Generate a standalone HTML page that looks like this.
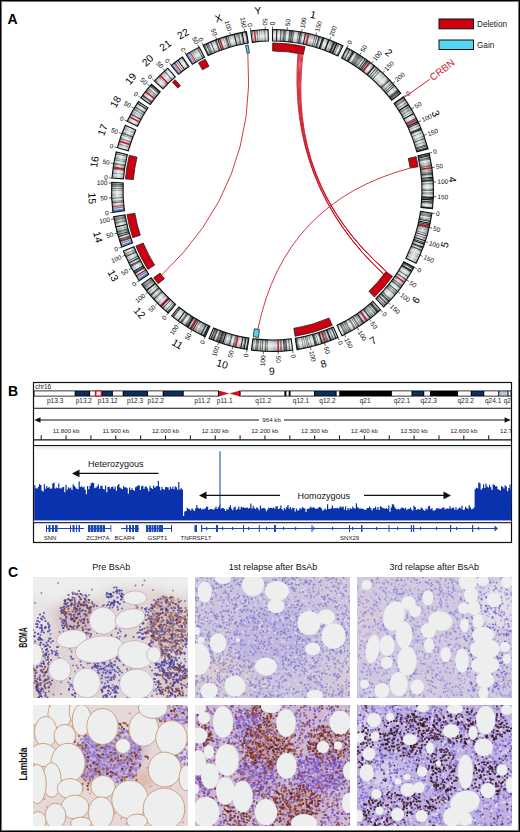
<!DOCTYPE html>
<html><head><meta charset="utf-8">
<style>
*{margin:0;padding:0;box-sizing:border-box}
html,body{width:520px;height:832px;overflow:hidden;background:#fff}
body{position:relative;font-family:"Liberation Sans",sans-serif;color:#111}
.frame{position:absolute;left:0;top:0;width:520px;height:832px;border:1px solid #000;box-shadow:inset 0 0 0 1px #777;z-index:10;pointer-events:none}
.lbl{position:absolute;font-weight:bold;font-size:14px;line-height:1;color:#000}
svg{position:absolute;left:0;top:0}
.ihc{position:absolute;width:155px;height:121px;overflow:hidden}
.hdr{position:absolute;font-size:8px;line-height:1;color:#111;white-space:nowrap}
</style></head><body>
<div class="frame"></div>
<div class="lbl" style="left:7.6px;top:11.5px">A</div>
<div class="lbl" style="left:8px;top:383.8px">B</div>
<div class="lbl" style="left:8px;top:565.3px">C</div>

<svg width="520" height="380" viewBox="0 0 520 380" font-family="Liberation Sans, sans-serif">
<defs><radialGradient id="ig" gradientUnits="userSpaceOnUse" cx="272.5" cy="190.5" r="161"><stop offset="0.928" stop-color="#7d8686"/><stop offset="0.945" stop-color="#b9c2c2"/><stop offset="0.962" stop-color="#e2e8e8"/><stop offset="0.985" stop-color="#aeb6b6"/><stop offset="1" stop-color="#7a8282"/></radialGradient></defs>
<path d="M272.50,29.50A161.0,161.0 0 0 1 342.95,45.73L337.91,56.07A149.5,149.5 0 0 0 272.50,41.00Z" fill="url(#ig)"/>
<g fill="#0a0c0c"><path d="M276.24,29.54A161.0,161.0 0 0 1 277.27,29.57L276.93,41.07A149.5,149.5 0 0 0 275.97,41.04Z" fill-opacity="0.97"/><path d="M280.30,29.69A161.0,161.0 0 0 1 280.95,29.72L280.35,41.21A149.5,149.5 0 0 0 279.74,41.18Z" fill-opacity="0.64"/><path d="M280.95,29.72A161.0,161.0 0 0 1 281.92,29.78L281.25,41.26A149.5,149.5 0 0 0 280.35,41.21Z" fill-opacity="0.37"/><path d="M282.85,29.83A161.0,161.0 0 0 1 283.39,29.87L282.61,41.34A149.5,149.5 0 0 0 282.11,41.31Z" fill-opacity="0.39"/><path d="M283.39,29.87A161.0,161.0 0 0 1 284.04,29.91L283.22,41.38A149.5,149.5 0 0 0 282.61,41.34Z" fill-opacity="0.39"/><path d="M284.04,29.91A161.0,161.0 0 0 1 284.69,29.96L283.82,41.43A149.5,149.5 0 0 0 283.22,41.38Z" fill-opacity="0.74"/><path d="M284.69,29.96A161.0,161.0 0 0 1 285.26,30.01L284.35,41.47A149.5,149.5 0 0 0 283.82,41.43Z" fill-opacity="0.41"/><path d="M285.26,30.01A161.0,161.0 0 0 1 286.57,30.12L285.57,41.57A149.5,149.5 0 0 0 284.35,41.47Z" fill-opacity="0.36"/><path d="M289.18,30.37A161.0,161.0 0 0 1 289.52,30.40L288.30,41.84A149.5,149.5 0 0 0 287.99,41.80Z" fill-opacity="0.45"/><path d="M289.52,30.40A161.0,161.0 0 0 1 290.47,30.51L289.19,41.93A149.5,149.5 0 0 0 288.30,41.84Z" fill-opacity="0.66"/><path d="M290.47,30.51A161.0,161.0 0 0 1 291.57,30.63L290.21,42.05A149.5,149.5 0 0 0 289.19,41.93Z" fill-opacity="0.42"/><path d="M291.57,30.63A161.0,161.0 0 0 1 292.39,30.73L290.97,42.15A149.5,149.5 0 0 0 290.21,42.05Z" fill-opacity="0.79"/><path d="M292.39,30.73A161.0,161.0 0 0 1 293.23,30.84L291.75,42.24A149.5,149.5 0 0 0 290.97,42.15Z" fill-opacity="0.31"/><path d="M293.23,30.84A161.0,161.0 0 0 1 294.34,30.99L292.78,42.38A149.5,149.5 0 0 0 291.75,42.24Z" fill-opacity="0.50"/><path d="M298.30,31.58A161.0,161.0 0 0 1 299.04,31.70L297.15,43.05A149.5,149.5 0 0 0 296.46,42.93Z" fill-opacity="0.62"/><path d="M299.85,31.84A161.0,161.0 0 0 1 301.16,32.07L299.11,43.39A149.5,149.5 0 0 0 297.90,43.17Z" fill-opacity="0.77"/><path d="M301.76,32.18A161.0,161.0 0 0 1 302.46,32.31L300.32,43.61A149.5,149.5 0 0 0 299.67,43.49Z" fill-opacity="0.79"/><path d="M305.21,32.86A161.0,161.0 0 0 1 306.14,33.05L303.74,44.30A149.5,149.5 0 0 0 302.87,44.12Z" fill-opacity="0.97"/><path d="M307.22,33.29A161.0,161.0 0 0 1 308.21,33.51L305.66,44.72A149.5,149.5 0 0 0 304.74,44.52Z" fill-opacity="0.31"/><path d="M308.21,33.51A161.0,161.0 0 0 1 309.52,33.81L306.88,45.01A149.5,149.5 0 0 0 305.66,44.72Z" fill-opacity="0.47"/><path d="M314.90,35.18A161.0,161.0 0 0 1 315.32,35.30L312.26,46.39A149.5,149.5 0 0 0 311.87,46.28Z" fill-opacity="0.80"/><path d="M316.51,35.63A161.0,161.0 0 0 1 317.09,35.80L313.90,46.85A149.5,149.5 0 0 0 313.37,46.69Z" fill-opacity="0.63"/><path d="M317.09,35.80A161.0,161.0 0 0 1 317.39,35.89L314.19,46.93A149.5,149.5 0 0 0 313.90,46.85Z" fill-opacity="0.97"/><path d="M318.58,36.24A161.0,161.0 0 0 1 319.96,36.65L316.57,47.64A149.5,149.5 0 0 0 315.29,47.25Z" fill-opacity="0.74"/><path d="M320.53,36.83A161.0,161.0 0 0 1 320.99,36.98L317.53,47.94A149.5,149.5 0 0 0 317.10,47.81Z" fill-opacity="0.41"/><path d="M322.14,37.34A161.0,161.0 0 0 1 323.32,37.73L319.69,48.64A149.5,149.5 0 0 0 318.59,48.28Z" fill-opacity="0.97"/><path d="M323.32,37.73A161.0,161.0 0 0 1 324.54,38.14L320.82,49.03A149.5,149.5 0 0 0 319.69,48.64Z" fill-opacity="0.76"/><path d="M328.21,39.45A161.0,161.0 0 0 1 329.52,39.93L325.44,50.69A149.5,149.5 0 0 0 324.23,50.24Z" fill-opacity="0.97"/><path d="M331.34,40.64A161.0,161.0 0 0 1 331.84,40.83L327.60,51.52A149.5,149.5 0 0 0 327.14,51.34Z" fill-opacity="0.48"/><path d="M333.02,41.31A161.0,161.0 0 0 1 334.00,41.71L329.61,52.34A149.5,149.5 0 0 0 328.70,51.97Z" fill-opacity="0.62"/><path d="M334.00,41.71A161.0,161.0 0 0 1 334.98,42.12L330.52,52.72A149.5,149.5 0 0 0 329.61,52.34Z" fill-opacity="0.97"/><path d="M334.98,42.12A161.0,161.0 0 0 1 336.10,42.59L331.55,53.16A149.5,149.5 0 0 0 330.52,52.72Z" fill-opacity="0.40"/><path d="M336.10,42.59A161.0,161.0 0 0 1 336.56,42.79L331.98,53.34A149.5,149.5 0 0 0 331.55,53.16Z" fill-opacity="0.67"/><path d="M336.56,42.79A161.0,161.0 0 0 1 337.68,43.29L333.03,53.80A149.5,149.5 0 0 0 331.98,53.34Z" fill-opacity="0.97"/><path d="M338.37,43.59A161.0,161.0 0 0 1 339.65,44.17L334.85,54.62A149.5,149.5 0 0 0 333.67,54.09Z" fill-opacity="0.33"/><path d="M341.17,44.88A161.0,161.0 0 0 1 342.47,45.50L337.47,55.86A149.5,149.5 0 0 0 336.26,55.28Z" fill-opacity="0.37"/></g>
<g fill="#f8fafa"><path d="M272.50,29.50A161.0,161.0 0 0 1 273.17,29.50L273.12,41.00A149.5,149.5 0 0 0 272.50,41.00Z" fill-opacity="0.51"/><path d="M273.55,29.50A161.0,161.0 0 0 1 274.27,29.51L274.14,41.01A149.5,149.5 0 0 0 273.47,41.00Z" fill-opacity="0.48"/><path d="M274.61,29.51A161.0,161.0 0 0 1 274.98,29.52L274.80,41.02A149.5,149.5 0 0 0 274.46,41.01Z" fill-opacity="0.46"/><path d="M274.98,29.52A161.0,161.0 0 0 1 276.24,29.54L275.97,41.04A149.5,149.5 0 0 0 274.80,41.02Z" fill-opacity="0.41"/><path d="M278.23,29.60A161.0,161.0 0 0 1 279.67,29.66L279.15,41.15A149.5,149.5 0 0 0 277.82,41.09Z" fill-opacity="0.56"/><path d="M279.67,29.66A161.0,161.0 0 0 1 280.30,29.69L279.74,41.18A149.5,149.5 0 0 0 279.15,41.15Z" fill-opacity="0.38"/><path d="M281.92,29.78A161.0,161.0 0 0 1 282.85,29.83L282.11,41.31A149.5,149.5 0 0 0 281.25,41.26Z" fill-opacity="0.36"/><path d="M286.57,30.12A161.0,161.0 0 0 1 288.01,30.25L286.90,41.70A149.5,149.5 0 0 0 285.57,41.57Z" fill-opacity="0.45"/><path d="M288.01,30.25A161.0,161.0 0 0 1 289.18,30.37L287.99,41.80A149.5,149.5 0 0 0 286.90,41.70Z" fill-opacity="0.47"/><path d="M294.34,30.99A161.0,161.0 0 0 1 295.58,31.16L293.93,42.54A149.5,149.5 0 0 0 292.78,42.38Z" fill-opacity="0.45"/><path d="M295.58,31.16A161.0,161.0 0 0 1 296.64,31.32L294.92,42.69A149.5,149.5 0 0 0 293.93,42.54Z" fill-opacity="0.47"/><path d="M296.64,31.32A161.0,161.0 0 0 1 297.13,31.39L295.37,42.76A149.5,149.5 0 0 0 294.92,42.69Z" fill-opacity="0.36"/><path d="M297.13,31.39A161.0,161.0 0 0 1 298.30,31.58L296.46,42.93A149.5,149.5 0 0 0 295.37,42.76Z" fill-opacity="0.41"/><path d="M302.46,32.31A161.0,161.0 0 0 1 302.92,32.40L300.75,43.69A149.5,149.5 0 0 0 300.32,43.61Z" fill-opacity="0.41"/><path d="M303.48,32.51A161.0,161.0 0 0 1 304.44,32.70L302.16,43.97A149.5,149.5 0 0 0 301.27,43.79Z" fill-opacity="0.35"/><path d="M310.71,34.10A161.0,161.0 0 0 1 311.45,34.28L308.67,45.44A149.5,149.5 0 0 0 307.98,45.27Z" fill-opacity="0.51"/><path d="M311.45,34.28A161.0,161.0 0 0 1 311.80,34.37L309.00,45.52A149.5,149.5 0 0 0 308.67,45.44Z" fill-opacity="0.40"/><path d="M311.80,34.37A161.0,161.0 0 0 1 312.27,34.49L309.43,45.63A149.5,149.5 0 0 0 309.00,45.52Z" fill-opacity="0.36"/><path d="M312.27,34.49A161.0,161.0 0 0 1 312.56,34.56L309.69,45.70A149.5,149.5 0 0 0 309.43,45.63Z" fill-opacity="0.38"/><path d="M312.56,34.56A161.0,161.0 0 0 1 313.25,34.74L310.34,45.87A149.5,149.5 0 0 0 309.69,45.70Z" fill-opacity="0.57"/><path d="M313.25,34.74A161.0,161.0 0 0 1 314.23,35.00L311.25,46.11A149.5,149.5 0 0 0 310.34,45.87Z" fill-opacity="0.41"/><path d="M316.13,35.52A161.0,161.0 0 0 1 316.51,35.63L313.37,46.69A149.5,149.5 0 0 0 313.01,46.59Z" fill-opacity="0.44"/><path d="M317.39,35.89A161.0,161.0 0 0 1 318.27,36.14L315.00,47.17A149.5,149.5 0 0 0 314.19,46.93Z" fill-opacity="0.49"/><path d="M320.99,36.98A161.0,161.0 0 0 1 322.14,37.34L318.59,48.28A149.5,149.5 0 0 0 317.53,47.94Z" fill-opacity="0.41"/><path d="M324.54,38.14A161.0,161.0 0 0 1 325.64,38.52L321.84,49.38A149.5,149.5 0 0 0 320.82,49.03Z" fill-opacity="0.48"/><path d="M325.64,38.52A161.0,161.0 0 0 1 326.30,38.76L322.46,49.60A149.5,149.5 0 0 0 321.84,49.38Z" fill-opacity="0.36"/><path d="M326.30,38.76A161.0,161.0 0 0 1 326.89,38.96L323.00,49.79A149.5,149.5 0 0 0 322.46,49.60Z" fill-opacity="0.52"/><path d="M330.83,40.44A161.0,161.0 0 0 1 331.34,40.64L327.14,51.34A149.5,149.5 0 0 0 326.67,51.16Z" fill-opacity="0.40"/><path d="M339.65,44.17A161.0,161.0 0 0 1 340.05,44.36L335.22,54.79A149.5,149.5 0 0 0 334.85,54.62Z" fill-opacity="0.58"/><path d="M340.05,44.36A161.0,161.0 0 0 1 341.17,44.88L336.26,55.28A149.5,149.5 0 0 0 335.22,54.79Z" fill-opacity="0.56"/><path d="M342.47,45.50A161.0,161.0 0 0 1 342.95,45.73L337.91,56.07A149.5,149.5 0 0 0 337.47,55.86Z" fill-opacity="0.35"/></g>
<path d="M308.98,33.69A161.0,161.0 0 0 1 313.86,34.90L310.91,46.02A149.5,149.5 0 0 0 306.37,44.89Z" fill="url(#ig)"/>
<path d="M308.01,33.47A161.0,161.0 0 0 1 309.49,33.81L306.85,45.00A149.5,149.5 0 0 0 305.47,44.68Z" fill="#d01424"/>
<path d="M272.50,29.50A161.0,161.0 0 0 1 342.95,45.73L337.91,56.07A149.5,149.5 0 0 0 272.50,41.00Z" fill="none" stroke="#111" stroke-width="1.1"/>
<path d="M346.89,47.72A161.0,161.0 0 0 1 400.81,93.24L391.64,100.19A149.5,149.5 0 0 0 341.58,57.92Z" fill="url(#ig)"/>
<g fill="#0a0c0c"><path d="M346.89,47.72A161.0,161.0 0 0 1 348.16,48.38L342.75,58.53A149.5,149.5 0 0 0 341.58,57.92Z" fill-opacity="0.41"/><path d="M349.38,49.04A161.0,161.0 0 0 1 350.53,49.67L344.95,59.73A149.5,149.5 0 0 0 343.88,59.14Z" fill-opacity="0.64"/><path d="M351.89,50.44A161.0,161.0 0 0 1 352.28,50.66L346.58,60.65A149.5,149.5 0 0 0 346.22,60.44Z" fill-opacity="0.97"/><path d="M352.89,51.01A161.0,161.0 0 0 1 353.74,51.50L347.93,61.43A149.5,149.5 0 0 0 347.15,60.97Z" fill-opacity="0.97"/><path d="M353.74,51.50A161.0,161.0 0 0 1 354.41,51.89L348.56,61.80A149.5,149.5 0 0 0 347.93,61.43Z" fill-opacity="0.97"/><path d="M356.80,53.33A161.0,161.0 0 0 1 357.77,53.93L351.68,63.69A149.5,149.5 0 0 0 350.78,63.13Z" fill-opacity="0.37"/><path d="M357.77,53.93A161.0,161.0 0 0 1 358.53,54.41L352.38,64.13A149.5,149.5 0 0 0 351.68,63.69Z" fill-opacity="0.46"/><path d="M358.53,54.41A161.0,161.0 0 0 1 358.88,54.64L352.71,64.34A149.5,149.5 0 0 0 352.38,64.13Z" fill-opacity="0.35"/><path d="M358.88,54.64A161.0,161.0 0 0 1 359.40,54.97L353.19,64.65A149.5,149.5 0 0 0 352.71,64.34Z" fill-opacity="0.40"/><path d="M359.40,54.97A161.0,161.0 0 0 1 360.20,55.48L353.93,65.13A149.5,149.5 0 0 0 353.19,64.65Z" fill-opacity="0.48"/><path d="M360.20,55.48A161.0,161.0 0 0 1 360.88,55.93L354.57,65.54A149.5,149.5 0 0 0 353.93,65.13Z" fill-opacity="0.40"/><path d="M360.88,55.93A161.0,161.0 0 0 1 361.62,56.42L355.26,65.99A149.5,149.5 0 0 0 354.57,65.54Z" fill-opacity="0.39"/><path d="M362.38,56.93A161.0,161.0 0 0 1 363.54,57.71L357.03,67.19A149.5,149.5 0 0 0 355.96,66.47Z" fill-opacity="0.48"/><path d="M364.68,58.50A161.0,161.0 0 0 1 365.83,59.31L359.16,68.68A149.5,149.5 0 0 0 358.10,67.93Z" fill-opacity="0.63"/><path d="M366.49,59.78A161.0,161.0 0 0 1 367.36,60.41L360.58,69.70A149.5,149.5 0 0 0 359.77,69.12Z" fill-opacity="0.78"/><path d="M367.36,60.41A161.0,161.0 0 0 1 367.74,60.69L360.94,69.96A149.5,149.5 0 0 0 360.58,69.70Z" fill-opacity="0.43"/><path d="M367.74,60.69A161.0,161.0 0 0 1 368.11,60.96L361.28,70.22A149.5,149.5 0 0 0 360.94,69.96Z" fill-opacity="0.79"/><path d="M368.11,60.96A161.0,161.0 0 0 1 368.55,61.29L361.69,70.52A149.5,149.5 0 0 0 361.28,70.22Z" fill-opacity="0.97"/><path d="M369.16,61.74A161.0,161.0 0 0 1 370.32,62.62L363.33,71.76A149.5,149.5 0 0 0 362.26,70.94Z" fill-opacity="0.63"/><path d="M373.82,65.38A161.0,161.0 0 0 1 374.10,65.61L366.84,74.53A149.5,149.5 0 0 0 366.58,74.31Z" fill-opacity="0.97"/><path d="M374.10,65.61A161.0,161.0 0 0 1 375.04,66.38L367.72,75.24A149.5,149.5 0 0 0 366.84,74.53Z" fill-opacity="0.97"/><path d="M376.28,67.42A161.0,161.0 0 0 1 376.88,67.92L369.43,76.68A149.5,149.5 0 0 0 368.87,76.21Z" fill-opacity="0.97"/><path d="M377.83,68.74A161.0,161.0 0 0 1 378.86,69.64L371.27,78.27A149.5,149.5 0 0 0 370.31,77.44Z" fill-opacity="0.44"/><path d="M379.75,70.43A161.0,161.0 0 0 1 380.52,71.12L372.81,79.65A149.5,149.5 0 0 0 372.09,79.00Z" fill-opacity="0.62"/><path d="M388.87,79.24A161.0,161.0 0 0 1 389.48,79.88L381.13,87.78A149.5,149.5 0 0 0 380.56,87.19Z" fill-opacity="0.50"/><path d="M389.48,79.88A161.0,161.0 0 0 1 389.96,80.39L381.57,88.25A149.5,149.5 0 0 0 381.13,87.78Z" fill-opacity="0.74"/><path d="M391.14,81.66A161.0,161.0 0 0 1 391.39,81.94L382.90,89.69A149.5,149.5 0 0 0 382.66,89.44Z" fill-opacity="0.35"/><path d="M391.72,82.30A161.0,161.0 0 0 1 392.59,83.27L384.02,90.93A149.5,149.5 0 0 0 383.20,90.02Z" fill-opacity="0.36"/><path d="M393.29,84.06A161.0,161.0 0 0 1 393.69,84.51L385.03,92.08A149.5,149.5 0 0 0 384.66,91.66Z" fill-opacity="0.97"/><path d="M394.63,85.59A161.0,161.0 0 0 1 395.00,86.03L386.25,93.49A149.5,149.5 0 0 0 385.90,93.08Z" fill-opacity="0.97"/><path d="M397.55,89.09A161.0,161.0 0 0 1 398.12,89.80L389.15,96.99A149.5,149.5 0 0 0 388.62,96.33Z" fill-opacity="0.43"/><path d="M398.12,89.80A161.0,161.0 0 0 1 398.82,90.68L389.80,97.81A149.5,149.5 0 0 0 389.15,96.99Z" fill-opacity="0.68"/><path d="M398.82,90.68A161.0,161.0 0 0 1 399.24,91.21L390.19,98.31A149.5,149.5 0 0 0 389.80,97.81Z" fill-opacity="0.97"/><path d="M399.24,91.21A161.0,161.0 0 0 1 399.53,91.58L390.46,98.65A149.5,149.5 0 0 0 390.19,98.31Z" fill-opacity="0.43"/><path d="M399.53,91.58A161.0,161.0 0 0 1 399.74,91.85L390.65,98.90A149.5,149.5 0 0 0 390.46,98.65Z" fill-opacity="0.78"/><path d="M399.74,91.85A161.0,161.0 0 0 1 400.37,92.67L391.23,99.66A149.5,149.5 0 0 0 390.65,98.90Z" fill-opacity="0.46"/><path d="M400.64,93.03A161.0,161.0 0 0 1 400.81,93.24L391.64,100.19A149.5,149.5 0 0 0 391.49,99.99Z" fill-opacity="0.76"/></g>
<g fill="#f8fafa"><path d="M350.53,49.67A161.0,161.0 0 0 1 351.04,49.96L345.43,59.99A149.5,149.5 0 0 0 344.95,59.73Z" fill-opacity="0.41"/><path d="M351.04,49.96A161.0,161.0 0 0 1 351.89,50.44L346.22,60.44A149.5,149.5 0 0 0 345.43,59.99Z" fill-opacity="0.45"/><path d="M355.17,52.34A161.0,161.0 0 0 1 355.94,52.81L349.98,62.65A149.5,149.5 0 0 0 349.26,62.21Z" fill-opacity="0.46"/><path d="M355.94,52.81A161.0,161.0 0 0 1 356.38,53.07L350.39,62.89A149.5,149.5 0 0 0 349.98,62.65Z" fill-opacity="0.55"/><path d="M363.54,57.71A161.0,161.0 0 0 1 364.68,58.50L358.10,67.93A149.5,149.5 0 0 0 357.03,67.19Z" fill-opacity="0.49"/><path d="M366.18,59.56A161.0,161.0 0 0 1 366.49,59.78L359.77,69.12A149.5,149.5 0 0 0 359.49,68.91Z" fill-opacity="0.37"/><path d="M370.95,63.11A161.0,161.0 0 0 1 371.49,63.53L364.42,72.60A149.5,149.5 0 0 0 363.92,72.21Z" fill-opacity="0.43"/><path d="M371.49,63.53A161.0,161.0 0 0 1 372.39,64.23L365.25,73.25A149.5,149.5 0 0 0 364.42,72.60Z" fill-opacity="0.49"/><path d="M372.39,64.23A161.0,161.0 0 0 1 373.02,64.74L365.84,73.72A149.5,149.5 0 0 0 365.25,73.25Z" fill-opacity="0.43"/><path d="M375.04,66.38A161.0,161.0 0 0 1 375.36,66.64L368.01,75.49A149.5,149.5 0 0 0 367.72,75.24Z" fill-opacity="0.36"/><path d="M375.36,66.64A161.0,161.0 0 0 1 376.28,67.42L368.87,76.21A149.5,149.5 0 0 0 368.01,75.49Z" fill-opacity="0.38"/><path d="M376.88,67.92A161.0,161.0 0 0 1 377.83,68.74L370.31,77.44A149.5,149.5 0 0 0 369.43,76.68Z" fill-opacity="0.39"/><path d="M378.86,69.64A161.0,161.0 0 0 1 379.16,69.90L371.54,78.52A149.5,149.5 0 0 0 371.27,78.27Z" fill-opacity="0.52"/><path d="M379.16,69.90A161.0,161.0 0 0 1 379.75,70.43L372.09,79.00A149.5,149.5 0 0 0 371.54,78.52Z" fill-opacity="0.58"/><path d="M380.52,71.12A161.0,161.0 0 0 1 381.48,71.99L373.69,80.46A149.5,149.5 0 0 0 372.81,79.65Z" fill-opacity="0.57"/><path d="M381.48,71.99A161.0,161.0 0 0 1 382.08,72.55L374.26,80.97A149.5,149.5 0 0 0 373.69,80.46Z" fill-opacity="0.49"/><path d="M382.08,72.55A161.0,161.0 0 0 1 383.09,73.49L375.19,81.85A149.5,149.5 0 0 0 374.26,80.97Z" fill-opacity="0.38"/><path d="M383.09,73.49A161.0,161.0 0 0 1 383.75,74.12L375.80,82.43A149.5,149.5 0 0 0 375.19,81.85Z" fill-opacity="0.38"/><path d="M383.75,74.12A161.0,161.0 0 0 1 384.09,74.45L376.12,82.74A149.5,149.5 0 0 0 375.80,82.43Z" fill-opacity="0.40"/><path d="M384.09,74.45A161.0,161.0 0 0 1 384.57,74.91L376.56,83.16A149.5,149.5 0 0 0 376.12,82.74Z" fill-opacity="0.54"/><path d="M385.02,75.35A161.0,161.0 0 0 1 385.38,75.70L377.32,83.90A149.5,149.5 0 0 0 376.98,83.57Z" fill-opacity="0.35"/><path d="M385.38,75.70A161.0,161.0 0 0 1 385.80,76.11L377.70,84.28A149.5,149.5 0 0 0 377.32,83.90Z" fill-opacity="0.53"/><path d="M385.80,76.11A161.0,161.0 0 0 1 386.46,76.77L378.32,84.89A149.5,149.5 0 0 0 377.70,84.28Z" fill-opacity="0.47"/><path d="M386.46,76.77A161.0,161.0 0 0 1 387.43,77.76L379.22,85.81A149.5,149.5 0 0 0 378.32,84.89Z" fill-opacity="0.55"/><path d="M390.66,81.15A161.0,161.0 0 0 1 391.14,81.66L382.66,89.44A149.5,149.5 0 0 0 382.22,88.96Z" fill-opacity="0.38"/><path d="M391.39,81.94A161.0,161.0 0 0 1 391.72,82.30L383.20,90.02A149.5,149.5 0 0 0 382.90,89.69Z" fill-opacity="0.56"/><path d="M392.59,83.27A161.0,161.0 0 0 1 392.98,83.70L384.37,91.33A149.5,149.5 0 0 0 384.02,90.93Z" fill-opacity="0.46"/><path d="M395.00,86.03A161.0,161.0 0 0 1 395.43,86.53L386.65,93.95A149.5,149.5 0 0 0 386.25,93.49Z" fill-opacity="0.35"/><path d="M395.90,87.09A161.0,161.0 0 0 1 396.47,87.77L387.61,95.11A149.5,149.5 0 0 0 387.09,94.48Z" fill-opacity="0.48"/><path d="M396.47,87.77A161.0,161.0 0 0 1 396.66,88.00L387.79,95.32A149.5,149.5 0 0 0 387.61,95.11Z" fill-opacity="0.37"/><path d="M396.66,88.00A161.0,161.0 0 0 1 397.14,88.59L388.24,95.87A149.5,149.5 0 0 0 387.79,95.32Z" fill-opacity="0.36"/><path d="M397.14,88.59A161.0,161.0 0 0 1 397.55,89.09L388.62,96.33A149.5,149.5 0 0 0 388.24,95.87Z" fill-opacity="0.50"/></g>
<path d="M369.31,61.86A161.0,161.0 0 0 1 370.52,62.78L363.52,71.90A149.5,149.5 0 0 0 362.39,71.04Z" fill="#d01424"/>
<path d="M346.89,47.72A161.0,161.0 0 0 1 400.81,93.24L391.64,100.19A149.5,149.5 0 0 0 341.58,57.92Z" fill="none" stroke="#111" stroke-width="1.1"/>
<path d="M403.43,96.80A161.0,161.0 0 0 1 428.03,148.90L416.92,151.87A149.5,149.5 0 0 0 394.07,103.49Z" fill="url(#ig)"/>
<g fill="#0a0c0c"><path d="M403.43,96.80A161.0,161.0 0 0 1 404.15,97.83L394.75,104.45A149.5,149.5 0 0 0 394.07,103.49Z" fill-opacity="0.48"/><path d="M404.15,97.83A161.0,161.0 0 0 1 404.78,98.72L395.33,105.28A149.5,149.5 0 0 0 394.75,104.45Z" fill-opacity="0.35"/><path d="M404.97,98.99A161.0,161.0 0 0 1 405.20,99.34L395.72,105.85A149.5,149.5 0 0 0 395.51,105.53Z" fill-opacity="0.71"/><path d="M405.20,99.34A161.0,161.0 0 0 1 405.78,100.18L396.26,106.63A149.5,149.5 0 0 0 395.72,105.85Z" fill-opacity="0.44"/><path d="M406.91,101.87A161.0,161.0 0 0 1 407.42,102.64L397.78,108.92A149.5,149.5 0 0 0 397.31,108.20Z" fill-opacity="0.31"/><path d="M408.04,103.61A161.0,161.0 0 0 1 408.37,104.12L398.66,110.29A149.5,149.5 0 0 0 398.36,109.82Z" fill-opacity="0.34"/><path d="M408.37,104.12A161.0,161.0 0 0 1 408.98,105.10L399.24,111.20A149.5,149.5 0 0 0 398.66,110.29Z" fill-opacity="0.97"/><path d="M409.44,105.84A161.0,161.0 0 0 1 409.89,106.57L400.08,112.56A149.5,149.5 0 0 0 399.66,111.89Z" fill-opacity="0.45"/><path d="M409.89,106.57A161.0,161.0 0 0 1 410.42,107.43L400.57,113.37A149.5,149.5 0 0 0 400.08,112.56Z" fill-opacity="0.32"/><path d="M410.66,107.83A161.0,161.0 0 0 1 410.99,108.39L401.10,114.25A149.5,149.5 0 0 0 400.79,113.74Z" fill-opacity="0.30"/><path d="M411.17,108.70A161.0,161.0 0 0 1 411.73,109.65L401.78,115.43A149.5,149.5 0 0 0 401.27,114.55Z" fill-opacity="0.36"/><path d="M412.59,111.16A161.0,161.0 0 0 1 412.85,111.62L402.83,117.25A149.5,149.5 0 0 0 402.59,116.83Z" fill-opacity="0.97"/><path d="M413.53,112.83A161.0,161.0 0 0 1 414.13,113.93L404.01,119.40A149.5,149.5 0 0 0 403.45,118.38Z" fill-opacity="0.97"/><path d="M416.02,117.55A161.0,161.0 0 0 1 416.42,118.34L406.14,123.49A149.5,149.5 0 0 0 405.77,122.76Z" fill-opacity="0.74"/><path d="M416.42,118.34A161.0,161.0 0 0 1 416.67,118.84L406.38,123.96A149.5,149.5 0 0 0 406.14,123.49Z" fill-opacity="0.70"/><path d="M417.48,120.49A161.0,161.0 0 0 1 417.61,120.76L407.24,125.74A149.5,149.5 0 0 0 407.13,125.49Z" fill-opacity="0.47"/><path d="M417.61,120.76A161.0,161.0 0 0 1 417.80,121.15L407.42,126.10A149.5,149.5 0 0 0 407.24,125.74Z" fill-opacity="0.97"/><path d="M417.80,121.15A161.0,161.0 0 0 1 418.28,122.17L407.87,127.05A149.5,149.5 0 0 0 407.42,126.10Z" fill-opacity="0.97"/><path d="M418.55,122.74A161.0,161.0 0 0 1 418.86,123.42L408.41,128.21A149.5,149.5 0 0 0 408.11,127.58Z" fill-opacity="0.97"/><path d="M419.59,125.04A161.0,161.0 0 0 1 419.76,125.42L409.24,130.06A149.5,149.5 0 0 0 409.08,129.71Z" fill-opacity="0.66"/><path d="M420.66,127.51A161.0,161.0 0 0 1 421.21,128.81L410.59,133.21A149.5,149.5 0 0 0 410.08,132.00Z" fill-opacity="0.76"/><path d="M421.21,128.81A161.0,161.0 0 0 1 421.60,129.76L410.95,134.10A149.5,149.5 0 0 0 410.59,133.21Z" fill-opacity="0.97"/><path d="M422.54,132.11A161.0,161.0 0 0 1 422.83,132.87L412.10,136.99A149.5,149.5 0 0 0 411.82,136.28Z" fill-opacity="0.43"/><path d="M423.95,135.87A161.0,161.0 0 0 1 424.17,136.48L413.33,140.34A149.5,149.5 0 0 0 413.13,139.77Z" fill-opacity="0.38"/><path d="M424.77,138.22A161.0,161.0 0 0 1 424.95,138.74L414.06,142.43A149.5,149.5 0 0 0 413.90,141.95Z" fill-opacity="0.97"/><path d="M425.77,141.21A161.0,161.0 0 0 1 425.95,141.78L414.99,145.26A149.5,149.5 0 0 0 414.82,144.73Z" fill-opacity="0.48"/><path d="M426.74,144.34A161.0,161.0 0 0 1 426.92,144.93L415.89,148.19A149.5,149.5 0 0 0 415.72,147.64Z" fill-opacity="0.97"/><path d="M427.04,145.35A161.0,161.0 0 0 1 427.33,146.34L416.27,149.50A149.5,149.5 0 0 0 416.00,148.58Z" fill-opacity="0.64"/><path d="M427.49,146.93A161.0,161.0 0 0 1 427.71,147.71L416.62,150.77A149.5,149.5 0 0 0 416.42,150.04Z" fill-opacity="0.97"/><path d="M427.71,147.71A161.0,161.0 0 0 1 428.03,148.90L416.92,151.87A149.5,149.5 0 0 0 416.62,150.77Z" fill-opacity="0.60"/></g>
<g fill="#f8fafa"><path d="M404.78,98.72A161.0,161.0 0 0 1 404.97,98.99L395.51,105.53A149.5,149.5 0 0 0 395.33,105.28Z" fill-opacity="0.44"/><path d="M405.78,100.18A161.0,161.0 0 0 1 406.26,100.90L396.71,107.30A149.5,149.5 0 0 0 396.26,106.63Z" fill-opacity="0.55"/><path d="M407.42,102.64A161.0,161.0 0 0 1 408.04,103.61L398.36,109.82A149.5,149.5 0 0 0 397.78,108.92Z" fill-opacity="0.37"/><path d="M410.42,107.43A161.0,161.0 0 0 1 410.66,107.83L400.79,113.74A149.5,149.5 0 0 0 400.57,113.37Z" fill-opacity="0.54"/><path d="M410.99,108.39A161.0,161.0 0 0 1 411.17,108.70L401.27,114.55A149.5,149.5 0 0 0 401.10,114.25Z" fill-opacity="0.52"/><path d="M412.18,110.43A161.0,161.0 0 0 1 412.59,111.16L402.59,116.83A149.5,149.5 0 0 0 402.20,116.15Z" fill-opacity="0.57"/><path d="M412.85,111.62A161.0,161.0 0 0 1 413.53,112.83L403.45,118.38A149.5,149.5 0 0 0 402.83,117.25Z" fill-opacity="0.46"/><path d="M414.13,113.93A161.0,161.0 0 0 1 414.51,114.65L404.37,120.07A149.5,149.5 0 0 0 404.01,119.40Z" fill-opacity="0.40"/><path d="M414.51,114.65A161.0,161.0 0 0 1 415.17,115.89L404.98,121.22A149.5,149.5 0 0 0 404.37,120.07Z" fill-opacity="0.50"/><path d="M415.38,116.29A161.0,161.0 0 0 1 416.02,117.55L405.77,122.76A149.5,149.5 0 0 0 405.17,121.59Z" fill-opacity="0.56"/><path d="M416.67,118.84A161.0,161.0 0 0 1 416.82,119.13L406.51,124.23A149.5,149.5 0 0 0 406.38,123.96Z" fill-opacity="0.47"/><path d="M416.82,119.13A161.0,161.0 0 0 1 417.18,119.87L406.84,124.91A149.5,149.5 0 0 0 406.51,124.23Z" fill-opacity="0.39"/><path d="M417.18,119.87A161.0,161.0 0 0 1 417.48,120.49L407.13,125.49A149.5,149.5 0 0 0 406.84,124.91Z" fill-opacity="0.56"/><path d="M419.27,124.32A161.0,161.0 0 0 1 419.59,125.04L409.08,129.71A149.5,149.5 0 0 0 408.78,129.04Z" fill-opacity="0.36"/><path d="M419.76,125.42A161.0,161.0 0 0 1 420.31,126.69L409.76,131.24A149.5,149.5 0 0 0 409.24,130.06Z" fill-opacity="0.42"/><path d="M420.31,126.69A161.0,161.0 0 0 1 420.66,127.51L410.08,132.00A149.5,149.5 0 0 0 409.76,131.24Z" fill-opacity="0.44"/><path d="M422.12,131.05A161.0,161.0 0 0 1 422.54,132.11L411.82,136.28A149.5,149.5 0 0 0 411.44,135.30Z" fill-opacity="0.53"/><path d="M422.83,132.87A161.0,161.0 0 0 1 423.06,133.46L412.30,137.53A149.5,149.5 0 0 0 412.10,136.99Z" fill-opacity="0.58"/><path d="M423.21,133.87A161.0,161.0 0 0 1 423.46,134.52L412.67,138.52A149.5,149.5 0 0 0 412.45,137.92Z" fill-opacity="0.53"/><path d="M423.46,134.52A161.0,161.0 0 0 1 423.95,135.87L413.13,139.77A149.5,149.5 0 0 0 412.67,138.52Z" fill-opacity="0.51"/><path d="M424.17,136.48A161.0,161.0 0 0 1 424.33,136.94L413.48,140.76A149.5,149.5 0 0 0 413.33,140.34Z" fill-opacity="0.40"/><path d="M425.41,140.12A161.0,161.0 0 0 1 425.56,140.55L414.62,144.12A149.5,149.5 0 0 0 414.49,143.72Z" fill-opacity="0.37"/><path d="M425.56,140.55A161.0,161.0 0 0 1 425.77,141.21L414.82,144.73A149.5,149.5 0 0 0 414.62,144.12Z" fill-opacity="0.41"/><path d="M426.53,143.64A161.0,161.0 0 0 1 426.74,144.34L415.72,147.64A149.5,149.5 0 0 0 415.53,146.98Z" fill-opacity="0.37"/><path d="M427.33,146.34A161.0,161.0 0 0 1 427.49,146.93L416.42,150.04A149.5,149.5 0 0 0 416.27,149.50Z" fill-opacity="0.45"/></g>
<path d="M416.73,118.95A161.0,161.0 0 0 1 417.40,120.31L407.05,125.33A149.5,149.5 0 0 0 406.42,124.06Z" fill="#d01424"/>
<path d="M403.43,96.80A161.0,161.0 0 0 1 428.03,148.90L416.92,151.87A149.5,149.5 0 0 0 394.07,103.49Z" fill="none" stroke="#111" stroke-width="1.1"/>
<path d="M429.11,153.18A161.0,161.0 0 0 1 432.47,208.72L421.04,207.42A149.5,149.5 0 0 0 417.93,155.85Z" fill="url(#ig)"/>
<g fill="#0a0c0c"><path d="M429.11,153.18A161.0,161.0 0 0 1 429.19,153.50L418.00,156.14A149.5,149.5 0 0 0 417.93,155.85Z" fill-opacity="0.48"/><path d="M429.19,153.50A161.0,161.0 0 0 1 429.38,154.33L418.18,156.91A149.5,149.5 0 0 0 418.00,156.14Z" fill-opacity="0.30"/><path d="M429.38,154.33A161.0,161.0 0 0 1 429.55,155.06L418.33,157.59A149.5,149.5 0 0 0 418.18,156.91Z" fill-opacity="0.97"/><path d="M429.55,155.06A161.0,161.0 0 0 1 429.82,156.29L418.59,158.73A149.5,149.5 0 0 0 418.33,157.59Z" fill-opacity="0.79"/><path d="M429.95,156.86A161.0,161.0 0 0 1 430.13,157.74L418.87,160.08A149.5,149.5 0 0 0 418.70,159.26Z" fill-opacity="0.49"/><path d="M430.13,157.74A161.0,161.0 0 0 1 430.36,158.85L419.08,161.12A149.5,149.5 0 0 0 418.87,160.08Z" fill-opacity="0.45"/><path d="M430.36,158.85A161.0,161.0 0 0 1 430.52,159.67L419.23,161.87A149.5,149.5 0 0 0 419.08,161.12Z" fill-opacity="0.31"/><path d="M430.94,161.88A161.0,161.0 0 0 1 431.04,162.46L419.72,164.46A149.5,149.5 0 0 0 419.62,163.93Z" fill-opacity="0.44"/><path d="M431.28,163.84A161.0,161.0 0 0 1 431.37,164.39L420.02,166.25A149.5,149.5 0 0 0 419.94,165.74Z" fill-opacity="0.30"/><path d="M431.47,165.02A161.0,161.0 0 0 1 431.69,166.42L420.32,168.14A149.5,149.5 0 0 0 420.12,166.84Z" fill-opacity="0.48"/><path d="M431.81,167.26A161.0,161.0 0 0 1 432.01,168.66L420.62,170.22A149.5,149.5 0 0 0 420.43,168.92Z" fill-opacity="0.36"/><path d="M432.20,170.05A161.0,161.0 0 0 1 432.27,170.64L420.86,172.06A149.5,149.5 0 0 0 420.79,171.51Z" fill-opacity="0.49"/><path d="M432.34,171.19A161.0,161.0 0 0 1 432.43,171.97L421.01,173.30A149.5,149.5 0 0 0 420.92,172.57Z" fill-opacity="0.34"/><path d="M432.43,171.97A161.0,161.0 0 0 1 432.57,173.19L421.13,174.43A149.5,149.5 0 0 0 421.01,173.30Z" fill-opacity="0.40"/><path d="M432.57,173.19A161.0,161.0 0 0 1 432.62,173.72L421.19,174.92A149.5,149.5 0 0 0 421.13,174.43Z" fill-opacity="0.97"/><path d="M432.62,173.72A161.0,161.0 0 0 1 432.69,174.37L421.25,175.53A149.5,149.5 0 0 0 421.19,174.92Z" fill-opacity="0.65"/><path d="M432.69,174.37A161.0,161.0 0 0 1 432.74,174.92L421.30,176.04A149.5,149.5 0 0 0 421.25,175.53Z" fill-opacity="0.36"/><path d="M432.92,176.83A161.0,161.0 0 0 1 433.01,177.90L421.54,178.80A149.5,149.5 0 0 0 421.46,177.81Z" fill-opacity="0.97"/><path d="M433.04,178.36A161.0,161.0 0 0 1 433.08,178.90L421.61,179.73A149.5,149.5 0 0 0 421.57,179.23Z" fill-opacity="0.97"/><path d="M433.11,179.36A161.0,161.0 0 0 1 433.16,180.11L421.69,180.85A149.5,149.5 0 0 0 421.64,180.16Z" fill-opacity="0.78"/><path d="M433.16,180.11A161.0,161.0 0 0 1 433.23,181.26L421.75,181.92A149.5,149.5 0 0 0 421.69,180.85Z" fill-opacity="0.97"/><path d="M433.31,182.64A161.0,161.0 0 0 1 433.37,184.03L421.88,184.49A149.5,149.5 0 0 0 421.82,183.20Z" fill-opacity="0.31"/><path d="M433.50,189.67A161.0,161.0 0 0 1 433.50,190.40L422.00,190.41A149.5,149.5 0 0 0 422.00,189.73Z" fill-opacity="0.97"/><path d="M433.49,192.26A161.0,161.0 0 0 1 433.47,193.50L421.97,193.29A149.5,149.5 0 0 0 421.99,192.13Z" fill-opacity="0.31"/><path d="M433.47,193.84A161.0,161.0 0 0 1 433.45,194.43L421.96,194.15A149.5,149.5 0 0 0 421.97,193.60Z" fill-opacity="0.48"/><path d="M433.38,196.79A161.0,161.0 0 0 1 433.33,197.97L421.84,197.44A149.5,149.5 0 0 0 421.89,196.34Z" fill-opacity="0.97"/><path d="M433.33,197.97A161.0,161.0 0 0 1 433.28,199.00L421.79,198.40A149.5,149.5 0 0 0 421.84,197.44Z" fill-opacity="0.97"/><path d="M433.26,199.32A161.0,161.0 0 0 1 433.17,200.73L421.70,200.00A149.5,149.5 0 0 0 421.78,198.69Z" fill-opacity="0.97"/><path d="M433.13,201.48A161.0,161.0 0 0 1 433.06,202.34L421.59,201.50A149.5,149.5 0 0 0 421.65,200.69Z" fill-opacity="0.97"/><path d="M433.06,202.34A161.0,161.0 0 0 1 433.03,202.85L421.56,201.97A149.5,149.5 0 0 0 421.59,201.50Z" fill-opacity="0.75"/><path d="M433.03,202.85A161.0,161.0 0 0 1 432.92,204.10L421.47,203.13A149.5,149.5 0 0 0 421.56,201.97Z" fill-opacity="0.42"/><path d="M432.64,207.14A161.0,161.0 0 0 1 432.60,207.47L421.17,206.26A149.5,149.5 0 0 0 421.20,205.96Z" fill-opacity="0.37"/><path d="M432.60,207.47A161.0,161.0 0 0 1 432.47,208.72L421.04,207.42A149.5,149.5 0 0 0 421.17,206.26Z" fill-opacity="0.80"/></g>
<g fill="#f8fafa"><path d="M429.82,156.29A161.0,161.0 0 0 1 429.95,156.86L418.70,159.26A149.5,149.5 0 0 0 418.59,158.73Z" fill-opacity="0.39"/><path d="M430.52,159.67A161.0,161.0 0 0 1 430.75,160.85L419.44,162.97A149.5,149.5 0 0 0 419.23,161.87Z" fill-opacity="0.58"/><path d="M430.75,160.85A161.0,161.0 0 0 1 430.94,161.88L419.62,163.93A149.5,149.5 0 0 0 419.44,162.97Z" fill-opacity="0.38"/><path d="M431.04,162.46A161.0,161.0 0 0 1 431.11,162.88L419.78,164.85A149.5,149.5 0 0 0 419.72,164.46Z" fill-opacity="0.48"/><path d="M431.69,166.42A161.0,161.0 0 0 1 431.81,167.26L420.43,168.92A149.5,149.5 0 0 0 420.32,168.14Z" fill-opacity="0.41"/><path d="M432.27,170.64A161.0,161.0 0 0 1 432.34,171.19L420.92,172.57A149.5,149.5 0 0 0 420.86,172.06Z" fill-opacity="0.43"/><path d="M432.87,176.32A161.0,161.0 0 0 1 432.92,176.83L421.46,177.81A149.5,149.5 0 0 0 421.42,177.34Z" fill-opacity="0.45"/><path d="M433.08,178.90A161.0,161.0 0 0 1 433.11,179.36L421.64,180.16A149.5,149.5 0 0 0 421.61,179.73Z" fill-opacity="0.37"/><path d="M433.23,181.26A161.0,161.0 0 0 1 433.31,182.64L421.82,183.20A149.5,149.5 0 0 0 421.75,181.92Z" fill-opacity="0.40"/><path d="M433.41,185.10A161.0,161.0 0 0 1 433.43,185.83L421.94,186.16A149.5,149.5 0 0 0 421.92,185.48Z" fill-opacity="0.39"/><path d="M433.43,185.83A161.0,161.0 0 0 1 433.44,186.12L421.94,186.43A149.5,149.5 0 0 0 421.94,186.16Z" fill-opacity="0.44"/><path d="M433.44,186.12A161.0,161.0 0 0 1 433.47,187.53L421.97,187.74A149.5,149.5 0 0 0 421.94,186.43Z" fill-opacity="0.59"/><path d="M433.47,187.53A161.0,161.0 0 0 1 433.48,188.07L421.98,188.24A149.5,149.5 0 0 0 421.97,187.74Z" fill-opacity="0.56"/><path d="M433.50,190.92A161.0,161.0 0 0 1 433.49,192.26L421.99,192.13A149.5,149.5 0 0 0 422.00,190.89Z" fill-opacity="0.45"/><path d="M433.47,193.50A161.0,161.0 0 0 1 433.47,193.84L421.97,193.60A149.5,149.5 0 0 0 421.97,193.29Z" fill-opacity="0.58"/><path d="M433.45,194.43A161.0,161.0 0 0 1 433.43,195.12L421.94,194.79A149.5,149.5 0 0 0 421.96,194.15Z" fill-opacity="0.59"/><path d="M433.43,195.12A161.0,161.0 0 0 1 433.40,196.13L421.91,195.73A149.5,149.5 0 0 0 421.94,194.79Z" fill-opacity="0.53"/><path d="M433.40,196.13A161.0,161.0 0 0 1 433.38,196.79L421.89,196.34A149.5,149.5 0 0 0 421.91,195.73Z" fill-opacity="0.35"/><path d="M433.28,199.00A161.0,161.0 0 0 1 433.26,199.32L421.78,198.69A149.5,149.5 0 0 0 421.79,198.40Z" fill-opacity="0.47"/><path d="M433.17,200.73A161.0,161.0 0 0 1 433.13,201.48L421.65,200.69A149.5,149.5 0 0 0 421.70,200.00Z" fill-opacity="0.46"/><path d="M432.92,204.10A161.0,161.0 0 0 1 432.87,204.77L421.41,203.75A149.5,149.5 0 0 0 421.47,203.13Z" fill-opacity="0.44"/><path d="M432.87,204.77A161.0,161.0 0 0 1 432.75,205.98L421.31,204.87A149.5,149.5 0 0 0 421.41,203.75Z" fill-opacity="0.40"/><path d="M432.75,205.98A161.0,161.0 0 0 1 432.64,207.14L421.20,205.96A149.5,149.5 0 0 0 421.31,204.87Z" fill-opacity="0.37"/></g>
<path d="M431.76,166.91A161.0,161.0 0 0 1 431.98,168.41L420.59,169.99A149.5,149.5 0 0 0 420.39,168.59Z" fill="#d01424"/>
<path d="M429.11,153.18A161.0,161.0 0 0 1 432.47,208.72L421.04,207.42A149.5,149.5 0 0 0 417.93,155.85Z" fill="none" stroke="#111" stroke-width="1.1"/>
<path d="M431.91,213.10A161.0,161.0 0 0 1 416.08,263.35L405.82,258.15A149.5,149.5 0 0 0 420.52,211.48Z" fill="url(#ig)"/>
<g fill="#0a0c0c"><path d="M431.82,213.69A161.0,161.0 0 0 1 431.69,214.56L420.32,212.84A149.5,149.5 0 0 0 420.44,212.04Z" fill-opacity="0.39"/><path d="M431.61,215.12A161.0,161.0 0 0 1 431.45,216.13L420.09,214.30A149.5,149.5 0 0 0 420.24,213.36Z" fill-opacity="0.45"/><path d="M431.45,216.13A161.0,161.0 0 0 1 431.24,217.39L419.90,215.47A149.5,149.5 0 0 0 420.09,214.30Z" fill-opacity="0.32"/><path d="M431.02,218.65A161.0,161.0 0 0 1 430.89,219.37L419.58,217.31A149.5,149.5 0 0 0 419.70,216.64Z" fill-opacity="0.34"/><path d="M430.79,219.94A161.0,161.0 0 0 1 430.54,221.24L419.25,219.05A149.5,149.5 0 0 0 419.48,217.84Z" fill-opacity="0.37"/><path d="M430.54,221.24A161.0,161.0 0 0 1 430.39,221.99L419.11,219.74A149.5,149.5 0 0 0 419.25,219.05Z" fill-opacity="0.97"/><path d="M430.22,222.85A161.0,161.0 0 0 1 430.00,223.89L418.75,221.50A149.5,149.5 0 0 0 418.95,220.54Z" fill-opacity="0.97"/><path d="M429.91,224.29A161.0,161.0 0 0 1 429.65,225.51L418.42,223.01A149.5,149.5 0 0 0 418.67,221.88Z" fill-opacity="0.78"/><path d="M429.57,225.85A161.0,161.0 0 0 1 429.46,226.35L418.25,223.79A149.5,149.5 0 0 0 418.35,223.32Z" fill-opacity="0.97"/><path d="M429.46,226.35A161.0,161.0 0 0 1 429.24,227.30L418.04,224.67A149.5,149.5 0 0 0 418.25,223.79Z" fill-opacity="0.97"/><path d="M429.24,227.30A161.0,161.0 0 0 1 429.07,228.01L417.89,225.33A149.5,149.5 0 0 0 418.04,224.67Z" fill-opacity="0.69"/><path d="M429.07,228.01A161.0,161.0 0 0 1 428.93,228.59L417.76,225.87A149.5,149.5 0 0 0 417.89,225.33Z" fill-opacity="0.49"/><path d="M428.93,228.59A161.0,161.0 0 0 1 428.83,228.99L417.66,226.24A149.5,149.5 0 0 0 417.76,225.87Z" fill-opacity="0.42"/><path d="M428.59,229.97A161.0,161.0 0 0 1 428.34,230.93L417.21,228.04A149.5,149.5 0 0 0 417.44,227.15Z" fill-opacity="0.34"/><path d="M427.72,233.25A161.0,161.0 0 0 1 427.47,234.15L416.40,231.04A149.5,149.5 0 0 0 416.63,230.20Z" fill-opacity="0.32"/><path d="M427.47,234.15A161.0,161.0 0 0 1 427.34,234.62L416.28,231.47A149.5,149.5 0 0 0 416.40,231.04Z" fill-opacity="0.38"/><path d="M427.16,235.22A161.0,161.0 0 0 1 426.98,235.85L415.95,232.61A149.5,149.5 0 0 0 416.12,232.03Z" fill-opacity="0.37"/><path d="M426.98,235.85A161.0,161.0 0 0 1 426.76,236.60L415.74,233.31A149.5,149.5 0 0 0 415.95,232.61Z" fill-opacity="0.80"/><path d="M426.40,237.79A161.0,161.0 0 0 1 426.16,238.55L415.19,235.12A149.5,149.5 0 0 0 415.40,234.42Z" fill-opacity="0.68"/><path d="M425.61,240.27A161.0,161.0 0 0 1 425.29,241.26L414.38,237.63A149.5,149.5 0 0 0 414.68,236.72Z" fill-opacity="0.97"/><path d="M425.29,241.26A161.0,161.0 0 0 1 425.16,241.64L414.26,237.98A149.5,149.5 0 0 0 414.38,237.63Z" fill-opacity="0.37"/><path d="M424.88,242.47A161.0,161.0 0 0 1 424.59,243.33L413.72,239.55A149.5,149.5 0 0 0 414.00,238.76Z" fill-opacity="0.97"/><path d="M424.45,243.72A161.0,161.0 0 0 1 424.04,244.89L413.21,241.00A149.5,149.5 0 0 0 413.60,239.92Z" fill-opacity="0.97"/><path d="M423.36,246.72A161.0,161.0 0 0 1 423.24,247.06L412.47,243.02A149.5,149.5 0 0 0 412.59,242.71Z" fill-opacity="0.97"/><path d="M423.24,247.06A161.0,161.0 0 0 1 422.98,247.75L412.23,243.67A149.5,149.5 0 0 0 412.47,243.02Z" fill-opacity="0.97"/><path d="M422.98,247.75A161.0,161.0 0 0 1 422.61,248.71L411.89,244.55A149.5,149.5 0 0 0 412.23,243.67Z" fill-opacity="0.63"/><path d="M422.17,249.83A161.0,161.0 0 0 1 421.69,251.02L411.03,246.70A149.5,149.5 0 0 0 411.48,245.60Z" fill-opacity="0.64"/><path d="M419.98,255.08A161.0,161.0 0 0 1 419.81,255.48L409.28,250.84A149.5,149.5 0 0 0 409.44,250.47Z" fill-opacity="0.41"/><path d="M416.33,262.85A161.0,161.0 0 0 1 416.15,263.19L405.89,258.00A149.5,149.5 0 0 0 406.06,257.68Z" fill-opacity="0.46"/></g>
<g fill="#f8fafa"><path d="M431.91,213.10A161.0,161.0 0 0 1 431.82,213.69L420.44,212.04A149.5,149.5 0 0 0 420.52,211.48Z" fill-opacity="0.37"/><path d="M431.24,217.39A161.0,161.0 0 0 1 431.02,218.65L419.70,216.64A149.5,149.5 0 0 0 419.90,215.47Z" fill-opacity="0.49"/><path d="M430.89,219.37A161.0,161.0 0 0 1 430.79,219.94L419.48,217.84A149.5,149.5 0 0 0 419.58,217.31Z" fill-opacity="0.39"/><path d="M430.39,221.99A161.0,161.0 0 0 1 430.22,222.85L418.95,220.54A149.5,149.5 0 0 0 419.11,219.74Z" fill-opacity="0.55"/><path d="M429.65,225.51A161.0,161.0 0 0 1 429.57,225.85L418.35,223.32A149.5,149.5 0 0 0 418.42,223.01Z" fill-opacity="0.38"/><path d="M428.70,229.52A161.0,161.0 0 0 1 428.59,229.97L417.44,227.15A149.5,149.5 0 0 0 417.54,226.73Z" fill-opacity="0.41"/><path d="M428.34,230.93A161.0,161.0 0 0 1 428.26,231.22L417.14,228.32A149.5,149.5 0 0 0 417.21,228.04Z" fill-opacity="0.52"/><path d="M428.26,231.22A161.0,161.0 0 0 1 428.13,231.72L417.02,228.77A149.5,149.5 0 0 0 417.14,228.32Z" fill-opacity="0.40"/><path d="M427.82,232.90A161.0,161.0 0 0 1 427.72,233.25L416.63,230.20A149.5,149.5 0 0 0 416.72,229.87Z" fill-opacity="0.45"/><path d="M427.34,234.62A161.0,161.0 0 0 1 427.16,235.22L416.12,232.03A149.5,149.5 0 0 0 416.28,231.47Z" fill-opacity="0.59"/><path d="M426.76,236.60A161.0,161.0 0 0 1 426.55,237.29L415.55,233.94A149.5,149.5 0 0 0 415.74,233.31Z" fill-opacity="0.53"/><path d="M426.55,237.29A161.0,161.0 0 0 1 426.40,237.79L415.40,234.42A149.5,149.5 0 0 0 415.55,233.94Z" fill-opacity="0.58"/><path d="M425.76,239.81A161.0,161.0 0 0 1 425.61,240.27L414.68,236.72A149.5,149.5 0 0 0 414.82,236.29Z" fill-opacity="0.49"/><path d="M425.16,241.64A161.0,161.0 0 0 1 424.88,242.47L414.00,238.76A149.5,149.5 0 0 0 414.26,237.98Z" fill-opacity="0.42"/><path d="M424.04,244.89A161.0,161.0 0 0 1 423.86,245.38L413.05,241.46A149.5,149.5 0 0 0 413.21,241.00Z" fill-opacity="0.59"/><path d="M422.61,248.71A161.0,161.0 0 0 1 422.17,249.83L411.48,245.60A149.5,149.5 0 0 0 411.89,244.55Z" fill-opacity="0.45"/><path d="M421.14,252.36A161.0,161.0 0 0 1 420.97,252.77L410.37,248.32A149.5,149.5 0 0 0 410.52,247.94Z" fill-opacity="0.53"/><path d="M420.97,252.77A161.0,161.0 0 0 1 420.45,254.00L409.88,249.47A149.5,149.5 0 0 0 410.37,248.32Z" fill-opacity="0.49"/><path d="M420.45,254.00A161.0,161.0 0 0 1 419.98,255.08L409.44,250.47A149.5,149.5 0 0 0 409.88,249.47Z" fill-opacity="0.56"/><path d="M419.81,255.48A161.0,161.0 0 0 1 419.39,256.41L408.90,251.71A149.5,149.5 0 0 0 409.28,250.84Z" fill-opacity="0.46"/><path d="M418.54,258.27A161.0,161.0 0 0 1 418.20,259.00L407.79,254.10A149.5,149.5 0 0 0 408.11,253.43Z" fill-opacity="0.50"/><path d="M418.20,259.00A161.0,161.0 0 0 1 417.83,259.78L407.45,254.83A149.5,149.5 0 0 0 407.79,254.10Z" fill-opacity="0.54"/><path d="M417.09,261.32A161.0,161.0 0 0 1 416.90,261.69L406.59,256.61A149.5,149.5 0 0 0 406.76,256.26Z" fill-opacity="0.46"/><path d="M416.73,262.05A161.0,161.0 0 0 1 416.33,262.85L406.06,257.68A149.5,149.5 0 0 0 406.43,256.94Z" fill-opacity="0.51"/><path d="M416.15,263.19A161.0,161.0 0 0 1 416.08,263.35L405.82,258.15A149.5,149.5 0 0 0 405.89,258.00Z" fill-opacity="0.48"/></g>
<path d="M429.48,226.27A161.0,161.0 0 0 1 429.13,227.75L417.94,225.09A149.5,149.5 0 0 0 418.26,223.72Z" fill="#d01424"/>
<path d="M431.91,213.10A161.0,161.0 0 0 1 416.08,263.35L405.82,258.15A149.5,149.5 0 0 0 420.52,211.48Z" fill="none" stroke="#111" stroke-width="1.1"/>
<path d="M414.02,267.26A161.0,161.0 0 0 1 383.76,306.88L375.81,298.56A149.5,149.5 0 0 0 403.91,261.78Z" fill="url(#ig)"/>
<g fill="#0a0c0c"><path d="M414.02,267.26A161.0,161.0 0 0 1 413.67,267.91L403.59,262.38A149.5,149.5 0 0 0 403.91,261.78Z" fill-opacity="0.97"/><path d="M413.67,267.91A161.0,161.0 0 0 1 413.45,268.30L403.39,262.74A149.5,149.5 0 0 0 403.59,262.38Z" fill-opacity="0.80"/><path d="M413.45,268.30A161.0,161.0 0 0 1 412.89,269.31L402.87,263.68A149.5,149.5 0 0 0 403.39,262.74Z" fill-opacity="0.64"/><path d="M412.18,270.56A161.0,161.0 0 0 1 411.48,271.78L401.55,265.98A149.5,149.5 0 0 0 402.21,264.84Z" fill-opacity="0.97"/><path d="M411.48,271.78A161.0,161.0 0 0 1 411.23,272.20L401.32,266.36A149.5,149.5 0 0 0 401.55,265.98Z" fill-opacity="0.79"/><path d="M411.04,272.52A161.0,161.0 0 0 1 410.80,272.93L400.92,267.04A149.5,149.5 0 0 0 401.15,266.66Z" fill-opacity="0.65"/><path d="M408.70,276.34A161.0,161.0 0 0 1 408.12,277.26L398.43,271.07A149.5,149.5 0 0 0 398.98,270.21Z" fill-opacity="0.63"/><path d="M406.90,279.15A161.0,161.0 0 0 1 406.38,279.93L396.81,273.54A149.5,149.5 0 0 0 397.30,272.82Z" fill-opacity="0.48"/><path d="M406.38,279.93A161.0,161.0 0 0 1 406.15,280.28L396.60,273.86A149.5,149.5 0 0 0 396.81,273.54Z" fill-opacity="0.97"/><path d="M403.64,283.90A161.0,161.0 0 0 1 403.35,284.31L394.00,277.61A149.5,149.5 0 0 0 394.27,277.23Z" fill-opacity="0.31"/><path d="M402.61,285.33A161.0,161.0 0 0 1 401.76,286.49L392.52,279.63A149.5,149.5 0 0 0 393.32,278.55Z" fill-opacity="0.43"/><path d="M401.36,287.02A161.0,161.0 0 0 1 401.08,287.39L391.90,280.47A149.5,149.5 0 0 0 392.16,280.12Z" fill-opacity="0.39"/><path d="M401.08,287.39A161.0,161.0 0 0 1 400.54,288.10L391.40,281.13A149.5,149.5 0 0 0 391.90,280.47Z" fill-opacity="0.63"/><path d="M400.54,288.10A161.0,161.0 0 0 1 400.20,288.54L391.08,281.54A149.5,149.5 0 0 0 391.40,281.13Z" fill-opacity="0.30"/><path d="M398.10,291.23A161.0,161.0 0 0 1 397.44,292.04L388.52,284.79A149.5,149.5 0 0 0 389.13,284.04Z" fill-opacity="0.76"/><path d="M396.96,292.63A161.0,161.0 0 0 1 396.29,293.44L387.45,286.08A149.5,149.5 0 0 0 388.07,285.33Z" fill-opacity="0.37"/><path d="M395.62,294.24A161.0,161.0 0 0 1 394.72,295.30L385.99,287.81A149.5,149.5 0 0 0 386.83,286.83Z" fill-opacity="0.35"/><path d="M390.92,299.57A161.0,161.0 0 0 1 390.21,300.34L381.81,292.49A149.5,149.5 0 0 0 382.46,291.78Z" fill-opacity="0.63"/><path d="M389.77,300.82A161.0,161.0 0 0 1 388.85,301.78L380.54,293.83A149.5,149.5 0 0 0 381.39,292.94Z" fill-opacity="0.74"/><path d="M388.85,301.78A161.0,161.0 0 0 1 388.64,302.00L380.35,294.04A149.5,149.5 0 0 0 380.54,293.83Z" fill-opacity="0.75"/><path d="M388.64,302.00A161.0,161.0 0 0 1 388.06,302.60L379.81,294.59A149.5,149.5 0 0 0 380.35,294.04Z" fill-opacity="0.39"/><path d="M387.44,303.24A161.0,161.0 0 0 1 386.66,304.03L378.50,295.92A149.5,149.5 0 0 0 379.23,295.19Z" fill-opacity="0.74"/><path d="M386.66,304.03A161.0,161.0 0 0 1 386.23,304.46L378.11,296.32A149.5,149.5 0 0 0 378.50,295.92Z" fill-opacity="0.39"/><path d="M385.37,305.31A161.0,161.0 0 0 1 384.94,305.73L376.91,297.50A149.5,149.5 0 0 0 377.31,297.11Z" fill-opacity="0.49"/><path d="M384.94,305.73A161.0,161.0 0 0 1 384.55,306.11L376.54,297.86A149.5,149.5 0 0 0 376.91,297.50Z" fill-opacity="0.60"/><path d="M384.12,306.53A161.0,161.0 0 0 1 383.76,306.88L375.81,298.56A149.5,149.5 0 0 0 376.14,298.24Z" fill-opacity="0.37"/></g>
<g fill="#f8fafa"><path d="M411.23,272.20A161.0,161.0 0 0 1 411.04,272.52L401.15,266.66A149.5,149.5 0 0 0 401.32,266.36Z" fill-opacity="0.54"/><path d="M410.80,272.93A161.0,161.0 0 0 1 410.16,274.00L400.32,268.03A149.5,149.5 0 0 0 400.92,267.04Z" fill-opacity="0.48"/><path d="M410.16,274.00A161.0,161.0 0 0 1 409.44,275.16L399.66,269.12A149.5,149.5 0 0 0 400.32,268.03Z" fill-opacity="0.42"/><path d="M409.44,275.16A161.0,161.0 0 0 1 408.97,275.92L399.23,269.81A149.5,149.5 0 0 0 399.66,269.12Z" fill-opacity="0.36"/><path d="M408.97,275.92A161.0,161.0 0 0 1 408.70,276.34L398.98,270.21A149.5,149.5 0 0 0 399.23,269.81Z" fill-opacity="0.58"/><path d="M408.12,277.26A161.0,161.0 0 0 1 407.47,278.28L397.82,272.01A149.5,149.5 0 0 0 398.43,271.07Z" fill-opacity="0.48"/><path d="M407.47,278.28A161.0,161.0 0 0 1 406.90,279.15L397.30,272.82A149.5,149.5 0 0 0 397.82,272.01Z" fill-opacity="0.57"/><path d="M405.57,281.13A161.0,161.0 0 0 1 404.87,282.14L395.42,275.59A149.5,149.5 0 0 0 396.06,274.66Z" fill-opacity="0.60"/><path d="M403.35,284.31A161.0,161.0 0 0 1 402.61,285.33L393.32,278.55A149.5,149.5 0 0 0 394.00,277.61Z" fill-opacity="0.51"/><path d="M401.76,286.49A161.0,161.0 0 0 1 401.36,287.02L392.16,280.12A149.5,149.5 0 0 0 392.52,279.63Z" fill-opacity="0.36"/><path d="M400.20,288.54A161.0,161.0 0 0 1 400.02,288.78L390.91,281.76A149.5,149.5 0 0 0 391.08,281.54Z" fill-opacity="0.38"/><path d="M400.02,288.78A161.0,161.0 0 0 1 399.59,289.34L390.51,282.28A149.5,149.5 0 0 0 390.91,281.76Z" fill-opacity="0.50"/><path d="M399.59,289.34A161.0,161.0 0 0 1 398.98,290.11L389.95,283.00A149.5,149.5 0 0 0 390.51,282.28Z" fill-opacity="0.51"/><path d="M398.98,290.11A161.0,161.0 0 0 1 398.46,290.78L389.46,283.62A149.5,149.5 0 0 0 389.95,283.00Z" fill-opacity="0.58"/><path d="M398.46,290.78A161.0,161.0 0 0 1 398.10,291.23L389.13,284.04A149.5,149.5 0 0 0 389.46,283.62Z" fill-opacity="0.37"/><path d="M397.44,292.04A161.0,161.0 0 0 1 396.96,292.63L388.07,285.33A149.5,149.5 0 0 0 388.52,284.79Z" fill-opacity="0.35"/><path d="M394.72,295.30A161.0,161.0 0 0 1 393.84,296.32L385.17,288.76A149.5,149.5 0 0 0 385.99,287.81Z" fill-opacity="0.48"/><path d="M393.84,296.32A161.0,161.0 0 0 1 393.33,296.90L384.70,289.30A149.5,149.5 0 0 0 385.17,288.76Z" fill-opacity="0.36"/><path d="M393.33,296.90A161.0,161.0 0 0 1 392.53,297.80L383.96,290.13A149.5,149.5 0 0 0 384.70,289.30Z" fill-opacity="0.49"/><path d="M392.53,297.80A161.0,161.0 0 0 1 391.60,298.83L383.09,291.09A149.5,149.5 0 0 0 383.96,290.13Z" fill-opacity="0.40"/><path d="M390.21,300.34A161.0,161.0 0 0 1 389.77,300.82L381.39,292.94A149.5,149.5 0 0 0 381.81,292.49Z" fill-opacity="0.36"/><path d="M388.06,302.60A161.0,161.0 0 0 1 387.67,303.00L379.44,294.97A149.5,149.5 0 0 0 379.81,294.59Z" fill-opacity="0.41"/><path d="M387.67,303.00A161.0,161.0 0 0 1 387.44,303.24L379.23,295.19A149.5,149.5 0 0 0 379.44,294.97Z" fill-opacity="0.54"/><path d="M384.55,306.11A161.0,161.0 0 0 1 384.12,306.53L376.14,298.24A149.5,149.5 0 0 0 376.54,297.86Z" fill-opacity="0.54"/></g>
<path d="M405.10,281.82A161.0,161.0 0 0 1 404.23,283.07L394.82,276.45A149.5,149.5 0 0 0 395.63,275.29Z" fill="#d01424"/>
<path d="M414.02,267.26A161.0,161.0 0 0 1 383.76,306.88L375.81,298.56A149.5,149.5 0 0 0 403.91,261.78Z" fill="none" stroke="#111" stroke-width="1.1"/>
<path d="M380.52,309.88A161.0,161.0 0 0 1 342.00,335.73L337.03,325.36A149.5,149.5 0 0 0 372.81,301.36Z" fill="url(#ig)"/>
<g fill="#0a0c0c"><path d="M379.54,310.77A161.0,161.0 0 0 1 378.52,311.66L370.95,303.01A149.5,149.5 0 0 0 371.89,302.18Z" fill-opacity="0.44"/><path d="M378.52,311.66A161.0,161.0 0 0 1 377.71,312.37L370.20,303.66A149.5,149.5 0 0 0 370.95,303.01Z" fill-opacity="0.97"/><path d="M377.71,312.37A161.0,161.0 0 0 1 377.07,312.91L369.60,304.17A149.5,149.5 0 0 0 370.20,303.66Z" fill-opacity="0.74"/><path d="M376.09,313.75A161.0,161.0 0 0 1 375.21,314.48L367.87,305.63A149.5,149.5 0 0 0 368.69,304.95Z" fill-opacity="0.36"/><path d="M375.21,314.48A161.0,161.0 0 0 1 374.79,314.83L367.49,305.95A149.5,149.5 0 0 0 367.87,305.63Z" fill-opacity="0.32"/><path d="M373.74,315.69A161.0,161.0 0 0 1 373.42,315.95L366.21,306.99A149.5,149.5 0 0 0 366.51,306.74Z" fill-opacity="0.97"/><path d="M372.87,316.38A161.0,161.0 0 0 1 372.61,316.60L365.45,307.59A149.5,149.5 0 0 0 365.70,307.39Z" fill-opacity="0.43"/><path d="M372.61,316.60A161.0,161.0 0 0 1 371.73,317.28L364.65,308.23A149.5,149.5 0 0 0 365.45,307.59Z" fill-opacity="0.31"/><path d="M370.96,317.88A161.0,161.0 0 0 1 369.97,318.64L363.01,309.49A149.5,149.5 0 0 0 363.93,308.79Z" fill-opacity="0.78"/><path d="M369.97,318.64A161.0,161.0 0 0 1 369.67,318.87L362.73,309.70A149.5,149.5 0 0 0 363.01,309.49Z" fill-opacity="0.78"/><path d="M368.21,319.96A161.0,161.0 0 0 1 367.21,320.69L360.45,311.39A149.5,149.5 0 0 0 361.38,310.71Z" fill-opacity="0.47"/><path d="M366.38,321.30A161.0,161.0 0 0 1 366.05,321.54L359.36,312.18A149.5,149.5 0 0 0 359.67,311.96Z" fill-opacity="0.34"/><path d="M364.32,322.75A161.0,161.0 0 0 1 363.77,323.13L357.25,313.66A149.5,149.5 0 0 0 357.76,313.31Z" fill-opacity="0.97"/><path d="M363.77,323.13A161.0,161.0 0 0 1 363.04,323.63L356.57,314.12A149.5,149.5 0 0 0 357.25,313.66Z" fill-opacity="0.72"/><path d="M362.77,323.81A161.0,161.0 0 0 1 362.10,324.26L355.70,314.71A149.5,149.5 0 0 0 356.32,314.29Z" fill-opacity="0.37"/><path d="M361.17,324.88A161.0,161.0 0 0 1 360.72,325.18L354.41,315.56A149.5,149.5 0 0 0 354.84,315.28Z" fill-opacity="0.62"/><path d="M359.67,325.86A161.0,161.0 0 0 1 359.22,326.15L353.03,316.46A149.5,149.5 0 0 0 353.44,316.19Z" fill-opacity="0.50"/><path d="M358.97,326.31A161.0,161.0 0 0 1 358.24,326.77L352.11,317.04A149.5,149.5 0 0 0 352.79,316.61Z" fill-opacity="0.64"/><path d="M357.50,327.23A161.0,161.0 0 0 1 356.99,327.55L350.95,317.76A149.5,149.5 0 0 0 351.43,317.47Z" fill-opacity="0.97"/><path d="M355.71,328.33A161.0,161.0 0 0 1 355.38,328.53L349.46,318.67A149.5,149.5 0 0 0 349.77,318.49Z" fill-opacity="0.74"/><path d="M355.38,328.53A161.0,161.0 0 0 1 354.34,329.15L348.49,319.25A149.5,149.5 0 0 0 349.46,318.67Z" fill-opacity="0.37"/><path d="M351.07,331.03A161.0,161.0 0 0 1 350.43,331.38L344.86,321.32A149.5,149.5 0 0 0 345.46,320.99Z" fill-opacity="0.65"/><path d="M349.70,331.79A161.0,161.0 0 0 1 348.66,332.35L343.22,322.21A149.5,149.5 0 0 0 344.18,321.69Z" fill-opacity="0.43"/><path d="M348.05,332.68A161.0,161.0 0 0 1 346.91,333.27L341.60,323.07A149.5,149.5 0 0 0 342.65,322.52Z" fill-opacity="0.45"/><path d="M346.48,333.50A161.0,161.0 0 0 1 345.41,334.04L340.21,323.79A149.5,149.5 0 0 0 341.19,323.28Z" fill-opacity="0.33"/><path d="M345.41,334.04A161.0,161.0 0 0 1 344.67,334.42L339.51,324.14A149.5,149.5 0 0 0 340.21,323.79Z" fill-opacity="0.65"/><path d="M342.10,335.68A161.0,161.0 0 0 1 342.00,335.73L337.03,325.36A149.5,149.5 0 0 0 337.13,325.31Z" fill-opacity="0.32"/></g>
<g fill="#f8fafa"><path d="M380.52,309.88A161.0,161.0 0 0 1 379.54,310.77L371.89,302.18A149.5,149.5 0 0 0 372.81,301.36Z" fill-opacity="0.41"/><path d="M374.79,314.83A161.0,161.0 0 0 1 373.74,315.69L366.51,306.74A149.5,149.5 0 0 0 367.49,305.95Z" fill-opacity="0.36"/><path d="M373.42,315.95A161.0,161.0 0 0 1 372.87,316.38L365.70,307.39A149.5,149.5 0 0 0 366.21,306.99Z" fill-opacity="0.36"/><path d="M369.67,318.87A161.0,161.0 0 0 1 368.55,319.71L361.69,310.48A149.5,149.5 0 0 0 362.73,309.70Z" fill-opacity="0.40"/><path d="M368.55,319.71A161.0,161.0 0 0 1 368.21,319.96L361.38,310.71A149.5,149.5 0 0 0 361.69,310.48Z" fill-opacity="0.56"/><path d="M367.21,320.69A161.0,161.0 0 0 1 366.38,321.30L359.67,311.96A149.5,149.5 0 0 0 360.45,311.39Z" fill-opacity="0.37"/><path d="M365.50,321.92A161.0,161.0 0 0 1 365.24,322.10L358.62,312.70A149.5,149.5 0 0 0 358.86,312.53Z" fill-opacity="0.42"/><path d="M360.72,325.18A161.0,161.0 0 0 1 359.67,325.86L353.44,316.19A149.5,149.5 0 0 0 354.41,315.56Z" fill-opacity="0.35"/><path d="M358.24,326.77A161.0,161.0 0 0 1 357.50,327.23L351.43,317.47A149.5,149.5 0 0 0 352.11,317.04Z" fill-opacity="0.56"/><path d="M356.99,327.55A161.0,161.0 0 0 1 356.46,327.88L350.46,318.06A149.5,149.5 0 0 0 350.95,317.76Z" fill-opacity="0.52"/><path d="M356.46,327.88A161.0,161.0 0 0 1 355.71,328.33L349.77,318.49A149.5,149.5 0 0 0 350.46,318.06Z" fill-opacity="0.51"/><path d="M353.68,329.54A161.0,161.0 0 0 1 352.52,330.20L346.81,320.23A149.5,149.5 0 0 0 347.88,319.61Z" fill-opacity="0.57"/><path d="M352.52,330.20A161.0,161.0 0 0 1 352.24,330.36L346.55,320.37A149.5,149.5 0 0 0 346.81,320.23Z" fill-opacity="0.42"/><path d="M348.66,332.35A161.0,161.0 0 0 1 348.05,332.68L342.65,322.52A149.5,149.5 0 0 0 343.22,322.21Z" fill-opacity="0.39"/><path d="M344.67,334.42A161.0,161.0 0 0 1 344.21,334.65L339.09,324.35A149.5,149.5 0 0 0 339.51,324.14Z" fill-opacity="0.53"/><path d="M344.21,334.65A161.0,161.0 0 0 1 343.06,335.21L338.02,324.88A149.5,149.5 0 0 0 339.09,324.35Z" fill-opacity="0.39"/><path d="M343.06,335.21A161.0,161.0 0 0 1 342.54,335.47L337.53,325.11A149.5,149.5 0 0 0 338.02,324.88Z" fill-opacity="0.48"/><path d="M342.54,335.47A161.0,161.0 0 0 1 342.10,335.68L337.13,325.31A149.5,149.5 0 0 0 337.53,325.11Z" fill-opacity="0.40"/></g>
<path d="M367.53,320.46A161.0,161.0 0 0 1 366.30,321.36L359.60,312.01A149.5,149.5 0 0 0 360.74,311.18Z" fill="#d01424"/>
<path d="M380.52,309.88A161.0,161.0 0 0 1 342.00,335.73L337.03,325.36A149.5,149.5 0 0 0 372.81,301.36Z" fill="none" stroke="#111" stroke-width="1.1"/>
<path d="M337.99,337.58A161.0,161.0 0 0 1 297.03,349.62L295.28,338.25A149.5,149.5 0 0 0 333.31,327.07Z" fill="url(#ig)"/>
<g fill="#0a0c0c"><path d="M336.69,338.15A161.0,161.0 0 0 1 335.36,338.72L330.87,328.13A149.5,149.5 0 0 0 332.10,327.61Z" fill-opacity="0.75"/><path d="M333.93,339.32A161.0,161.0 0 0 1 332.80,339.78L328.49,329.12A149.5,149.5 0 0 0 329.54,328.69Z" fill-opacity="0.40"/><path d="M331.84,340.16A161.0,161.0 0 0 1 331.42,340.33L327.21,329.63A149.5,149.5 0 0 0 327.60,329.47Z" fill-opacity="0.38"/><path d="M331.42,340.33A161.0,161.0 0 0 1 330.34,340.75L326.21,330.02A149.5,149.5 0 0 0 327.21,329.63Z" fill-opacity="0.97"/><path d="M330.34,340.75A161.0,161.0 0 0 1 329.59,341.04L325.51,330.28A149.5,149.5 0 0 0 326.21,330.02Z" fill-opacity="0.45"/><path d="M328.86,341.31A161.0,161.0 0 0 1 327.62,341.77L323.68,330.97A149.5,149.5 0 0 0 324.83,330.54Z" fill-opacity="0.44"/><path d="M327.62,341.77A161.0,161.0 0 0 1 326.40,342.21L322.55,331.37A149.5,149.5 0 0 0 323.68,330.97Z" fill-opacity="0.43"/><path d="M325.24,342.62A161.0,161.0 0 0 1 324.10,343.01L320.41,332.11A149.5,149.5 0 0 0 321.48,331.75Z" fill-opacity="0.43"/><path d="M323.55,343.19A161.0,161.0 0 0 1 322.76,343.45L319.17,332.53A149.5,149.5 0 0 0 319.90,332.29Z" fill-opacity="0.38"/><path d="M322.76,343.45A161.0,161.0 0 0 1 321.73,343.79L318.22,332.84A149.5,149.5 0 0 0 319.17,332.53Z" fill-opacity="0.97"/><path d="M321.73,343.79A161.0,161.0 0 0 1 321.25,343.94L317.77,332.98A149.5,149.5 0 0 0 318.22,332.84Z" fill-opacity="0.46"/><path d="M319.17,344.59A161.0,161.0 0 0 1 318.71,344.73L315.41,333.71A149.5,149.5 0 0 0 315.83,333.58Z" fill-opacity="0.79"/><path d="M317.84,344.98A161.0,161.0 0 0 1 316.95,345.24L313.78,334.19A149.5,149.5 0 0 0 314.60,333.95Z" fill-opacity="0.40"/><path d="M316.95,345.24A161.0,161.0 0 0 1 315.95,345.53L312.85,334.45A149.5,149.5 0 0 0 313.78,334.19Z" fill-opacity="0.70"/><path d="M315.95,345.53A161.0,161.0 0 0 1 315.21,345.73L312.16,334.64A149.5,149.5 0 0 0 312.85,334.45Z" fill-opacity="0.97"/><path d="M315.21,345.73A161.0,161.0 0 0 1 314.69,345.87L311.68,334.78A149.5,149.5 0 0 0 312.16,334.64Z" fill-opacity="0.38"/><path d="M312.12,346.55A161.0,161.0 0 0 1 311.36,346.74L308.59,335.58A149.5,149.5 0 0 0 309.29,335.40Z" fill-opacity="0.37"/><path d="M309.42,347.21A161.0,161.0 0 0 1 308.89,347.33L306.29,336.13A149.5,149.5 0 0 0 306.79,336.02Z" fill-opacity="0.68"/><path d="M308.36,347.46A161.0,161.0 0 0 1 307.15,347.73L304.68,336.50A149.5,149.5 0 0 0 305.80,336.24Z" fill-opacity="0.39"/><path d="M306.22,347.93A161.0,161.0 0 0 1 305.53,348.07L303.17,336.82A149.5,149.5 0 0 0 303.82,336.68Z" fill-opacity="0.46"/><path d="M303.69,348.45A161.0,161.0 0 0 1 303.26,348.53L301.06,337.25A149.5,149.5 0 0 0 301.46,337.17Z" fill-opacity="0.67"/><path d="M299.46,349.23A161.0,161.0 0 0 1 298.43,349.40L296.58,338.05A149.5,149.5 0 0 0 297.53,337.89Z" fill-opacity="0.37"/><path d="M298.43,349.40A161.0,161.0 0 0 1 297.07,349.61L295.32,338.25A149.5,149.5 0 0 0 296.58,338.05Z" fill-opacity="0.61"/><path d="M297.07,349.61A161.0,161.0 0 0 1 297.03,349.62L295.28,338.25A149.5,149.5 0 0 0 295.32,338.25Z" fill-opacity="0.97"/></g>
<g fill="#f8fafa"><path d="M337.99,337.58A161.0,161.0 0 0 1 336.69,338.15L332.10,327.61A149.5,149.5 0 0 0 333.31,327.07Z" fill-opacity="0.45"/><path d="M335.36,338.72A161.0,161.0 0 0 1 334.62,339.03L330.18,328.42A149.5,149.5 0 0 0 330.87,328.13Z" fill-opacity="0.51"/><path d="M334.62,339.03A161.0,161.0 0 0 1 334.24,339.19L329.83,328.57A149.5,149.5 0 0 0 330.18,328.42Z" fill-opacity="0.45"/><path d="M329.59,341.04A161.0,161.0 0 0 1 328.86,341.31L324.83,330.54A149.5,149.5 0 0 0 325.51,330.28Z" fill-opacity="0.53"/><path d="M326.40,342.21A161.0,161.0 0 0 1 325.63,342.48L321.83,331.63A149.5,149.5 0 0 0 322.55,331.37Z" fill-opacity="0.51"/><path d="M320.54,344.17A161.0,161.0 0 0 1 319.17,344.59L315.83,333.58A149.5,149.5 0 0 0 317.11,333.19Z" fill-opacity="0.49"/><path d="M318.71,344.73A161.0,161.0 0 0 1 317.84,344.98L314.60,333.95A149.5,149.5 0 0 0 315.41,333.71Z" fill-opacity="0.49"/><path d="M314.69,345.87A161.0,161.0 0 0 1 313.55,346.18L310.61,335.06A149.5,149.5 0 0 0 311.68,334.78Z" fill-opacity="0.60"/><path d="M313.55,346.18A161.0,161.0 0 0 1 312.86,346.36L309.98,335.23A149.5,149.5 0 0 0 310.61,335.06Z" fill-opacity="0.42"/><path d="M312.86,346.36A161.0,161.0 0 0 1 312.12,346.55L309.29,335.40A149.5,149.5 0 0 0 309.98,335.23Z" fill-opacity="0.45"/><path d="M311.36,346.74A161.0,161.0 0 0 1 310.78,346.88L308.04,335.71A149.5,149.5 0 0 0 308.59,335.58Z" fill-opacity="0.54"/><path d="M308.89,347.33A161.0,161.0 0 0 1 308.36,347.46L305.80,336.24A149.5,149.5 0 0 0 306.29,336.13Z" fill-opacity="0.54"/><path d="M307.15,347.73A161.0,161.0 0 0 1 306.22,347.93L303.82,336.68A149.5,149.5 0 0 0 304.68,336.50Z" fill-opacity="0.59"/><path d="M303.26,348.53A161.0,161.0 0 0 1 301.99,348.78L299.88,337.47A149.5,149.5 0 0 0 301.06,337.25Z" fill-opacity="0.44"/><path d="M301.41,348.88A161.0,161.0 0 0 1 300.91,348.97L298.88,337.65A149.5,149.5 0 0 0 299.35,337.57Z" fill-opacity="0.53"/><path d="M300.91,348.97A161.0,161.0 0 0 1 300.30,349.08L298.31,337.75A149.5,149.5 0 0 0 298.88,337.65Z" fill-opacity="0.43"/></g>
<path d="M326.31,342.24A161.0,161.0 0 0 1 324.87,342.74L321.13,331.87A149.5,149.5 0 0 0 322.46,331.40Z" fill="#d01424"/>
<path d="M337.99,337.58A161.0,161.0 0 0 1 297.03,349.62L295.28,338.25A149.5,149.5 0 0 0 333.31,327.07Z" fill="none" stroke="#111" stroke-width="1.1"/>
<path d="M292.65,350.23A161.0,161.0 0 0 1 251.46,350.12L252.96,338.72A149.5,149.5 0 0 0 291.22,338.82Z" fill="url(#ig)"/>
<g fill="#0a0c0c"><path d="M290.43,350.50A161.0,161.0 0 0 1 289.03,350.65L287.85,339.21A149.5,149.5 0 0 0 289.15,339.07Z" fill-opacity="0.35"/><path d="M287.42,350.81A161.0,161.0 0 0 1 286.08,350.93L285.11,339.47A149.5,149.5 0 0 0 286.36,339.36Z" fill-opacity="0.63"/><path d="M286.08,350.93A161.0,161.0 0 0 1 284.75,351.03L283.87,339.57A149.5,149.5 0 0 0 285.11,339.47Z" fill-opacity="0.46"/><path d="M284.75,351.03A161.0,161.0 0 0 1 283.68,351.11L282.88,339.64A149.5,149.5 0 0 0 283.87,339.57Z" fill-opacity="0.76"/><path d="M282.41,351.20A161.0,161.0 0 0 1 281.49,351.25L280.85,339.77A149.5,149.5 0 0 0 281.70,339.72Z" fill-opacity="0.39"/><path d="M281.49,351.25A161.0,161.0 0 0 1 280.17,351.32L279.62,339.83A149.5,149.5 0 0 0 280.85,339.77Z" fill-opacity="0.35"/><path d="M276.61,351.45A161.0,161.0 0 0 1 275.77,351.47L275.53,339.97A149.5,149.5 0 0 0 276.31,339.95Z" fill-opacity="0.43"/><path d="M274.49,351.49A161.0,161.0 0 0 1 273.71,351.50L273.62,340.00A149.5,149.5 0 0 0 274.35,339.99Z" fill-opacity="0.97"/><path d="M273.71,351.50A161.0,161.0 0 0 1 273.33,351.50L273.27,340.00A149.5,149.5 0 0 0 273.62,340.00Z" fill-opacity="0.43"/><path d="M273.33,351.50A161.0,161.0 0 0 1 273.00,351.50L272.96,340.00A149.5,149.5 0 0 0 273.27,340.00Z" fill-opacity="0.44"/><path d="M267.64,351.43A161.0,161.0 0 0 1 266.73,351.40L267.15,339.90A149.5,149.5 0 0 0 267.99,339.93Z" fill-opacity="0.34"/><path d="M265.93,351.37A161.0,161.0 0 0 1 264.99,351.32L265.53,339.84A149.5,149.5 0 0 0 266.40,339.88Z" fill-opacity="0.66"/><path d="M262.85,351.21A161.0,161.0 0 0 1 261.42,351.12L262.21,339.65A149.5,149.5 0 0 0 263.54,339.73Z" fill-opacity="0.46"/><path d="M260.74,351.07A161.0,161.0 0 0 1 259.77,351.00L260.68,339.53A149.5,149.5 0 0 0 261.58,339.60Z" fill-opacity="0.46"/><path d="M259.77,351.00A161.0,161.0 0 0 1 259.43,350.97L260.36,339.51A149.5,149.5 0 0 0 260.68,339.53Z" fill-opacity="0.48"/><path d="M258.20,350.86A161.0,161.0 0 0 1 257.20,350.77L258.30,339.32A149.5,149.5 0 0 0 259.23,339.41Z" fill-opacity="0.46"/><path d="M257.20,350.77A161.0,161.0 0 0 1 255.85,350.64L257.04,339.20A149.5,149.5 0 0 0 258.30,339.32Z" fill-opacity="0.42"/><path d="M255.85,350.64A161.0,161.0 0 0 1 254.83,350.53L256.09,339.10A149.5,149.5 0 0 0 257.04,339.20Z" fill-opacity="0.42"/><path d="M253.75,350.40A161.0,161.0 0 0 1 252.93,350.31L254.33,338.89A149.5,149.5 0 0 0 255.09,338.98Z" fill-opacity="0.32"/><path d="M252.43,350.24A161.0,161.0 0 0 1 251.46,350.12L252.96,338.72A149.5,149.5 0 0 0 253.86,338.83Z" fill-opacity="0.37"/></g>
<g fill="#f8fafa"><path d="M292.65,350.23A161.0,161.0 0 0 1 291.45,350.38L290.10,338.96A149.5,149.5 0 0 0 291.22,338.82Z" fill-opacity="0.56"/><path d="M291.45,350.38A161.0,161.0 0 0 1 290.43,350.50L289.15,339.07A149.5,149.5 0 0 0 290.10,338.96Z" fill-opacity="0.35"/><path d="M289.03,350.65A161.0,161.0 0 0 1 288.62,350.69L287.47,339.25A149.5,149.5 0 0 0 287.85,339.21Z" fill-opacity="0.41"/><path d="M288.62,350.69A161.0,161.0 0 0 1 287.42,350.81L286.36,339.36A149.5,149.5 0 0 0 287.47,339.25Z" fill-opacity="0.39"/><path d="M283.68,351.11A161.0,161.0 0 0 1 282.41,351.20L281.70,339.72A149.5,149.5 0 0 0 282.88,339.64Z" fill-opacity="0.52"/><path d="M280.17,351.32A161.0,161.0 0 0 1 279.60,351.34L279.10,339.85A149.5,149.5 0 0 0 279.62,339.83Z" fill-opacity="0.47"/><path d="M277.91,351.41A161.0,161.0 0 0 1 276.61,351.45L276.31,339.95A149.5,149.5 0 0 0 277.52,339.92Z" fill-opacity="0.56"/><path d="M273.00,351.50A161.0,161.0 0 0 1 271.62,351.50L271.68,340.00A149.5,149.5 0 0 0 272.96,340.00Z" fill-opacity="0.60"/><path d="M270.73,351.49A161.0,161.0 0 0 1 269.39,351.47L269.61,339.97A149.5,149.5 0 0 0 270.85,339.99Z" fill-opacity="0.53"/><path d="M269.39,351.47A161.0,161.0 0 0 1 268.36,351.45L268.66,339.95A149.5,149.5 0 0 0 269.61,339.97Z" fill-opacity="0.57"/><path d="M263.73,351.26A161.0,161.0 0 0 1 262.85,351.21L263.54,339.73A149.5,149.5 0 0 0 264.36,339.78Z" fill-opacity="0.48"/><path d="M261.42,351.12A161.0,161.0 0 0 1 260.74,351.07L261.58,339.60A149.5,149.5 0 0 0 262.21,339.65Z" fill-opacity="0.42"/><path d="M259.43,350.97A161.0,161.0 0 0 1 258.50,350.89L259.50,339.43A149.5,149.5 0 0 0 260.36,339.51Z" fill-opacity="0.43"/><path d="M258.50,350.89A161.0,161.0 0 0 1 258.20,350.86L259.23,339.41A149.5,149.5 0 0 0 259.50,339.43Z" fill-opacity="0.58"/><path d="M254.83,350.53A161.0,161.0 0 0 1 253.75,350.40L255.09,338.98A149.5,149.5 0 0 0 256.09,339.10Z" fill-opacity="0.52"/><path d="M252.93,350.31A161.0,161.0 0 0 1 252.43,350.24L253.86,338.83A149.5,149.5 0 0 0 254.33,338.89Z" fill-opacity="0.54"/></g>
<path d="M278.14,351.40A161.0,161.0 0 0 1 272.52,351.50L272.52,340.00A149.5,149.5 0 0 0 277.74,339.91Z" fill="url(#ig)"/>
<path d="M279.13,351.36A161.0,161.0 0 0 1 277.61,351.42L277.25,339.92A149.5,149.5 0 0 0 278.66,339.87Z" fill="#d01424"/>
<path d="M292.65,350.23A161.0,161.0 0 0 1 251.46,350.12L252.96,338.72A149.5,149.5 0 0 0 291.22,338.82Z" fill="none" stroke="#111" stroke-width="1.1"/>
<path d="M247.09,349.48A161.0,161.0 0 0 1 209.10,338.49L213.63,327.92A149.5,149.5 0 0 0 248.90,338.13Z" fill="url(#ig)"/>
<g fill="#0a0c0c"><path d="M247.09,349.48A161.0,161.0 0 0 1 245.85,349.28L247.75,337.94A149.5,149.5 0 0 0 248.90,338.13Z" fill-opacity="0.71"/><path d="M244.61,349.07A161.0,161.0 0 0 1 243.58,348.88L245.65,337.57A149.5,149.5 0 0 0 246.60,337.74Z" fill-opacity="0.97"/><path d="M243.58,348.88A161.0,161.0 0 0 1 243.23,348.82L245.32,337.51A149.5,149.5 0 0 0 245.65,337.57Z" fill-opacity="0.31"/><path d="M243.23,348.82A161.0,161.0 0 0 1 242.81,348.74L244.93,337.44A149.5,149.5 0 0 0 245.32,337.51Z" fill-opacity="0.72"/><path d="M241.16,348.42A161.0,161.0 0 0 1 240.19,348.23L242.50,336.96A149.5,149.5 0 0 0 243.40,337.14Z" fill-opacity="0.97"/><path d="M237.50,347.65A161.0,161.0 0 0 1 237.21,347.58L239.73,336.36A149.5,149.5 0 0 0 240.00,336.42Z" fill-opacity="0.32"/><path d="M235.39,347.16A161.0,161.0 0 0 1 234.83,347.03L237.52,335.85A149.5,149.5 0 0 0 238.04,335.97Z" fill-opacity="0.34"/><path d="M234.83,347.03A161.0,161.0 0 0 1 234.49,346.95L237.20,335.77A149.5,149.5 0 0 0 237.52,335.85Z" fill-opacity="0.44"/><path d="M234.49,346.95A161.0,161.0 0 0 1 233.23,346.64L236.04,335.49A149.5,149.5 0 0 0 237.20,335.77Z" fill-opacity="0.32"/><path d="M233.23,346.64A161.0,161.0 0 0 1 232.24,346.38L235.11,335.25A149.5,149.5 0 0 0 236.04,335.49Z" fill-opacity="0.39"/><path d="M229.81,345.74A161.0,161.0 0 0 1 228.79,345.45L231.91,334.38A149.5,149.5 0 0 0 232.85,334.65Z" fill-opacity="0.62"/><path d="M228.79,345.45A161.0,161.0 0 0 1 228.16,345.27L231.33,334.22A149.5,149.5 0 0 0 231.91,334.38Z" fill-opacity="0.33"/><path d="M224.60,344.21A161.0,161.0 0 0 1 223.92,343.99L227.39,333.03A149.5,149.5 0 0 0 228.02,333.23Z" fill-opacity="0.43"/><path d="M223.17,343.76A161.0,161.0 0 0 1 222.02,343.38L225.63,332.46A149.5,149.5 0 0 0 226.70,332.81Z" fill-opacity="0.97"/><path d="M222.02,343.38A161.0,161.0 0 0 1 220.87,343.00L224.56,332.10A149.5,149.5 0 0 0 225.63,332.46Z" fill-opacity="0.36"/><path d="M220.87,343.00A161.0,161.0 0 0 1 220.53,342.88L224.24,332.00A149.5,149.5 0 0 0 224.56,332.10Z" fill-opacity="0.97"/><path d="M220.53,342.88A161.0,161.0 0 0 1 219.47,342.52L223.26,331.66A149.5,149.5 0 0 0 224.24,332.00Z" fill-opacity="0.67"/><path d="M219.47,342.52A161.0,161.0 0 0 1 218.53,342.18L222.38,331.35A149.5,149.5 0 0 0 223.26,331.66Z" fill-opacity="0.97"/><path d="M218.53,342.18A161.0,161.0 0 0 1 217.34,341.76L221.28,330.95A149.5,149.5 0 0 0 222.38,331.35Z" fill-opacity="0.36"/><path d="M217.34,341.76A161.0,161.0 0 0 1 216.59,341.48L220.59,330.70A149.5,149.5 0 0 0 221.28,330.95Z" fill-opacity="0.68"/><path d="M216.59,341.48A161.0,161.0 0 0 1 215.57,341.10L219.63,330.34A149.5,149.5 0 0 0 220.59,330.70Z" fill-opacity="0.48"/><path d="M213.85,340.44A161.0,161.0 0 0 1 212.94,340.08L217.20,329.39A149.5,149.5 0 0 0 218.04,329.73Z" fill-opacity="0.78"/><path d="M212.94,340.08A161.0,161.0 0 0 1 212.62,339.95L216.90,329.28A149.5,149.5 0 0 0 217.20,329.39Z" fill-opacity="0.76"/><path d="M212.62,339.95A161.0,161.0 0 0 1 211.41,339.46L215.78,328.82A149.5,149.5 0 0 0 216.90,329.28Z" fill-opacity="0.35"/><path d="M211.41,339.46A161.0,161.0 0 0 1 210.22,338.97L214.67,328.36A149.5,149.5 0 0 0 215.78,328.82Z" fill-opacity="0.74"/></g>
<g fill="#f8fafa"><path d="M245.85,349.28A161.0,161.0 0 0 1 245.26,349.18L247.21,337.85A149.5,149.5 0 0 0 247.75,337.94Z" fill-opacity="0.46"/><path d="M238.78,347.93A161.0,161.0 0 0 1 238.03,347.77L240.49,336.53A149.5,149.5 0 0 0 241.19,336.69Z" fill-opacity="0.51"/><path d="M238.03,347.77A161.0,161.0 0 0 1 237.50,347.65L240.00,336.42A149.5,149.5 0 0 0 240.49,336.53Z" fill-opacity="0.35"/><path d="M237.21,347.58A161.0,161.0 0 0 1 235.82,347.27L238.44,336.07A149.5,149.5 0 0 0 239.73,336.36Z" fill-opacity="0.57"/><path d="M235.82,347.27A161.0,161.0 0 0 1 235.39,347.16L238.04,335.97A149.5,149.5 0 0 0 238.44,336.07Z" fill-opacity="0.53"/><path d="M232.24,346.38A161.0,161.0 0 0 1 230.90,346.03L233.87,334.92A149.5,149.5 0 0 0 235.11,335.25Z" fill-opacity="0.59"/><path d="M230.90,346.03A161.0,161.0 0 0 1 229.81,345.74L232.85,334.65A149.5,149.5 0 0 0 233.87,334.92Z" fill-opacity="0.35"/><path d="M225.64,344.53A161.0,161.0 0 0 1 224.60,344.21L228.02,333.23A149.5,149.5 0 0 0 228.99,333.53Z" fill-opacity="0.55"/><path d="M215.57,341.10A161.0,161.0 0 0 1 214.41,340.66L218.56,329.93A149.5,149.5 0 0 0 219.63,330.34Z" fill-opacity="0.35"/><path d="M210.22,338.97A161.0,161.0 0 0 1 209.10,338.49L213.63,327.92A149.5,149.5 0 0 0 214.67,328.36Z" fill-opacity="0.37"/></g>
<path d="M236.29,347.38A161.0,161.0 0 0 1 234.81,347.03L237.51,335.85A149.5,149.5 0 0 0 238.88,336.17Z" fill="#d01424"/>
<path d="M247.09,349.48A161.0,161.0 0 0 1 209.10,338.49L213.63,327.92A149.5,149.5 0 0 0 248.90,338.13Z" fill="none" stroke="#111" stroke-width="1.1"/>
<path d="M205.06,336.70A161.0,161.0 0 0 1 171.58,315.94L178.79,306.98A149.5,149.5 0 0 0 209.88,326.25Z" fill="url(#ig)"/>
<g fill="#0a0c0c"><path d="M205.06,336.70A161.0,161.0 0 0 1 204.21,336.30L209.09,325.88A149.5,149.5 0 0 0 209.88,326.25Z" fill-opacity="0.64"/><path d="M204.21,336.30A161.0,161.0 0 0 1 203.15,335.80L208.10,325.42A149.5,149.5 0 0 0 209.09,325.88Z" fill-opacity="0.97"/><path d="M203.15,335.80A161.0,161.0 0 0 1 202.64,335.55L207.63,325.19A149.5,149.5 0 0 0 208.10,325.42Z" fill-opacity="0.44"/><path d="M201.89,335.19A161.0,161.0 0 0 1 200.84,334.67L205.96,324.37A149.5,149.5 0 0 0 206.93,324.85Z" fill-opacity="0.69"/><path d="M200.84,334.67A161.0,161.0 0 0 1 200.48,334.49L205.63,324.21A149.5,149.5 0 0 0 205.96,324.37Z" fill-opacity="0.75"/><path d="M200.48,334.49A161.0,161.0 0 0 1 199.98,334.24L205.16,323.97A149.5,149.5 0 0 0 205.63,324.21Z" fill-opacity="0.48"/><path d="M198.79,333.64A161.0,161.0 0 0 1 198.04,333.25L203.36,323.05A149.5,149.5 0 0 0 204.06,323.41Z" fill-opacity="0.34"/><path d="M197.58,333.01A161.0,161.0 0 0 1 196.95,332.67L202.34,322.52A149.5,149.5 0 0 0 202.93,322.83Z" fill-opacity="0.38"/><path d="M194.87,331.55A161.0,161.0 0 0 1 194.51,331.35L200.08,321.29A149.5,149.5 0 0 0 200.42,321.48Z" fill-opacity="0.46"/><path d="M194.51,331.35A161.0,161.0 0 0 1 194.09,331.12L199.69,321.07A149.5,149.5 0 0 0 200.08,321.29Z" fill-opacity="0.37"/><path d="M193.31,330.68A161.0,161.0 0 0 1 192.05,329.96L197.79,320.00A149.5,149.5 0 0 0 198.97,320.66Z" fill-opacity="0.70"/><path d="M191.22,329.48A161.0,161.0 0 0 1 190.54,329.08L196.39,319.18A149.5,149.5 0 0 0 197.03,319.55Z" fill-opacity="0.97"/><path d="M190.54,329.08A161.0,161.0 0 0 1 189.52,328.47L195.44,318.61A149.5,149.5 0 0 0 196.39,319.18Z" fill-opacity="0.79"/><path d="M188.58,327.90A161.0,161.0 0 0 1 187.78,327.41L193.83,317.63A149.5,149.5 0 0 0 194.58,318.09Z" fill-opacity="0.69"/><path d="M187.78,327.41A161.0,161.0 0 0 1 186.59,326.66L192.73,316.94A149.5,149.5 0 0 0 193.83,317.63Z" fill-opacity="0.97"/><path d="M186.59,326.66A161.0,161.0 0 0 1 186.28,326.47L192.44,316.75A149.5,149.5 0 0 0 192.73,316.94Z" fill-opacity="0.38"/><path d="M186.28,326.47A161.0,161.0 0 0 1 185.91,326.23L192.10,316.54A149.5,149.5 0 0 0 192.44,316.75Z" fill-opacity="0.97"/><path d="M185.91,326.23A161.0,161.0 0 0 1 185.41,325.91L191.63,316.24A149.5,149.5 0 0 0 192.10,316.54Z" fill-opacity="0.43"/><path d="M185.41,325.91A161.0,161.0 0 0 1 184.23,325.15L190.53,315.53A149.5,149.5 0 0 0 191.63,316.24Z" fill-opacity="0.38"/><path d="M181.85,323.55A161.0,161.0 0 0 1 180.74,322.79L187.29,313.34A149.5,149.5 0 0 0 188.33,314.05Z" fill-opacity="0.61"/><path d="M180.74,322.79A161.0,161.0 0 0 1 179.74,322.09L186.37,312.70A149.5,149.5 0 0 0 187.29,313.34Z" fill-opacity="0.43"/><path d="M178.57,321.26A161.0,161.0 0 0 1 177.61,320.57L184.39,311.28A149.5,149.5 0 0 0 185.27,311.92Z" fill-opacity="0.97"/><path d="M173.66,317.59A161.0,161.0 0 0 1 173.22,317.25L180.31,308.19A149.5,149.5 0 0 0 180.72,308.51Z" fill-opacity="0.97"/><path d="M173.22,317.25A161.0,161.0 0 0 1 172.20,316.44L179.36,307.44A149.5,149.5 0 0 0 180.31,308.19Z" fill-opacity="0.63"/></g>
<g fill="#f8fafa"><path d="M202.64,335.55A161.0,161.0 0 0 1 201.89,335.19L206.93,324.85A149.5,149.5 0 0 0 207.63,325.19Z" fill-opacity="0.41"/><path d="M198.04,333.25A161.0,161.0 0 0 1 197.58,333.01L202.93,322.83A149.5,149.5 0 0 0 203.36,323.05Z" fill-opacity="0.53"/><path d="M196.95,332.67A161.0,161.0 0 0 1 196.16,332.25L201.61,322.12A149.5,149.5 0 0 0 202.34,322.52Z" fill-opacity="0.36"/><path d="M194.09,331.12A161.0,161.0 0 0 1 193.31,330.68L198.97,320.66A149.5,149.5 0 0 0 199.69,321.07Z" fill-opacity="0.36"/><path d="M192.05,329.96A161.0,161.0 0 0 1 191.22,329.48L197.03,319.55A149.5,149.5 0 0 0 197.79,320.00Z" fill-opacity="0.54"/><path d="M189.52,328.47A161.0,161.0 0 0 1 189.01,328.16L194.98,318.33A149.5,149.5 0 0 0 195.44,318.61Z" fill-opacity="0.40"/><path d="M189.01,328.16A161.0,161.0 0 0 1 188.58,327.90L194.58,318.09A149.5,149.5 0 0 0 194.98,318.33Z" fill-opacity="0.36"/><path d="M184.23,325.15A161.0,161.0 0 0 1 183.55,324.70L189.90,315.11A149.5,149.5 0 0 0 190.53,315.53Z" fill-opacity="0.59"/><path d="M183.55,324.70A161.0,161.0 0 0 1 182.34,323.89L188.78,314.36A149.5,149.5 0 0 0 189.90,315.11Z" fill-opacity="0.36"/><path d="M182.34,323.89A161.0,161.0 0 0 1 181.85,323.55L188.33,314.05A149.5,149.5 0 0 0 188.78,314.36Z" fill-opacity="0.58"/><path d="M179.74,322.09A161.0,161.0 0 0 1 178.57,321.26L185.27,311.92A149.5,149.5 0 0 0 186.37,312.70Z" fill-opacity="0.39"/><path d="M177.61,320.57A161.0,161.0 0 0 1 176.74,319.92L183.58,310.68A149.5,149.5 0 0 0 184.39,311.28Z" fill-opacity="0.50"/><path d="M176.74,319.92A161.0,161.0 0 0 1 175.79,319.22L182.70,310.03A149.5,149.5 0 0 0 183.58,310.68Z" fill-opacity="0.43"/><path d="M175.79,319.22A161.0,161.0 0 0 1 175.32,318.86L182.26,309.69A149.5,149.5 0 0 0 182.70,310.03Z" fill-opacity="0.47"/><path d="M175.32,318.86A161.0,161.0 0 0 1 174.93,318.57L181.90,309.42A149.5,149.5 0 0 0 182.26,309.69Z" fill-opacity="0.39"/><path d="M174.93,318.57A161.0,161.0 0 0 1 174.07,317.91L181.10,308.81A149.5,149.5 0 0 0 181.90,309.42Z" fill-opacity="0.53"/><path d="M174.07,317.91A161.0,161.0 0 0 1 173.66,317.59L180.72,308.51A149.5,149.5 0 0 0 181.10,308.81Z" fill-opacity="0.58"/><path d="M172.20,316.44A161.0,161.0 0 0 1 171.58,315.94L178.79,306.98A149.5,149.5 0 0 0 179.36,307.44Z" fill-opacity="0.58"/></g>
<path d="M191.80,329.81A161.0,161.0 0 0 1 190.49,329.04L196.34,319.15A149.5,149.5 0 0 0 197.56,319.86Z" fill="#d01424"/>
<path d="M205.06,336.70A161.0,161.0 0 0 1 171.58,315.94L178.79,306.98A149.5,149.5 0 0 0 209.88,326.25Z" fill="none" stroke="#111" stroke-width="1.1"/>
<path d="M168.17,313.13A161.0,161.0 0 0 1 141.71,284.39L151.06,277.69A149.5,149.5 0 0 0 175.63,304.37Z" fill="url(#ig)"/>
<g fill="#0a0c0c"><path d="M168.17,313.13A161.0,161.0 0 0 1 167.20,312.29L174.73,303.59A149.5,149.5 0 0 0 175.63,304.37Z" fill-opacity="0.39"/><path d="M167.20,312.29A161.0,161.0 0 0 1 166.68,311.84L174.24,303.17A149.5,149.5 0 0 0 174.73,303.59Z" fill-opacity="0.70"/><path d="M165.91,311.16A161.0,161.0 0 0 1 165.64,310.93L173.27,302.32A149.5,149.5 0 0 0 173.52,302.54Z" fill-opacity="0.41"/><path d="M165.64,310.93A161.0,161.0 0 0 1 165.30,310.62L172.95,302.04A149.5,149.5 0 0 0 173.27,302.32Z" fill-opacity="0.65"/><path d="M163.14,308.66A161.0,161.0 0 0 1 162.83,308.37L170.66,299.95A149.5,149.5 0 0 0 170.95,300.22Z" fill-opacity="0.97"/><path d="M162.83,308.37A161.0,161.0 0 0 1 162.56,308.12L170.42,299.72A149.5,149.5 0 0 0 170.66,299.95Z" fill-opacity="0.73"/><path d="M161.71,307.32A161.0,161.0 0 0 1 161.19,306.83L169.14,298.52A149.5,149.5 0 0 0 169.63,298.98Z" fill-opacity="0.97"/><path d="M161.19,306.83A161.0,161.0 0 0 1 160.14,305.81L168.17,297.58A149.5,149.5 0 0 0 169.14,298.52Z" fill-opacity="0.97"/><path d="M159.85,305.53A161.0,161.0 0 0 1 159.60,305.28L167.66,297.08A149.5,149.5 0 0 0 167.90,297.31Z" fill-opacity="0.36"/><path d="M154.82,300.37A161.0,161.0 0 0 1 154.55,300.09L162.98,292.26A149.5,149.5 0 0 0 163.23,292.53Z" fill-opacity="0.40"/><path d="M154.13,299.64A161.0,161.0 0 0 1 153.38,298.81L161.89,291.07A149.5,149.5 0 0 0 162.59,291.84Z" fill-opacity="0.72"/><path d="M153.02,298.42A161.0,161.0 0 0 1 152.51,297.84L161.08,290.18A149.5,149.5 0 0 0 161.56,290.71Z" fill-opacity="0.31"/><path d="M150.83,295.93A161.0,161.0 0 0 1 150.62,295.70L159.33,288.18A149.5,149.5 0 0 0 159.52,288.40Z" fill-opacity="0.97"/><path d="M150.62,295.70A161.0,161.0 0 0 1 150.07,295.05L158.81,287.59A149.5,149.5 0 0 0 159.33,288.18Z" fill-opacity="0.65"/><path d="M150.07,295.05A161.0,161.0 0 0 1 149.74,294.67L158.51,287.22A149.5,149.5 0 0 0 158.81,287.59Z" fill-opacity="0.67"/><path d="M148.27,292.91A161.0,161.0 0 0 1 148.00,292.58L156.89,285.28A149.5,149.5 0 0 0 157.14,285.60Z" fill-opacity="0.46"/><path d="M147.17,291.56A161.0,161.0 0 0 1 146.71,290.99L155.69,283.81A149.5,149.5 0 0 0 156.12,284.34Z" fill-opacity="0.31"/><path d="M146.71,290.99A161.0,161.0 0 0 1 145.89,289.96L154.94,282.85A149.5,149.5 0 0 0 155.69,283.81Z" fill-opacity="0.97"/><path d="M144.80,288.55A161.0,161.0 0 0 1 144.61,288.30L153.74,281.31A149.5,149.5 0 0 0 153.92,281.54Z" fill-opacity="0.97"/><path d="M144.27,287.86A161.0,161.0 0 0 1 143.92,287.39L153.10,280.47A149.5,149.5 0 0 0 153.43,280.90Z" fill-opacity="0.61"/><path d="M143.92,287.39A161.0,161.0 0 0 1 143.67,287.06L152.88,280.17A149.5,149.5 0 0 0 153.10,280.47Z" fill-opacity="0.34"/><path d="M143.67,287.06A161.0,161.0 0 0 1 143.49,286.81L152.70,279.93A149.5,149.5 0 0 0 152.88,280.17Z" fill-opacity="0.42"/><path d="M143.49,286.81A161.0,161.0 0 0 1 142.95,286.09L152.20,279.26A149.5,149.5 0 0 0 152.70,279.93Z" fill-opacity="0.32"/><path d="M142.95,286.09A161.0,161.0 0 0 1 142.17,285.03L151.48,278.28A149.5,149.5 0 0 0 152.20,279.26Z" fill-opacity="0.31"/></g>
<g fill="#f8fafa"><path d="M166.68,311.84A161.0,161.0 0 0 1 165.91,311.16L173.52,302.54A149.5,149.5 0 0 0 174.24,303.17Z" fill-opacity="0.41"/><path d="M165.30,310.62A161.0,161.0 0 0 1 164.72,310.10L172.42,301.56A149.5,149.5 0 0 0 172.95,302.04Z" fill-opacity="0.42"/><path d="M164.72,310.10A161.0,161.0 0 0 1 163.78,309.24L171.54,300.76A149.5,149.5 0 0 0 172.42,301.56Z" fill-opacity="0.39"/><path d="M163.78,309.24A161.0,161.0 0 0 1 163.14,308.66L170.95,300.22A149.5,149.5 0 0 0 171.54,300.76Z" fill-opacity="0.58"/><path d="M162.17,307.75A161.0,161.0 0 0 1 161.71,307.32L169.63,298.98A149.5,149.5 0 0 0 170.05,299.38Z" fill-opacity="0.40"/><path d="M160.14,305.81A161.0,161.0 0 0 1 159.85,305.53L167.90,297.31A149.5,149.5 0 0 0 168.17,297.58Z" fill-opacity="0.57"/><path d="M159.60,305.28A161.0,161.0 0 0 1 158.58,304.26L166.71,296.14A149.5,149.5 0 0 0 167.66,297.08Z" fill-opacity="0.55"/><path d="M158.58,304.26A161.0,161.0 0 0 1 158.09,303.77L166.26,295.68A149.5,149.5 0 0 0 166.71,296.14Z" fill-opacity="0.35"/><path d="M156.84,302.50A161.0,161.0 0 0 1 155.90,301.52L164.23,293.59A149.5,149.5 0 0 0 165.11,294.50Z" fill-opacity="0.49"/><path d="M155.90,301.52A161.0,161.0 0 0 1 155.59,301.19L163.94,293.29A149.5,149.5 0 0 0 164.23,293.59Z" fill-opacity="0.54"/><path d="M155.59,301.19A161.0,161.0 0 0 1 154.82,300.37L163.23,292.53A149.5,149.5 0 0 0 163.94,293.29Z" fill-opacity="0.37"/><path d="M154.55,300.09A161.0,161.0 0 0 1 154.13,299.64L162.59,291.84A149.5,149.5 0 0 0 162.98,292.26Z" fill-opacity="0.50"/><path d="M153.38,298.81A161.0,161.0 0 0 1 153.02,298.42L161.56,290.71A149.5,149.5 0 0 0 161.89,291.07Z" fill-opacity="0.53"/><path d="M152.51,297.84A161.0,161.0 0 0 1 151.68,296.92L160.31,289.31A149.5,149.5 0 0 0 161.08,290.18Z" fill-opacity="0.56"/><path d="M149.43,294.30A161.0,161.0 0 0 1 148.79,293.54L157.63,286.18A149.5,149.5 0 0 0 158.22,286.88Z" fill-opacity="0.48"/><path d="M148.00,292.58A161.0,161.0 0 0 1 147.17,291.56L156.12,284.34A149.5,149.5 0 0 0 156.89,285.28Z" fill-opacity="0.53"/><path d="M144.61,288.30A161.0,161.0 0 0 1 144.27,287.86L153.43,280.90A149.5,149.5 0 0 0 153.74,281.31Z" fill-opacity="0.38"/><path d="M141.92,284.68A161.0,161.0 0 0 1 141.71,284.39L151.06,277.69A149.5,149.5 0 0 0 151.24,277.95Z" fill-opacity="0.38"/></g>
<path d="M160.97,306.61A161.0,161.0 0 0 1 159.88,305.55L167.92,297.34A149.5,149.5 0 0 0 168.94,298.32Z" fill="#d01424"/>
<path d="M168.17,313.13A161.0,161.0 0 0 1 141.71,284.39L151.06,277.69A149.5,149.5 0 0 0 175.63,304.37Z" fill="none" stroke="#111" stroke-width="1.1"/>
<path d="M139.19,280.77A161.0,161.0 0 0 1 123.34,251.11L134.00,246.78A149.5,149.5 0 0 0 148.71,274.32Z" fill="url(#ig)"/>
<g fill="#0a0c0c"><path d="M136.65,276.91A161.0,161.0 0 0 1 136.23,276.24L145.97,270.12A149.5,149.5 0 0 0 146.35,270.73Z" fill-opacity="0.71"/><path d="M136.23,276.24A161.0,161.0 0 0 1 135.83,275.60L145.59,269.52A149.5,149.5 0 0 0 145.97,270.12Z" fill-opacity="0.97"/><path d="M134.84,274.00A161.0,161.0 0 0 1 134.10,272.76L143.99,266.89A149.5,149.5 0 0 0 144.68,268.03Z" fill-opacity="0.78"/><path d="M134.10,272.76A161.0,161.0 0 0 1 133.47,271.69L143.40,265.89A149.5,149.5 0 0 0 143.99,266.89Z" fill-opacity="0.61"/><path d="M133.47,271.69A161.0,161.0 0 0 1 133.02,270.91L142.98,265.17A149.5,149.5 0 0 0 143.40,265.89Z" fill-opacity="0.97"/><path d="M130.96,267.23A161.0,161.0 0 0 1 130.29,265.97L140.44,260.58A149.5,149.5 0 0 0 141.07,261.75Z" fill-opacity="0.49"/><path d="M130.29,265.97A161.0,161.0 0 0 1 129.80,265.06L140.00,259.73A149.5,149.5 0 0 0 140.44,260.58Z" fill-opacity="0.78"/><path d="M129.19,263.88A161.0,161.0 0 0 1 128.92,263.34L139.18,258.14A149.5,149.5 0 0 0 139.43,258.64Z" fill-opacity="0.35"/><path d="M128.92,263.34A161.0,161.0 0 0 1 128.50,262.51L138.79,257.37A149.5,149.5 0 0 0 139.18,258.14Z" fill-opacity="0.97"/><path d="M128.05,261.60A161.0,161.0 0 0 1 127.70,260.88L138.04,255.86A149.5,149.5 0 0 0 138.37,256.52Z" fill-opacity="0.97"/><path d="M127.43,260.32A161.0,161.0 0 0 1 127.24,259.93L137.61,254.97A149.5,149.5 0 0 0 137.79,255.33Z" fill-opacity="0.49"/><path d="M126.02,257.31A161.0,161.0 0 0 1 125.63,256.46L136.12,251.75A149.5,149.5 0 0 0 136.48,252.54Z" fill-opacity="0.72"/><path d="M125.63,256.46A161.0,161.0 0 0 1 125.24,255.58L135.76,250.94A149.5,149.5 0 0 0 136.12,251.75Z" fill-opacity="0.34"/><path d="M124.79,254.56A161.0,161.0 0 0 1 124.42,253.70L135.00,249.18A149.5,149.5 0 0 0 135.34,249.98Z" fill-opacity="0.39"/></g>
<g fill="#f8fafa"><path d="M139.19,280.77A161.0,161.0 0 0 1 138.76,280.14L148.31,273.73A149.5,149.5 0 0 0 148.71,274.32Z" fill-opacity="0.50"/><path d="M138.76,280.14A161.0,161.0 0 0 1 138.04,279.05L147.64,272.73A149.5,149.5 0 0 0 148.31,273.73Z" fill-opacity="0.49"/><path d="M138.04,279.05A161.0,161.0 0 0 1 137.40,278.08L147.05,271.82A149.5,149.5 0 0 0 147.64,272.73Z" fill-opacity="0.56"/><path d="M135.83,275.60A161.0,161.0 0 0 1 135.20,274.58L145.01,268.58A149.5,149.5 0 0 0 145.59,269.52Z" fill-opacity="0.41"/><path d="M133.02,270.91A161.0,161.0 0 0 1 132.33,269.71L142.34,264.05A149.5,149.5 0 0 0 142.98,265.17Z" fill-opacity="0.46"/><path d="M131.83,268.81A161.0,161.0 0 0 1 131.38,268.01L141.46,262.47A149.5,149.5 0 0 0 141.87,263.21Z" fill-opacity="0.46"/><path d="M131.38,268.01A161.0,161.0 0 0 1 130.96,267.23L141.07,261.75A149.5,149.5 0 0 0 141.46,262.47Z" fill-opacity="0.38"/><path d="M129.80,265.06A161.0,161.0 0 0 1 129.19,263.88L139.43,258.64A149.5,149.5 0 0 0 140.00,259.73Z" fill-opacity="0.51"/><path d="M128.50,262.51A161.0,161.0 0 0 1 128.05,261.60L138.37,256.52A149.5,149.5 0 0 0 138.79,257.37Z" fill-opacity="0.48"/><path d="M127.70,260.88A161.0,161.0 0 0 1 127.43,260.32L137.79,255.33A149.5,149.5 0 0 0 138.04,255.86Z" fill-opacity="0.51"/><path d="M127.24,259.93A161.0,161.0 0 0 1 126.85,259.12L137.26,254.22A149.5,149.5 0 0 0 137.61,254.97Z" fill-opacity="0.47"/><path d="M126.85,259.12A161.0,161.0 0 0 1 126.47,258.29L136.90,253.45A149.5,149.5 0 0 0 137.26,254.22Z" fill-opacity="0.38"/><path d="M126.47,258.29A161.0,161.0 0 0 1 126.28,257.88L136.72,253.07A149.5,149.5 0 0 0 136.90,253.45Z" fill-opacity="0.45"/><path d="M126.28,257.88A161.0,161.0 0 0 1 126.02,257.31L136.48,252.54A149.5,149.5 0 0 0 136.72,253.07Z" fill-opacity="0.37"/><path d="M124.42,253.70A161.0,161.0 0 0 1 124.17,253.09L134.76,248.62A149.5,149.5 0 0 0 135.00,249.18Z" fill-opacity="0.41"/><path d="M123.82,252.27A161.0,161.0 0 0 1 123.45,251.37L134.10,247.02A149.5,149.5 0 0 0 134.44,247.86Z" fill-opacity="0.44"/><path d="M123.45,251.37A161.0,161.0 0 0 1 123.34,251.11L134.00,246.78A149.5,149.5 0 0 0 134.10,247.02Z" fill-opacity="0.49"/></g>
<path d="M136.73,277.03A161.0,161.0 0 0 1 135.92,275.74L145.67,269.66A149.5,149.5 0 0 0 146.43,270.85Z" fill="#d01424"/>
<path d="M139.77,279.85A160.0,160.0 0 0 1 137.56,276.47L145.57,271.36A150.5,150.5 0 0 0 147.65,274.54Z" fill="#5a86cc"/>
<path d="M138.72,278.26A160.0,160.0 0 0 1 138.29,277.61L146.26,272.44A150.5,150.5 0 0 0 146.66,273.05Z" fill="#e8eef4"/>
<path d="M137.56,276.47A160.0,160.0 0 0 1 137.29,276.05L145.32,270.97A150.5,150.5 0 0 0 145.57,271.36Z" fill="#f0f0f0"/>
<path d="M139.19,280.77A161.0,161.0 0 0 1 123.34,251.11L134.00,246.78A149.5,149.5 0 0 0 148.71,274.32Z" fill="none" stroke="#111" stroke-width="1.1"/>
<path d="M121.74,246.99A161.0,161.0 0 0 1 113.65,216.70L124.99,214.83A149.5,149.5 0 0 0 132.51,242.96Z" fill="url(#ig)"/>
<g fill="#0a0c0c"><path d="M121.43,246.18A161.0,161.0 0 0 1 121.22,245.58L132.02,241.65A149.5,149.5 0 0 0 132.23,242.20Z" fill-opacity="0.33"/><path d="M121.22,245.58A161.0,161.0 0 0 1 121.09,245.23L131.90,241.32A149.5,149.5 0 0 0 132.02,241.65Z" fill-opacity="0.69"/><path d="M120.97,244.89A161.0,161.0 0 0 1 120.69,244.13L131.54,240.30A149.5,149.5 0 0 0 131.79,241.00Z" fill-opacity="0.32"/><path d="M120.69,244.13A161.0,161.0 0 0 1 120.51,243.60L131.37,239.81A149.5,149.5 0 0 0 131.54,240.30Z" fill-opacity="0.97"/><path d="M120.13,242.51A161.0,161.0 0 0 1 119.91,241.84L130.81,238.18A149.5,149.5 0 0 0 131.02,238.80Z" fill-opacity="0.42"/><path d="M119.91,241.84A161.0,161.0 0 0 1 119.50,240.62L130.43,237.04A149.5,149.5 0 0 0 130.81,238.18Z" fill-opacity="0.70"/><path d="M119.50,240.62A161.0,161.0 0 0 1 119.14,239.52L130.10,236.02A149.5,149.5 0 0 0 130.43,237.04Z" fill-opacity="0.45"/><path d="M119.14,239.52A161.0,161.0 0 0 1 118.89,238.71L129.86,235.27A149.5,149.5 0 0 0 130.10,236.02Z" fill-opacity="0.74"/><path d="M118.49,237.41A161.0,161.0 0 0 1 118.40,237.13L129.41,233.79A149.5,149.5 0 0 0 129.49,234.06Z" fill-opacity="0.42"/><path d="M118.40,237.13A161.0,161.0 0 0 1 118.15,236.29L129.17,233.02A149.5,149.5 0 0 0 129.41,233.79Z" fill-opacity="0.97"/><path d="M117.88,235.36A161.0,161.0 0 0 1 117.54,234.20L128.61,231.08A149.5,149.5 0 0 0 128.92,232.16Z" fill-opacity="0.72"/><path d="M117.35,233.49A161.0,161.0 0 0 1 117.13,232.69L128.23,229.68A149.5,149.5 0 0 0 128.43,230.42Z" fill-opacity="0.36"/><path d="M117.13,232.69A161.0,161.0 0 0 1 116.93,231.97L128.04,229.01A149.5,149.5 0 0 0 128.23,229.68Z" fill-opacity="0.38"/><path d="M116.93,231.97A161.0,161.0 0 0 1 116.76,231.32L127.89,228.41A149.5,149.5 0 0 0 128.04,229.01Z" fill-opacity="0.77"/><path d="M116.42,229.98A161.0,161.0 0 0 1 116.18,229.04L127.35,226.29A149.5,149.5 0 0 0 127.56,227.16Z" fill-opacity="0.32"/><path d="M115.86,227.71A161.0,161.0 0 0 1 115.57,226.47L126.78,223.90A149.5,149.5 0 0 0 127.05,225.05Z" fill-opacity="0.97"/><path d="M114.96,223.70A161.0,161.0 0 0 1 114.68,222.35L125.96,220.08A149.5,149.5 0 0 0 126.21,221.32Z" fill-opacity="0.41"/><path d="M114.40,220.92A161.0,161.0 0 0 1 114.23,220.04L125.54,217.93A149.5,149.5 0 0 0 125.69,218.75Z" fill-opacity="0.38"/><path d="M114.23,220.04A161.0,161.0 0 0 1 114.10,219.34L125.42,217.28A149.5,149.5 0 0 0 125.54,217.93Z" fill-opacity="0.37"/><path d="M114.10,219.34A161.0,161.0 0 0 1 113.86,217.96L125.19,216.00A149.5,149.5 0 0 0 125.42,217.28Z" fill-opacity="0.41"/><path d="M113.79,217.56A161.0,161.0 0 0 1 113.66,216.81L125.01,214.93A149.5,149.5 0 0 0 125.13,215.62Z" fill-opacity="0.41"/><path d="M113.66,216.81A161.0,161.0 0 0 1 113.65,216.70L124.99,214.83A149.5,149.5 0 0 0 125.01,214.93Z" fill-opacity="0.97"/></g>
<g fill="#f8fafa"><path d="M121.74,246.99A161.0,161.0 0 0 1 121.43,246.18L132.23,242.20A149.5,149.5 0 0 0 132.51,242.96Z" fill-opacity="0.60"/><path d="M120.51,243.60A161.0,161.0 0 0 1 120.13,242.51L131.02,238.80A149.5,149.5 0 0 0 131.37,239.81Z" fill-opacity="0.43"/><path d="M118.89,238.71A161.0,161.0 0 0 1 118.49,237.41L129.49,234.06A149.5,149.5 0 0 0 129.86,235.27Z" fill-opacity="0.57"/><path d="M116.54,230.47A161.0,161.0 0 0 1 116.42,229.98L127.56,227.16A149.5,149.5 0 0 0 127.68,227.62Z" fill-opacity="0.39"/><path d="M116.18,229.04A161.0,161.0 0 0 1 115.86,227.71L127.05,225.05A149.5,149.5 0 0 0 127.35,226.29Z" fill-opacity="0.56"/><path d="M115.45,225.95A161.0,161.0 0 0 1 115.16,224.63L126.40,222.19A149.5,149.5 0 0 0 126.67,223.42Z" fill-opacity="0.36"/></g>
<path d="M120.25,242.86A161.0,161.0 0 0 1 119.77,241.42L130.68,237.79A149.5,149.5 0 0 0 131.13,239.12Z" fill="#d01424"/>
<path d="M122.52,246.23A160.0,160.0 0 0 1 121.19,242.51L130.17,239.42A150.5,150.5 0 0 0 131.43,242.93Z" fill="#5a86cc"/>
<path d="M121.88,244.48A160.0,160.0 0 0 1 121.62,243.76L130.58,240.60A150.5,150.5 0 0 0 130.82,241.28Z" fill="#e8eef4"/>
<path d="M121.19,242.51A160.0,160.0 0 0 1 121.03,242.04L130.02,238.98A150.5,150.5 0 0 0 130.17,239.42Z" fill="#f0f0f0"/>
<path d="M121.74,246.99A161.0,161.0 0 0 1 113.65,216.70L124.99,214.83A149.5,149.5 0 0 0 132.51,242.96Z" fill="none" stroke="#111" stroke-width="1.1"/>
<path d="M112.99,212.33A161.0,161.0 0 0 1 111.70,182.41L123.19,182.99A149.5,149.5 0 0 0 124.38,210.78Z" fill="url(#ig)"/>
<g fill="#0a0c0c"><path d="M112.87,211.48A161.0,161.0 0 0 1 112.74,210.47L124.15,209.04A149.5,149.5 0 0 0 124.27,209.98Z" fill-opacity="0.67"/><path d="M112.74,210.47A161.0,161.0 0 0 1 112.63,209.56L124.05,208.20A149.5,149.5 0 0 0 124.15,209.04Z" fill-opacity="0.33"/><path d="M112.63,209.56A161.0,161.0 0 0 1 112.55,208.90L123.98,207.58A149.5,149.5 0 0 0 124.05,208.20Z" fill-opacity="0.77"/><path d="M112.46,208.01A161.0,161.0 0 0 1 112.34,206.92L123.78,205.75A149.5,149.5 0 0 0 123.89,206.76Z" fill-opacity="0.50"/><path d="M111.99,203.06A161.0,161.0 0 0 1 111.94,202.35L123.41,201.51A149.5,149.5 0 0 0 123.46,202.16Z" fill-opacity="0.73"/><path d="M111.91,202.01A161.0,161.0 0 0 1 111.87,201.36L123.34,200.59A149.5,149.5 0 0 0 123.38,201.19Z" fill-opacity="0.30"/><path d="M111.87,201.36A161.0,161.0 0 0 1 111.82,200.72L123.30,199.99A149.5,149.5 0 0 0 123.34,200.59Z" fill-opacity="0.42"/><path d="M111.71,198.70A161.0,161.0 0 0 1 111.67,197.79L123.15,197.27A149.5,149.5 0 0 0 123.19,198.12Z" fill-opacity="0.71"/><path d="M111.50,190.95A161.0,161.0 0 0 1 111.50,190.55L123.00,190.54A149.5,149.5 0 0 0 123.00,190.92Z" fill-opacity="0.42"/><path d="M111.51,189.10A161.0,161.0 0 0 1 111.52,188.13L123.02,188.30A149.5,149.5 0 0 0 123.01,189.20Z" fill-opacity="0.69"/><path d="M111.54,187.11A161.0,161.0 0 0 1 111.57,185.73L123.07,186.07A149.5,149.5 0 0 0 123.03,187.35Z" fill-opacity="0.36"/><path d="M111.57,185.73A161.0,161.0 0 0 1 111.62,184.38L123.11,184.82A149.5,149.5 0 0 0 123.07,186.07Z" fill-opacity="0.36"/><path d="M111.62,184.38A161.0,161.0 0 0 1 111.66,183.39L123.15,183.89A149.5,149.5 0 0 0 123.11,184.82Z" fill-opacity="0.70"/></g>
<g fill="#f8fafa"><path d="M112.55,208.90A161.0,161.0 0 0 1 112.46,208.01L123.89,206.76A149.5,149.5 0 0 0 123.98,207.58Z" fill-opacity="0.57"/><path d="M112.34,206.92A161.0,161.0 0 0 1 112.21,205.59L123.66,204.52A149.5,149.5 0 0 0 123.78,205.75Z" fill-opacity="0.39"/><path d="M112.15,204.96A161.0,161.0 0 0 1 112.07,204.08L123.53,203.11A149.5,149.5 0 0 0 123.60,203.93Z" fill-opacity="0.40"/><path d="M111.94,202.35A161.0,161.0 0 0 1 111.91,202.01L123.38,201.19A149.5,149.5 0 0 0 123.41,201.51Z" fill-opacity="0.55"/><path d="M111.82,200.72A161.0,161.0 0 0 1 111.76,199.64L123.24,198.99A149.5,149.5 0 0 0 123.30,199.99Z" fill-opacity="0.47"/><path d="M111.76,199.64A161.0,161.0 0 0 1 111.71,198.70L123.19,198.12A149.5,149.5 0 0 0 123.24,198.99Z" fill-opacity="0.51"/><path d="M111.67,197.79A161.0,161.0 0 0 1 111.63,197.02L123.12,196.55A149.5,149.5 0 0 0 123.15,197.27Z" fill-opacity="0.39"/><path d="M111.63,197.02A161.0,161.0 0 0 1 111.59,195.84L123.08,195.46A149.5,149.5 0 0 0 123.12,196.55Z" fill-opacity="0.38"/><path d="M111.54,194.09A161.0,161.0 0 0 1 111.52,192.85L123.02,192.69A149.5,149.5 0 0 0 123.04,193.83Z" fill-opacity="0.35"/><path d="M111.52,192.85A161.0,161.0 0 0 1 111.50,191.66L123.00,191.58A149.5,149.5 0 0 0 123.02,192.69Z" fill-opacity="0.53"/><path d="M111.50,191.66A161.0,161.0 0 0 1 111.50,190.95L123.00,190.92A149.5,149.5 0 0 0 123.00,191.58Z" fill-opacity="0.42"/><path d="M111.50,189.84A161.0,161.0 0 0 1 111.51,189.10L123.01,189.20A149.5,149.5 0 0 0 123.00,189.89Z" fill-opacity="0.57"/><path d="M111.52,188.13A161.0,161.0 0 0 1 111.54,187.11L123.03,187.35A149.5,149.5 0 0 0 123.02,188.30Z" fill-opacity="0.36"/><path d="M111.66,183.39A161.0,161.0 0 0 1 111.70,182.41L123.19,182.99A149.5,149.5 0 0 0 123.15,183.89Z" fill-opacity="0.45"/></g>
<path d="M112.41,207.57A161.0,161.0 0 0 1 112.25,206.06L123.70,204.95A149.5,149.5 0 0 0 123.84,206.35Z" fill="#d01424"/>
<path d="M113.92,211.77A160.0,160.0 0 0 1 113.40,207.44L122.85,206.43A150.5,150.5 0 0 0 123.34,210.50Z" fill="#5a86cc"/>
<path d="M113.66,209.73A160.0,160.0 0 0 1 113.56,208.91L123.00,207.82A150.5,150.5 0 0 0 123.09,208.59Z" fill="#e8eef4"/>
<path d="M113.40,207.44A160.0,160.0 0 0 1 113.35,206.95L122.80,205.97A150.5,150.5 0 0 0 122.85,206.43Z" fill="#f0f0f0"/>
<path d="M112.99,212.33A161.0,161.0 0 0 1 111.70,182.41L123.19,182.99A149.5,149.5 0 0 0 124.38,210.78Z" fill="none" stroke="#111" stroke-width="1.1"/>
<path d="M111.99,178.00A161.0,161.0 0 0 1 116.19,151.94L127.35,154.69A149.5,149.5 0 0 0 123.45,178.90Z" fill="url(#ig)"/>
<g fill="#0a0c0c"><path d="M112.39,173.64A161.0,161.0 0 0 1 112.45,173.01L123.88,174.26A149.5,149.5 0 0 0 123.82,174.84Z" fill-opacity="0.32"/><path d="M112.86,169.58A161.0,161.0 0 0 1 112.91,169.25L124.31,170.77A149.5,149.5 0 0 0 124.27,171.07Z" fill-opacity="0.37"/><path d="M112.91,169.25A161.0,161.0 0 0 1 112.97,168.78L124.37,170.33A149.5,149.5 0 0 0 124.31,170.77Z" fill-opacity="0.32"/><path d="M112.97,168.78A161.0,161.0 0 0 1 113.06,168.18L124.44,169.77A149.5,149.5 0 0 0 124.37,170.33Z" fill-opacity="0.63"/><path d="M113.06,168.18A161.0,161.0 0 0 1 113.17,167.37L124.55,169.03A149.5,149.5 0 0 0 124.44,169.77Z" fill-opacity="0.76"/><path d="M113.24,166.90A161.0,161.0 0 0 1 113.35,166.17L124.72,167.91A149.5,149.5 0 0 0 124.61,168.59Z" fill-opacity="0.97"/><path d="M113.35,166.17A161.0,161.0 0 0 1 113.43,165.64L124.79,167.42A149.5,149.5 0 0 0 124.72,167.91Z" fill-opacity="0.97"/><path d="M113.57,164.77A161.0,161.0 0 0 1 113.64,164.33L124.99,166.20A149.5,149.5 0 0 0 124.92,166.61Z" fill-opacity="0.35"/><path d="M113.64,164.33A161.0,161.0 0 0 1 113.87,163.01L125.20,164.97A149.5,149.5 0 0 0 124.99,166.20Z" fill-opacity="0.37"/><path d="M113.87,163.01A161.0,161.0 0 0 1 113.97,162.43L125.29,164.44A149.5,149.5 0 0 0 125.20,164.97Z" fill-opacity="0.34"/><path d="M114.37,160.23A161.0,161.0 0 0 1 114.51,159.50L125.80,161.72A149.5,149.5 0 0 0 125.67,162.39Z" fill-opacity="0.41"/><path d="M114.72,158.47A161.0,161.0 0 0 1 114.85,157.82L126.11,160.15A149.5,149.5 0 0 0 125.99,160.76Z" fill-opacity="0.32"/><path d="M115.63,154.28A161.0,161.0 0 0 1 115.94,152.96L127.12,155.65A149.5,149.5 0 0 0 126.83,156.87Z" fill-opacity="0.48"/></g>
<g fill="#f8fafa"><path d="M111.99,178.00A161.0,161.0 0 0 1 112.08,176.87L123.54,177.85A149.5,149.5 0 0 0 123.45,178.90Z" fill-opacity="0.43"/><path d="M112.19,175.56A161.0,161.0 0 0 1 112.31,174.35L123.75,175.50A149.5,149.5 0 0 0 123.64,176.63Z" fill-opacity="0.39"/><path d="M112.31,174.35A161.0,161.0 0 0 1 112.39,173.64L123.82,174.84A149.5,149.5 0 0 0 123.75,175.50Z" fill-opacity="0.59"/><path d="M112.55,172.10A161.0,161.0 0 0 1 112.64,171.34L124.06,172.71A149.5,149.5 0 0 0 123.98,173.41Z" fill-opacity="0.38"/><path d="M112.64,171.34A161.0,161.0 0 0 1 112.80,170.09L124.21,171.55A149.5,149.5 0 0 0 124.06,172.71Z" fill-opacity="0.41"/><path d="M112.80,170.09A161.0,161.0 0 0 1 112.86,169.58L124.27,171.07A149.5,149.5 0 0 0 124.21,171.55Z" fill-opacity="0.41"/><path d="M113.17,167.37A161.0,161.0 0 0 1 113.24,166.90L124.61,168.59A149.5,149.5 0 0 0 124.55,169.03Z" fill-opacity="0.53"/><path d="M113.43,165.64A161.0,161.0 0 0 1 113.57,164.77L124.92,166.61A149.5,149.5 0 0 0 124.79,167.42Z" fill-opacity="0.46"/><path d="M113.97,162.43A161.0,161.0 0 0 1 114.20,161.14L125.51,163.24A149.5,149.5 0 0 0 125.29,164.44Z" fill-opacity="0.48"/><path d="M114.20,161.14A161.0,161.0 0 0 1 114.37,160.23L125.67,162.39A149.5,149.5 0 0 0 125.51,163.24Z" fill-opacity="0.54"/><path d="M114.64,158.86A161.0,161.0 0 0 1 114.72,158.47L125.99,160.76A149.5,149.5 0 0 0 125.92,161.12Z" fill-opacity="0.56"/><path d="M115.05,156.89A161.0,161.0 0 0 1 115.23,156.03L126.47,158.49A149.5,149.5 0 0 0 126.29,159.29Z" fill-opacity="0.37"/><path d="M115.23,156.03A161.0,161.0 0 0 1 115.38,155.39L126.60,157.90A149.5,149.5 0 0 0 126.47,158.49Z" fill-opacity="0.38"/><path d="M115.38,155.39A161.0,161.0 0 0 1 115.63,154.28L126.83,156.87A149.5,149.5 0 0 0 126.60,157.90Z" fill-opacity="0.45"/><path d="M115.94,152.96A161.0,161.0 0 0 1 116.19,151.94L127.35,154.69A149.5,149.5 0 0 0 127.12,155.65Z" fill-opacity="0.42"/></g>
<path d="M113.20,167.13A161.0,161.0 0 0 1 113.62,164.47L124.97,166.33A149.5,149.5 0 0 0 124.58,168.80Z" fill="url(#ig)"/>
<path d="M113.06,168.12A161.0,161.0 0 0 1 113.28,166.61L124.65,168.32A149.5,149.5 0 0 0 124.45,169.72Z" fill="#d01424"/>
<path d="M111.99,178.00A161.0,161.0 0 0 1 116.19,151.94L127.35,154.69A149.5,149.5 0 0 0 123.45,178.90Z" fill="none" stroke="#111" stroke-width="1.1"/>
<path d="M117.30,147.67A161.0,161.0 0 0 1 125.29,125.32L135.80,129.97A149.5,149.5 0 0 0 128.39,150.72Z" fill="url(#ig)"/>
<g fill="#0a0c0c"><path d="M117.30,147.67A161.0,161.0 0 0 1 117.39,147.35L128.47,150.43A149.5,149.5 0 0 0 128.39,150.72Z" fill-opacity="0.43"/><path d="M118.23,144.44A161.0,161.0 0 0 1 118.56,143.34L129.56,146.71A149.5,149.5 0 0 0 129.25,147.73Z" fill-opacity="0.31"/><path d="M119.05,141.77A161.0,161.0 0 0 1 119.20,141.29L130.15,144.81A149.5,149.5 0 0 0 130.01,145.25Z" fill-opacity="0.41"/><path d="M119.90,139.18A161.0,161.0 0 0 1 120.31,137.98L131.18,141.73A149.5,149.5 0 0 0 130.80,142.85Z" fill-opacity="0.36"/><path d="M120.31,137.98A161.0,161.0 0 0 1 120.42,137.66L131.28,141.43A149.5,149.5 0 0 0 131.18,141.73Z" fill-opacity="0.42"/><path d="M121.34,135.08A161.0,161.0 0 0 1 121.60,134.37L132.38,138.38A149.5,149.5 0 0 0 132.14,139.04Z" fill-opacity="0.47"/><path d="M121.82,133.79A161.0,161.0 0 0 1 122.10,133.05L132.84,137.16A149.5,149.5 0 0 0 132.58,137.84Z" fill-opacity="0.74"/><path d="M122.10,133.05A161.0,161.0 0 0 1 122.51,131.97L133.23,136.16A149.5,149.5 0 0 0 132.84,137.16Z" fill-opacity="0.43"/><path d="M123.63,129.20A161.0,161.0 0 0 1 123.76,128.88L134.38,133.28A149.5,149.5 0 0 0 134.26,133.57Z" fill-opacity="0.46"/></g>
<g fill="#f8fafa"><path d="M117.39,147.35A161.0,161.0 0 0 1 117.58,146.67L128.65,149.80A149.5,149.5 0 0 0 128.47,150.43Z" fill-opacity="0.51"/><path d="M117.58,146.67A161.0,161.0 0 0 1 117.89,145.60L128.93,148.81A149.5,149.5 0 0 0 128.65,149.80Z" fill-opacity="0.56"/><path d="M118.08,144.93A161.0,161.0 0 0 1 118.23,144.44L129.25,147.73A149.5,149.5 0 0 0 129.11,148.18Z" fill-opacity="0.58"/><path d="M118.56,143.34A161.0,161.0 0 0 1 118.66,143.02L129.65,146.41A149.5,149.5 0 0 0 129.56,146.71Z" fill-opacity="0.40"/><path d="M118.66,143.02A161.0,161.0 0 0 1 118.85,142.40L129.83,145.84A149.5,149.5 0 0 0 129.65,146.41Z" fill-opacity="0.36"/><path d="M119.20,141.29A161.0,161.0 0 0 1 119.55,140.22L130.48,143.81A149.5,149.5 0 0 0 130.15,144.81Z" fill-opacity="0.46"/><path d="M119.55,140.22A161.0,161.0 0 0 1 119.90,139.18L130.80,142.85A149.5,149.5 0 0 0 130.48,143.81Z" fill-opacity="0.35"/><path d="M120.42,137.66A161.0,161.0 0 0 1 120.53,137.33L131.39,141.13A149.5,149.5 0 0 0 131.28,141.43Z" fill-opacity="0.38"/><path d="M120.53,137.33A161.0,161.0 0 0 1 120.94,136.18L131.77,140.06A149.5,149.5 0 0 0 131.39,141.13Z" fill-opacity="0.58"/><path d="M120.94,136.18A161.0,161.0 0 0 1 121.34,135.08L132.14,139.04A149.5,149.5 0 0 0 131.77,140.06Z" fill-opacity="0.52"/><path d="M121.60,134.37A161.0,161.0 0 0 1 121.82,133.79L132.58,137.84A149.5,149.5 0 0 0 132.38,138.38Z" fill-opacity="0.59"/><path d="M122.51,131.97A161.0,161.0 0 0 1 122.81,131.21L133.51,135.44A149.5,149.5 0 0 0 133.23,136.16Z" fill-opacity="0.52"/><path d="M123.11,130.47A161.0,161.0 0 0 1 123.63,129.20L134.26,133.57A149.5,149.5 0 0 0 133.78,134.76Z" fill-opacity="0.54"/><path d="M124.55,127.01A161.0,161.0 0 0 1 124.92,126.16L135.46,130.75A149.5,149.5 0 0 0 135.11,131.55Z" fill-opacity="0.36"/><path d="M124.92,126.16A161.0,161.0 0 0 1 125.20,125.51L135.72,130.15A149.5,149.5 0 0 0 135.46,130.75Z" fill-opacity="0.40"/><path d="M125.20,125.51A161.0,161.0 0 0 1 125.29,125.32L135.80,129.97A149.5,149.5 0 0 0 135.72,130.15Z" fill-opacity="0.53"/></g>
<path d="M119.09,141.66A161.0,161.0 0 0 1 119.55,140.22L130.48,143.81A149.5,149.5 0 0 0 130.04,145.15Z" fill="#d01424"/>
<path d="M117.30,147.67A161.0,161.0 0 0 1 125.29,125.32L135.80,129.97A149.5,149.5 0 0 0 128.39,150.72Z" fill="none" stroke="#111" stroke-width="1.1"/>
<path d="M127.13,121.30A161.0,161.0 0 0 1 138.37,101.44L147.95,107.81A149.5,149.5 0 0 0 137.51,126.25Z" fill="url(#ig)"/>
<g fill="#0a0c0c"><path d="M129.20,117.10A161.0,161.0 0 0 1 129.52,116.49L139.73,121.78A149.5,149.5 0 0 0 139.44,122.34Z" fill-opacity="0.71"/><path d="M130.53,114.57A161.0,161.0 0 0 1 131.10,113.52L141.20,119.02A149.5,149.5 0 0 0 140.67,119.99Z" fill-opacity="0.62"/><path d="M131.66,112.50A161.0,161.0 0 0 1 131.91,112.04L141.95,117.65A149.5,149.5 0 0 0 141.72,118.07Z" fill-opacity="0.39"/><path d="M132.47,111.05A161.0,161.0 0 0 1 132.62,110.78L142.61,116.48A149.5,149.5 0 0 0 142.47,116.72Z" fill-opacity="0.97"/><path d="M133.20,109.77A161.0,161.0 0 0 1 133.93,108.53L143.83,114.38A149.5,149.5 0 0 0 143.15,115.53Z" fill-opacity="0.32"/><path d="M134.64,107.34A161.0,161.0 0 0 1 134.80,107.08L144.63,113.04A149.5,149.5 0 0 0 144.49,113.28Z" fill-opacity="0.97"/><path d="M134.80,107.08A161.0,161.0 0 0 1 135.34,106.19L145.14,112.21A149.5,149.5 0 0 0 144.63,113.04Z" fill-opacity="0.49"/><path d="M136.82,103.83A161.0,161.0 0 0 1 137.38,102.95L147.03,109.21A149.5,149.5 0 0 0 146.51,110.02Z" fill-opacity="0.79"/><path d="M137.38,102.95A161.0,161.0 0 0 1 137.65,102.54L147.28,108.83A149.5,149.5 0 0 0 147.03,109.21Z" fill-opacity="0.77"/></g>
<g fill="#f8fafa"><path d="M127.13,121.30A161.0,161.0 0 0 1 127.59,120.33L137.95,125.34A149.5,149.5 0 0 0 137.51,126.25Z" fill-opacity="0.41"/><path d="M127.99,119.53A161.0,161.0 0 0 1 128.60,118.28L138.88,123.44A149.5,149.5 0 0 0 138.31,124.60Z" fill-opacity="0.42"/><path d="M128.60,118.28A161.0,161.0 0 0 1 129.20,117.10L139.44,122.34A149.5,149.5 0 0 0 138.88,123.44Z" fill-opacity="0.49"/><path d="M129.52,116.49A161.0,161.0 0 0 1 130.06,115.45L140.24,120.81A149.5,149.5 0 0 0 139.73,121.78Z" fill-opacity="0.52"/><path d="M131.40,112.97A161.0,161.0 0 0 1 131.66,112.50L141.72,118.07A149.5,149.5 0 0 0 141.48,118.51Z" fill-opacity="0.42"/><path d="M131.91,112.04A161.0,161.0 0 0 1 132.12,111.67L142.14,117.30A149.5,149.5 0 0 0 141.95,117.65Z" fill-opacity="0.47"/><path d="M132.12,111.67A161.0,161.0 0 0 1 132.47,111.05L142.47,116.72A149.5,149.5 0 0 0 142.14,117.30Z" fill-opacity="0.37"/><path d="M132.62,110.78A161.0,161.0 0 0 1 133.20,109.77L143.15,115.53A149.5,149.5 0 0 0 142.61,116.48Z" fill-opacity="0.53"/><path d="M135.34,106.19A161.0,161.0 0 0 1 135.90,105.29L145.65,111.38A149.5,149.5 0 0 0 145.14,112.21Z" fill-opacity="0.41"/><path d="M135.90,105.29A161.0,161.0 0 0 1 136.14,104.91L145.88,111.02A149.5,149.5 0 0 0 145.65,111.38Z" fill-opacity="0.54"/><path d="M136.14,104.91A161.0,161.0 0 0 1 136.82,103.83L146.51,110.02A149.5,149.5 0 0 0 145.88,111.02Z" fill-opacity="0.40"/><path d="M137.65,102.54A161.0,161.0 0 0 1 138.29,101.57L147.87,107.93A149.5,149.5 0 0 0 147.28,108.83Z" fill-opacity="0.40"/><path d="M138.29,101.57A161.0,161.0 0 0 1 138.37,101.44L147.95,107.81A149.5,149.5 0 0 0 147.87,107.93Z" fill-opacity="0.44"/></g>
<path d="M129.02,117.47A161.0,161.0 0 0 1 129.71,116.12L139.91,121.43A149.5,149.5 0 0 0 139.26,122.69Z" fill="#d01424"/>
<path d="M127.13,121.30A161.0,161.0 0 0 1 138.37,101.44L147.95,107.81A149.5,149.5 0 0 0 137.51,126.25Z" fill="none" stroke="#111" stroke-width="1.1"/>
<path d="M140.87,97.80A161.0,161.0 0 0 1 151.57,84.22L160.20,91.81A149.5,149.5 0 0 0 150.27,104.42Z" fill="url(#ig)"/>
<g fill="#0a0c0c"><path d="M141.74,96.57A161.0,161.0 0 0 1 142.34,95.74L151.64,102.50A149.5,149.5 0 0 0 151.08,103.28Z" fill-opacity="0.44"/><path d="M142.34,95.74A161.0,161.0 0 0 1 143.14,94.65L152.38,101.49A149.5,149.5 0 0 0 151.64,102.50Z" fill-opacity="0.70"/><path d="M145.91,91.02A161.0,161.0 0 0 1 146.10,90.78L155.13,97.91A149.5,149.5 0 0 0 154.96,98.12Z" fill-opacity="0.47"/><path d="M146.85,89.83A161.0,161.0 0 0 1 147.24,89.35L156.19,96.57A149.5,149.5 0 0 0 155.83,97.02Z" fill-opacity="0.40"/><path d="M147.74,88.74A161.0,161.0 0 0 1 148.42,87.91L157.28,95.24A149.5,149.5 0 0 0 156.65,96.01Z" fill-opacity="0.48"/><path d="M149.59,86.51A161.0,161.0 0 0 1 150.52,85.42L159.23,92.92A149.5,149.5 0 0 0 158.37,93.93Z" fill-opacity="0.47"/><path d="M150.52,85.42A161.0,161.0 0 0 1 151.46,84.34L160.11,91.92A149.5,149.5 0 0 0 159.23,92.92Z" fill-opacity="0.72"/></g>
<g fill="#f8fafa"><path d="M140.87,97.80A161.0,161.0 0 0 1 141.41,97.03L150.77,103.71A149.5,149.5 0 0 0 150.27,104.42Z" fill-opacity="0.56"/><path d="M141.41,97.03A161.0,161.0 0 0 1 141.74,96.57L151.08,103.28A149.5,149.5 0 0 0 150.77,103.71Z" fill-opacity="0.49"/><path d="M143.14,94.65A161.0,161.0 0 0 1 143.67,93.94L152.87,100.84A149.5,149.5 0 0 0 152.38,101.49Z" fill-opacity="0.42"/><path d="M143.67,93.94A161.0,161.0 0 0 1 144.25,93.17L153.41,100.12A149.5,149.5 0 0 0 152.87,100.84Z" fill-opacity="0.52"/><path d="M144.55,92.78A161.0,161.0 0 0 1 145.42,91.65L154.50,98.71A149.5,149.5 0 0 0 153.69,99.76Z" fill-opacity="0.36"/><path d="M145.42,91.65A161.0,161.0 0 0 1 145.91,91.02L154.96,98.12A149.5,149.5 0 0 0 154.50,98.71Z" fill-opacity="0.53"/><path d="M147.24,89.35A161.0,161.0 0 0 1 147.74,88.74L156.65,96.01A149.5,149.5 0 0 0 156.19,96.57Z" fill-opacity="0.46"/><path d="M148.42,87.91A161.0,161.0 0 0 1 148.73,87.54L157.57,94.89A149.5,149.5 0 0 0 157.28,95.24Z" fill-opacity="0.46"/><path d="M148.73,87.54A161.0,161.0 0 0 1 149.34,86.81L158.14,94.21A149.5,149.5 0 0 0 157.57,94.89Z" fill-opacity="0.40"/><path d="M149.34,86.81A161.0,161.0 0 0 1 149.59,86.51L158.37,93.93A149.5,149.5 0 0 0 158.14,94.21Z" fill-opacity="0.47"/><path d="M151.46,84.34A161.0,161.0 0 0 1 151.57,84.22L160.20,91.81A149.5,149.5 0 0 0 160.11,91.92Z" fill-opacity="0.52"/></g>
<path d="M145.01,92.17A161.0,161.0 0 0 1 145.95,90.97L154.99,98.08A149.5,149.5 0 0 0 154.12,99.20Z" fill="#d01424"/>
<path d="M140.87,97.80A161.0,161.0 0 0 1 151.57,84.22L160.20,91.81A149.5,149.5 0 0 0 150.27,104.42Z" fill="none" stroke="#111" stroke-width="1.1"/>
<path d="M154.53,80.94A161.0,161.0 0 0 1 167.82,68.18L175.30,76.92A149.5,149.5 0 0 0 162.95,88.77Z" fill="url(#ig)"/>
<g fill="#0a0c0c"><path d="M158.60,76.71A161.0,161.0 0 0 1 158.88,76.43L167.00,84.58A149.5,149.5 0 0 0 166.74,84.84Z" fill-opacity="0.37"/><path d="M159.57,75.75A161.0,161.0 0 0 1 160.22,75.11L168.24,83.35A149.5,149.5 0 0 0 167.64,83.94Z" fill-opacity="0.38"/><path d="M164.05,71.50A161.0,161.0 0 0 1 165.02,70.63L172.70,79.19A149.5,149.5 0 0 0 171.80,80.00Z" fill-opacity="0.44"/><path d="M167.32,68.60A161.0,161.0 0 0 1 167.82,68.18L175.30,76.92A149.5,149.5 0 0 0 174.84,77.31Z" fill-opacity="0.33"/></g>
<g fill="#f8fafa"><path d="M154.53,80.94A161.0,161.0 0 0 1 155.21,80.21L163.59,88.08A149.5,149.5 0 0 0 162.95,88.77Z" fill-opacity="0.49"/><path d="M156.18,79.19A161.0,161.0 0 0 1 156.91,78.43L165.17,86.43A149.5,149.5 0 0 0 164.49,87.14Z" fill-opacity="0.44"/><path d="M156.91,78.43A161.0,161.0 0 0 1 157.84,77.48L166.03,85.55A149.5,149.5 0 0 0 165.17,86.43Z" fill-opacity="0.40"/><path d="M160.22,75.11A161.0,161.0 0 0 1 160.53,74.81L168.53,83.08A149.5,149.5 0 0 0 168.24,83.35Z" fill-opacity="0.57"/><path d="M160.53,74.81A161.0,161.0 0 0 1 161.20,74.16L169.15,82.47A149.5,149.5 0 0 0 168.53,83.08Z" fill-opacity="0.57"/><path d="M161.20,74.16A161.0,161.0 0 0 1 161.63,73.76L169.55,82.10A149.5,149.5 0 0 0 169.15,82.47Z" fill-opacity="0.48"/><path d="M162.06,73.35A161.0,161.0 0 0 1 162.74,72.71L170.58,81.12A149.5,149.5 0 0 0 169.94,81.72Z" fill-opacity="0.49"/><path d="M163.05,72.42A161.0,161.0 0 0 1 163.78,71.76L171.54,80.24A149.5,149.5 0 0 0 170.87,80.86Z" fill-opacity="0.45"/><path d="M165.02,70.63A161.0,161.0 0 0 1 165.90,69.84L173.52,78.46A149.5,149.5 0 0 0 172.70,79.19Z" fill-opacity="0.60"/><path d="M165.90,69.84A161.0,161.0 0 0 1 166.76,69.10L174.31,77.77A149.5,149.5 0 0 0 173.52,78.46Z" fill-opacity="0.56"/><path d="M166.76,69.10A161.0,161.0 0 0 1 167.32,68.60L174.84,77.31A149.5,149.5 0 0 0 174.31,77.77Z" fill-opacity="0.59"/></g>
<path d="M159.60,75.72A161.0,161.0 0 0 1 160.69,74.66L168.68,82.93A149.5,149.5 0 0 0 167.67,83.92Z" fill="#d01424"/>
<path d="M154.53,80.94A161.0,161.0 0 0 1 167.82,68.18L175.30,76.92A149.5,149.5 0 0 0 162.95,88.77Z" fill="none" stroke="#111" stroke-width="1.1"/>
<path d="M171.21,65.35A161.0,161.0 0 0 1 182.53,56.98L188.96,66.52A149.5,149.5 0 0 0 178.45,74.29Z" fill="url(#ig)"/>
<g fill="#0a0c0c"><path d="M173.15,63.81A161.0,161.0 0 0 1 173.77,63.33L180.82,72.41A149.5,149.5 0 0 0 180.24,72.86Z" fill-opacity="0.72"/><path d="M173.77,63.33A161.0,161.0 0 0 1 174.81,62.53L181.79,71.67A149.5,149.5 0 0 0 180.82,72.41Z" fill-opacity="0.48"/><path d="M175.85,61.73A161.0,161.0 0 0 1 176.41,61.32L183.27,70.55A149.5,149.5 0 0 0 182.76,70.93Z" fill-opacity="0.44"/><path d="M177.42,60.57A161.0,161.0 0 0 1 178.36,59.89L185.08,69.22A149.5,149.5 0 0 0 184.21,69.85Z" fill-opacity="0.97"/><path d="M181.52,57.67A161.0,161.0 0 0 1 182.19,57.21L188.64,66.73A149.5,149.5 0 0 0 188.01,67.16Z" fill-opacity="0.72"/></g>
<g fill="#f8fafa"><path d="M171.21,65.35A161.0,161.0 0 0 1 172.15,64.60L179.32,73.59A149.5,149.5 0 0 0 178.45,74.29Z" fill-opacity="0.41"/><path d="M172.15,64.60A161.0,161.0 0 0 1 172.72,64.15L179.85,73.17A149.5,149.5 0 0 0 179.32,73.59Z" fill-opacity="0.50"/><path d="M172.72,64.15A161.0,161.0 0 0 1 173.15,63.81L180.24,72.86A149.5,149.5 0 0 0 179.85,73.17Z" fill-opacity="0.53"/><path d="M174.81,62.53A161.0,161.0 0 0 1 175.85,61.73L182.76,70.93A149.5,149.5 0 0 0 181.79,71.67Z" fill-opacity="0.54"/><path d="M176.41,61.32A161.0,161.0 0 0 1 177.42,60.57L184.21,69.85A149.5,149.5 0 0 0 183.27,70.55Z" fill-opacity="0.44"/><path d="M178.36,59.89A161.0,161.0 0 0 1 179.28,59.23L185.94,68.61A149.5,149.5 0 0 0 185.08,69.22Z" fill-opacity="0.50"/><path d="M179.62,59.00A161.0,161.0 0 0 1 180.62,58.29L187.19,67.73A149.5,149.5 0 0 0 186.25,68.39Z" fill-opacity="0.58"/><path d="M180.62,58.29A161.0,161.0 0 0 1 181.52,57.67L188.01,67.16A149.5,149.5 0 0 0 187.19,67.73Z" fill-opacity="0.40"/><path d="M182.19,57.21A161.0,161.0 0 0 1 182.53,56.98L188.96,66.52A149.5,149.5 0 0 0 188.64,66.73Z" fill-opacity="0.38"/></g>
<path d="M173.64,63.43A161.0,161.0 0 0 1 174.85,62.50L181.82,71.64A149.5,149.5 0 0 0 180.70,72.50Z" fill="#d01424"/>
<path d="M172.18,65.86A160.0,160.0 0 0 1 174.28,64.20L180.11,71.70A150.5,150.5 0 0 0 178.14,73.26Z" fill="#5a86cc"/>
<path d="M173.19,65.05A160.0,160.0 0 0 1 173.64,64.69L179.51,72.16A150.5,150.5 0 0 0 179.09,72.50Z" fill="#e8eef4"/>
<path d="M174.28,64.20A160.0,160.0 0 0 1 174.67,63.89L180.48,71.41A150.5,150.5 0 0 0 180.11,71.70Z" fill="#f0f0f0"/>
<path d="M171.21,65.35A161.0,161.0 0 0 1 182.53,56.98L188.96,66.52A149.5,149.5 0 0 0 178.45,74.29Z" fill="none" stroke="#111" stroke-width="1.1"/>
<path d="M186.23,54.57A161.0,161.0 0 0 1 199.25,47.13L204.49,57.37A149.5,149.5 0 0 0 192.39,64.28Z" fill="url(#ig)"/>
<g fill="#0a0c0c"><path d="M187.27,53.91A161.0,161.0 0 0 1 187.80,53.58L193.85,63.36A149.5,149.5 0 0 0 193.36,63.67Z" fill-opacity="0.38"/><path d="M187.80,53.58A161.0,161.0 0 0 1 188.20,53.34L194.22,63.13A149.5,149.5 0 0 0 193.85,63.36Z" fill-opacity="0.41"/><path d="M188.20,53.34A161.0,161.0 0 0 1 189.14,52.76L195.09,62.60A149.5,149.5 0 0 0 194.22,63.13Z" fill-opacity="0.49"/><path d="M189.40,52.60A161.0,161.0 0 0 1 190.15,52.15L196.04,62.03A149.5,149.5 0 0 0 195.34,62.45Z" fill-opacity="0.46"/><path d="M191.38,51.43A161.0,161.0 0 0 1 191.79,51.19L197.56,61.14A149.5,149.5 0 0 0 197.17,61.36Z" fill-opacity="0.38"/><path d="M196.98,48.31A161.0,161.0 0 0 1 197.71,47.92L203.06,58.11A149.5,149.5 0 0 0 202.37,58.47Z" fill-opacity="0.61"/><path d="M197.71,47.92A161.0,161.0 0 0 1 198.12,47.71L203.44,57.91A149.5,149.5 0 0 0 203.06,58.11Z" fill-opacity="0.35"/><path d="M199.20,47.15A161.0,161.0 0 0 1 199.25,47.13L204.49,57.37A149.5,149.5 0 0 0 204.44,57.39Z" fill-opacity="0.80"/></g>
<g fill="#f8fafa"><path d="M186.23,54.57A161.0,161.0 0 0 1 187.27,53.91L193.36,63.67A149.5,149.5 0 0 0 192.39,64.28Z" fill-opacity="0.49"/><path d="M189.14,52.76A161.0,161.0 0 0 1 189.40,52.60L195.34,62.45A149.5,149.5 0 0 0 195.09,62.60Z" fill-opacity="0.39"/><path d="M190.15,52.15A161.0,161.0 0 0 1 190.44,51.98L196.30,61.88A149.5,149.5 0 0 0 196.04,62.03Z" fill-opacity="0.55"/><path d="M190.44,51.98A161.0,161.0 0 0 1 191.38,51.43L197.17,61.36A149.5,149.5 0 0 0 196.30,61.88Z" fill-opacity="0.47"/><path d="M192.93,50.54A161.0,161.0 0 0 1 193.26,50.35L198.92,60.36A149.5,149.5 0 0 0 198.61,60.53Z" fill-opacity="0.40"/><path d="M194.43,49.69A161.0,161.0 0 0 1 194.73,49.53L200.29,59.60A149.5,149.5 0 0 0 200.01,59.75Z" fill-opacity="0.44"/><path d="M195.47,49.12A161.0,161.0 0 0 1 196.12,48.77L201.58,58.89A149.5,149.5 0 0 0 200.97,59.22Z" fill-opacity="0.35"/><path d="M196.12,48.77A161.0,161.0 0 0 1 196.98,48.31L202.37,58.47A149.5,149.5 0 0 0 201.58,58.89Z" fill-opacity="0.36"/></g>
<path d="M189.24,52.70A161.0,161.0 0 0 1 190.54,51.92L196.40,61.82A149.5,149.5 0 0 0 195.18,62.55Z" fill="#d01424"/>
<path d="M187.13,55.18A160.0,160.0 0 0 1 189.78,53.54L194.69,61.68A150.5,150.5 0 0 0 192.20,63.21Z" fill="#5a86cc"/>
<path d="M188.39,54.39A160.0,160.0 0 0 1 188.94,54.05L193.90,62.16A150.5,150.5 0 0 0 193.39,62.47Z" fill="#e8eef4"/>
<path d="M189.78,53.54A160.0,160.0 0 0 1 190.20,53.29L195.09,61.44A150.5,150.5 0 0 0 194.69,61.68Z" fill="#f0f0f0"/>
<path d="M186.23,54.57A161.0,161.0 0 0 1 199.25,47.13L204.49,57.37A149.5,149.5 0 0 0 192.39,64.28Z" fill="none" stroke="#111" stroke-width="1.1"/>
<path d="M203.21,45.17A161.0,161.0 0 0 1 246.41,31.63L248.28,42.98A149.5,149.5 0 0 0 208.16,55.55Z" fill="url(#ig)"/>
<g fill="#0a0c0c"><path d="M203.21,45.17A161.0,161.0 0 0 1 203.52,45.03L208.44,55.42A149.5,149.5 0 0 0 208.16,55.55Z" fill-opacity="0.45"/><path d="M203.52,45.03A161.0,161.0 0 0 1 204.70,44.47L209.55,54.90A149.5,149.5 0 0 0 208.44,55.42Z" fill-opacity="0.43"/><path d="M205.64,44.04A161.0,161.0 0 0 1 206.21,43.78L210.95,54.26A149.5,149.5 0 0 0 210.42,54.50Z" fill-opacity="0.77"/><path d="M206.21,43.78A161.0,161.0 0 0 1 207.48,43.21L212.12,53.73A149.5,149.5 0 0 0 210.95,54.26Z" fill-opacity="0.36"/><path d="M207.48,43.21A161.0,161.0 0 0 1 208.57,42.74L213.13,53.29A149.5,149.5 0 0 0 212.12,53.73Z" fill-opacity="0.40"/><path d="M210.23,42.03A161.0,161.0 0 0 1 210.85,41.77L215.25,52.40A149.5,149.5 0 0 0 214.67,52.64Z" fill-opacity="0.97"/><path d="M214.59,40.27A161.0,161.0 0 0 1 215.66,39.87L219.72,50.63A149.5,149.5 0 0 0 218.73,51.01Z" fill-opacity="0.49"/><path d="M215.66,39.87A161.0,161.0 0 0 1 216.31,39.62L220.32,50.40A149.5,149.5 0 0 0 219.72,50.63Z" fill-opacity="0.97"/><path d="M217.22,39.29A161.0,161.0 0 0 1 218.14,38.96L222.02,49.78A149.5,149.5 0 0 0 221.17,50.09Z" fill-opacity="0.97"/><path d="M218.14,38.96A161.0,161.0 0 0 1 218.80,38.72L222.64,49.56A149.5,149.5 0 0 0 222.02,49.78Z" fill-opacity="0.39"/><path d="M222.68,37.40A161.0,161.0 0 0 1 223.18,37.24L226.70,48.19A149.5,149.5 0 0 0 226.24,48.34Z" fill-opacity="0.47"/><path d="M224.18,36.92A161.0,161.0 0 0 1 225.54,36.50L228.89,47.50A149.5,149.5 0 0 0 227.63,47.89Z" fill-opacity="0.32"/><path d="M225.54,36.50A161.0,161.0 0 0 1 226.72,36.15L229.99,47.17A149.5,149.5 0 0 0 228.89,47.50Z" fill-opacity="0.67"/><path d="M227.16,36.02A161.0,161.0 0 0 1 228.42,35.65L231.57,46.71A149.5,149.5 0 0 0 230.40,47.05Z" fill-opacity="0.48"/><path d="M233.38,34.33A161.0,161.0 0 0 1 233.68,34.25L236.45,45.41A149.5,149.5 0 0 0 236.17,45.48Z" fill-opacity="0.97"/><path d="M233.68,34.25A161.0,161.0 0 0 1 234.60,34.02L237.31,45.20A149.5,149.5 0 0 0 236.45,45.41Z" fill-opacity="0.97"/><path d="M234.60,34.02A161.0,161.0 0 0 1 234.95,33.94L237.63,45.12A149.5,149.5 0 0 0 237.31,45.20Z" fill-opacity="0.44"/><path d="M235.61,33.78A161.0,161.0 0 0 1 236.06,33.68L238.66,44.88A149.5,149.5 0 0 0 238.25,44.98Z" fill-opacity="0.32"/><path d="M237.27,33.40A161.0,161.0 0 0 1 238.17,33.20L240.63,44.44A149.5,149.5 0 0 0 239.79,44.62Z" fill-opacity="0.41"/><path d="M238.17,33.20A161.0,161.0 0 0 1 239.21,32.98L241.59,44.23A149.5,149.5 0 0 0 240.63,44.44Z" fill-opacity="0.37"/><path d="M240.35,32.74A161.0,161.0 0 0 1 241.51,32.51L243.72,43.80A149.5,149.5 0 0 0 242.64,44.01Z" fill-opacity="0.36"/><path d="M241.51,32.51A161.0,161.0 0 0 1 242.69,32.28L244.81,43.59A149.5,149.5 0 0 0 243.72,43.80Z" fill-opacity="0.97"/><path d="M244.87,31.89A161.0,161.0 0 0 1 245.70,31.75L247.62,43.09A149.5,149.5 0 0 0 246.84,43.22Z" fill-opacity="0.45"/><path d="M245.70,31.75A161.0,161.0 0 0 1 246.41,31.63L248.27,42.98A149.5,149.5 0 0 0 247.62,43.09Z" fill-opacity="0.97"/><path d="M246.41,31.63A161.0,161.0 0 0 1 246.41,31.63L248.28,42.98A149.5,149.5 0 0 0 248.27,42.98Z" fill-opacity="0.32"/></g>
<g fill="#f8fafa"><path d="M208.57,42.74A161.0,161.0 0 0 1 209.52,42.33L214.02,52.91A149.5,149.5 0 0 0 213.13,53.29Z" fill-opacity="0.49"/><path d="M209.52,42.33A161.0,161.0 0 0 1 210.23,42.03L214.67,52.64A149.5,149.5 0 0 0 214.02,52.91Z" fill-opacity="0.43"/><path d="M211.64,41.45A161.0,161.0 0 0 1 212.17,41.23L216.48,51.89A149.5,149.5 0 0 0 215.98,52.09Z" fill-opacity="0.44"/><path d="M212.17,41.23A161.0,161.0 0 0 1 212.59,41.06L216.87,51.74A149.5,149.5 0 0 0 216.48,51.89Z" fill-opacity="0.57"/><path d="M213.35,40.76A161.0,161.0 0 0 1 214.25,40.41L218.41,51.13A149.5,149.5 0 0 0 217.58,51.45Z" fill-opacity="0.39"/><path d="M214.25,40.41A161.0,161.0 0 0 1 214.59,40.27L218.73,51.01A149.5,149.5 0 0 0 218.41,51.13Z" fill-opacity="0.43"/><path d="M216.31,39.62A161.0,161.0 0 0 1 217.22,39.29L221.17,50.09A149.5,149.5 0 0 0 220.32,50.40Z" fill-opacity="0.39"/><path d="M218.80,38.72A161.0,161.0 0 0 1 220.04,38.29L223.79,49.16A149.5,149.5 0 0 0 222.64,49.56Z" fill-opacity="0.47"/><path d="M220.04,38.29A161.0,161.0 0 0 1 221.31,37.85L224.97,48.76A149.5,149.5 0 0 0 223.79,49.16Z" fill-opacity="0.41"/><path d="M221.31,37.85A161.0,161.0 0 0 1 221.62,37.75L225.25,48.66A149.5,149.5 0 0 0 224.97,48.76Z" fill-opacity="0.42"/><path d="M221.62,37.75A161.0,161.0 0 0 1 222.68,37.40L226.24,48.34A149.5,149.5 0 0 0 225.25,48.66Z" fill-opacity="0.45"/><path d="M223.18,37.24A161.0,161.0 0 0 1 224.18,36.92L227.63,47.89A149.5,149.5 0 0 0 226.70,48.19Z" fill-opacity="0.53"/><path d="M226.72,36.15A161.0,161.0 0 0 1 227.16,36.02L230.40,47.05A149.5,149.5 0 0 0 229.99,47.17Z" fill-opacity="0.48"/><path d="M228.42,35.65A161.0,161.0 0 0 1 228.94,35.50L232.05,46.58A149.5,149.5 0 0 0 231.57,46.71Z" fill-opacity="0.54"/><path d="M229.96,35.22A161.0,161.0 0 0 1 231.00,34.94L233.97,46.05A149.5,149.5 0 0 0 232.99,46.31Z" fill-opacity="0.36"/><path d="M231.00,34.94A161.0,161.0 0 0 1 231.76,34.74L234.67,45.87A149.5,149.5 0 0 0 233.97,46.05Z" fill-opacity="0.51"/><path d="M232.42,34.57A161.0,161.0 0 0 1 233.38,34.33L236.17,45.48A149.5,149.5 0 0 0 235.28,45.71Z" fill-opacity="0.47"/><path d="M234.95,33.94A161.0,161.0 0 0 1 235.61,33.78L238.25,44.98A149.5,149.5 0 0 0 237.63,45.12Z" fill-opacity="0.39"/><path d="M239.21,32.98A161.0,161.0 0 0 1 240.35,32.74L242.64,44.01A149.5,149.5 0 0 0 241.59,44.23Z" fill-opacity="0.53"/><path d="M242.69,32.28A161.0,161.0 0 0 1 243.49,32.13L245.57,43.45A149.5,149.5 0 0 0 244.81,43.59Z" fill-opacity="0.48"/><path d="M243.49,32.13A161.0,161.0 0 0 1 244.87,31.89L246.84,43.22A149.5,149.5 0 0 0 245.57,43.45Z" fill-opacity="0.35"/></g>
<path d="M218.89,38.69A161.0,161.0 0 0 1 220.32,38.19L224.05,49.07A149.5,149.5 0 0 0 222.72,49.53Z" fill="#d01424"/>
<path d="M203.21,45.17A161.0,161.0 0 0 1 246.41,31.63L248.28,42.98A149.5,149.5 0 0 0 208.16,55.55Z" fill="none" stroke="#111" stroke-width="1.1"/>
<path d="M250.78,30.97A161.0,161.0 0 0 1 268.08,29.56L268.40,41.06A149.5,149.5 0 0 0 252.33,42.37Z" fill="url(#ig)"/>
<g fill="#0a0c0c"><path d="M251.98,30.81A161.0,161.0 0 0 1 252.48,30.75L253.91,42.16A149.5,149.5 0 0 0 253.44,42.22Z" fill-opacity="0.67"/><path d="M256.37,30.31A161.0,161.0 0 0 1 257.06,30.24L258.16,41.69A149.5,149.5 0 0 0 257.52,41.75Z" fill-opacity="0.39"/><path d="M257.06,30.24A161.0,161.0 0 0 1 257.73,30.18L258.78,41.63A149.5,149.5 0 0 0 258.16,41.69Z" fill-opacity="0.32"/><path d="M258.88,30.08A161.0,161.0 0 0 1 259.64,30.01L260.55,41.48A149.5,149.5 0 0 0 259.85,41.54Z" fill-opacity="0.31"/><path d="M264.51,29.70A161.0,161.0 0 0 1 265.15,29.67L265.68,41.16A149.5,149.5 0 0 0 265.08,41.18Z" fill-opacity="0.64"/></g>
<g fill="#f8fafa"><path d="M250.78,30.97A161.0,161.0 0 0 1 251.10,30.93L252.63,42.33A149.5,149.5 0 0 0 252.33,42.37Z" fill-opacity="0.37"/><path d="M252.48,30.75A161.0,161.0 0 0 1 252.94,30.69L254.34,42.11A149.5,149.5 0 0 0 253.91,42.16Z" fill-opacity="0.53"/><path d="M252.94,30.69A161.0,161.0 0 0 1 254.30,30.53L255.60,41.96A149.5,149.5 0 0 0 254.34,42.11Z" fill-opacity="0.36"/><path d="M254.30,30.53A161.0,161.0 0 0 1 255.50,30.40L256.71,41.84A149.5,149.5 0 0 0 255.60,41.96Z" fill-opacity="0.60"/><path d="M257.73,30.18A161.0,161.0 0 0 1 258.88,30.08L259.85,41.54A149.5,149.5 0 0 0 258.78,41.63Z" fill-opacity="0.51"/><path d="M259.64,30.01A161.0,161.0 0 0 1 260.59,29.94L261.44,41.41A149.5,149.5 0 0 0 260.55,41.48Z" fill-opacity="0.58"/><path d="M261.98,29.84A161.0,161.0 0 0 1 262.53,29.81L263.25,41.29A149.5,149.5 0 0 0 262.73,41.32Z" fill-opacity="0.42"/><path d="M262.53,29.81A161.0,161.0 0 0 1 263.33,29.76L263.99,41.24A149.5,149.5 0 0 0 263.25,41.29Z" fill-opacity="0.40"/><path d="M265.15,29.67A161.0,161.0 0 0 1 266.11,29.63L266.57,41.12A149.5,149.5 0 0 0 265.68,41.16Z" fill-opacity="0.57"/><path d="M266.11,29.63A161.0,161.0 0 0 1 267.42,29.58L267.78,41.07A149.5,149.5 0 0 0 266.57,41.12Z" fill-opacity="0.54"/><path d="M267.42,29.58A161.0,161.0 0 0 1 268.08,29.56L268.40,41.06A149.5,149.5 0 0 0 267.78,41.07Z" fill-opacity="0.43"/></g>
<path d="M253.65,30.61A161.0,161.0 0 0 1 255.17,30.44L256.40,41.87A149.5,149.5 0 0 0 255.00,42.03Z" fill="#d01424"/>
<path d="M250.78,30.97A161.0,161.0 0 0 1 268.08,29.56L268.40,41.06A149.5,149.5 0 0 0 252.33,42.37Z" fill="none" stroke="#111" stroke-width="1.1"/>
<g stroke="#222" stroke-width="0.7"><line x1="272.50" y1="29.50" x2="272.50" y2="26.50"/><line x1="287.11" y1="30.16" x2="287.38" y2="27.18"/><line x1="301.59" y1="32.15" x2="302.13" y2="29.20"/><line x1="315.84" y1="35.44" x2="316.65" y2="32.55"/><line x1="329.73" y1="40.01" x2="330.79" y2="37.21"/><line x1="346.89" y1="47.72" x2="348.28" y2="45.06"/><line x1="359.54" y1="55.06" x2="361.16" y2="52.53"/><line x1="371.47" y1="63.51" x2="373.31" y2="61.14"/><line x1="382.58" y1="73.01" x2="384.63" y2="70.82"/><line x1="392.78" y1="83.48" x2="395.03" y2="81.49"/><line x1="403.43" y1="96.80" x2="405.87" y2="95.06"/><line x1="411.39" y1="109.07" x2="413.97" y2="107.55"/><line x1="418.20" y1="122.00" x2="420.92" y2="120.73"/><line x1="423.82" y1="135.50" x2="426.63" y2="134.48"/><line x1="429.11" y1="153.18" x2="432.03" y2="152.48"/><line x1="431.85" y1="167.54" x2="434.82" y2="167.11"/><line x1="433.28" y1="182.09" x2="436.28" y2="181.94"/><line x1="433.38" y1="196.72" x2="436.38" y2="196.83"/><line x1="431.91" y1="213.10" x2="434.88" y2="213.52"/><line x1="429.20" y1="227.47" x2="432.12" y2="228.16"/><line x1="425.20" y1="241.53" x2="428.04" y2="242.48"/><line x1="419.94" y1="255.17" x2="422.69" y2="256.38"/><line x1="414.02" y1="267.26" x2="416.66" y2="268.69"/><line x1="406.48" y1="279.78" x2="408.97" y2="281.45"/><line x1="397.82" y1="291.57" x2="400.16" y2="293.45"/><line x1="388.14" y1="302.52" x2="390.29" y2="304.61"/><line x1="380.52" y1="309.88" x2="382.53" y2="312.11"/><line x1="369.24" y1="319.19" x2="371.05" y2="321.59"/><line x1="357.17" y1="327.44" x2="358.75" y2="329.99"/><line x1="344.40" y1="334.55" x2="345.74" y2="337.24"/><line x1="337.99" y1="337.58" x2="339.21" y2="340.32"/><line x1="324.37" y1="342.91" x2="325.34" y2="345.75"/><line x1="310.33" y1="346.99" x2="311.04" y2="349.91"/><line x1="292.65" y1="350.23" x2="293.03" y2="353.21"/><line x1="278.08" y1="351.40" x2="278.18" y2="354.40"/><line x1="263.46" y1="351.25" x2="263.29" y2="354.24"/><line x1="247.09" y1="349.48" x2="246.61" y2="352.44"/><line x1="232.77" y1="346.52" x2="232.03" y2="349.43"/><line x1="218.78" y1="342.27" x2="217.78" y2="345.10"/><line x1="205.06" y1="336.70" x2="203.81" y2="339.42"/><line x1="192.08" y1="329.97" x2="190.58" y2="332.57"/><line x1="179.76" y1="322.10" x2="178.03" y2="324.56"/><line x1="168.17" y1="313.13" x2="166.23" y2="315.41"/><line x1="157.48" y1="303.16" x2="155.34" y2="305.25"/><line x1="147.73" y1="292.26" x2="145.41" y2="294.15"/><line x1="139.19" y1="280.77" x2="136.70" y2="282.45"/><line x1="131.55" y1="268.30" x2="128.92" y2="269.75"/><line x1="125.07" y1="255.20" x2="122.32" y2="256.40"/><line x1="121.74" y1="246.99" x2="118.93" y2="248.05"/><line x1="117.23" y1="233.08" x2="114.34" y2="233.88"/><line x1="114.01" y1="218.82" x2="111.06" y2="219.35"/><line x1="112.99" y1="212.33" x2="110.02" y2="212.74"/><line x1="111.66" y1="197.77" x2="108.67" y2="197.91"/><line x1="111.67" y1="183.15" x2="108.67" y2="183.02"/><line x1="111.99" y1="178.00" x2="108.99" y2="177.77"/><line x1="113.78" y1="163.49" x2="110.82" y2="162.99"/><line x1="117.30" y1="147.67" x2="114.41" y2="146.87"/><line x1="121.83" y1="133.76" x2="119.02" y2="132.70"/><line x1="127.13" y1="121.30" x2="124.42" y2="120.01"/><line x1="134.01" y1="108.40" x2="131.43" y2="106.87"/><line x1="140.87" y1="97.80" x2="138.41" y2="96.07"/><line x1="149.82" y1="86.24" x2="147.53" y2="84.30"/><line x1="154.53" y1="80.94" x2="152.33" y2="78.90"/><line x1="164.95" y1="70.69" x2="162.95" y2="68.46"/><line x1="171.21" y1="65.35" x2="169.33" y2="63.02"/><line x1="186.23" y1="54.57" x2="184.62" y2="52.03"/><line x1="198.91" y1="47.30" x2="197.54" y2="44.63"/><line x1="203.21" y1="45.17" x2="201.92" y2="42.46"/><line x1="216.69" y1="39.48" x2="215.65" y2="36.67"/><line x1="230.62" y1="35.04" x2="229.84" y2="32.15"/><line x1="244.89" y1="31.88" x2="244.38" y2="28.93"/><line x1="250.78" y1="30.97" x2="250.38" y2="28.00"/><line x1="265.34" y1="29.66" x2="265.21" y2="26.66"/></g>
<g font-size="6.4" fill="#000"><text x="272.50" y="25.30" transform="rotate(-90.00 272.50 25.30)" text-anchor="start" dy="2.2">0</text><text x="287.49" y="25.98" transform="rotate(-84.79 287.49 25.98)" text-anchor="start" dy="2.2">50</text><text x="302.35" y="28.02" transform="rotate(-79.59 302.35 28.02)" text-anchor="start" dy="2.2">100</text><text x="316.97" y="31.40" transform="rotate(-74.38 316.97 31.40)" text-anchor="start" dy="2.2">150</text><text x="331.22" y="36.09" transform="rotate(-69.18 331.22 36.09)" text-anchor="start" dy="2.2">200</text><text x="348.83" y="43.99" transform="rotate(-62.48 348.83 43.99)" text-anchor="start" dy="2.2">0</text><text x="361.81" y="51.52" transform="rotate(-57.27 361.81 51.52)" text-anchor="start" dy="2.2">50</text><text x="374.05" y="60.20" transform="rotate(-52.07 374.05 60.20)" text-anchor="start" dy="2.2">100</text><text x="385.45" y="69.95" transform="rotate(-46.86 385.45 69.95)" text-anchor="start" dy="2.2">150</text><text x="395.92" y="80.69" transform="rotate(-41.66 395.92 80.69)" text-anchor="start" dy="2.2">200</text><text x="406.84" y="94.36" transform="rotate(-35.59 406.84 94.36)" text-anchor="start" dy="2.2">0</text><text x="415.01" y="106.94" transform="rotate(-30.38 415.01 106.94)" text-anchor="start" dy="2.2">50</text><text x="422.00" y="120.21" transform="rotate(-25.18 422.00 120.21)" text-anchor="start" dy="2.2">100</text><text x="427.76" y="134.07" transform="rotate(-19.97 427.76 134.07)" text-anchor="start" dy="2.2">150</text><text x="433.20" y="152.21" transform="rotate(-13.40 433.20 152.21)" text-anchor="start" dy="2.2">0</text><text x="436.01" y="166.94" transform="rotate(-8.20 436.01 166.94)" text-anchor="start" dy="2.2">50</text><text x="437.47" y="181.88" transform="rotate(-2.99 437.47 181.88)" text-anchor="start" dy="2.2">100</text><text x="437.58" y="196.88" transform="rotate(2.21 437.58 196.88)" text-anchor="start" dy="2.2">150</text><text x="436.06" y="213.69" transform="rotate(8.07 436.06 213.69)" text-anchor="start" dy="2.2">0</text><text x="433.29" y="228.43" transform="rotate(13.27 433.29 228.43)" text-anchor="start" dy="2.2">50</text><text x="429.18" y="242.86" transform="rotate(18.48 429.18 242.86)" text-anchor="start" dy="2.2">100</text><text x="423.79" y="256.86" transform="rotate(23.68 423.79 256.86)" text-anchor="start" dy="2.2">150</text><text x="417.72" y="269.26" transform="rotate(28.47 417.72 269.26)" text-anchor="start" dy="2.2">0</text><text x="409.97" y="282.11" transform="rotate(33.68 409.97 282.11)" text-anchor="start" dy="2.2">50</text><text x="401.09" y="294.21" transform="rotate(38.89 401.09 294.21)" text-anchor="start" dy="2.2">100</text><text x="391.15" y="305.44" transform="rotate(44.09 391.15 305.44)" text-anchor="start" dy="2.2">150</text><text x="383.34" y="313.00" transform="rotate(47.86 383.34 313.00)" text-anchor="start" dy="2.2">0</text><text x="371.77" y="322.55" transform="rotate(53.07 371.77 322.55)" text-anchor="start" dy="2.2">50</text><text x="359.38" y="331.01" transform="rotate(58.27 359.38 331.01)" text-anchor="start" dy="2.2">100</text><text x="346.27" y="338.31" transform="rotate(63.48 346.27 338.31)" text-anchor="start" dy="2.2">150</text><text x="339.69" y="341.42" transform="rotate(66.00 339.69 341.42)" text-anchor="start" dy="2.2">0</text><text x="325.73" y="346.89" transform="rotate(71.20 325.73 346.89)" text-anchor="start" dy="2.2">50</text><text x="311.32" y="351.07" transform="rotate(76.41 311.32 351.07)" text-anchor="start" dy="2.2">100</text><text x="293.18" y="354.40" transform="rotate(82.81 293.18 354.40)" text-anchor="start" dy="2.2">0</text><text x="278.23" y="355.60" transform="rotate(88.01 278.23 355.60)" text-anchor="start" dy="2.2">50</text><text x="263.22" y="355.44" transform="rotate(-86.78 263.22 355.44)" text-anchor="end" dy="2.2">100</text><text x="246.43" y="353.63" transform="rotate(-80.92 246.43 353.63)" text-anchor="end" dy="2.2">0</text><text x="231.73" y="350.59" transform="rotate(-75.71 231.73 350.59)" text-anchor="end" dy="2.2">50</text><text x="217.38" y="346.23" transform="rotate(-70.51 217.38 346.23)" text-anchor="end" dy="2.2">100</text><text x="203.30" y="340.51" transform="rotate(-65.24 203.30 340.51)" text-anchor="end" dy="2.2">0</text><text x="189.98" y="333.61" transform="rotate(-60.03 189.98 333.61)" text-anchor="end" dy="2.2">50</text><text x="177.34" y="325.54" transform="rotate(-54.83 177.34 325.54)" text-anchor="end" dy="2.2">100</text><text x="165.45" y="316.33" transform="rotate(-49.61 165.45 316.33)" text-anchor="end" dy="2.2">0</text><text x="154.48" y="306.09" transform="rotate(-44.40 154.48 306.09)" text-anchor="end" dy="2.2">50</text><text x="144.48" y="294.91" transform="rotate(-39.20 144.48 294.91)" text-anchor="end" dy="2.2">100</text><text x="135.71" y="283.13" transform="rotate(-34.10 135.71 283.13)" text-anchor="end" dy="2.2">0</text><text x="127.87" y="270.33" transform="rotate(-28.90 127.87 270.33)" text-anchor="end" dy="2.2">50</text><text x="121.22" y="256.88" transform="rotate(-23.69 121.22 256.88)" text-anchor="end" dy="2.2">100</text><text x="117.80" y="248.47" transform="rotate(-20.54 117.80 248.47)" text-anchor="end" dy="2.2">0</text><text x="113.18" y="234.19" transform="rotate(-15.34 113.18 234.19)" text-anchor="end" dy="2.2">50</text><text x="109.88" y="219.56" transform="rotate(-10.13 109.88 219.56)" text-anchor="end" dy="2.2">100</text><text x="108.83" y="212.90" transform="rotate(-7.79 108.83 212.90)" text-anchor="end" dy="2.2">0</text><text x="107.47" y="197.96" transform="rotate(-2.59 107.47 197.96)" text-anchor="end" dy="2.2">50</text><text x="107.47" y="182.96" transform="rotate(2.62 107.47 182.96)" text-anchor="end" dy="2.2">100</text><text x="107.80" y="177.68" transform="rotate(4.45 107.80 177.68)" text-anchor="end" dy="2.2">0</text><text x="109.64" y="162.79" transform="rotate(9.66 109.64 162.79)" text-anchor="end" dy="2.2">50</text><text x="113.25" y="146.55" transform="rotate(15.43 113.25 146.55)" text-anchor="end" dy="2.2">0</text><text x="117.90" y="132.28" transform="rotate(20.63 117.90 132.28)" text-anchor="end" dy="2.2">50</text><text x="123.34" y="119.50" transform="rotate(25.45 123.34 119.50)" text-anchor="end" dy="2.2">0</text><text x="130.39" y="106.26" transform="rotate(30.66 130.39 106.26)" text-anchor="end" dy="2.2">50</text><text x="137.43" y="95.38" transform="rotate(35.15 137.43 95.38)" text-anchor="end" dy="2.2">0</text><text x="146.62" y="83.52" transform="rotate(40.36 146.62 83.52)" text-anchor="end" dy="2.2">50</text><text x="151.45" y="78.08" transform="rotate(42.88 151.45 78.08)" text-anchor="end" dy="2.2">0</text><text x="162.15" y="67.56" transform="rotate(48.09 162.15 67.56)" text-anchor="end" dy="2.2">50</text><text x="168.57" y="62.09" transform="rotate(51.02 168.57 62.09)" text-anchor="end" dy="2.2">0</text><text x="183.98" y="51.02" transform="rotate(57.60 183.98 51.02)" text-anchor="end" dy="2.2">0</text><text x="196.99" y="43.56" transform="rotate(62.80 196.99 43.56)" text-anchor="end" dy="2.2">50</text><text x="201.41" y="41.38" transform="rotate(64.51 201.41 41.38)" text-anchor="end" dy="2.2">0</text><text x="215.23" y="35.54" transform="rotate(69.72 215.23 35.54)" text-anchor="end" dy="2.2">50</text><text x="229.52" y="30.99" transform="rotate(74.92 229.52 30.99)" text-anchor="end" dy="2.2">100</text><text x="244.17" y="27.75" transform="rotate(80.13 244.17 27.75)" text-anchor="end" dy="2.2">150</text><text x="250.21" y="26.81" transform="rotate(82.25 250.21 26.81)" text-anchor="end" dy="2.2">0</text><text x="265.16" y="25.46" transform="rotate(87.45 265.16 25.46)" text-anchor="end" dy="2.2">50</text></g>
<text x="313.02" y="14.61" transform="rotate(12.97 313.02 14.61)" text-anchor="middle" dy="3.7" font-size="10.3" fill="#000">1</text>
<text x="388.95" y="52.59" transform="rotate(40.18 388.95 52.59)" text-anchor="middle" dy="3.7" font-size="10.3" fill="#000">2</text>
<text x="435.71" y="113.41" transform="rotate(64.72 435.71 113.41)" text-anchor="middle" dy="3.7" font-size="10.3" fill="#000">3</text>
<text x="452.67" y="179.63" transform="rotate(86.55 452.67 179.63)" text-anchor="middle" dy="3.7" font-size="10.3" fill="#000">4</text>
<text x="444.66" y="244.73" transform="rotate(-72.51 444.66 244.73)" text-anchor="middle" dy="3.7" font-size="10.3" fill="#000">5</text>
<text x="415.93" y="300.09" transform="rotate(-52.62 415.93 300.09)" text-anchor="middle" dy="3.7" font-size="10.3" fill="#000">6</text>
<text x="373.06" y="340.39" transform="rotate(-33.86 373.06 340.39)" text-anchor="middle" dy="3.7" font-size="10.3" fill="#000">7</text>
<text x="323.41" y="363.67" transform="rotate(-16.38 323.41 363.67)" text-anchor="middle" dy="3.7" font-size="10.3" fill="#000">8</text>
<text x="272.00" y="371.00" transform="rotate(0.16 272.00 371.00)" text-anchor="middle" dy="3.7" font-size="10.3" fill="#000">9</text>
<text x="222.33" y="363.89" transform="rotate(16.14 222.33 363.89)" text-anchor="middle" dy="3.7" font-size="10.3" fill="#000">10</text>
<text x="177.41" y="343.92" transform="rotate(31.79 177.41 343.92)" text-anchor="middle" dy="3.7" font-size="10.3" fill="#000">11</text>
<text x="139.73" y="312.78" transform="rotate(47.36 139.73 312.78)" text-anchor="middle" dy="3.7" font-size="10.3" fill="#000">12</text>
<text x="113.29" y="275.54" transform="rotate(61.89 113.29 275.54)" text-anchor="middle" dy="3.7" font-size="10.3" fill="#000">13</text>
<text x="98.11" y="237.08" transform="rotate(75.05 98.11 237.08)" text-anchor="middle" dy="3.7" font-size="10.3" fill="#000">14</text>
<text x="92.17" y="198.24" transform="rotate(87.54 92.17 198.24)" text-anchor="middle" dy="3.7" font-size="10.3" fill="#000">15</text>
<text x="94.30" y="161.78" transform="rotate(279.15 94.30 161.78)" text-anchor="middle" dy="3.7" font-size="10.3" fill="#000">16</text>
<text x="102.52" y="129.78" transform="rotate(289.66 102.52 129.78)" text-anchor="middle" dy="3.7" font-size="10.3" fill="#000">17</text>
<text x="115.43" y="101.57" transform="rotate(299.52 115.43 101.57)" text-anchor="middle" dy="3.7" font-size="10.3" fill="#000">18</text>
<text x="130.72" y="78.80" transform="rotate(308.23 130.72 78.80)" text-anchor="middle" dy="3.7" font-size="10.3" fill="#000">19</text>
<text x="147.48" y="60.30" transform="rotate(316.16 147.48 60.30)" text-anchor="middle" dy="3.7" font-size="10.3" fill="#000">20</text>
<text x="165.19" y="45.37" transform="rotate(323.52 165.19 45.37)" text-anchor="middle" dy="3.7" font-size="10.3" fill="#000">21</text>
<text x="182.98" y="33.76" transform="rotate(330.27 182.98 33.76)" text-anchor="middle" dy="3.7" font-size="10.3" fill="#000">22</text>
<text x="218.50" y="18.27" transform="rotate(342.59 218.50 18.27)" text-anchor="middle" dy="3.7" font-size="10.3" fill="#000">X</text>
<text x="257.83" y="10.60" transform="rotate(355.34 257.83 10.60)" text-anchor="middle" dy="3.7" font-size="10.3" fill="#000">Y</text>
<path d="M272.63,43.00A147.5,147.5 0 0 1 305.06,46.64L303.29,54.44A139.5,139.5 0 0 0 272.63,51.00Z" fill="#cc0011" stroke="#222" stroke-width="0.8"/>
<path d="M416.08,156.70A147.5,147.5 0 0 1 418.09,166.82L410.19,168.10A139.5,139.5 0 0 0 408.29,158.53Z" fill="#cc0011" stroke="#222" stroke-width="0.8"/>
<path d="M392.50,276.27A147.5,147.5 0 0 1 374.45,297.10L368.92,291.31A139.5,139.5 0 0 0 385.99,271.61Z" fill="#cc0011" stroke="#222" stroke-width="0.8"/>
<path d="M332.25,325.36A147.5,147.5 0 0 1 295.07,336.26L293.84,328.36A139.5,139.5 0 0 0 329.01,318.04Z" fill="#cc0011" stroke="#222" stroke-width="0.8"/>
<path d="M158.20,283.72A147.5,147.5 0 0 1 153.60,277.79L160.05,273.06A139.5,139.5 0 0 0 164.39,278.67Z" fill="#cc0011" stroke="#222" stroke-width="0.8"/>
<path d="M147.87,269.39A147.5,147.5 0 0 1 135.87,246.07L143.28,243.05A139.5,139.5 0 0 0 154.63,265.11Z" fill="#cc0011" stroke="#222" stroke-width="0.8"/>
<path d="M132.76,237.71A147.5,147.5 0 0 1 126.98,214.60L134.87,213.29A139.5,139.5 0 0 0 140.34,235.15Z" fill="#cc0011" stroke="#222" stroke-width="0.8"/>
<path d="M125.46,178.92A147.5,147.5 0 0 1 129.27,155.26L137.04,157.18A139.5,139.5 0 0 0 133.43,179.55Z" fill="#cc0011" stroke="#222" stroke-width="0.8"/>
<path d="M172.39,82.18A147.5,147.5 0 0 1 175.17,79.67L180.45,85.68A139.5,139.5 0 0 0 177.82,88.05Z" fill="#cc0011" stroke="#222" stroke-width="0.8"/>
<path d="M198.50,62.91A147.5,147.5 0 0 1 205.32,59.19L208.97,66.31A139.5,139.5 0 0 0 202.51,69.83Z" fill="#cc0011" stroke="#222" stroke-width="0.8"/>
<path d="M245.62,45.47A147.5,147.5 0 0 1 248.13,45.03L249.45,52.92A139.5,139.5 0 0 0 247.08,53.34Z" fill="#4fd3f2" stroke="#222" stroke-width="0.8"/>
<path d="M258.61,337.34A147.5,147.5 0 0 1 253.28,336.74L254.32,328.81A139.5,139.5 0 0 0 259.36,329.38Z" fill="#4fd3f2" stroke="#222" stroke-width="0.8"/>
<path d="M297.96,53.34Q287.42,184.71 383.82,274.58" fill="none" stroke="#cc1424" stroke-width="0.85"/>
<path d="M298.83,53.51Q287.43,184.75 383.89,274.48" fill="none" stroke="#cc1424" stroke-width="0.85"/>
<path d="M299.70,53.68Q287.45,184.79 383.97,274.37" fill="none" stroke="#cc1424" stroke-width="0.85"/>
<path d="M300.94,53.93Q287.40,184.66 386.14,271.41" fill="none" stroke="#cc1424" stroke-width="0.85"/>
<path d="M301.93,54.14Q287.42,184.71 386.21,271.31" fill="none" stroke="#cc1424" stroke-width="0.85"/>
<path d="M302.92,54.36Q287.43,184.76 386.29,271.20" fill="none" stroke="#cc1424" stroke-width="0.85"/>
<path d="M410.19,168.10Q284.13,201.49 257.85,329.23" fill="none" stroke="#cc1424" stroke-width="0.85"/>
<path d="M247.83,53.20Q257.59,184.70 161.57,275.09" fill="none" stroke="#cc1424" stroke-width="0.85"/>
<line x1="403.97" y1="97.56" x2="429.69" y2="79.38" stroke="#d4202a" stroke-width="1"/>
<text x="430.92" y="78.51" transform="rotate(-37.76 430.92 78.51)" dy="3.5" font-size="10" fill="#cc1f2c">CRBN</text>
<rect x="439" y="19" width="34.5" height="9.8" fill="#cc0011" stroke="#111" stroke-width="1"/>
<rect x="439" y="40" width="34.5" height="9.5" fill="#56d6f4" stroke="#111" stroke-width="1"/>
<text x="477" y="26.8" font-size="8.2" fill="#222">Deletion</text>
<text x="477" y="47.8" font-size="8.2" fill="#222">Gain</text>
</svg>

<svg width="520" height="548" viewBox="0 0 520 548" style="position:absolute;left:0;top:0" font-family="Liberation Sans, sans-serif">
<rect x="33.5" y="382.5" width="478" height="160" fill="#fff" stroke="#111" stroke-width="1.2"/>
<text x="35.2" y="389.2" font-size="6.4" fill="#222">chr16</text>
<rect x="34" y="390.5" width="477" height="6" fill="#000"/>
<rect x="34.50" y="391.3" width="40.20" height="4.4" fill="#fff"/>
<rect x="75.70" y="391.3" width="13.40" height="4.4" fill="#0d2d5c"/>
<rect x="90.10" y="391.3" width="4.80" height="4.4" fill="#fff"/>
<rect x="95.90" y="391.3" width="5.20" height="4.4" fill="#fff"/>
<rect x="102.10" y="391.3" width="9.80" height="4.4" fill="#0d2d5c"/>
<rect x="112.90" y="391.3" width="9.80" height="4.4" fill="#fff"/>
<rect x="123.70" y="391.3" width="23.30" height="4.4" fill="#0d2d5c"/>
<rect x="148.00" y="391.3" width="14.70" height="4.4" fill="#fff"/>
<rect x="163.70" y="391.3" width="19.00" height="4.4" fill="#0d2d5c"/>
<rect x="183.70" y="391.3" width="34.30" height="4.4" fill="#fff"/>
<rect x="240.60" y="391.3" width="43.80" height="4.4" fill="#fff"/>
<rect x="286.40" y="391.3" width="2.30" height="4.4" fill="#fff"/>
<rect x="290.50" y="391.3" width="23.50" height="4.4" fill="#fff"/>
<rect x="315.00" y="391.3" width="20.60" height="4.4" fill="#0d2d5c"/>
<rect x="336.60" y="391.3" width="2.60" height="4.4" fill="#fff"/>
<rect x="340.20" y="391.3" width="50.70" height="4.4" fill="#000"/>
<rect x="391.90" y="391.3" width="19.60" height="4.4" fill="#fff"/>
<rect x="412.50" y="391.3" width="10.75" height="4.4" fill="#0d2d5c"/>
<rect x="424.25" y="391.3" width="5.75" height="4.4" fill="#fff"/>
<rect x="431.00" y="391.3" width="26.00" height="4.4" fill="#000"/>
<rect x="458.00" y="391.3" width="12.75" height="4.4" fill="#fff"/>
<rect x="471.75" y="391.3" width="11.50" height="4.4" fill="#0d2d5c"/>
<rect x="484.25" y="391.3" width="14.00" height="4.4" fill="#fff"/>
<rect x="499.25" y="391.3" width="8.25" height="4.4" fill="#b8c8d8"/>
<rect x="508.50" y="391.3" width="2.00" height="4.4" fill="#fff"/>
<rect x="95.9" y="391" width="5.3" height="5" fill="#fff" stroke="#e01020" stroke-width="1.2"/>
<rect x="218" y="390" width="23" height="7.5" fill="#fff"/>
<path d="M218.5,390.6 L218.5,396.4 L229.3,393.5 Z M240.1,390.6 L240.1,396.4 L229.3,393.5 Z" fill="#d0101c"/>
<line x1="218.5" y1="390.5" x2="218.5" y2="396.5" stroke="#000" stroke-width="1"/>
<line x1="240.1" y1="390.5" x2="240.1" y2="396.5" stroke="#000" stroke-width="1"/>
<text x="47.00" y="403.3" font-size="6.5" fill="#1a1a1a">p13.3</text>
<text x="75.70" y="403.3" font-size="6.5" fill="#1a1a1a">p13.2</text>
<text x="97.80" y="403.3" font-size="6.5" fill="#1a1a1a">p13.12</text>
<text x="126.90" y="403.3" font-size="6.5" fill="#1a1a1a">p12.3</text>
<text x="147.50" y="403.3" font-size="6.5" fill="#1a1a1a">p12.2</text>
<text x="194.50" y="403.3" font-size="6.5" fill="#1a1a1a">p11.2</text>
<text x="216.80" y="403.3" font-size="6.5" fill="#1a1a1a">p11.1</text>
<text x="255.30" y="403.3" font-size="6.5" fill="#1a1a1a">q11.2</text>
<text x="292.80" y="403.3" font-size="6.5" fill="#1a1a1a">q12.1</text>
<text x="319.30" y="403.3" font-size="6.5" fill="#1a1a1a">q12.2</text>
<text x="359.70" y="403.3" font-size="6.5" fill="#1a1a1a">q21</text>
<text x="393.75" y="403.3" font-size="6.5" fill="#1a1a1a">q22.1</text>
<text x="420.50" y="403.3" font-size="6.5" fill="#1a1a1a">q22.3</text>
<text x="457.50" y="403.3" font-size="6.5" fill="#1a1a1a">q23.2</text>
<text x="485.00" y="403.3" font-size="6.5" fill="#1a1a1a">q24.1</text>
<text x="503.75" y="403.3" font-size="6.5" fill="#1a1a1a">q2</text>
<line x1="33.5" y1="408.2" x2="511.5" y2="408.2" stroke="#111" stroke-width="1.1"/>
<line x1="38" y1="420" x2="259" y2="420" stroke="#111" stroke-width="1.1"/>
<line x1="284" y1="420" x2="506" y2="420" stroke="#111" stroke-width="1.1"/>
<path d="M34.3,420 L40.5,417.2 L40.5,422.8 Z" fill="#111"/>
<path d="M510.8,420 L504.6,417.2 L504.6,422.8 Z" fill="#111"/>
<text x="271.6" y="422.2" font-size="6.2" fill="#222" text-anchor="middle">964 kb</text>
<defs><clipPath id="bx"><rect x="34" y="383" width="477" height="159"/></clipPath></defs><g clip-path="url(#bx)">
<line x1="41.20" y1="435.4" x2="41.20" y2="439.5" stroke="#111" stroke-width="1"/>
<line x1="66.06" y1="435.4" x2="66.06" y2="439.5" stroke="#111" stroke-width="1"/>
<text x="66.06" y="432.6" font-size="6.2" fill="#222" text-anchor="middle">11.800 kb</text>
<line x1="90.92" y1="435.4" x2="90.92" y2="439.5" stroke="#111" stroke-width="1"/>
<line x1="115.78" y1="435.4" x2="115.78" y2="439.5" stroke="#111" stroke-width="1"/>
<text x="115.78" y="432.6" font-size="6.2" fill="#222" text-anchor="middle">11.900 kb</text>
<line x1="140.64" y1="435.4" x2="140.64" y2="439.5" stroke="#111" stroke-width="1"/>
<line x1="165.50" y1="435.4" x2="165.50" y2="439.5" stroke="#111" stroke-width="1"/>
<text x="165.50" y="432.6" font-size="6.2" fill="#222" text-anchor="middle">12.000 kb</text>
<line x1="190.36" y1="435.4" x2="190.36" y2="439.5" stroke="#111" stroke-width="1"/>
<line x1="215.22" y1="435.4" x2="215.22" y2="439.5" stroke="#111" stroke-width="1"/>
<text x="215.22" y="432.6" font-size="6.2" fill="#222" text-anchor="middle">12.100 kb</text>
<line x1="240.08" y1="435.4" x2="240.08" y2="439.5" stroke="#111" stroke-width="1"/>
<line x1="264.94" y1="435.4" x2="264.94" y2="439.5" stroke="#111" stroke-width="1"/>
<text x="264.94" y="432.6" font-size="6.2" fill="#222" text-anchor="middle">12.200 kb</text>
<line x1="289.80" y1="435.4" x2="289.80" y2="439.5" stroke="#111" stroke-width="1"/>
<line x1="314.66" y1="435.4" x2="314.66" y2="439.5" stroke="#111" stroke-width="1"/>
<text x="314.66" y="432.6" font-size="6.2" fill="#222" text-anchor="middle">12.300 kb</text>
<line x1="339.52" y1="435.4" x2="339.52" y2="439.5" stroke="#111" stroke-width="1"/>
<line x1="364.38" y1="435.4" x2="364.38" y2="439.5" stroke="#111" stroke-width="1"/>
<text x="364.38" y="432.6" font-size="6.2" fill="#222" text-anchor="middle">12.400 kb</text>
<line x1="389.24" y1="435.4" x2="389.24" y2="439.5" stroke="#111" stroke-width="1"/>
<line x1="414.10" y1="435.4" x2="414.10" y2="439.5" stroke="#111" stroke-width="1"/>
<text x="414.10" y="432.6" font-size="6.2" fill="#222" text-anchor="middle">12.500 kb</text>
<line x1="438.96" y1="435.4" x2="438.96" y2="439.5" stroke="#111" stroke-width="1"/>
<line x1="463.82" y1="435.4" x2="463.82" y2="439.5" stroke="#111" stroke-width="1"/>
<text x="463.82" y="432.6" font-size="6.2" fill="#222" text-anchor="middle">12.600 kb</text>
<line x1="488.68" y1="435.4" x2="488.68" y2="439.5" stroke="#111" stroke-width="1"/>
<line x1="513.54" y1="435.4" x2="513.54" y2="439.5" stroke="#111" stroke-width="1"/>
<text x="513.54" y="432.6" font-size="6.2" fill="#222" text-anchor="middle">12.700 kb</text>
</g>
<line x1="33.5" y1="439.8" x2="511.5" y2="439.8" stroke="#111" stroke-width="1.3"/>
<line x1="33.5" y1="445.5" x2="511.5" y2="445.5" stroke="#111" stroke-width="1.1"/>
<defs><linearGradient id="tg" x1="0" y1="0" x2="0" y2="1"><stop offset="0" stop-color="#d4e2e4"/><stop offset="1" stop-color="#fff"/></linearGradient></defs>
<rect x="34.2" y="446" width="476.6" height="4" fill="url(#tg)"/>
<path d="M34.2,520.4 L34.2,485.3 L35.4,485.3 L35.4,488.2 L36.6,488.2 L36.6,488.4 L37.8,488.4 L37.8,486.7 L39.0,486.7 L39.0,484.1 L40.2,484.1 L40.2,484.9 L41.4,484.9 L41.4,490.4 L42.6,490.4 L42.6,491.6 L43.8,491.6 L43.8,484.3 L45.0,484.3 L45.0,488.8 L46.2,488.8 L46.2,486.1 L47.4,486.1 L47.4,487.9 L48.6,487.9 L48.6,487.0 L49.8,487.0 L49.8,488.7 L51.0,488.7 L51.0,488.5 L52.2,488.5 L52.2,483.5 L53.4,483.5 L53.4,482.5 L54.6,482.5 L54.6,488.4 L55.8,488.4 L55.8,487.4 L57.0,487.4 L57.0,488.3 L58.2,488.3 L58.2,483.5 L59.4,483.5 L59.4,488.3 L60.6,488.3 L60.6,488.6 L61.8,488.6 L61.8,487.2 L63.0,487.2 L63.0,486.9 L64.2,486.9 L64.2,492.3 L65.4,492.3 L65.4,484.7 L66.6,484.7 L66.6,489.7 L67.8,489.7 L67.8,487.3 L69.0,487.3 L69.0,488.4 L70.2,488.4 L70.2,487.6 L71.4,487.6 L71.4,489.9 L72.6,489.9 L72.6,484.3 L73.8,484.3 L73.8,485.9 L75.0,485.9 L75.0,487.5 L76.2,487.5 L76.2,488.7 L77.4,488.7 L77.4,489.3 L78.6,489.3 L78.6,481.4 L79.8,481.4 L79.8,487.1 L81.0,487.1 L81.0,486.2 L82.2,486.2 L82.2,487.4 L83.4,487.4 L83.4,486.8 L84.6,486.8 L84.6,489.8 L85.8,489.8 L85.8,494.2 L87.0,494.2 L87.0,485.9 L88.2,485.9 L88.2,489.2 L89.4,489.2 L89.4,486.0 L90.6,486.0 L90.6,483.2 L91.8,483.2 L91.8,482.5 L93.0,482.5 L93.0,483.1 L94.2,483.1 L94.2,488.2 L95.4,488.2 L95.4,487.5 L96.6,487.5 L96.6,486.6 L97.8,486.6 L97.8,484.4 L99.0,484.4 L99.0,488.8 L100.2,488.8 L100.2,486.1 L101.4,486.1 L101.4,485.7 L102.6,485.7 L102.6,489.1 L103.8,489.1 L103.8,489.6 L105.0,489.6 L105.0,485.5 L106.2,485.5 L106.2,492.3 L107.4,492.3 L107.4,486.9 L108.6,486.9 L108.6,486.8 L109.8,486.8 L109.8,488.7 L111.0,488.7 L111.0,487.0 L112.2,487.0 L112.2,486.4 L113.4,486.4 L113.4,488.7 L114.6,488.7 L114.6,486.5 L115.8,486.5 L115.8,490.7 L117.0,490.7 L117.0,485.6 L118.2,485.6 L118.2,484.1 L119.4,484.1 L119.4,487.6 L120.6,487.6 L120.6,488.5 L121.8,488.5 L121.8,489.2 L123.0,489.2 L123.0,485.9 L124.2,485.9 L124.2,487.6 L125.4,487.6 L125.4,487.3 L126.6,487.3 L126.6,488.2 L127.8,488.2 L127.8,493.8 L129.0,493.8 L129.0,487.6 L130.2,487.6 L130.2,489.9 L131.4,489.9 L131.4,488.2 L132.6,488.2 L132.6,490.1 L133.8,490.1 L133.8,490.7 L135.0,490.7 L135.0,487.2 L136.2,487.2 L136.2,486.4 L137.4,486.4 L137.4,485.2 L138.6,485.2 L138.6,485.5 L139.8,485.5 L139.8,490.1 L141.0,490.1 L141.0,486.3 L142.2,486.3 L142.2,485.8 L143.4,485.8 L143.4,489.1 L144.6,489.1 L144.6,486.8 L145.8,486.8 L145.8,486.5 L147.0,486.5 L147.0,488.4 L148.2,488.4 L148.2,491.3 L149.4,491.3 L149.4,485.8 L150.6,485.8 L150.6,488.0 L151.8,488.0 L151.8,488.9 L153.0,488.9 L153.0,485.4 L154.2,485.4 L154.2,487.7 L155.4,487.7 L155.4,486.5 L156.6,486.5 L156.6,485.9 L157.8,485.9 L157.8,480.9 L159.0,480.9 L159.0,486.8 L160.2,486.8 L160.2,490.3 L161.4,490.3 L161.4,486.8 L162.6,486.8 L162.6,489.1 L163.8,489.1 L163.8,489.7 L165.0,489.7 L165.0,487.1 L166.2,487.1 L166.2,487.2 L167.4,487.2 L167.4,487.2 L168.6,487.2 L168.6,489.7 L169.8,489.7 L169.8,486.7 L171.0,486.7 L171.0,488.8 L172.2,488.8 L172.2,486.8 L173.4,486.8 L173.4,489.2 L174.6,489.2 L174.6,486.3 L175.8,486.3 L175.8,487.2 L177.0,487.2 L177.0,489.8 L178.2,489.8 L178.2,482.1 L179.4,482.1 L179.4,489.5 L180.6,489.5 L180.6,488.2 L181.8,488.2 L181.8,489.6 L183.0,489.6 L183.0,516.0 L184.2,516.0 L184.2,511.4 L185.4,511.4 L185.4,511.1 L186.6,511.1 L186.6,507.7 L187.8,507.7 L187.8,509.0 L189.0,509.0 L189.0,509.2 L190.2,509.2 L190.2,510.6 L191.4,510.6 L191.4,508.2 L192.6,508.2 L192.6,509.6 L193.8,509.6 L193.8,511.1 L195.0,511.1 L195.0,508.6 L196.2,508.6 L196.2,504.9 L197.4,504.9 L197.4,507.7 L198.6,507.7 L198.6,508.8 L199.8,508.8 L199.8,508.0 L201.0,508.0 L201.0,509.4 L202.2,509.4 L202.2,508.7 L203.4,508.7 L203.4,509.2 L204.6,509.2 L204.6,508.5 L205.8,508.5 L205.8,506.8 L207.0,506.8 L207.0,506.8 L208.2,506.8 L208.2,510.1 L209.4,510.1 L209.4,509.0 L210.6,509.0 L210.6,509.1 L211.8,509.1 L211.8,509.2 L213.0,509.2 L213.0,509.7 L214.2,509.7 L214.2,508.4 L215.4,508.4 L215.4,506.6 L216.6,506.6 L216.6,509.1 L217.8,509.1 L217.8,507.3 L219.0,507.3 L219.0,505.2 L220.2,505.2 L220.2,509.0 L221.4,509.0 L221.4,508.0 L222.6,508.0 L222.6,507.9 L223.8,507.9 L223.8,509.0 L225.0,509.0 L225.0,511.1 L226.2,511.1 L226.2,508.8 L227.4,508.8 L227.4,509.7 L228.6,509.7 L228.6,507.3 L229.8,507.3 L229.8,505.2 L231.0,505.2 L231.0,508.5 L232.2,508.5 L232.2,510.3 L233.4,510.3 L233.4,507.6 L234.6,507.6 L234.6,506.5 L235.8,506.5 L235.8,510.0 L237.0,510.0 L237.0,508.8 L238.2,508.8 L238.2,506.6 L239.4,506.6 L239.4,509.6 L240.6,509.6 L240.6,506.7 L241.8,506.7 L241.8,507.5 L243.0,507.5 L243.0,507.3 L244.2,507.3 L244.2,508.1 L245.4,508.1 L245.4,507.7 L246.6,507.7 L246.6,507.4 L247.8,507.4 L247.8,508.4 L249.0,508.4 L249.0,508.0 L250.2,508.0 L250.2,503.6 L251.4,503.6 L251.4,508.5 L252.6,508.5 L252.6,505.7 L253.8,505.7 L253.8,508.2 L255.0,508.2 L255.0,509.0 L256.2,509.0 L256.2,507.2 L257.4,507.2 L257.4,508.2 L258.6,508.2 L258.6,510.3 L259.8,510.3 L259.8,505.6 L261.0,505.6 L261.0,508.6 L262.2,508.6 L262.2,508.2 L263.4,508.2 L263.4,507.9 L264.6,507.9 L264.6,508.7 L265.8,508.7 L265.8,511.3 L267.0,511.3 L267.0,509.6 L268.2,509.6 L268.2,507.7 L269.4,507.7 L269.4,507.9 L270.6,507.9 L270.6,507.7 L271.8,507.7 L271.8,508.2 L273.0,508.2 L273.0,507.6 L274.2,507.6 L274.2,508.7 L275.4,508.7 L275.4,506.6 L276.6,506.6 L276.6,506.3 L277.8,506.3 L277.8,509.0 L279.0,509.0 L279.0,508.4 L280.2,508.4 L280.2,505.4 L281.4,505.4 L281.4,509.1 L282.6,509.1 L282.6,510.4 L283.8,510.4 L283.8,507.9 L285.0,507.9 L285.0,509.3 L286.2,509.3 L286.2,507.1 L287.4,507.1 L287.4,505.0 L288.6,505.0 L288.6,508.8 L289.8,508.8 L289.8,506.9 L291.0,506.9 L291.0,509.2 L292.2,509.2 L292.2,507.5 L293.4,507.5 L293.4,508.0 L294.6,508.0 L294.6,511.6 L295.8,511.6 L295.8,508.6 L297.0,508.6 L297.0,510.5 L298.2,510.5 L298.2,510.3 L299.4,510.3 L299.4,508.0 L300.6,508.0 L300.6,509.3 L301.8,509.3 L301.8,507.2 L303.0,507.2 L303.0,507.7 L304.2,507.7 L304.2,508.6 L305.4,508.6 L305.4,512.0 L306.6,512.0 L306.6,509.0 L307.8,509.0 L307.8,508.7 L309.0,508.7 L309.0,508.2 L310.2,508.2 L310.2,506.5 L311.4,506.5 L311.4,507.9 L312.6,507.9 L312.6,507.2 L313.8,507.2 L313.8,507.8 L315.0,507.8 L315.0,508.7 L316.2,508.7 L316.2,508.8 L317.4,508.8 L317.4,508.2 L318.6,508.2 L318.6,507.1 L319.8,507.1 L319.8,507.2 L321.0,507.2 L321.0,508.5 L322.2,508.5 L322.2,510.8 L323.4,510.8 L323.4,509.7 L324.6,509.7 L324.6,508.5 L325.8,508.5 L325.8,509.7 L327.0,509.7 L327.0,504.3 L328.2,504.3 L328.2,509.0 L329.4,509.0 L329.4,508.8 L330.6,508.8 L330.6,508.2 L331.8,508.2 L331.8,505.6 L333.0,505.6 L333.0,508.3 L334.2,508.3 L334.2,508.2 L335.4,508.2 L335.4,508.3 L336.6,508.3 L336.6,507.7 L337.8,507.7 L337.8,508.4 L339.0,508.4 L339.0,507.5 L340.2,507.5 L340.2,506.2 L341.4,506.2 L341.4,507.5 L342.6,507.5 L342.6,506.6 L343.8,506.6 L343.8,509.4 L345.0,509.4 L345.0,506.3 L346.2,506.3 L346.2,510.3 L347.4,510.3 L347.4,507.9 L348.6,507.9 L348.6,509.5 L349.8,509.5 L349.8,508.0 L351.0,508.0 L351.0,509.1 L352.2,509.1 L352.2,506.4 L353.4,506.4 L353.4,508.0 L354.6,508.0 L354.6,508.7 L355.8,508.7 L355.8,503.3 L357.0,503.3 L357.0,507.1 L358.2,507.1 L358.2,508.2 L359.4,508.2 L359.4,508.7 L360.6,508.7 L360.6,508.2 L361.8,508.2 L361.8,509.0 L363.0,509.0 L363.0,508.8 L364.2,508.8 L364.2,510.1 L365.4,510.1 L365.4,509.5 L366.6,509.5 L366.6,508.1 L367.8,508.1 L367.8,507.9 L369.0,507.9 L369.0,506.6 L370.2,506.6 L370.2,508.3 L371.4,508.3 L371.4,510.4 L372.6,510.4 L372.6,508.2 L373.8,508.2 L373.8,508.3 L375.0,508.3 L375.0,506.7 L376.2,506.7 L376.2,509.4 L377.4,509.4 L377.4,507.0 L378.6,507.0 L378.6,509.9 L379.8,509.9 L379.8,506.4 L381.0,506.4 L381.0,506.7 L382.2,506.7 L382.2,508.3 L383.4,508.3 L383.4,508.0 L384.6,508.0 L384.6,508.9 L385.8,508.9 L385.8,508.1 L387.0,508.1 L387.0,509.1 L388.2,509.1 L388.2,505.5 L389.4,505.5 L389.4,511.7 L390.6,511.7 L390.6,507.4 L391.8,507.4 L391.8,504.3 L393.0,504.3 L393.0,504.6 L394.2,504.6 L394.2,507.3 L395.4,507.3 L395.4,508.8 L396.6,508.8 L396.6,509.5 L397.8,509.5 L397.8,508.7 L399.0,508.7 L399.0,509.4 L400.2,509.4 L400.2,508.6 L401.4,508.6 L401.4,507.6 L402.6,507.6 L402.6,507.7 L403.8,507.7 L403.8,508.7 L405.0,508.7 L405.0,507.8 L406.2,507.8 L406.2,509.9 L407.4,509.9 L407.4,508.7 L408.6,508.7 L408.6,509.0 L409.8,509.0 L409.8,507.5 L411.0,507.5 L411.0,509.6 L412.2,509.6 L412.2,510.4 L413.4,510.4 L413.4,505.8 L414.6,505.8 L414.6,507.1 L415.8,507.1 L415.8,510.1 L417.0,510.1 L417.0,509.0 L418.2,509.0 L418.2,509.2 L419.4,509.2 L419.4,509.6 L420.6,509.6 L420.6,507.5 L421.8,507.5 L421.8,508.4 L423.0,508.4 L423.0,510.1 L424.2,510.1 L424.2,510.8 L425.4,510.8 L425.4,508.6 L426.6,508.6 L426.6,509.4 L427.8,509.4 L427.8,506.4 L429.0,506.4 L429.0,505.7 L430.2,505.7 L430.2,509.2 L431.4,509.2 L431.4,507.9 L432.6,507.9 L432.6,510.6 L433.8,510.6 L433.8,510.5 L435.0,510.5 L435.0,509.8 L436.2,509.8 L436.2,507.9 L437.4,507.9 L437.4,508.5 L438.6,508.5 L438.6,508.4 L439.8,508.4 L439.8,509.0 L441.0,509.0 L441.0,508.4 L442.2,508.4 L442.2,507.5 L443.4,507.5 L443.4,507.5 L444.6,507.5 L444.6,509.4 L445.8,509.4 L445.8,508.5 L447.0,508.5 L447.0,508.4 L448.2,508.4 L448.2,508.7 L449.4,508.7 L449.4,506.2 L450.6,506.2 L450.6,508.8 L451.8,508.8 L451.8,507.8 L453.0,507.8 L453.0,507.5 L454.2,507.5 L454.2,509.7 L455.4,509.7 L455.4,507.2 L456.6,507.2 L456.6,509.7 L457.8,509.7 L457.8,508.5 L459.0,508.5 L459.0,507.5 L460.2,507.5 L460.2,508.4 L461.4,508.4 L461.4,505.7 L462.6,505.7 L462.6,510.1 L463.8,510.1 L463.8,509.6 L465.0,509.6 L465.0,506.7 L466.2,506.7 L466.2,507.9 L467.4,507.9 L467.4,508.9 L468.6,508.9 L468.6,505.3 L469.8,505.3 L469.8,507.3 L471.0,507.3 L471.0,509.2 L472.2,509.2 L472.2,509.1 L473.4,509.1 L473.4,507.5 L474.6,507.5 L474.6,489.3 L475.8,489.3 L475.8,487.7 L477.0,487.7 L477.0,488.2 L478.2,488.2 L478.2,482.3 L479.4,482.3 L479.4,483.3 L480.6,483.3 L480.6,489.7 L481.8,489.7 L481.8,488.3 L483.0,488.3 L483.0,484.2 L484.2,484.2 L484.2,487.9 L485.4,487.9 L485.4,483.6 L486.6,483.6 L486.6,486.5 L487.8,486.5 L487.8,487.5 L489.0,487.5 L489.0,484.7 L490.2,484.7 L490.2,487.2 L491.4,487.2 L491.4,489.9 L492.6,489.9 L492.6,484.2 L493.8,484.2 L493.8,485.0 L495.0,485.0 L495.0,486.2 L496.2,486.2 L496.2,486.2 L497.4,486.2 L497.4,489.0 L498.6,489.0 L498.6,490.1 L499.8,490.1 L499.8,490.4 L501.0,490.4 L501.0,486.2 L502.2,486.2 L502.2,487.0 L503.4,487.0 L503.4,488.5 L504.6,488.5 L504.6,485.3 L505.8,485.3 L505.8,486.6 L507.0,486.6 L507.0,491.2 L508.2,491.2 L508.2,488.1 L509.4,488.1 L509.4,484.4 L510.6,484.4 L510.6,489.8 L511.8,489.8 L510.9,520.4 Z" fill="#0a31ae"/>
<rect x="219.5" y="451.4" width="1" height="58" fill="#1040b0"/>
<line x1="33.5" y1="521.3" x2="511.5" y2="521.3" stroke="#e8eef8" stroke-width="0.8"/>
<line x1="33.5" y1="522.6" x2="511.5" y2="522.6" stroke="#333" stroke-width="1.1"/>
<line x1="76" y1="473.4" x2="158.5" y2="473.4" stroke="#111" stroke-width="1.2"/>
<path d="M72,473.4 L79.5,469.6 L79.5,477.2 Z" fill="#111"/>
<text x="88" y="467" font-size="9" fill="#111">Heterozygous</text>
<line x1="203" y1="495.4" x2="280" y2="495.4" stroke="#111" stroke-width="1.2"/>
<path d="M199,495.4 L206.5,491.6 L206.5,499.2 Z" fill="#111"/>
<text x="297.6" y="498.5" font-size="9" fill="#111">Homozygous</text>
<line x1="364" y1="495.4" x2="444" y2="495.4" stroke="#111" stroke-width="1.2"/>
<path d="M451,495.4 L443.5,491.6 L443.5,499.2 Z" fill="#111"/>
<line x1="46" y1="528.5" x2="84" y2="528.5" stroke="#1a48b8" stroke-width="1"/><rect x="46" y="525" width="1" height="7" fill="#1a48b8"/><rect x="48.5" y="525" width="2.0" height="7" fill="#1a48b8"/><rect x="52" y="525" width="2" height="7" fill="#1a48b8"/><rect x="55" y="525" width="2.5" height="7" fill="#1a48b8"/><rect x="70" y="525" width="1" height="7" fill="#1a48b8"/><rect x="72.5" y="525" width="2.0" height="7" fill="#1a48b8"/><rect x="76" y="525" width="1" height="7" fill="#1a48b8"/><rect x="78.5" y="525" width="1.5" height="7" fill="#1a48b8"/>
<line x1="88" y1="528.5" x2="111" y2="528.5" stroke="#1a48b8" stroke-width="1"/><rect x="88" y="525" width="2" height="7" fill="#1a48b8"/><rect x="90.5" y="525" width="2.5" height="7" fill="#1a48b8"/><rect x="93.5" y="525" width="2.5" height="7" fill="#1a48b8"/><rect x="96.5" y="525" width="2.5" height="7" fill="#1a48b8"/><rect x="99.5" y="525" width="2.5" height="7" fill="#1a48b8"/><rect x="102.5" y="525" width="2.5" height="7" fill="#1a48b8"/><rect x="110.5" y="525" width="0.7999999999999972" height="7" fill="#1a48b8"/>
<line x1="121" y1="528.5" x2="139" y2="528.5" stroke="#1a48b8" stroke-width="1"/><rect x="126" y="525" width="1.5" height="7" fill="#1a48b8"/><rect x="129" y="525" width="2" height="7" fill="#1a48b8"/><rect x="132" y="525" width="2" height="7" fill="#1a48b8"/><rect x="135" y="525" width="3.5" height="7" fill="#1a48b8"/>
<line x1="146" y1="528.5" x2="172" y2="528.5" stroke="#1a48b8" stroke-width="1"/><rect x="146" y="525" width="2" height="7" fill="#1a48b8"/><rect x="148.5" y="525" width="2.5" height="7" fill="#1a48b8"/><rect x="151.5" y="525" width="2.0" height="7" fill="#1a48b8"/><rect x="154" y="525" width="2" height="7" fill="#1a48b8"/><rect x="156.5" y="525" width="2.0" height="7" fill="#1a48b8"/><rect x="159" y="525" width="4" height="7" fill="#1a48b8"/><rect x="171" y="525" width="1" height="7" fill="#1a48b8"/>
<line x1="194.5" y1="528.5" x2="197" y2="528.5" stroke="#1a48b8" stroke-width="1"/><rect x="194.5" y="525" width="2.5" height="7" fill="#1a48b8"/>
<line x1="201" y1="528.5" x2="497" y2="528.5" stroke="#1a48b8" stroke-width="1"/><rect x="201" y="525" width="1.1999999999999886" height="7" fill="#1a48b8"/><rect x="216" y="525" width="2" height="7" fill="#1a48b8"/><rect x="243" y="525" width="1" height="7" fill="#1a48b8"/><rect x="258.8" y="525" width="1.0" height="7" fill="#1a48b8"/><rect x="274" y="525" width="2" height="7" fill="#1a48b8"/><rect x="311.5" y="525" width="1.0" height="7" fill="#1a48b8"/><rect x="349" y="525" width="1" height="7" fill="#1a48b8"/><rect x="361" y="525" width="1.5" height="7" fill="#1a48b8"/><rect x="388.5" y="525" width="1.0" height="7" fill="#1a48b8"/><rect x="410.8" y="525" width="1.1999999999999886" height="7" fill="#1a48b8"/><rect x="413" y="525" width="1.1999999999999886" height="7" fill="#1a48b8"/><rect x="450" y="525" width="1.1999999999999886" height="7" fill="#1a48b8"/><rect x="472" y="525" width="1.1999999999999886" height="7" fill="#1a48b8"/>
<path d="M206,526.6 L208.2,528.5 L206,530.4 Z" fill="#1a48b8"/>
<path d="M222,526.6 L224.2,528.5 L222,530.4 Z" fill="#1a48b8"/>
<path d="M232,526.6 L234.2,528.5 L232,530.4 Z" fill="#1a48b8"/>
<path d="M248,526.6 L250.2,528.5 L248,530.4 Z" fill="#1a48b8"/>
<path d="M266,526.6 L268.2,528.5 L266,530.4 Z" fill="#1a48b8"/>
<path d="M283,526.6 L285.2,528.5 L283,530.4 Z" fill="#1a48b8"/>
<path d="M295,526.6 L297.2,528.5 L295,530.4 Z" fill="#1a48b8"/>
<path d="M313,526.6 L315.2,528.5 L313,530.4 Z" fill="#1a48b8"/>
<path d="M332,526.6 L334.2,528.5 L332,530.4 Z" fill="#1a48b8"/>
<path d="M352,526.6 L354.2,528.5 L352,530.4 Z" fill="#1a48b8"/>
<path d="M376,526.6 L378.2,528.5 L376,530.4 Z" fill="#1a48b8"/>
<path d="M397,526.6 L399.2,528.5 L397,530.4 Z" fill="#1a48b8"/>
<path d="M420,526.6 L422.2,528.5 L420,530.4 Z" fill="#1a48b8"/>
<path d="M436,526.6 L438.2,528.5 L436,530.4 Z" fill="#1a48b8"/>
<path d="M456,526.6 L458.2,528.5 L456,530.4 Z" fill="#1a48b8"/>
<path d="M478,526.6 L480.2,528.5 L478,530.4 Z" fill="#1a48b8"/>
<path d="M494.5,525.5 L498,528.5 L494.5,531.5 Z" fill="#1a48b8"/>
<text x="43.7" y="539.7" font-size="6.05" fill="#1a1a1a">SNN</text>
<text x="86.3" y="539.7" font-size="6.05" fill="#1a1a1a">ZC3H7A</text>
<text x="114.5" y="539.7" font-size="6.05" fill="#1a1a1a">BCAR4</text>
<text x="147.5" y="539.7" font-size="6.05" fill="#1a1a1a">GSPT1</text>
<text x="180.5" y="539.7" font-size="6.05" fill="#1a1a1a">TNFRSF17</text>
<text x="340" y="539.7" font-size="6.05" fill="#1a1a1a">SNX29</text>
</svg>

<svg width="520" height="832" style="position:absolute;left:0;top:0" font-family="Liberation Sans, sans-serif">
<text x="111.2" y="569.5" font-size="9" text-anchor="middle" fill="#111">Pre BsAb</text>
<text x="272.9" y="569.5" font-size="9" text-anchor="middle" fill="#111">1st relapse after BsAb</text>
<text x="434.3" y="569.5" font-size="9" text-anchor="middle" fill="#111">3rd relapse after BsAb</text>
<text x="0" y="0" transform="translate(27,637.5) rotate(-90)" text-anchor="middle" font-weight="bold" font-size="10.5" textLength="20.6" lengthAdjust="spacingAndGlyphs" fill="#111">BCMA</text>
<text x="0" y="0" transform="translate(27,763.9) rotate(-90)" text-anchor="middle" font-weight="bold" font-size="10.5" textLength="33" lengthAdjust="spacingAndGlyphs" fill="#111">Lambda</text>
</svg>
<svg class="ihc" style="left:33px;top:577px" width="155" height="121" viewBox="0 0 155 121"><defs><filter id="bl1" x="-50%" y="-50%" width="200%" height="200%"><feGaussianBlur stdDeviation="5"/></filter><filter id="sb1" x="-20%" y="-20%" width="140%" height="140%"><feGaussianBlur stdDeviation="0.5"/></filter><filter id="db1" x="-5%" y="-5%" width="110%" height="110%"><feGaussianBlur stdDeviation="0.45"/></filter></defs><rect width="155" height="121" fill="#e2d6d4"/><g filter="url(#bl1)"><ellipse cx="30" cy="8" rx="45" ry="20" fill="#ecedec" fill-opacity="1"/><ellipse cx="95" cy="2" rx="70" ry="9" fill="#ecedec" fill-opacity="1"/><ellipse cx="145" cy="4" rx="22" ry="14" fill="#ecedec" fill-opacity="1"/><ellipse cx="4" cy="40" rx="10" ry="20" fill="#e8e4e6" fill-opacity="1"/><ellipse cx="45" cy="38" rx="20" ry="18" fill="#c8b0b8" fill-opacity="0.8"/><ellipse cx="135" cy="45" rx="18" ry="25" fill="#d0b4b0" fill-opacity="0.7"/><ellipse cx="70" cy="95" rx="12" ry="10" fill="#b8acd0" fill-opacity="0.6"/><ellipse cx="12" cy="105" rx="14" ry="16" fill="#ccb8c4" fill-opacity="0.6"/><ellipse cx="142" cy="105" rx="14" ry="15" fill="#d0b8bc" fill-opacity="0.6"/></g><g filter="url(#db1)"><g transform="scale(0.5)"><path stroke="#5a52b8" stroke-width="4.0" stroke-opacity="0.6" stroke-linecap="round" d="M247 228h0M82 80h0M140 171h0M240 26h0M50 12h0M280 27h0M84 189h0M259 64h0M208 112h0M297 125h0M291 115h0M300 117h0"/><path stroke="#3c3898" stroke-width="4.0" stroke-opacity="0.6" stroke-linecap="round" d="M261 188h0M35 114h0M118 25h0M43 149h0M41 235h0M65 52h0M270 70h0M167 164h0M56 234h0M7 100h0M55 62h0M296 48h0M11 229h0M17 222h0M249 81h0M33 105h0M18 102h0M140 242h0M105 43h0M223 7h0M306 237h0M205 17h0M74 219h0"/><path stroke="#4a44a8" stroke-width="4.0" stroke-opacity="0.6" stroke-linecap="round" d="M4 52h0M56 210h0M300 216h0M219 16h0M254 116h0M294 87h0M6 191h0M288 228h0M159 216h0M242 89h0M112 36h0M287 132h0M224 75h0M74 144h0M294 153h0M303 110h0M298 152h0M269 44h0M206 184h0M147 187h0M270 167h0M304 48h0M24 162h0M17 32h0M11 113h0"/><path stroke="#3c3898" stroke-width="4.0" stroke-opacity="0.8" stroke-linecap="round" d="M304 123h0M60 102h0M196 185h0M76 159h0M259 102h0M206 56h0M302 178h0M201 120h0M141 173h0M278 192h0M138 211h0M276 147h0M290 119h0M45 155h0M260 196h0M220 114h0M284 150h0M164 219h0M252 215h0M143 174h0M289 174h0M286 135h0M248 83h0M80 164h0M264 127h0M172 124h0M48 140h0M128 58h0M85 84h0M301 195h0M218 62h0M169 60h0M238 106h0M273 105h0M157 206h0M266 170h0M170 112h0M306 125h0M79 219h0M285 131h0M168 121h0M248 234h0M246 104h0M49 153h0M251 181h0M255 127h0M93 74h0M154 235h0M292 177h0M101 181h0M227 242h0M175 109h0M236 128h0M135 179h0M95 169h0M218 106h0M145 237h0M138 227h0M284 185h0M233 83h0M247 107h0M240 84h0M174 168h0M165 222h0M181 176h0M116 114h0M52 162h0M190 188h0M157 116h0M297 100h0M46 152h0M174 188h0M163 186h0M292 99h0M170 51h0M238 94h0M285 118h0M50 140h0M260 109h0M251 121h0M281 86h0M207 63h0"/><path stroke="#5a52b8" stroke-width="4.0" stroke-opacity="0.8" stroke-linecap="round" d="M156 202h0M248 210h0M281 147h0M156 232h0M304 152h0M245 193h0M109 173h0M188 184h0M219 104h0M132 192h0M240 92h0M45 156h0M276 150h0M231 71h0M81 86h0M305 169h0M259 183h0M293 184h0M144 181h0M174 119h0M214 100h0M253 185h0M77 149h0M306 140h0M308 125h0M279 118h0M145 201h0M128 172h0M87 105h0M240 129h0M302 105h0M154 187h0M45 156h0M291 127h0M246 224h0M69 97h0M246 215h0M255 178h0M129 182h0M262 192h0M285 152h0M242 227h0M247 197h0M80 177h0M102 74h0M302 151h0M254 130h0M243 204h0M169 220h0M265 139h0M238 238h0M169 182h0M186 116h0M255 120h0M250 174h0M259 186h0M141 240h0M49 157h0M189 241h0M161 57h0M303 164h0M236 83h0M218 114h0M265 106h0M173 105h0M142 56h0M274 94h0M150 211h0M232 106h0M139 58h0M164 200h0M128 112h0M110 172h0M257 221h0M255 229h0M47 148h0M294 179h0M274 131h0M173 196h0M82 104h0M276 170h0M274 115h0M95 79h0M242 115h0M298 144h0M245 182h0M234 180h0M77 85h0M107 104h0M157 203h0M165 230h0M255 74h0M149 242h0M77 163h0M67 93h0M116 116h0M278 218h0M248 172h0"/><path stroke="#4a44a8" stroke-width="4.0" stroke-opacity="0.8" stroke-linecap="round" d="M89 81h0M277 140h0M278 143h0M292 162h0M258 232h0M288 127h0M294 176h0M156 53h0M304 136h0M259 71h0M220 123h0M264 205h0M144 213h0M302 177h0M285 196h0M254 188h0M244 204h0M279 218h0M96 176h0M262 115h0M284 166h0M245 86h0M290 107h0M171 165h0M159 226h0M256 135h0M252 196h0M223 111h0M168 160h0M159 61h0M254 221h0M255 178h0M167 218h0M98 85h0M118 183h0M303 154h0M166 103h0M168 162h0M107 115h0M265 227h0M291 128h0M87 177h0M237 91h0M184 119h0M151 200h0M155 171h0M238 187h0M285 161h0M253 131h0M279 170h0M138 230h0M185 118h0M257 109h0M156 177h0M288 106h0M270 194h0M82 98h0M61 109h0M164 176h0M277 168h0M169 180h0M152 175h0M281 211h0M170 191h0M260 147h0M265 103h0M178 191h0M127 181h0M173 54h0M114 119h0M173 167h0M158 240h0M254 109h0M71 211h0M53 110h0M214 120h0M246 127h0M307 129h0M90 182h0M295 155h0M287 93h0M209 60h0M130 187h0M265 149h0M161 176h0M268 149h0M172 207h0M147 178h0M178 63h0"/><path stroke="#5a52b8" stroke-width="4.4" stroke-opacity="0.85" stroke-linecap="round" d="M267 208h0M63 53h0M0 106h0M246 126h0M254 44h0M24 193h0M11 223h0M297 71h0M250 181h0M146 241h0M264 95h0M235 101h0M296 152h0M298 67h0M251 211h0M84 33h0M159 38h0M33 107h0M288 86h0M16 212h0M237 55h0M33 97h0M263 165h0M96 89h0M159 185h0M143 219h0M286 54h0M79 31h0M302 83h0M163 224h0M271 242h0M224 121h0M278 167h0M290 195h0M32 155h0M156 222h0M240 131h0M8 88h0M71 58h0M307 127h0M287 225h0M283 114h0M280 218h0M122 179h0M236 68h0M9 178h0M300 181h0M275 130h0M244 93h0M227 62h0M19 126h0M263 186h0M161 221h0M248 109h0M32 170h0M11 241h0M95 45h0M264 164h0M270 202h0M8 227h0M263 172h0M271 141h0M291 134h0M258 145h0M137 171h0M274 93h0M298 69h0M281 87h0M182 50h0M141 238h0M248 55h0M282 172h0M294 108h0M219 121h0M170 51h0M264 112h0M259 87h0M162 21h0M295 197h0M257 90h0M3 212h0M267 211h0M165 229h0M178 41h0M18 144h0M14 213h0M32 123h0M288 87h0M123 172h0M157 201h0M103 43h0M14 197h0M253 226h0M32 203h0M14 126h0M111 72h0M118 181h0M306 187h0M14 121h0M20 191h0M59 91h0M21 229h0M36 131h0M290 66h0M108 57h0M253 117h0M155 193h0M90 74h0M260 177h0M276 222h0M119 181h0M296 172h0M286 163h0M27 166h0M78 235h0M82 56h0M72 226h0M10 82h0M125 179h0M105 76h0M282 169h0M114 172h0M233 134h0M63 55h0M254 99h0M287 205h0M297 119h0M23 82h0M14 206h0M172 184h0M254 102h0M20 150h0M33 124h0M253 174h0M261 203h0M275 184h0M149 188h0M243 194h0M276 161h0M293 90h0M15 116h0M92 49h0M10 88h0M25 205h0M156 55h0M266 46h0M259 105h0M269 182h0M58 90h0M278 166h0M243 60h0M265 156h0M305 134h0M9 219h0M215 111h0M271 230h0M174 54h0M170 223h0M123 56h0M157 52h0M291 146h0M260 115h0M305 188h0M115 64h0M169 232h0M147 35h0M297 186h0M281 192h0M5 186h0M93 66h0M286 154h0M278 99h0M78 216h0M152 50h0M259 177h0M149 208h0M87 64h0M284 114h0M274 202h0M143 186h0M30 199h0M25 191h0M93 50h0M19 106h0M225 77h0M259 187h0M25 236h0M15 124h0M76 78h0M276 75h0M156 179h0M149 201h0M277 91h0M160 227h0M235 95h0M32 220h0M238 99h0M243 93h0M162 204h0M157 54h0M262 168h0M241 121h0M272 163h0M6 219h0M291 209h0M94 41h0M266 145h0M291 207h0M31 175h0M282 61h0M269 195h0M297 180h0M289 146h0M82 88h0M13 90h0M28 145h0M176 45h0M24 181h0M249 87h0M21 198h0M260 99h0M266 212h0M301 128h0M30 137h0M264 168h0M233 79h0M242 46h0M253 123h0M277 200h0M26 152h0M6 94h0M63 74h0M297 152h0M164 240h0M257 234h0M66 83h0M268 197h0M307 185h0M298 223h0M29 135h0M243 77h0M66 94h0M260 155h0M156 34h0M83 80h0M154 206h0M258 226h0M39 149h0M263 141h0M280 229h0M66 90h0M128 178h0M285 211h0M239 118h0"/><path stroke="#4a44a8" stroke-width="4.4" stroke-opacity="0.85" stroke-linecap="round" d="M9 100h0M289 206h0M298 106h0M177 39h0M71 36h0M173 27h0M84 232h0M148 39h0M112 105h0M291 71h0M272 91h0M307 86h0M166 231h0M268 194h0M300 233h0M278 224h0M153 62h0M35 215h0M81 76h0M269 192h0M84 239h0M277 122h0M3 187h0M27 131h0M270 88h0M266 67h0M15 237h0M162 52h0M133 184h0M155 37h0M88 101h0M92 97h0M30 161h0M260 184h0M252 73h0M111 113h0M148 57h0M23 219h0M237 79h0M274 164h0M15 233h0M59 86h0M161 52h0M28 144h0M70 45h0M25 238h0M273 176h0M40 128h0M30 92h0M305 192h0M14 238h0M280 98h0M281 161h0M284 197h0M279 125h0M35 123h0M253 82h0M269 68h0M163 50h0M152 34h0M270 221h0M165 227h0M257 175h0M22 111h0M243 120h0M84 55h0M152 41h0M14 102h0M273 173h0M164 169h0M139 229h0M15 132h0M295 187h0M285 230h0M24 102h0M36 214h0M285 195h0M177 36h0M12 125h0M22 72h0M25 207h0M299 179h0M290 237h0M238 110h0M78 85h0M102 85h0M279 235h0M165 189h0M269 49h0M18 179h0M289 76h0M3 118h0M244 120h0M16 186h0M272 198h0M256 96h0M235 108h0M303 95h0M263 170h0M259 171h0M214 106h0M124 179h0M105 74h0M65 87h0M16 131h0M301 181h0M266 206h0M177 45h0M18 224h0M254 59h0M152 221h0M146 192h0M20 79h0M105 47h0M15 178h0M38 153h0M281 182h0M154 57h0M150 55h0M112 64h0M292 190h0M309 214h0M76 83h0M281 95h0M241 74h0M261 127h0M220 92h0M161 200h0M141 191h0M177 27h0M105 36h0M6 208h0M164 240h0M239 64h0M280 94h0M258 128h0M74 74h0M241 117h0M292 63h0M236 62h0M173 33h0M267 209h0M7 191h0M287 78h0M34 140h0M130 173h0M138 226h0M17 98h0M138 184h0M242 204h0M103 83h0M288 150h0M266 192h0M254 58h0M287 205h0M289 79h0M154 166h0M83 42h0M92 28h0M223 103h0M22 174h0M246 49h0M130 191h0M280 217h0M281 205h0M292 181h0M280 182h0M304 198h0M56 62h0M299 120h0M56 68h0M252 225h0M257 51h0M256 149h0M307 220h0M124 175h0M255 108h0M276 72h0M250 89h0M168 32h0M115 69h0M10 125h0M298 98h0M230 76h0M75 215h0M111 106h0M103 83h0M281 121h0M256 44h0M278 233h0M162 56h0M9 204h0M80 34h0M64 76h0M72 105h0M305 99h0M288 92h0M180 40h0M148 218h0M237 118h0M143 171h0M82 65h0M152 228h0M247 74h0M153 191h0M58 97h0M264 167h0M37 147h0M233 82h0M247 176h0M63 47h0M170 65h0M221 93h0M263 129h0M137 184h0M257 59h0M307 134h0M276 93h0M273 52h0M287 84h0M7 223h0M67 80h0M256 231h0M138 197h0M296 62h0M243 210h0M31 95h0M25 101h0M226 86h0M211 121h0M156 191h0M273 156h0M80 236h0M255 102h0M268 127h0M142 222h0M305 100h0M257 153h0M249 194h0M24 139h0M17 110h0M238 57h0M261 192h0M308 197h0M70 58h0M271 58h0M137 203h0M19 79h0"/><path stroke="#3c3898" stroke-width="4.4" stroke-opacity="0.85" stroke-linecap="round" d="M243 110h0M21 172h0M58 66h0M169 28h0M239 62h0M78 46h0M242 92h0M280 82h0M226 112h0M97 68h0M21 135h0M254 121h0M291 91h0M277 173h0M66 55h0M15 229h0M24 214h0M137 225h0M290 57h0M32 101h0M274 107h0M150 40h0M225 65h0M12 121h0M178 33h0M226 113h0M145 236h0M168 26h0M26 146h0M270 223h0M150 227h0M296 206h0M299 203h0M242 110h0M11 242h0M95 55h0M18 107h0M182 36h0M281 215h0M271 154h0M211 111h0M304 79h0M293 233h0M288 182h0M266 63h0M81 225h0M273 146h0M259 148h0M289 226h0M12 241h0M10 114h0M288 167h0M289 186h0M298 221h0M282 200h0M166 29h0M4 111h0M280 52h0M163 196h0M26 157h0M15 216h0M26 138h0M71 44h0M167 21h0M283 212h0M92 52h0M23 155h0M88 64h0M8 220h0M9 215h0M8 181h0M161 31h0M294 187h0M278 166h0M280 177h0M266 66h0M87 82h0M17 173h0M264 110h0M77 55h0M304 193h0M25 222h0M74 203h0M281 67h0M69 52h0M265 49h0M63 89h0M246 53h0M294 184h0M9 95h0M224 64h0M269 65h0M61 102h0M310 115h0M17 239h0M21 169h0M27 154h0M9 94h0M269 92h0M277 87h0M275 231h0M72 224h0M304 184h0M16 226h0M263 151h0M258 170h0M263 177h0M102 57h0M96 34h0M125 177h0M156 35h0M60 68h0M79 83h0M155 34h0M283 94h0M109 62h0M257 182h0M245 85h0M263 176h0M219 93h0M61 93h0M17 102h0M101 92h0M102 87h0M274 178h0M259 65h0M156 40h0M68 100h0M9 212h0M232 65h0M104 112h0M282 175h0M283 180h0M158 51h0M250 221h0M169 50h0M57 72h0M276 174h0M32 100h0M250 45h0M284 237h0M83 61h0M270 158h0M130 178h0M107 39h0M94 63h0M288 148h0M263 190h0M269 198h0M85 233h0M25 101h0M258 171h0M82 105h0M14 136h0M279 139h0M268 173h0M11 229h0M90 75h0M151 178h0M18 85h0M25 100h0M111 46h0M99 56h0M169 221h0M25 88h0M169 41h0M279 132h0M273 160h0M255 73h0M274 238h0M257 106h0M36 166h0M99 101h0M218 124h0M152 218h0M300 119h0M268 146h0M92 39h0M252 180h0M263 153h0M31 128h0M173 27h0M273 54h0M159 180h0M279 114h0M273 171h0M276 234h0M90 59h0M292 89h0M4 198h0M276 87h0M238 86h0M227 69h0M279 93h0M104 44h0M11 227h0M277 235h0M75 48h0M248 80h0M276 196h0M141 183h0M102 50h0M251 211h0M160 52h0M95 34h0M14 75h0M29 212h0M16 83h0M248 114h0M257 152h0M285 240h0M148 238h0M261 87h0M266 41h0M294 149h0M301 188h0M75 99h0M12 231h0M228 110h0M287 194h0M287 193h0M165 238h0M3 119h0M273 124h0M247 176h0M303 203h0M148 32h0M272 181h0M29 241h0M16 124h0M14 205h0M4 129h0M232 135h0M105 55h0M77 100h0M277 180h0M287 208h0M121 59h0M304 86h0M285 127h0M282 138h0M241 123h0M119 53h0M291 227h0M141 221h0M294 200h0M266 76h0M76 57h0M157 173h0M77 53h0M221 123h0M296 151h0M17 96h0M30 165h0M164 49h0M108 60h0M284 62h0M162 47h0M272 80h0M62 60h0M245 173h0M234 138h0M83 89h0M291 60h0M63 98h0M236 90h0M243 108h0M145 221h0M290 211h0M150 233h0M30 109h0M176 38h0M267 52h0M281 103h0M276 169h0M163 231h0M277 62h0"/><path stroke="#7a4030" stroke-width="4.4" stroke-opacity="0.8" stroke-linecap="round" d="M105 113h0M23 218h0M252 99h0M262 121h0M273 190h0M96 44h0M257 137h0M252 77h0M78 53h0M89 67h0M250 126h0M283 210h0M236 89h0M276 40h0M279 140h0M102 92h0M84 51h0M116 72h0M289 186h0M62 86h0M110 91h0M105 112h0M291 106h0M267 146h0M229 109h0M237 108h0M240 74h0M291 82h0M283 129h0M90 58h0M301 92h0M15 206h0M277 131h0M55 83h0M91 58h0M251 56h0M296 215h0M255 196h0M248 72h0M296 97h0M286 87h0M309 189h0M100 105h0M284 138h0M296 129h0M79 84h0M244 125h0M261 96h0M269 238h0M305 84h0M272 227h0M261 189h0M262 42h0M294 127h0M268 46h0M293 183h0M235 87h0M298 115h0M240 114h0M261 235h0M243 111h0M288 155h0M300 139h0M31 221h0M66 79h0M107 56h0M84 48h0M100 92h0M295 235h0M80 101h0M4 203h0M256 144h0M286 223h0M25 190h0M280 205h0M298 125h0M251 113h0M230 108h0M259 188h0M227 111h0M293 107h0M251 49h0M244 54h0M265 194h0M300 109h0M284 77h0M271 129h0M237 139h0M21 209h0M250 219h0M89 98h0M80 101h0M240 114h0M273 191h0M29 187h0M8 216h0M25 232h0M278 115h0M267 97h0M277 159h0M264 145h0M229 101h0M307 93h0M261 225h0M277 49h0M310 75h0M307 92h0M38 207h0M265 126h0M293 67h0M77 54h0M99 108h0M270 219h0M290 184h0M274 106h0M289 116h0M87 67h0M79 69h0M267 242h0M306 197h0M90 91h0M250 109h0M272 203h0"/><path stroke="#8a5040" stroke-width="4.4" stroke-opacity="0.8" stroke-linecap="round" d="M286 136h0M298 101h0M305 62h0M95 88h0M274 192h0M254 95h0M277 150h0M286 74h0M72 75h0M240 58h0M104 44h0M113 66h0M296 114h0M256 156h0M279 108h0M273 221h0M4 187h0M254 233h0M71 69h0M253 196h0M295 152h0M264 159h0M60 60h0M299 229h0M267 154h0M271 231h0M272 110h0M293 141h0M83 45h0M306 123h0M279 79h0M67 60h0M291 223h0M26 205h0M90 93h0M65 72h0M14 177h0M305 116h0M271 160h0M247 53h0M13 234h0M239 84h0M268 108h0M107 50h0M273 78h0M101 106h0M84 75h0M30 173h0M85 60h0M257 116h0M237 103h0M276 122h0M99 37h0M65 96h0M230 84h0M268 89h0M270 159h0M259 199h0M290 185h0M72 75h0M294 121h0M30 149h0M295 142h0M11 216h0M272 221h0M303 186h0M248 52h0M296 237h0M268 197h0M112 70h0M108 77h0M105 112h0M289 154h0M237 117h0M280 146h0M266 72h0M114 105h0M89 34h0M24 179h0M297 205h0M261 122h0M285 229h0M106 78h0M31 181h0M237 119h0M245 95h0M257 137h0M293 143h0M30 159h0M100 57h0M297 180h0M293 181h0M112 63h0M270 186h0M293 147h0M269 130h0M296 84h0M304 70h0M90 99h0M296 214h0M264 76h0M105 98h0M250 76h0M287 227h0M309 77h0M112 51h0M256 95h0M23 196h0M254 134h0M295 68h0M260 126h0M76 75h0M93 86h0M276 79h0M284 137h0M268 141h0M278 99h0M296 150h0M237 63h0M61 65h0M298 110h0M256 133h0M269 91h0M4 193h0M268 86h0M108 111h0M273 100h0M32 229h0M118 50h0M257 64h0M259 137h0M304 217h0M89 54h0M96 57h0M283 185h0M18 189h0M76 83h0M274 176h0M4 208h0M105 97h0M265 227h0"/><path stroke="#6a3020" stroke-width="4.4" stroke-opacity="0.8" stroke-linecap="round" d="M243 58h0M29 205h0M249 82h0M243 95h0M9 217h0M269 128h0M246 112h0M71 63h0M266 222h0M257 99h0M285 142h0M249 122h0M93 71h0M288 93h0M251 208h0M105 68h0M292 177h0M252 121h0M96 55h0M300 127h0M101 52h0M87 35h0M116 60h0M251 85h0M7 221h0M259 152h0M79 41h0M247 90h0M265 197h0M238 119h0M261 39h0M275 213h0M82 88h0M258 81h0M278 118h0M260 72h0M241 99h0M87 82h0M249 87h0M275 194h0M1 183h0M113 61h0M294 80h0M27 190h0M63 69h0M293 228h0M74 46h0M285 54h0M288 197h0M231 108h0M279 226h0M271 105h0M67 73h0M270 157h0M230 112h0M30 184h0M288 86h0M254 228h0M257 141h0M300 237h0M63 64h0M305 90h0M277 116h0M258 157h0M247 196h0M274 42h0M265 125h0M100 66h0M293 204h0M240 118h0M8 226h0M227 110h0M13 201h0M21 158h0M19 224h0M85 70h0M74 98h0M7 209h0M307 201h0M299 199h0M236 132h0M64 49h0M287 181h0M242 102h0M259 230h0M33 210h0M71 104h0M285 139h0M65 70h0M286 107h0M298 81h0M288 133h0M293 232h0M301 201h0M294 90h0M274 78h0M21 185h0M24 207h0M293 108h0M255 214h0M109 85h0M112 46h0M17 189h0M241 97h0M65 46h0M60 72h0M85 63h0M284 180h0M274 56h0M292 50h0M77 84h0M83 88h0M275 84h0M288 85h0M299 190h0M78 105h0M303 202h0M111 89h0M256 65h0M251 98h0M304 109h0M279 41h0M307 67h0"/><path stroke="#b08a80" stroke-width="5.0" stroke-opacity="0.6" stroke-linecap="round" d="M277 99h0M238 67h0M282 47h0M258 88h0M302 108h0M279 111h0M308 120h0M258 141h0M265 107h0M237 67h0M273 76h0M265 156h0M274 51h0M287 116h0M279 72h0M275 105h0M242 102h0M271 122h0M287 124h0M270 148h0M305 130h0M279 144h0M254 52h0M295 147h0M246 89h0M258 156h0M245 80h0M232 76h0M240 133h0M257 101h0M302 117h0M268 130h0M245 139h0M301 110h0M291 151h0M257 40h0M302 79h0M253 140h0M280 131h0M265 106h0M280 97h0M273 136h0M250 113h0M229 120h0M243 121h0M283 80h0M249 54h0M252 121h0M285 137h0M230 109h0M279 143h0M244 56h0M290 53h0M305 88h0M270 80h0M230 113h0M269 115h0M284 94h0M291 87h0M293 74h0M229 98h0M241 74h0M277 134h0M243 68h0M282 146h0M290 117h0M280 110h0M259 42h0M245 139h0M277 102h0M304 81h0M249 83h0M251 135h0M275 157h0M282 121h0M235 97h0M271 71h0M258 55h0M294 146h0M242 101h0M244 82h0M232 109h0M279 79h0M260 89h0M284 72h0M259 98h0M277 88h0M257 160h0M251 114h0M248 82h0M295 105h0M287 118h0M292 139h0M245 71h0M248 62h0M250 62h0M289 95h0M276 162h0M257 102h0M294 106h0M288 109h0M297 133h0M232 80h0M305 101h0M271 126h0M309 85h0M257 99h0M296 127h0M273 97h0M297 104h0M307 106h0M307 71h0M279 91h0M277 142h0M245 113h0M287 156h0M268 72h0M279 45h0M244 109h0M256 131h0M243 92h0M231 92h0M265 148h0M279 139h0M267 100h0M290 47h0M266 114h0M246 56h0M290 44h0M280 105h0M253 89h0M265 104h0M276 79h0M305 130h0M264 150h0M274 76h0M275 75h0M255 45h0M268 41h0M246 93h0M280 92h0M280 103h0M249 58h0M269 60h0M256 151h0M286 142h0M240 82h0M258 100h0M255 124h0M291 89h0M241 94h0M264 148h0M263 61h0M241 78h0M247 83h0M291 74h0M237 124h0M272 87h0M243 88h0M278 88h0M292 135h0M279 129h0M265 161h0M292 86h0M253 130h0M258 42h0M239 69h0M279 82h0M299 82h0M276 45h0M271 125h0M310 112h0M257 118h0M309 85h0M292 99h0M268 102h0M288 56h0M284 121h0M227 103h0M299 135h0M266 150h0M291 45h0M260 45h0M276 149h0M229 108h0M271 52h0M273 57h0M280 98h0M255 107h0M246 122h0M296 86h0M260 89h0M238 86h0M255 109h0M303 110h0M284 60h0"/></g></g><g filter="url(#sb1)"><ellipse cx="70" cy="43.7" rx="13.95" ry="13.49" transform="rotate(20 70 43.7)" fill="#edefef" stroke="#c8a8b8" stroke-width="0.8"/><ellipse cx="96.9" cy="41.7" rx="15.25" ry="9.67" transform="rotate(-15 96.9 41.7)" fill="#edefef" stroke="#c8a8b8" stroke-width="0.8"/><ellipse cx="102" cy="20.9" rx="11.81" ry="6.98" fill="#edefef" stroke="#c8a8b8" stroke-width="0.8"/><ellipse cx="38.7" cy="61.9" rx="15.25" ry="9.02" transform="rotate(-8 38.7 61.9)" fill="#edefef" stroke="#c8a8b8" stroke-width="0.8"/><ellipse cx="66.3" cy="72.3" rx="24.18" ry="13.02" transform="rotate(-10 66.3 72.3)" fill="#edefef" stroke="#c8a8b8" stroke-width="0.8"/><ellipse cx="102.8" cy="77.5" rx="18.04" ry="13.95" transform="rotate(10 102.8 77.5)" fill="#edefef" stroke="#c8a8b8" stroke-width="0.8"/><ellipse cx="26.8" cy="92.7" rx="11.16" ry="11.35" fill="#edefef" stroke="#c8a8b8" stroke-width="0.8"/><ellipse cx="53.6" cy="106" rx="13.95" ry="14.88" fill="#edefef" stroke="#c8a8b8" stroke-width="0.8"/><ellipse cx="103.6" cy="107" rx="17.3" ry="14.88" fill="#edefef" stroke="#c8a8b8" stroke-width="0.8"/><ellipse cx="120.7" cy="77.8" rx="6.98" ry="8.0" fill="#edefef" stroke="#c8a8b8" stroke-width="0.8"/><ellipse cx="2" cy="77.5" rx="7.44" ry="11.16" fill="#edefef" stroke="#c8a8b8" stroke-width="0.8"/></g></svg>
<svg class="ihc" style="left:195px;top:577px" width="155" height="121" viewBox="0 0 155 121"><defs><filter id="bl2" x="-50%" y="-50%" width="200%" height="200%"><feGaussianBlur stdDeviation="6"/></filter><filter id="sb2" x="-20%" y="-20%" width="140%" height="140%"><feGaussianBlur stdDeviation="0.5"/></filter><filter id="db2" x="-5%" y="-5%" width="110%" height="110%"><feGaussianBlur stdDeviation="0.45"/></filter></defs><rect width="155" height="121" fill="#ccc4de"/><g filter="url(#bl2)"><ellipse cx="20" cy="100" rx="30" ry="25" fill="#d8cad4" fill-opacity="0.8"/><ellipse cx="145" cy="100" rx="15" ry="25" fill="#d8cad4" fill-opacity="0.7"/><ellipse cx="140" cy="10" rx="20" ry="15" fill="#d4c8dc" fill-opacity="0.6"/><ellipse cx="80" cy="60" rx="40" ry="30" fill="#b8aee0" fill-opacity="0.6"/></g><g filter="url(#db2)"><g transform="scale(0.5)"><path stroke="#8c84d4" stroke-width="3.6" stroke-opacity="0.7" stroke-linecap="round" d="M205 84h0M29 52h0M197 144h0M166 235h0M131 227h0M122 104h0M185 40h0M14 66h0M166 136h0M115 106h0M280 152h0M290 172h0M236 58h0M43 162h0M65 103h0M286 166h0M301 164h0M116 52h0M245 216h0M83 55h0M240 55h0M121 220h0M43 216h0M44 100h0M1 77h0M110 179h0M187 45h0M34 150h0M81 41h0M44 236h0M143 239h0M67 124h0M57 33h0M62 41h0M152 94h0M5 98h0M58 235h0M56 92h0M136 100h0M154 229h0M176 167h0M270 178h0M309 83h0M69 69h0M305 111h0M182 142h0M49 209h0M184 10h0M174 234h0M158 97h0M77 132h0M170 85h0M74 93h0M16 207h0M57 51h0M181 84h0M82 184h0M145 10h0M284 143h0M168 211h0M219 240h0M172 72h0M108 53h0M267 6h0M242 123h0M13 69h0M207 230h0M78 129h0M108 117h0M207 71h0M256 99h0M228 125h0M254 24h0M207 110h0M27 73h0M294 34h0M175 185h0M66 166h0M258 96h0M187 210h0M286 201h0M282 236h0M176 94h0M123 67h0M199 39h0M221 126h0M120 228h0M72 190h0M286 74h0M101 180h0M148 217h0M60 198h0M92 143h0M49 100h0M139 25h0M299 149h0M207 106h0M143 52h0M42 40h0M144 69h0M223 214h0M158 107h0M175 8h0M205 87h0M271 221h0M263 173h0M92 67h0M194 170h0M38 210h0M299 169h0M128 231h0M152 241h0M89 195h0M166 156h0M122 232h0M293 146h0M243 156h0M126 47h0M281 162h0M123 127h0M52 46h0M115 140h0M299 81h0M73 81h0M307 236h0M76 79h0M173 145h0M30 140h0M185 95h0M293 138h0M287 194h0M85 151h0M220 130h0M89 197h0M196 0h0M65 46h0M282 4h0M70 40h0M220 37h0M265 141h0M81 56h0M277 226h0M102 173h0M67 25h0M66 156h0M278 17h0M199 165h0M165 75h0M142 152h0M286 22h0M244 209h0M136 234h0M41 93h0M4 63h0M254 145h0M208 78h0M297 75h0M71 71h0M75 169h0M135 36h0M82 51h0M91 157h0M114 139h0M196 115h0M158 150h0M91 132h0M56 67h0M122 151h0M44 84h0M207 125h0M96 186h0M214 154h0M102 46h0M65 68h0M205 86h0M264 147h0M282 19h0M163 82h0M258 230h0M37 105h0M86 4h0M26 207h0M181 57h0M4 122h0M185 170h0M298 99h0M286 85h0M118 135h0M281 216h0M200 6h0M230 127h0M279 42h0M280 79h0M161 75h0M197 77h0M96 128h0M8 86h0M68 129h0M204 177h0M91 192h0M245 118h0M272 220h0M242 204h0M68 99h0M35 30h0M108 43h0M203 23h0M264 214h0M195 170h0M52 173h0M205 124h0M208 178h0M248 69h0M15 51h0M60 103h0M73 142h0M178 70h0M116 237h0M95 94h0M284 64h0M213 161h0M301 210h0M103 99h0M117 116h0M35 151h0M49 161h0M79 2h0M13 86h0M39 172h0M283 58h0M165 77h0M284 167h0M209 195h0M297 34h0M70 187h0M53 71h0M126 193h0M247 29h0M227 13h0M166 72h0M303 109h0M255 204h0M156 100h0M83 194h0M63 238h0M290 229h0M116 84h0M265 160h0M256 146h0M42 35h0M123 99h0M26 210h0M91 93h0M205 104h0M302 234h0M89 115h0M230 176h0M50 158h0M279 164h0M303 206h0M292 157h0M57 46h0M197 224h0M164 81h0M214 113h0M4 234h0M182 166h0M213 13h0M196 234h0M75 161h0M260 39h0M65 165h0M208 15h0M183 185h0M198 59h0M0 207h0M209 197h0M133 64h0M302 70h0M195 151h0M165 228h0M203 87h0M206 144h0M114 139h0M81 93h0M69 20h0M117 77h0M53 17h0M106 46h0M250 135h0M295 91h0M266 14h0M24 117h0M249 198h0M303 222h0M103 166h0M200 191h0M148 241h0M209 198h0M118 174h0M222 170h0M263 58h0M130 62h0M249 109h0M221 195h0M17 208h0M74 122h0M91 83h0M308 211h0M251 213h0M197 24h0M140 11h0M29 89h0M88 164h0M128 235h0M192 118h0M281 48h0M110 83h0M46 192h0M140 214h0M123 105h0M106 64h0M25 114h0M252 226h0M277 211h0M240 15h0M31 44h0M303 27h0M176 198h0M265 0h0M219 173h0M65 166h0M47 169h0M40 82h0M235 210h0M165 95h0M13 69h0M104 58h0M83 176h0M196 56h0M11 208h0M191 173h0M190 121h0M204 108h0M302 20h0M38 166h0M260 0h0M127 129h0M195 70h0M276 144h0M308 133h0M279 163h0M295 180h0M166 150h0M233 8h0M32 63h0M43 16h0M79 110h0M14 51h0M18 64h0M145 152h0M68 77h0M66 133h0M44 75h0M254 216h0M16 94h0M219 175h0M147 230h0M35 155h0M186 104h0M127 52h0M59 207h0M129 140h0M32 4h0M179 158h0M159 146h0M135 41h0M2 117h0M264 7h0M131 86h0M30 181h0M207 49h0M125 242h0M109 99h0M130 232h0M301 131h0M56 241h0M162 6h0M3 4h0M33 43h0M89 154h0M142 110h0M193 61h0M287 16h0M32 71h0M48 15h0M95 188h0M13 55h0M78 3h0M16 85h0M34 31h0M283 206h0M178 108h0M146 136h0M308 117h0M192 221h0M84 109h0M223 133h0M141 13h0M276 238h0M118 90h0M215 228h0M156 101h0M309 153h0M138 108h0M117 106h0M111 136h0M67 184h0M156 223h0M153 121h0M248 161h0M15 113h0M63 44h0M219 144h0M197 4h0M195 21h0M9 223h0M250 10h0M287 199h0M12 117h0M146 107h0M1 43h0M58 167h0M113 176h0M207 118h0M168 1h0M137 160h0M147 200h0M292 222h0M215 71h0M276 165h0M254 164h0M226 225h0M70 141h0M47 21h0M98 41h0M250 214h0M221 9h0M223 158h0M61 29h0M24 8h0M91 49h0M42 36h0M177 90h0M185 108h0M63 90h0M257 41h0M243 65h0M107 88h0M216 154h0M187 108h0M256 219h0M84 116h0M294 43h0M12 240h0M215 128h0M84 97h0M73 28h0"/><path stroke="#7e76d0" stroke-width="3.6" stroke-opacity="0.7" stroke-linecap="round" d="M58 68h0M161 5h0M205 48h0M41 77h0M122 204h0M112 182h0M115 173h0M274 46h0M101 109h0M186 67h0M253 39h0M252 217h0M182 152h0M263 158h0M224 38h0M246 33h0M217 15h0M221 242h0M26 118h0M270 196h0M175 221h0M278 232h0M243 66h0M179 6h0M159 92h0M165 238h0M195 23h0M4 29h0M176 175h0M45 218h0M254 193h0M144 63h0M290 150h0M193 57h0M126 93h0M134 63h0M86 162h0M81 90h0M98 97h0M178 181h0M126 196h0M305 188h0M44 205h0M38 166h0M201 28h0M202 1h0M109 187h0M24 54h0M193 142h0M241 60h0M123 122h0M46 111h0M227 26h0M252 7h0M192 176h0M2 213h0M92 85h0M90 9h0M82 133h0M295 218h0M69 50h0M218 189h0M291 8h0M34 44h0M66 14h0M189 196h0M191 138h0M265 37h0M287 233h0M191 88h0M202 153h0M30 141h0M304 190h0M263 220h0M112 68h0M204 55h0M273 11h0M161 154h0M169 77h0M84 106h0M26 205h0M67 67h0M60 102h0M27 124h0M102 90h0M107 173h0M32 152h0M203 95h0M107 180h0M189 61h0M107 179h0M161 95h0M277 194h0M197 28h0M11 100h0M149 216h0M219 152h0M161 6h0M229 31h0M251 38h0M302 16h0M178 121h0M287 170h0M47 47h0M189 142h0M187 70h0M94 97h0M125 143h0M92 179h0M168 222h0M13 1h0M5 8h0M250 0h0M44 12h0M231 194h0M71 176h0M264 226h0M123 238h0M4 67h0M182 50h0M100 151h0M296 178h0M225 123h0M128 213h0M238 167h0M292 148h0M90 94h0M36 55h0M85 241h0M232 41h0M4 210h0M287 84h0M33 50h0M301 28h0M288 184h0M100 47h0M168 102h0M290 188h0M77 178h0M81 132h0M296 38h0M215 235h0M182 116h0M185 195h0M175 3h0M73 169h0M4 71h0M283 51h0M301 173h0M251 98h0M88 186h0M47 208h0M176 168h0M224 9h0M307 236h0M276 146h0M242 130h0M97 66h0M27 120h0M7 41h0M183 137h0M207 16h0M153 142h0M97 136h0M168 213h0M14 57h0M91 191h0M171 203h0M282 10h0M197 4h0M174 200h0M71 28h0M260 41h0M299 74h0M275 235h0M203 130h0M41 108h0M59 15h0M183 138h0M157 219h0M203 151h0M204 129h0M303 169h0M205 119h0M84 16h0M1 215h0M74 86h0M117 88h0M197 98h0M260 239h0M56 155h0M8 99h0M129 218h0M163 173h0M190 16h0M96 3h0M189 225h0M8 79h0M110 78h0M13 201h0M158 95h0M260 187h0M227 215h0M90 79h0M95 70h0M116 154h0M46 238h0M25 211h0M229 52h0M295 228h0M184 188h0M281 28h0M96 38h0M86 25h0M81 46h0M204 145h0M259 42h0M175 7h0M168 108h0M57 184h0M132 151h0M110 212h0M237 15h0M225 228h0M220 11h0M134 83h0M227 11h0M69 87h0M68 69h0M306 83h0M105 204h0M93 164h0M229 194h0M229 206h0M284 33h0M62 237h0M292 62h0M211 64h0M268 184h0M211 59h0M80 62h0M131 141h0M72 149h0M286 194h0M260 193h0M85 34h0M199 182h0M161 147h0M244 127h0M75 54h0M298 21h0M173 109h0M79 134h0M66 69h0M285 60h0M201 232h0M250 178h0M95 203h0M89 38h0M149 91h0M100 65h0M291 13h0M219 193h0M106 157h0M207 178h0M163 195h0M296 173h0M205 164h0M164 72h0M220 58h0M239 197h0M54 59h0M165 106h0M112 211h0M84 113h0M241 179h0M10 76h0M193 171h0M27 138h0M256 150h0M308 231h0M65 190h0M156 237h0M152 203h0M54 226h0M183 104h0M309 98h0M66 110h0M81 153h0M203 134h0M263 194h0M131 112h0M181 193h0M199 76h0M288 56h0M278 230h0M202 39h0M111 237h0M115 197h0M2 71h0M74 188h0M126 100h0M31 118h0M210 149h0M299 57h0M56 80h0M305 147h0M97 234h0M148 123h0M75 23h0M20 136h0M179 105h0M197 105h0M94 89h0M262 55h0M141 47h0M252 54h0M235 162h0M191 96h0M66 110h0M200 117h0M50 177h0M195 13h0M98 234h0M99 67h0M304 66h0M88 161h0M187 166h0M61 27h0M149 210h0M114 45h0M37 72h0M67 38h0M297 138h0M69 106h0M19 80h0M76 197h0M295 225h0M303 114h0M163 145h0M271 145h0M126 103h0M118 145h0M255 40h0M255 137h0M163 74h0M213 211h0M240 179h0M278 197h0M50 221h0M202 139h0M61 185h0M29 93h0M51 71h0M101 135h0M8 81h0M78 62h0M127 144h0M171 72h0M25 82h0M22 126h0M72 123h0M297 8h0M179 2h0M181 12h0M303 76h0M100 57h0M80 161h0M44 154h0M163 208h0M39 8h0M87 185h0M194 120h0M121 92h0M49 191h0M30 150h0M229 131h0M17 118h0M241 223h0M66 22h0M58 31h0M184 126h0M81 6h0M63 156h0M14 242h0M303 62h0M192 21h0M282 197h0M210 135h0M58 204h0M21 125h0M184 55h0M24 3h0M63 111h0M45 97h0M93 52h0M167 193h0M230 11h0M64 58h0M232 200h0M132 39h0M69 153h0M67 179h0M135 117h0M46 201h0M24 10h0M137 215h0M298 37h0M288 236h0M157 4h0M203 80h0M40 31h0M284 151h0M145 76h0M158 109h0M171 137h0M190 79h0M227 199h0M215 181h0M186 127h0M49 164h0M139 66h0M180 233h0M11 114h0M143 239h0M72 189h0M270 147h0M113 234h0M280 193h0M4 27h0M69 118h0M294 93h0M157 238h0M282 154h0M306 93h0M241 118h0M167 220h0M5 233h0M153 203h0M246 167h0M97 168h0M98 38h0M84 183h0M122 126h0M164 217h0M275 159h0M141 84h0M58 91h0M300 147h0M112 217h0M221 155h0M249 33h0M250 107h0M59 47h0M120 149h0M188 192h0M31 149h0M46 79h0M211 6h0M267 19h0M105 67h0M154 163h0M61 120h0M181 106h0M63 165h0M121 42h0M52 20h0M83 90h0M129 211h0M116 215h0M252 142h0M183 207h0M48 167h0"/><path stroke="#7068c8" stroke-width="3.6" stroke-opacity="0.7" stroke-linecap="round" d="M268 235h0M126 75h0M216 140h0M309 49h0M193 13h0M181 82h0M197 61h0M266 35h0M248 10h0M213 187h0M176 209h0M250 200h0M32 202h0M89 160h0M172 109h0M191 201h0M118 61h0M62 68h0M158 193h0M3 62h0M137 202h0M114 204h0M254 101h0M137 74h0M112 212h0M2 41h0M101 70h0M270 153h0M101 210h0M79 71h0M99 59h0M67 34h0M22 71h0M150 234h0M204 230h0M300 104h0M88 162h0M117 156h0M170 72h0M217 168h0M222 222h0M49 199h0M15 104h0M118 101h0M139 138h0M196 151h0M291 140h0M148 129h0M237 181h0M84 60h0M263 1h0M170 237h0M268 162h0M45 197h0M137 109h0M172 115h0M256 46h0M263 21h0M229 15h0M58 175h0M80 55h0M28 113h0M183 129h0M6 90h0M118 81h0M76 86h0M221 7h0M295 232h0M101 47h0M90 17h0M206 56h0M107 50h0M247 211h0M210 113h0M210 30h0M283 198h0M305 126h0M231 221h0M201 99h0M145 222h0M310 122h0M182 185h0M98 177h0M259 45h0M239 197h0M290 233h0M52 20h0M71 122h0M120 221h0M260 53h0M177 97h0M188 157h0M78 64h0M33 69h0M216 30h0M54 78h0M30 147h0M121 117h0M278 49h0M250 156h0M216 126h0M242 37h0M262 232h0M56 177h0M220 184h0M247 23h0M305 232h0M88 15h0M177 112h0M239 204h0M307 39h0M278 148h0M200 50h0M202 186h0M286 216h0M70 121h0M240 210h0M52 187h0M115 216h0M79 93h0M4 208h0M105 83h0M68 146h0M184 122h0M249 9h0M255 192h0M43 237h0M177 173h0M43 83h0M254 197h0M209 124h0M197 224h0M90 177h0M152 122h0M246 54h0M274 3h0M236 68h0M126 136h0M237 200h0M127 89h0M69 84h0M50 97h0M294 238h0M232 182h0M36 169h0M236 21h0M73 18h0M2 23h0M3 47h0M125 233h0M145 208h0M180 207h0M99 159h0M164 124h0M139 240h0M245 129h0M73 182h0M5 97h0M74 46h0M241 171h0M72 70h0M247 189h0M7 42h0M92 127h0M265 178h0M130 133h0M232 37h0M136 205h0M32 172h0M112 68h0M6 98h0M95 181h0M74 135h0M103 117h0M138 44h0M166 110h0M308 182h0M239 40h0M139 130h0M199 24h0M116 189h0M230 203h0M98 86h0M226 202h0M109 218h0M251 35h0M96 123h0M92 88h0M292 229h0M113 68h0M73 45h0M25 199h0M109 169h0M137 203h0M295 73h0M119 71h0M133 100h0M308 218h0M235 178h0M175 160h0M244 171h0M181 164h0M216 146h0M200 170h0M220 163h0M14 196h0M8 89h0M180 112h0M215 55h0M210 173h0M115 81h0M306 158h0M35 40h0M201 178h0M253 205h0M88 73h0M190 119h0M184 82h0M188 76h0M202 15h0M235 162h0M279 173h0M165 114h0M144 202h0M7 101h0M95 52h0M141 61h0M298 142h0M55 86h0M123 239h0M37 24h0M15 202h0M285 76h0M308 83h0M281 174h0M35 95h0M67 42h0M68 78h0M238 2h0M269 24h0M127 140h0M202 61h0M148 203h0M131 223h0M210 156h0M78 8h0M54 208h0M129 207h0M283 5h0M145 98h0M202 73h0M302 216h0M87 41h0M287 23h0M150 70h0M36 161h0M142 88h0M190 198h0M290 149h0M185 232h0M102 50h0M187 176h0M304 173h0M38 114h0M83 239h0M210 121h0M182 162h0M161 151h0M71 189h0M223 168h0M52 40h0M291 31h0M113 43h0M214 57h0M113 149h0M55 80h0M286 224h0M183 225h0M1 90h0M222 11h0M53 99h0M55 150h0M79 42h0M61 16h0M65 200h0M165 239h0M99 167h0M35 162h0M187 5h0M84 194h0M93 9h0M28 137h0M152 237h0M90 114h0M170 88h0M289 199h0M274 146h0M80 56h0M88 150h0M71 141h0M272 28h0M108 182h0M71 158h0M305 190h0M62 172h0M43 22h0M234 19h0M129 72h0M257 97h0M269 4h0M108 91h0M114 179h0M125 120h0M3 198h0M133 35h0M142 237h0M274 238h0M229 125h0M69 94h0M42 13h0M92 136h0M235 22h0M230 8h0M150 134h0M199 92h0M161 89h0M122 138h0M138 143h0M276 19h0M237 29h0M249 57h0M187 15h0M180 205h0M161 102h0M214 175h0M199 181h0M188 166h0M81 116h0M281 60h0M271 45h0M106 108h0M297 1h0M121 84h0M90 65h0M193 2h0M165 94h0M203 150h0M257 234h0M133 129h0M285 202h0M158 156h0M42 79h0M267 166h0M208 47h0M210 168h0M7 77h0M181 13h0M287 12h0M126 99h0M205 105h0M57 172h0M70 110h0M38 77h0M252 116h0M302 112h0M1 131h0M50 211h0M135 97h0M204 2h0M49 204h0M188 122h0M296 85h0M167 185h0M21 106h0M120 127h0M242 190h0M309 47h0M253 130h0M84 42h0M252 17h0M140 76h0M142 18h0M32 159h0M33 87h0M192 200h0M211 212h0M1 130h0M203 79h0M254 221h0M257 58h0M24 88h0M111 149h0M64 96h0M181 1h0M145 109h0M192 198h0M293 152h0M203 17h0M177 174h0M307 71h0M261 233h0M129 79h0M266 50h0M186 82h0M28 110h0M182 74h0M156 117h0M298 7h0M302 117h0M281 181h0M143 145h0M21 70h0M48 229h0M97 52h0M122 217h0M301 59h0M104 40h0M297 2h0M222 188h0M309 184h0M261 220h0M18 204h0M79 114h0M50 100h0M241 211h0M169 218h0M294 95h0M155 5h0M38 22h0M152 203h0M219 216h0M76 194h0M81 145h0M13 92h0M82 56h0M177 139h0M201 39h0M175 242h0M192 157h0M29 127h0M209 65h0M307 212h0M35 18h0M13 237h0M40 188h0M62 32h0M240 173h0M11 234h0M294 190h0M94 70h0M85 12h0M232 205h0M268 43h0M285 84h0M6 100h0M306 158h0M277 1h0M225 228h0M103 80h0M86 99h0M136 134h0M247 67h0M137 90h0"/><path stroke="#e6dce0" stroke-width="4.4" stroke-opacity="0.8" stroke-linecap="round" d="M43 165h0M268 215h0M257 196h0M101 200h0M147 111h0M293 169h0M304 233h0M66 80h0M106 235h0M127 98h0M296 6h0M197 115h0M56 227h0M42 19h0M66 100h0M295 47h0M237 195h0M4 18h0M5 120h0M295 164h0M190 201h0M114 184h0M130 96h0M299 8h0M273 24h0M299 216h0M84 63h0M301 188h0M2 74h0M231 188h0M23 66h0M192 81h0M16 63h0M189 18h0M115 225h0M140 49h0M186 129h0M240 194h0M187 57h0M197 148h0M28 52h0M176 188h0M284 56h0M120 227h0M250 0h0M70 119h0M58 37h0M7 202h0M10 88h0M139 219h0M50 169h0M220 203h0M132 44h0M140 209h0M15 78h0M185 188h0M243 53h0M34 27h0M62 87h0M187 141h0M241 39h0M187 124h0M44 187h0M108 192h0M126 195h0M239 205h0M253 2h0M76 92h0M111 221h0M72 197h0M48 52h0M165 137h0M68 17h0M94 50h0M20 133h0M262 183h0M256 48h0M298 201h0M173 126h0M177 118h0M245 126h0M122 168h0M269 144h0M228 64h0M70 70h0M139 48h0M37 209h0M213 225h0M110 86h0M293 20h0M263 189h0M104 208h0M28 190h0M134 91h0M248 7h0M310 182h0M251 36h0M177 130h0M241 114h0M68 24h0M80 50h0M65 170h0M197 9h0M163 162h0M306 86h0M222 194h0M229 193h0M304 99h0M300 33h0M118 44h0M1 64h0M297 191h0M65 24h0M181 129h0M284 163h0M270 24h0M78 147h0M306 174h0M23 5h0M163 233h0M45 188h0M140 143h0M130 140h0M151 220h0M187 100h0M65 51h0M57 113h0M85 18h0M248 204h0M306 26h0M6 53h0M297 212h0M130 43h0M156 88h0M307 204h0M33 84h0M201 112h0M252 198h0M189 30h0M90 83h0M129 120h0M299 173h0M295 141h0M14 89h0M43 90h0M12 70h0M141 121h0M31 59h0M41 159h0M212 111h0M114 211h0M123 234h0M225 160h0M101 208h0M220 33h0M200 132h0M205 10h0M42 180h0M101 91h0M196 59h0M195 117h0M204 12h0M138 42h0M304 183h0M241 218h0M252 183h0M217 47h0M111 101h0M165 165h0M51 177h0M176 85h0M200 160h0M205 234h0M289 9h0M84 120h0M167 187h0M10 208h0M102 197h0M266 175h0M39 198h0M63 168h0M19 108h0M8 11h0M105 47h0M83 156h0M115 148h0M23 86h0M60 242h0M277 217h0M282 90h0M302 145h0M65 115h0M228 194h0M77 88h0M94 185h0M154 3h0M164 85h0M154 125h0M236 174h0M258 161h0M130 101h0M267 14h0M9 50h0M0 95h0M281 80h0M106 109h0M204 5h0M116 148h0M114 205h0M191 235h0M131 86h0M254 213h0M260 217h0M299 87h0M246 23h0M289 52h0M262 154h0M118 182h0M181 230h0M229 67h0M37 113h0M197 78h0M14 104h0M201 96h0M248 222h0M196 85h0M63 144h0M252 22h0M54 167h0M89 7h0M209 116h0M303 99h0M163 81h0M301 62h0M61 154h0M303 47h0M79 147h0M183 170h0M97 122h0M5 57h0M183 106h0M91 59h0M26 11h0M293 158h0M170 142h0M289 37h0M196 49h0M182 119h0M163 86h0M92 41h0M148 104h0M167 101h0M242 68h0M287 191h0M223 180h0M155 118h0M142 64h0M174 226h0M5 90h0M115 195h0M304 165h0M215 17h0M3 2h0M203 113h0M263 12h0"/><path stroke="#e2dae8" stroke-width="4.4" stroke-opacity="0.8" stroke-linecap="round" d="M119 225h0M159 159h0M36 37h0M137 147h0M181 189h0M183 240h0M201 38h0M125 137h0M75 130h0M61 48h0M175 152h0M80 131h0M297 29h0M307 37h0M306 73h0M309 10h0M9 10h0M36 194h0M217 170h0M85 63h0M72 104h0M59 198h0M7 18h0M89 62h0M177 90h0M231 18h0M212 68h0M228 10h0M146 66h0M116 209h0M164 95h0M119 54h0M201 207h0M212 28h0M141 222h0M195 39h0M259 137h0M185 140h0M236 211h0M289 62h0M241 59h0M192 225h0M131 241h0M188 160h0M206 193h0M271 176h0M41 28h0M220 23h0M235 172h0M229 166h0M114 231h0M41 27h0M280 232h0M7 55h0M121 123h0M57 196h0M296 145h0M156 83h0M250 40h0M96 111h0M135 93h0M39 153h0M221 55h0M216 25h0M266 209h0M31 74h0M302 84h0M154 207h0M205 25h0M120 110h0M62 106h0M49 105h0M27 187h0M42 29h0M136 218h0M218 159h0M137 103h0M298 9h0M104 172h0M71 41h0M310 59h0M42 153h0M175 130h0M267 31h0M55 238h0M149 225h0M186 156h0M169 75h0M224 212h0M120 198h0M82 182h0M143 209h0M281 89h0M183 135h0M100 79h0M75 39h0M140 108h0M255 47h0M203 19h0M106 199h0M265 221h0M85 24h0M138 28h0M222 49h0M95 49h0M132 40h0M6 75h0M175 81h0M118 129h0M190 37h0M199 153h0M161 113h0M33 95h0M267 18h0M17 71h0M119 132h0M207 216h0M151 106h0M67 27h0M308 193h0M288 36h0M107 105h0M62 43h0M108 174h0M77 121h0M254 20h0M158 111h0M58 192h0M210 73h0M139 58h0M19 119h0M251 33h0M266 29h0M85 197h0M247 67h0M82 40h0M69 108h0M205 214h0M155 131h0M172 81h0M235 126h0M101 227h0M99 70h0M128 104h0M218 132h0M69 165h0M145 151h0M113 186h0M87 73h0M110 207h0M86 240h0M229 132h0M259 235h0M163 215h0M70 121h0M68 241h0M241 125h0M167 108h0M123 72h0M107 134h0M203 160h0M186 210h0M35 39h0M160 150h0M286 179h0M256 204h0M224 157h0M308 33h0M310 119h0M109 128h0M114 119h0M279 154h0M256 171h0M3 127h0M18 61h0M104 52h0M310 144h0M193 239h0M194 223h0M189 57h0M167 169h0M65 241h0M218 145h0M200 52h0M188 214h0M170 71h0M210 132h0M235 4h0M94 40h0M44 210h0M182 172h0M95 108h0M201 94h0M282 216h0M234 20h0M286 71h0M193 225h0M168 201h0M201 104h0M86 86h0M163 193h0"/><path stroke="#b89080" stroke-width="4.0" stroke-opacity="0.6" stroke-linecap="round" d="M58 216h0M72 166h0M101 232h0M10 210h0M151 199h0M77 164h0M49 172h0M53 186h0M117 230h0M57 190h0M91 190h0M57 175h0M96 235h0M16 204h0M25 203h0M134 204h0M120 217h0M135 223h0M109 207h0M114 181h0M114 215h0M60 184h0M107 165h0M33 211h0M31 182h0M85 171h0M111 208h0M138 201h0M76 181h0M104 236h0M49 181h0M109 178h0M40 211h0M45 176h0M110 227h0M123 201h0M141 222h0M63 200h0M105 191h0M40 168h0M110 189h0M68 180h0M110 207h0"/></g></g><g filter="url(#sb2)"><ellipse cx="9.7" cy="15" rx="7.0" ry="10.5" fill="#edefef"/><ellipse cx="28" cy="1" rx="8.0" ry="6.0" fill="#edefef"/><ellipse cx="58" cy="8" rx="11.0" ry="11.0" fill="#edefef"/><ellipse cx="82" cy="14" rx="12.0" ry="10.0" fill="#edefef"/><ellipse cx="81" cy="29" rx="8.5" ry="7.0" fill="#edefef"/><ellipse cx="114" cy="46" rx="11.5" ry="12.0" fill="#edefef"/><ellipse cx="131" cy="40" rx="9.0" ry="7.5" fill="#edefef"/><ellipse cx="138.6" cy="59" rx="12.0" ry="12.7" fill="#edefef"/><ellipse cx="117.7" cy="72" rx="7.5" ry="6.3" fill="#edefef"/><ellipse cx="23" cy="66" rx="8.2" ry="9.7" fill="#edefef"/><ellipse cx="4" cy="82" rx="11.0" ry="16.0" fill="#edefef"/><ellipse cx="2" cy="54" rx="3.0" ry="4.0" fill="#edefef"/><ellipse cx="6" cy="63" rx="3.5" ry="3.0" fill="#edefef"/><ellipse cx="71" cy="89.5" rx="11.0" ry="9.0" fill="#edefef"/><ellipse cx="40" cy="109" rx="10.5" ry="10.5" fill="#edefef"/><ellipse cx="14" cy="114" rx="8.5" ry="8.0" fill="#edefef"/><ellipse cx="120" cy="118" rx="8.0" ry="5.0" fill="#edefef"/><ellipse cx="43" cy="63" rx="2.0" ry="2.0" fill="#edefef"/></g></svg>
<svg class="ihc" style="left:357px;top:577px" width="155" height="121" viewBox="0 0 155 121"><defs><filter id="bl3" x="-50%" y="-50%" width="200%" height="200%"><feGaussianBlur stdDeviation="5"/></filter><filter id="sb3" x="-20%" y="-20%" width="140%" height="140%"><feGaussianBlur stdDeviation="0.5"/></filter><filter id="db3" x="-5%" y="-5%" width="110%" height="110%"><feGaussianBlur stdDeviation="0.45"/></filter></defs><rect width="155" height="121" fill="#d0c8e0"/><g filter="url(#bl3)"><ellipse cx="140" cy="30" rx="18" ry="25" fill="#e6e2ec" fill-opacity="0.9"/><ellipse cx="10" cy="40" rx="14" ry="20" fill="#d8cad6" fill-opacity="0.6"/><ellipse cx="60" cy="110" rx="25" ry="10" fill="#d8cad8" fill-opacity="0.6"/></g><g filter="url(#db3)"><g transform="scale(0.5)"><path stroke="#9a92d8" stroke-width="3.6" stroke-opacity="0.7" stroke-linecap="round" d="M185 4h0M46 207h0M197 80h0M11 75h0M172 206h0M115 193h0M188 73h0M64 53h0M53 14h0M143 88h0M304 208h0M33 99h0M201 82h0M293 117h0M167 189h0M63 11h0M157 124h0M133 174h0M126 163h0M306 134h0M185 197h0M279 10h0M263 80h0M98 26h0M203 230h0M300 223h0M166 126h0M28 41h0M305 239h0M77 13h0M223 114h0M3 19h0M288 67h0M256 33h0M198 154h0M110 33h0M14 73h0M231 106h0M114 203h0M46 22h0M292 183h0M242 40h0M154 44h0M259 30h0M308 144h0M251 74h0M181 195h0M200 71h0M146 158h0M58 35h0M156 35h0M193 27h0M289 152h0M143 213h0M188 112h0M265 241h0M89 1h0M178 4h0M13 180h0M26 113h0M270 7h0M14 61h0M170 201h0M107 87h0M115 192h0M298 130h0M117 21h0M73 32h0M118 105h0M115 235h0M199 235h0M145 182h0M304 125h0M181 121h0M289 47h0M309 49h0M197 68h0M129 73h0M109 2h0M279 22h0M121 193h0M267 18h0M127 194h0M285 201h0M171 24h0M293 177h0M70 5h0M196 9h0M260 77h0M307 76h0M288 29h0M193 5h0M15 155h0M56 107h0M19 60h0M120 185h0M172 34h0M16 70h0M266 12h0M121 164h0M202 29h0M178 58h0M172 32h0M41 95h0M7 50h0M79 173h0M289 209h0M285 231h0M106 205h0M208 207h0M221 52h0M288 106h0M223 107h0M180 237h0M243 0h0M51 12h0M152 187h0M177 17h0M126 202h0M203 49h0M17 204h0M237 23h0M220 191h0M141 181h0M122 98h0M20 189h0M11 87h0M137 74h0M265 94h0M119 149h0M84 15h0M38 166h0M196 9h0M198 110h0M233 229h0M179 109h0M189 144h0M208 44h0M291 21h0M224 135h0M105 25h0M170 27h0M23 181h0M12 38h0M255 68h0M57 7h0M191 169h0M113 240h0M42 102h0M164 199h0M133 163h0M283 208h0M46 169h0M33 13h0M69 46h0M206 140h0M181 212h0M152 202h0M17 116h0M157 7h0M228 124h0M275 216h0M143 190h0M176 218h0M131 85h0M16 100h0M185 115h0M288 196h0M206 122h0M167 119h0M290 221h0M232 210h0M309 184h0M93 30h0M221 199h0M226 178h0M131 126h0M4 44h0M45 207h0M139 87h0M192 180h0M309 241h0M308 110h0M285 137h0M197 135h0M115 43h0M33 18h0M308 88h0M293 152h0M169 56h0M180 40h0M200 236h0M284 27h0M233 227h0M294 99h0M200 146h0M39 51h0M291 239h0M297 200h0M200 65h0M105 138h0M225 156h0M216 205h0M8 162h0M114 96h0M284 77h0M42 112h0M227 131h0M202 71h0M91 32h0M301 63h0M30 9h0M142 163h0M144 14h0M299 239h0M205 101h0M136 163h0M132 95h0M81 151h0M277 103h0M248 31h0M180 53h0M232 229h0M292 102h0M130 188h0M198 153h0M20 51h0M184 225h0M294 76h0M58 187h0M19 241h0M292 75h0M162 205h0M210 82h0M57 102h0M277 91h0M200 219h0M83 47h0M242 239h0M276 124h0M78 41h0M201 93h0M150 29h0M149 185h0M249 68h0M131 133h0M29 220h0M281 226h0M101 30h0M159 25h0M233 222h0M205 143h0M283 224h0M132 83h0M202 203h0M173 35h0M162 8h0M118 185h0M194 102h0M173 39h0M168 166h0M30 76h0M272 125h0M115 131h0M230 104h0M61 206h0M220 195h0M136 76h0M111 128h0M148 179h0M24 212h0M11 53h0M289 178h0M129 132h0M31 65h0M130 60h0M89 39h0M287 233h0M111 105h0M37 95h0M297 202h0M101 1h0M150 13h0M215 212h0M52 87h0M156 173h0M6 235h0M176 187h0M299 153h0M226 200h0M194 96h0M111 109h0M143 179h0M200 135h0M41 53h0M211 221h0M188 5h0M21 188h0M30 190h0M131 231h0M33 58h0M175 171h0M299 80h0M22 85h0M167 47h0M34 228h0M43 40h0M148 225h0M308 212h0M220 191h0M152 66h0M192 234h0M8 69h0M264 235h0M223 227h0M110 202h0M284 29h0M203 231h0M151 60h0M210 231h0M273 83h0M124 119h0M263 29h0M133 237h0M34 30h0M79 4h0M198 69h0M299 45h0M245 30h0M128 168h0M172 203h0M116 22h0M12 120h0M300 111h0M200 11h0M158 197h0M301 208h0M142 12h0M139 81h0M203 221h0M192 149h0M276 68h0"/><path stroke="#8a84d4" stroke-width="3.6" stroke-opacity="0.7" stroke-linecap="round" d="M60 111h0M226 211h0M171 12h0M301 35h0M130 34h0M277 22h0M146 159h0M244 41h0M15 72h0M270 82h0M258 89h0M85 34h0M194 51h0M200 192h0M17 142h0M132 29h0M17 232h0M166 21h0M76 20h0M193 73h0M296 219h0M243 227h0M16 98h0M186 73h0M297 36h0M11 238h0M166 34h0M69 44h0M205 203h0M118 6h0M97 86h0M279 115h0M144 153h0M151 171h0M282 126h0M178 190h0M60 105h0M59 192h0M193 190h0M107 88h0M61 55h0M46 47h0M114 84h0M302 109h0M220 191h0M14 87h0M260 57h0M48 88h0M150 64h0M80 186h0M114 114h0M165 26h0M14 95h0M211 75h0M189 125h0M150 26h0M225 116h0M163 122h0M31 101h0M97 15h0M231 241h0M179 215h0M207 236h0M295 106h0M252 98h0M74 167h0M303 43h0M154 132h0M45 44h0M174 223h0M164 11h0M301 26h0M288 235h0M39 34h0M154 146h0M118 194h0M14 30h0M264 57h0M280 212h0M169 62h0M14 138h0M220 113h0M16 72h0M264 5h0M285 228h0M307 235h0M80 176h0M4 92h0M182 59h0M34 240h0M33 105h0M25 185h0M279 100h0M139 25h0M109 80h0M113 107h0M55 13h0M151 201h0M206 225h0M192 17h0M42 2h0M285 218h0M35 241h0M208 40h0M308 31h0M264 23h0M301 215h0M37 35h0M305 220h0M203 193h0M183 35h0M201 88h0M290 80h0M75 25h0M274 61h0M125 126h0M247 21h0M167 239h0M36 187h0M42 63h0M137 83h0M295 31h0M8 90h0M191 8h0M39 50h0M211 198h0M84 186h0M292 53h0M25 192h0M188 101h0M90 7h0M230 113h0M265 8h0M115 194h0M256 94h0M15 94h0M152 15h0M273 27h0M288 190h0M46 49h0M172 173h0M159 166h0M102 229h0M26 101h0M183 13h0M15 130h0M14 233h0M20 202h0M228 238h0M69 44h0M125 148h0M157 158h0M22 114h0M1 23h0M12 100h0M82 189h0M193 25h0M16 174h0M290 70h0M133 69h0M177 120h0M230 103h0M161 35h0M23 48h0M73 118h0M225 191h0M295 212h0M296 88h0M158 166h0M64 207h0M289 210h0M8 242h0M295 212h0M166 191h0M36 56h0M4 49h0M59 40h0M4 203h0M60 213h0M27 222h0M47 68h0M307 231h0M166 119h0M206 114h0M146 216h0M35 85h0M135 158h0M75 30h0M237 162h0M137 201h0M32 73h0M279 233h0M94 31h0M121 127h0M257 58h0M49 20h0M178 33h0M253 22h0M74 242h0M156 150h0M181 228h0M50 21h0M179 46h0M179 171h0M44 155h0M296 237h0M205 84h0M69 44h0M161 182h0M13 183h0M166 242h0M264 101h0M96 236h0M259 42h0M191 73h0M150 193h0M249 36h0M180 130h0M289 107h0M241 235h0M267 10h0M75 168h0M229 213h0M196 28h0M153 187h0M183 136h0M29 6h0M56 44h0M3 159h0M204 93h0M309 18h0M186 135h0M35 47h0M295 85h0M27 62h0M294 70h0M180 21h0M154 234h0M118 154h0M111 32h0M229 126h0M144 71h0M35 67h0M176 217h0M208 30h0M5 204h0M78 24h0M5 82h0M233 131h0M31 241h0M31 63h0M64 207h0M47 103h0M13 52h0M175 208h0M296 94h0M196 109h0M195 76h0M188 148h0M131 65h0M160 61h0M13 174h0M193 75h0M287 4h0M9 238h0M52 27h0M188 5h0M6 110h0M4 156h0M298 220h0M181 60h0M129 69h0M309 108h0M155 130h0M125 40h0M310 37h0M177 230h0M93 238h0M34 182h0M247 30h0M44 11h0M120 49h0M158 222h0M39 11h0M103 36h0M158 200h0M110 32h0M55 211h0M185 239h0M122 119h0M292 226h0M269 65h0M164 36h0M281 195h0M112 238h0M179 222h0M151 11h0M137 193h0M81 25h0M169 48h0"/><path stroke="#7a72cc" stroke-width="3.6" stroke-opacity="0.7" stroke-linecap="round" d="M210 236h0M143 207h0M145 24h0M127 44h0M28 72h0M185 72h0M45 44h0M249 45h0M148 26h0M157 67h0M14 204h0M221 143h0M53 107h0M100 78h0M129 37h0M302 85h0M69 14h0M179 115h0M269 62h0M93 35h0M202 11h0M38 175h0M123 35h0M163 146h0M305 193h0M13 78h0M80 48h0M193 184h0M129 71h0M113 193h0M111 139h0M190 31h0M113 1h0M231 221h0M31 8h0M106 198h0M44 182h0M49 182h0M189 229h0M78 7h0M288 87h0M43 93h0M25 211h0M118 99h0M20 230h0M208 45h0M285 181h0M131 150h0M254 35h0M4 56h0M108 9h0M193 23h0M9 189h0M206 230h0M145 6h0M126 234h0M35 86h0M14 226h0M112 31h0M294 216h0M256 67h0M79 7h0M298 25h0M162 150h0M304 132h0M111 102h0M262 69h0M89 24h0M148 230h0M142 59h0M75 125h0M231 99h0M87 34h0M288 40h0M124 46h0M136 174h0M9 39h0M273 70h0M223 226h0M288 71h0M265 58h0M165 129h0M49 211h0M187 167h0M39 58h0M293 201h0M54 193h0M173 230h0M64 159h0M138 123h0M299 116h0M71 34h0M40 191h0M27 196h0M92 18h0M121 130h0M175 174h0M189 176h0M72 173h0M304 219h0M96 7h0M215 47h0M18 70h0M148 208h0M162 173h0M282 128h0M215 125h0M40 4h0M283 199h0M195 109h0M66 205h0M286 57h0M34 222h0M120 6h0M125 99h0M143 227h0M235 227h0M265 74h0M153 42h0M279 12h0M73 26h0M24 100h0M72 159h0M20 196h0M168 29h0M140 207h0M291 237h0M281 109h0M79 33h0M18 176h0M190 38h0M198 124h0M132 173h0M290 54h0M196 175h0M270 229h0M52 95h0M289 113h0M302 57h0M203 102h0M149 18h0M284 101h0M107 235h0M91 34h0M195 140h0M45 193h0M278 24h0M115 119h0M101 75h0M274 26h0M190 11h0M159 195h0M207 43h0M50 196h0M277 66h0M225 93h0M24 241h0M283 113h0M167 206h0M224 228h0M157 120h0M177 7h0M73 122h0M238 203h0M255 69h0M149 26h0M276 18h0M241 14h0M48 82h0M80 29h0M126 11h0M75 117h0M260 67h0M231 226h0M212 78h0M176 128h0M174 177h0M36 90h0M172 200h0M88 6h0M158 140h0M181 182h0M186 192h0M120 13h0M127 35h0M36 183h0M64 184h0M6 143h0M101 82h0M167 44h0M5 174h0M137 10h0M48 106h0M31 214h0M303 236h0M141 187h0M183 136h0M197 219h0M107 229h0M191 221h0M171 116h0M123 26h0M192 104h0M82 35h0M227 174h0M292 101h0M61 10h0M107 198h0M289 42h0M283 73h0M109 198h0M143 63h0M300 33h0M245 53h0M264 222h0M19 46h0M125 236h0M0 241h0M273 217h0M7 136h0M25 190h0M229 80h0M23 68h0M160 11h0M278 61h0M295 176h0M187 113h0M197 69h0M277 62h0M205 190h0M261 63h0M303 213h0M9 128h0M175 52h0M289 212h0M163 142h0M55 105h0M184 242h0M115 4h0M183 21h0M54 28h0M149 13h0M205 137h0M291 200h0M288 23h0M167 58h0M132 1h0M26 176h0M16 134h0M82 183h0M167 3h0M307 207h0M194 237h0M22 66h0M179 112h0M183 109h0M266 62h0M82 7h0M140 11h0M165 52h0M300 106h0M122 57h0M53 99h0M186 213h0M134 239h0M75 166h0M229 94h0M217 123h0M29 213h0M189 35h0M200 84h0M169 53h0M291 1h0M137 154h0M230 103h0M107 28h0M297 194h0M151 218h0M208 107h0M187 70h0M117 189h0M118 126h0M81 1h0M272 227h0M155 220h0M123 41h0M122 90h0M273 10h0M26 230h0M215 26h0M273 229h0M300 192h0M161 195h0M128 173h0M21 222h0M166 21h0M57 31h0M192 21h0M151 210h0M200 122h0M146 27h0M271 225h0M185 35h0M102 4h0M293 221h0M59 47h0M277 73h0M192 42h0M25 192h0M21 129h0M141 190h0M206 230h0M76 45h0M309 162h0M209 47h0M295 73h0M11 190h0M299 34h0M166 207h0M67 49h0M26 241h0M166 15h0M129 114h0M202 13h0M284 67h0M34 55h0M131 134h0M51 97h0M308 35h0M111 83h0M58 22h0M206 216h0M66 30h0M167 30h0M156 23h0M187 40h0M61 115h0M268 11h0M105 206h0M261 69h0M206 193h0M183 29h0"/><path stroke="#e8dae0" stroke-width="4.4" stroke-opacity="0.8" stroke-linecap="round" d="M4 129h0M140 222h0M223 222h0M284 181h0M102 234h0M51 59h0M293 111h0M294 172h0M25 69h0M0 102h0M213 128h0M5 174h0M37 168h0M204 229h0M287 241h0M292 65h0M20 229h0M3 203h0M34 103h0M166 65h0M145 1h0M7 94h0M62 200h0M276 115h0M209 130h0M303 69h0M171 64h0M60 45h0M184 196h0M188 141h0M306 212h0M302 222h0M78 2h0M148 235h0M196 191h0M7 23h0M207 33h0M34 225h0M95 36h0M43 17h0M114 17h0M206 37h0M258 52h0M43 172h0M162 123h0M140 160h0M103 233h0M191 50h0M31 180h0M76 134h0M106 212h0M55 50h0M254 46h0M20 240h0M279 101h0M47 161h0M277 77h0M15 94h0M19 55h0M299 63h0M142 200h0M175 24h0M223 186h0M282 90h0M218 51h0M11 92h0M131 68h0M3 60h0M14 50h0M290 212h0M270 8h0M170 125h0M118 139h0M143 21h0M102 87h0M273 89h0M208 84h0M185 239h0M267 227h0M174 56h0M182 108h0M106 216h0M242 223h0M223 206h0M98 7h0M31 237h0M285 91h0M264 89h0M293 23h0M290 90h0M49 17h0M241 48h0M79 12h0M186 41h0M15 124h0M71 187h0M152 12h0M147 70h0M303 80h0M146 2h0M28 226h0M232 187h0M196 143h0M124 89h0M299 94h0M174 129h0M13 114h0M186 144h0M142 182h0M126 203h0M10 24h0M164 210h0M161 49h0M224 115h0M257 88h0M224 176h0M308 102h0M256 60h0M240 23h0M129 76h0M39 41h0M111 203h0M49 194h0M174 52h0M219 117h0M73 240h0M207 83h0M35 80h0M215 217h0M216 237h0M298 81h0M114 119h0M231 188h0M104 13h0M149 168h0M200 190h0M158 40h0M199 192h0M122 81h0M82 180h0M161 216h0M193 166h0M15 128h0M12 36h0M149 23h0M115 20h0M8 122h0M171 12h0M266 19h0M79 12h0M155 126h0M181 129h0M68 28h0M163 200h0M109 142h0M176 134h0M48 166h0M27 238h0M55 51h0M55 39h0M172 47h0M2 169h0M139 81h0M288 17h0M202 92h0M20 200h0M35 232h0M25 43h0M287 212h0M281 125h0M310 173h0M69 49h0M164 66h0M298 124h0M102 227h0M202 20h0M162 68h0M129 164h0M24 191h0M40 105h0M261 71h0M289 107h0M46 194h0M39 84h0M143 202h0M50 49h0"/><path stroke="#e4d2da" stroke-width="4.4" stroke-opacity="0.8" stroke-linecap="round" d="M227 178h0M191 180h0M123 198h0M9 5h0M192 178h0M290 226h0M213 200h0M113 206h0M73 40h0M280 196h0M225 153h0M258 28h0M198 88h0M134 59h0M257 54h0M119 15h0M173 201h0M136 18h0M16 135h0M25 29h0M1 221h0M75 113h0M287 67h0M301 220h0M220 145h0M309 192h0M125 36h0M197 190h0M226 240h0M186 15h0M204 0h0M53 108h0M232 97h0M165 120h0M158 129h0M292 206h0M208 125h0M283 227h0M110 28h0M20 109h0M171 7h0M194 197h0M287 18h0M67 225h0M140 210h0M17 161h0M199 210h0M219 212h0M308 53h0M285 127h0M190 35h0M189 101h0M48 159h0M306 189h0M262 81h0M100 240h0M128 155h0M113 31h0M217 192h0M277 81h0M107 84h0M158 34h0M282 215h0M14 108h0M180 195h0M128 134h0M66 50h0M220 136h0M165 167h0M117 2h0M129 71h0M127 92h0M230 209h0M46 73h0M182 50h0M180 18h0M154 156h0M49 86h0M58 14h0M110 3h0M17 79h0M102 27h0M11 122h0M11 160h0M175 175h0M173 22h0M33 37h0M10 82h0M219 201h0M131 171h0M72 33h0M145 26h0M29 89h0M29 102h0M28 223h0M103 6h0M133 191h0M55 113h0M33 91h0M19 65h0M200 42h0M140 5h0M287 181h0M281 204h0M104 198h0M120 134h0M270 236h0M36 113h0M127 199h0M79 156h0M288 206h0M199 75h0M159 179h0M65 22h0M109 30h0M2 179h0M81 186h0M13 151h0M32 82h0M54 67h0M15 105h0M287 119h0M104 76h0M22 81h0M29 82h0M13 50h0M50 71h0M134 5h0M44 48h0M49 4h0M195 49h0M156 14h0M306 152h0M188 175h0M280 69h0M216 111h0M128 7h0M2 84h0M241 221h0M189 128h0M236 101h0M92 237h0"/><path stroke="#5a50c4" stroke-width="4.0" stroke-opacity="0.8" stroke-linecap="round" d="M275 70h0M248 57h0M267 103h0M220 82h0M261 63h0M248 62h0M271 80h0M258 40h0M287 162h0M282 107h0M278 212h0M302 94h0M283 223h0M287 77h0M284 151h0M223 119h0M299 114h0M278 73h0M299 84h0M270 195h0M285 116h0M304 99h0M232 108h0M275 106h0M294 189h0M275 221h0M283 163h0M280 196h0M281 215h0M276 220h0M228 155h0M283 186h0M232 165h0M222 183h0M231 83h0M228 183h0M235 225h0M228 211h0M272 95h0M303 115h0M284 62h0M290 156h0M282 162h0M286 58h0M280 159h0M249 44h0M299 117h0M219 127h0M306 108h0M233 107h0M293 206h0M297 195h0M222 184h0M272 101h0M277 95h0M229 158h0M294 114h0M229 215h0M266 101h0M296 129h0M279 218h0M289 172h0M263 225h0M215 142h0M240 214h0M237 196h0M286 172h0M291 170h0M300 181h0M231 123h0M261 99h0M290 171h0M258 58h0M224 147h0M290 192h0M214 119h0M258 70h0M237 218h0"/></g></g><g filter="url(#sb3)"><ellipse cx="9.7" cy="8" rx="5.0" ry="5.0" fill="#edefef"/><ellipse cx="71" cy="21" rx="5.5" ry="7.5" fill="#edefef"/><ellipse cx="51.5" cy="26" rx="7.0" ry="7.0" fill="#edefef"/><ellipse cx="37" cy="39" rx="10.5" ry="15.0" transform="rotate(15 37 39)" fill="#edefef"/><ellipse cx="58" cy="34" rx="6.0" ry="6.0" fill="#edefef"/><ellipse cx="83.5" cy="44" rx="12.0" ry="9.7" transform="rotate(10 83.5 44)" fill="#edefef"/><ellipse cx="106.7" cy="31.3" rx="5.5" ry="5.5" fill="#edefef"/><ellipse cx="107.5" cy="48.4" rx="4.5" ry="6.7" fill="#edefef"/><ellipse cx="47" cy="58" rx="8.2" ry="13.4" fill="#edefef"/><ellipse cx="71.5" cy="53.6" rx="7.5" ry="7.5" fill="#edefef"/><ellipse cx="15.7" cy="72" rx="6.7" ry="14.2" transform="rotate(10 15.7 72)" fill="#edefef"/><ellipse cx="30" cy="68.5" rx="7.5" ry="10.5" fill="#edefef"/><ellipse cx="72" cy="68.5" rx="5.0" ry="7.5" fill="#edefef"/><ellipse cx="50" cy="84" rx="9.7" ry="14.2" fill="#edefef"/><ellipse cx="88.7" cy="77.5" rx="5.2" ry="7.5" fill="#edefef"/><ellipse cx="105" cy="83.5" rx="6.7" ry="12.0" fill="#edefef"/><ellipse cx="29.8" cy="85.7" rx="6.0" ry="6.0" fill="#edefef"/><ellipse cx="41.7" cy="107" rx="9.0" ry="12.0" fill="#edefef"/><ellipse cx="60.3" cy="110" rx="6.7" ry="7.5" fill="#edefef"/><ellipse cx="25" cy="113.5" rx="7.5" ry="7.5" fill="#edefef"/><ellipse cx="7.5" cy="107" rx="4.5" ry="4.5" fill="#edefef"/><ellipse cx="111" cy="5" rx="9.5" ry="8.0" fill="#edefef"/><ellipse cx="114" cy="18" rx="7.0" ry="8.0" fill="#edefef"/><ellipse cx="117" cy="31" rx="6.5" ry="7.0" fill="#edefef"/><ellipse cx="121" cy="44" rx="5.5" ry="7.0" fill="#edefef"/><ellipse cx="126" cy="58" rx="11.0" ry="8.0" fill="#edefef"/><ellipse cx="128" cy="72" rx="15.0" ry="10.0" fill="#edefef"/><ellipse cx="128" cy="88" rx="14.0" ry="9.0" fill="#edefef"/><ellipse cx="128" cy="103" rx="9.0" ry="8.0" fill="#edefef"/><ellipse cx="126.5" cy="116" rx="5.0" ry="6.0" fill="#edefef"/><ellipse cx="137" cy="23" rx="7.0" ry="7.0" fill="#edefef"/><ellipse cx="150" cy="5" rx="6.0" ry="6.0" fill="#edefef"/><ellipse cx="126" cy="4" rx="6.0" ry="5.0" fill="#edefef"/><ellipse cx="148" cy="70" rx="5.0" ry="5.0" fill="#edefef"/><ellipse cx="150" cy="82" rx="4.0" ry="5.0" fill="#edefef"/></g></svg>
<svg class="ihc" style="left:33px;top:705px" width="155" height="121" viewBox="0 0 155 121"><defs><filter id="bl4" x="-50%" y="-50%" width="200%" height="200%"><feGaussianBlur stdDeviation="5"/></filter><filter id="sb4" x="-20%" y="-20%" width="140%" height="140%"><feGaussianBlur stdDeviation="0.5"/></filter><filter id="db4" x="-5%" y="-5%" width="110%" height="110%"><feGaussianBlur stdDeviation="0.45"/></filter></defs><rect width="155" height="121" fill="#e6d8d8"/><g filter="url(#bl4)"><ellipse cx="72" cy="52" rx="28" ry="28" fill="#c0aad8" fill-opacity="0.9"/><ellipse cx="100" cy="45" rx="12" ry="18" fill="#b8a0d4" fill-opacity="0.7"/><ellipse cx="140" cy="12" rx="16" ry="10" fill="#c0a8d8" fill-opacity="0.8"/><ellipse cx="55" cy="70" rx="10" ry="10" fill="#d0a080" fill-opacity="0.5"/><ellipse cx="110" cy="75" rx="12" ry="10" fill="#d0a080" fill-opacity="0.5"/></g><g filter="url(#db4)"><g transform="scale(0.5)"><path stroke="#8a70d0" stroke-width="4.0" stroke-opacity="0.8" stroke-linecap="round" d="M105 64h0M112 70h0M167 96h0M107 71h0M303 32h0M301 103h0M148 121h0M199 124h0M148 137h0M273 2h0M295 113h0M190 55h0M178 110h0M117 79h0M159 126h0M180 128h0M146 86h0M148 89h0M100 139h0M156 74h0M283 19h0M121 118h0M175 133h0M293 12h0M155 126h0M309 17h0M116 111h0M304 36h0M193 138h0M116 130h0M302 10h0M132 112h0M210 83h0M167 148h0M199 75h0M212 126h0M303 120h0M89 80h0M146 109h0M307 24h0M199 86h0M136 105h0M195 141h0M207 98h0M302 89h0M110 105h0M147 106h0M170 124h0M206 119h0M110 92h0M211 93h0M104 140h0M117 111h0M283 29h0M104 133h0M149 83h0M123 127h0M300 30h0M247 29h0M181 104h0M192 106h0M303 109h0M197 86h0M104 128h0M101 75h0M201 75h0M110 87h0M102 73h0M142 112h0M212 88h0M293 113h0M299 25h0M139 99h0M304 29h0M121 149h0M153 84h0M182 103h0M165 125h0M276 26h0M181 56h0M279 27h0M109 123h0M292 30h0M308 35h0M159 85h0M139 124h0M277 18h0M155 88h0M126 134h0M111 129h0M118 142h0M191 143h0M134 92h0M207 90h0M204 114h0M159 113h0M157 145h0M130 103h0M309 105h0M201 122h0M119 84h0M170 101h0M157 136h0M173 115h0M298 105h0M144 99h0M162 105h0M114 101h0M106 144h0M208 99h0M128 111h0M290 27h0M109 141h0M124 121h0M265 33h0M176 48h0M111 89h0M109 92h0M168 117h0M199 77h0M200 87h0M137 128h0M113 104h0M299 94h0M283 1h0M201 139h0M117 127h0M124 100h0M286 30h0M292 7h0M121 133h0M169 98h0M195 132h0M174 56h0M103 63h0M145 92h0M105 115h0M194 64h0M110 110h0M164 67h0M173 66h0M170 106h0M181 112h0M182 123h0M211 107h0M302 36h0M104 93h0M131 115h0M134 101h0M301 38h0M107 125h0M165 89h0M157 100h0M112 65h0M215 103h0M133 123h0M194 111h0M290 31h0M154 114h0M146 95h0M192 134h0M206 126h0M119 139h0M152 129h0M167 91h0M177 150h0M197 79h0M296 9h0M162 86h0M157 140h0M306 4h0M196 127h0M133 105h0M308 78h0M140 105h0M178 123h0M181 134h0M294 1h0M197 117h0M204 129h0M307 26h0M213 96h0M178 143h0M197 80h0M156 121h0M177 132h0M162 128h0M190 52h0M305 104h0M196 83h0M140 130h0M180 101h0M142 92h0M202 142h0M283 14h0M195 107h0M198 73h0M205 132h0M132 135h0M128 104h0M287 13h0M302 105h0M199 138h0M124 127h0M270 19h0M197 135h0M135 87h0M263 29h0M135 102h0M304 106h0M119 102h0M123 134h0M145 123h0"/><path stroke="#9a80d8" stroke-width="4.0" stroke-opacity="0.8" stroke-linecap="round" d="M197 94h0M112 72h0M116 69h0M184 54h0M102 148h0M89 83h0M203 76h0M167 60h0M174 142h0M279 26h0M126 130h0M121 141h0M165 140h0M142 134h0M171 45h0M127 131h0M169 134h0M176 149h0M303 116h0M300 30h0M278 27h0M194 69h0M210 125h0M150 129h0M134 129h0M110 148h0M115 144h0M191 115h0M197 68h0M129 92h0M303 89h0M206 89h0M291 107h0M198 146h0M192 65h0M183 52h0M193 131h0M102 134h0M122 78h0M156 136h0M168 152h0M121 104h0M201 85h0M194 73h0M140 130h0M190 114h0M183 54h0M194 100h0M264 24h0M303 105h0M154 88h0M307 11h0M119 82h0M173 64h0M309 76h0M173 46h0M111 107h0M141 92h0M297 95h0M109 143h0M154 77h0M277 27h0M160 129h0M214 116h0M110 64h0M124 113h0M197 94h0M124 128h0M107 112h0M259 28h0M297 5h0M188 139h0M153 98h0M195 71h0M119 144h0M213 108h0M203 117h0M161 135h0M196 98h0M185 110h0M106 92h0M165 77h0M173 143h0M194 126h0M113 93h0M103 133h0M186 64h0M201 103h0M186 127h0M180 51h0M165 101h0M178 126h0M309 93h0M175 131h0M104 93h0M203 81h0M105 150h0M169 113h0M140 138h0M154 126h0M100 95h0M206 133h0M303 8h0M165 95h0M185 131h0M192 100h0M286 102h0M273 6h0M102 84h0M190 138h0M167 121h0M103 142h0M124 95h0M142 83h0M207 137h0M142 93h0M142 108h0M184 63h0M109 115h0M122 136h0M203 105h0M136 139h0M121 148h0M201 146h0M296 124h0M300 108h0M309 107h0M106 104h0M112 142h0M307 96h0M296 17h0M200 129h0M192 136h0M162 97h0M208 115h0M177 100h0M308 7h0M182 110h0M193 101h0M128 128h0M282 0h0M266 26h0M121 115h0M193 112h0M114 103h0M141 136h0M121 134h0M111 65h0M305 29h0M205 80h0M300 15h0M300 8h0M210 105h0M190 124h0M195 135h0M131 134h0M106 85h0M309 100h0M166 147h0M162 99h0M207 85h0M307 30h0M175 156h0M174 113h0M142 94h0M285 101h0M127 84h0M153 108h0M127 114h0M136 113h0M307 98h0M298 119h0M134 80h0M289 2h0M102 81h0M99 90h0M148 93h0M148 83h0M114 96h0M123 84h0M106 119h0M206 132h0M151 87h0M114 80h0M304 108h0M174 146h0M156 120h0M132 91h0M204 126h0M155 105h0M155 78h0M132 87h0M169 126h0M197 123h0M272 22h0M212 100h0M191 136h0M100 68h0M144 88h0M211 116h0M295 105h0M130 89h0M203 105h0M171 152h0M194 147h0M181 148h0M296 37h0M119 149h0M182 132h0"/><path stroke="#7a60c8" stroke-width="4.0" stroke-opacity="0.8" stroke-linecap="round" d="M116 132h0M174 55h0M304 11h0M151 115h0M292 109h0M96 69h0M172 47h0M163 125h0M160 90h0M104 78h0M307 80h0M189 119h0M113 128h0M106 143h0M114 147h0M181 129h0M208 105h0M176 150h0M107 61h0M160 98h0M174 112h0M252 28h0M124 117h0M295 96h0M297 15h0M135 85h0M295 105h0M207 130h0M146 101h0M201 95h0M111 106h0M115 95h0M203 93h0M187 127h0M177 154h0M183 138h0M101 147h0M109 121h0M103 138h0M152 85h0M265 30h0M209 94h0M111 85h0M113 95h0M110 68h0M310 29h0M280 4h0M126 139h0M170 155h0M204 117h0M90 76h0M304 19h0M158 110h0M278 29h0M107 68h0M205 85h0M151 100h0M104 69h0M148 128h0M281 10h0M173 58h0M310 13h0M309 23h0M298 2h0M175 119h0M114 144h0M112 128h0M200 127h0M120 99h0M121 98h0M147 99h0M126 80h0M187 104h0M106 105h0M147 79h0M100 140h0M197 140h0M303 117h0M132 134h0M130 121h0M204 103h0M183 123h0M277 29h0M204 88h0M124 103h0M289 23h0M296 30h0M164 108h0M175 112h0M118 131h0M192 97h0M107 144h0M286 30h0M100 89h0M107 109h0M125 131h0M203 76h0M132 140h0M132 104h0M191 140h0M216 108h0M177 153h0M155 83h0M120 82h0M199 144h0M194 131h0M178 49h0M134 123h0M169 140h0M124 116h0M289 101h0M141 127h0M286 100h0M122 94h0M108 74h0M138 118h0M181 137h0M156 133h0M172 55h0M151 83h0M215 102h0M143 119h0M128 107h0M147 133h0M174 63h0M159 141h0M168 61h0M152 103h0M105 80h0M195 98h0M167 134h0M166 140h0M184 66h0M189 54h0M125 81h0M164 69h0M119 145h0M195 65h0M137 84h0M291 31h0M143 128h0M212 86h0M191 54h0M133 117h0M157 119h0M156 142h0M166 70h0M191 110h0M154 83h0M183 66h0M138 98h0M130 119h0M182 116h0M143 85h0M191 121h0M116 123h0M127 99h0M163 95h0M117 84h0M99 86h0M158 95h0M264 21h0M195 91h0M202 119h0M269 19h0M103 129h0M297 111h0M187 51h0M179 54h0M123 86h0M109 113h0M142 120h0M130 103h0M158 134h0M209 100h0M165 164h0M289 104h0M167 154h0M261 26h0M162 78h0M309 118h0M290 7h0M169 138h0M146 82h0M175 63h0M101 142h0M147 82h0M124 138h0M177 117h0M214 83h0M194 142h0M304 103h0M134 140h0M198 118h0M190 70h0M120 116h0M305 89h0M168 105h0M180 115h0M118 74h0M298 108h0M119 100h0M298 97h0M293 6h0M158 76h0M119 128h0M134 111h0M131 135h0M211 81h0M112 76h0M113 134h0M163 139h0M309 119h0M142 106h0"/><path stroke="#8a4424" stroke-width="4.6" stroke-opacity="0.85" stroke-linecap="round" d="M276 12h0M134 138h0M284 24h0M163 121h0M184 145h0M288 20h0M110 169h0M197 112h0M165 107h0M282 12h0M168 72h0M195 108h0M150 104h0M185 37h0M254 32h0M150 137h0M189 105h0M178 55h0M207 150h0M119 143h0M94 81h0M99 86h0M193 130h0M106 85h0M308 25h0M110 112h0M179 145h0M164 89h0M188 144h0M175 40h0M165 138h0M212 90h0M171 61h0M181 36h0M215 89h0M200 118h0M127 90h0M125 131h0M307 34h0M109 97h0M205 103h0M164 97h0M195 131h0M148 127h0M99 158h0M108 124h0M178 44h0M201 143h0M134 103h0"/><path stroke="#a06038" stroke-width="4.6" stroke-opacity="0.85" stroke-linecap="round" d="M98 143h0M286 21h0M308 9h0M147 81h0M198 102h0M104 89h0M99 76h0M210 105h0M128 134h0M103 63h0M129 81h0M150 126h0M128 82h0M175 111h0M161 112h0M288 1h0M136 105h0M206 108h0M155 112h0M144 88h0M129 126h0M141 128h0M206 141h0M106 60h0M98 81h0M176 56h0M184 150h0M193 58h0M230 107h0M84 71h0M257 32h0M171 145h0M105 151h0M170 37h0M170 105h0M109 137h0M92 62h0M186 109h0M172 119h0M131 109h0M90 80h0M299 16h0M134 135h0M149 131h0M184 111h0M198 110h0M137 106h0M157 102h0"/><path stroke="#6a3018" stroke-width="4.6" stroke-opacity="0.85" stroke-linecap="round" d="M174 38h0M121 116h0M114 151h0M111 157h0M271 21h0M109 162h0M130 100h0M189 41h0M182 48h0M170 111h0M128 119h0M115 121h0M140 99h0M225 103h0M196 125h0M178 151h0M178 128h0M107 81h0M214 120h0M206 100h0M214 122h0M103 100h0M155 134h0M139 86h0M301 16h0M277 12h0M157 109h0M284 8h0M148 138h0M189 116h0M160 136h0M132 79h0M83 74h0M198 96h0M122 115h0M203 96h0M155 143h0M229 104h0M264 34h0M125 128h0M132 133h0M155 95h0M110 104h0M176 102h0"/><path stroke="#c89070" stroke-width="4.4" stroke-opacity="0.7" stroke-linecap="round" d="M23 188h0M309 115h0M28 204h0M114 177h0M132 128h0M152 142h0M194 17h0M156 123h0M193 17h0M113 141h0M162 134h0M294 98h0M187 238h0M303 30h0M228 126h0M109 132h0M174 58h0M292 1h0M79 43h0M147 113h0M166 74h0M282 31h0M100 169h0M164 216h0M114 150h0M176 227h0M118 128h0M94 87h0M176 155h0M275 163h0M163 81h0M200 96h0M300 235h0M207 107h0M235 163h0"/></g></g><g filter="url(#sb4)"><ellipse cx="5" cy="7" rx="12.76" ry="13.92" fill="#edefef" stroke="#c89878" stroke-width="0.9"/><ellipse cx="27" cy="9" rx="12.18" ry="13.92" fill="#edefef" stroke="#c89878" stroke-width="0.9"/><ellipse cx="42" cy="6" rx="5.8" ry="11.6" fill="#edefef" stroke="#c89878" stroke-width="0.9"/><ellipse cx="48.7" cy="15" rx="9.51" ry="15.66" fill="#edefef" stroke="#c89878" stroke-width="0.9"/><ellipse cx="69.5" cy="21.5" rx="15.66" ry="17.98" fill="#edefef" stroke="#c89878" stroke-width="0.9"/><ellipse cx="12.7" cy="27" rx="11.25" ry="15.66" fill="#edefef" stroke="#c89878" stroke-width="0.9"/><ellipse cx="31.8" cy="30.7" rx="10.79" ry="11.25" fill="#edefef" stroke="#c89878" stroke-width="0.9"/><ellipse cx="10" cy="50" rx="13.92" ry="11.6" fill="#edefef" stroke="#c89878" stroke-width="0.9"/><ellipse cx="35" cy="58" rx="17.05" ry="19.72" fill="#edefef" stroke="#c89878" stroke-width="0.9"/><ellipse cx="18.7" cy="75" rx="9.51" ry="17.4" fill="#edefef" stroke="#c89878" stroke-width="0.9"/><ellipse cx="4" cy="79" rx="9.28" ry="19.72" fill="#edefef" stroke="#c89878" stroke-width="0.9"/><ellipse cx="37" cy="83.5" rx="12.76" ry="9.98" fill="#edefef" stroke="#c89878" stroke-width="0.9"/><ellipse cx="70" cy="81.7" rx="12.18" ry="11.25" fill="#edefef" stroke="#c89878" stroke-width="0.9"/><ellipse cx="42" cy="102" rx="13.92" ry="11.95" fill="#edefef" stroke="#c89878" stroke-width="0.9"/><ellipse cx="22.5" cy="111" rx="10.44" ry="12.76" fill="#edefef" stroke="#c89878" stroke-width="0.9"/><ellipse cx="5" cy="116" rx="8.12" ry="9.28" fill="#edefef" stroke="#c89878" stroke-width="0.9"/><ellipse cx="68" cy="108" rx="12.76" ry="16.24" fill="#edefef" stroke="#c89878" stroke-width="0.9"/><ellipse cx="48" cy="118" rx="10.44" ry="5.8" fill="#edefef" stroke="#c89878" stroke-width="0.9"/><ellipse cx="110.7" cy="24" rx="14.73" ry="17.4" fill="#edefef" stroke="#c89878" stroke-width="0.9"/><ellipse cx="120" cy="3" rx="14.73" ry="10.44" fill="#edefef" stroke="#c89878" stroke-width="0.9"/><ellipse cx="138.5" cy="33" rx="15.66" ry="17.4" fill="#edefef" stroke="#c89878" stroke-width="0.9"/><ellipse cx="131.7" cy="64.5" rx="16.47" ry="17.4" fill="#edefef" stroke="#c89878" stroke-width="0.9"/><ellipse cx="153" cy="73" rx="6.96" ry="12.76" fill="#edefef" stroke="#c89878" stroke-width="0.9"/><ellipse cx="97" cy="94.5" rx="18.21" ry="19.14" fill="#edefef" stroke="#c89878" stroke-width="0.9"/><ellipse cx="131" cy="104" rx="20.88" ry="20.88" fill="#edefef" stroke="#c89878" stroke-width="0.9"/><ellipse cx="104" cy="116" rx="10.44" ry="6.96" fill="#edefef" stroke="#c89878" stroke-width="0.9"/><ellipse cx="90" cy="41" rx="7.54" ry="7.54" fill="#edefef" stroke="#c89878" stroke-width="0.9"/></g></svg>
<svg class="ihc" style="left:195px;top:705px" width="155" height="121" viewBox="0 0 155 121"><defs><filter id="bl5" x="-50%" y="-50%" width="200%" height="200%"><feGaussianBlur stdDeviation="5"/></filter><filter id="sb5" x="-20%" y="-20%" width="140%" height="140%"><feGaussianBlur stdDeviation="0.5"/></filter><filter id="db5" x="-5%" y="-5%" width="110%" height="110%"><feGaussianBlur stdDeviation="0.45"/></filter></defs><rect width="155" height="121" fill="#ccb8d4"/><g filter="url(#bl5)"><ellipse cx="74" cy="39" rx="20" ry="21" fill="#b89098" fill-opacity="0.6"/><ellipse cx="100" cy="102" rx="20" ry="19" fill="#b89098" fill-opacity="0.6"/><ellipse cx="135" cy="37" rx="20" ry="14" fill="#b89098" fill-opacity="0.5"/><ellipse cx="50" cy="21" rx="11" ry="15" fill="#a890d0" fill-opacity="0.6"/><ellipse cx="64" cy="71" rx="19" ry="18" fill="#a890d0" fill-opacity="0.6"/><ellipse cx="128" cy="68" rx="27" ry="18" fill="#a890d0" fill-opacity="0.6"/><ellipse cx="9" cy="77" rx="9" ry="12" fill="#a890d0" fill-opacity="0.6"/></g><g filter="url(#db5)"><g transform="scale(0.5)"><path stroke="#7a52c8" stroke-width="4.0" stroke-opacity="0.8" stroke-linecap="round" d="M108 145h0M228 189h0M277 82h0M300 177h0M128 179h0M264 178h0M279 235h0M152 112h0M36 46h0M199 177h0M102 95h0M226 134h0M4 143h0M174 63h0M232 116h0M102 37h0M280 167h0M248 152h0M92 45h0M298 146h0M156 112h0M55 241h0M228 95h0M159 176h0M237 126h0M152 57h0M47 197h0M160 132h0M210 31h0M45 79h0M265 161h0M285 190h0M286 3h0M138 152h0M286 206h0M128 67h0M301 69h0M293 216h0M238 122h0M271 51h0M86 84h0M223 197h0M75 205h0M245 7h0M204 31h0M166 197h0M237 80h0M245 46h0M97 233h0M289 67h0M116 31h0M91 43h0M189 174h0M156 37h0M90 124h0M79 232h0M252 168h0M155 239h0M212 35h0M171 203h0M65 4h0M19 182h0M208 11h0M2 85h0M144 21h0M119 179h0M272 129h0M167 207h0M211 19h0M50 70h0M233 115h0M97 71h0M46 197h0M256 153h0M238 109h0M300 226h0M171 82h0M22 113h0M250 156h0M104 41h0M150 82h0M95 14h0M139 116h0M162 145h0M263 159h0M146 141h0M161 67h0M251 139h0M233 75h0M26 12h0M76 15h0M290 144h0M41 84h0M137 128h0M98 216h0M263 115h0M235 187h0M230 207h0M36 18h0M242 195h0M135 114h0M261 238h0M206 191h0M298 91h0M217 117h0M46 241h0M109 144h0M201 17h0M255 111h0M152 127h0M124 194h0M138 136h0M161 58h0M28 70h0M308 77h0M82 233h0M256 0h0M309 166h0M200 1h0M230 156h0M88 66h0M93 140h0M161 22h0M306 79h0M223 65h0M238 166h0M152 79h0M166 208h0M77 80h0M208 49h0M98 107h0M40 167h0M155 140h0M270 183h0M138 167h0M222 163h0M88 54h0M271 123h0M283 181h0M287 213h0M297 151h0M108 109h0M155 126h0M275 144h0M206 71h0M276 209h0M190 0h0M87 237h0M232 102h0M111 212h0M139 36h0M203 15h0M238 46h0M68 73h0M117 182h0M171 95h0M73 66h0M8 39h0M150 170h0M162 116h0M122 24h0M136 36h0M259 214h0M237 187h0M226 56h0M10 143h0M280 115h0M203 148h0M279 153h0M112 89h0M193 189h0M214 58h0M99 106h0M277 124h0M202 157h0M119 229h0M6 20h0M208 173h0M164 89h0M78 63h0M117 228h0M260 29h0M264 169h0M162 101h0M113 59h0M186 236h0M209 191h0M236 38h0M105 217h0M94 59h0M188 191h0M267 224h0M156 151h0M19 78h0M113 139h0M33 17h0M128 155h0M124 164h0M280 63h0M101 61h0M195 225h0M130 81h0M147 125h0M191 227h0M118 6h0M130 29h0M263 67h0M215 70h0M136 163h0M32 111h0M98 42h0M71 204h0M189 154h0M74 2h0M285 58h0M165 21h0M158 93h0M7 147h0M143 183h0M123 62h0M118 239h0M180 187h0M142 55h0M223 111h0M51 237h0M210 134h0M170 196h0M118 192h0M305 110h0M142 172h0M182 151h0M252 193h0M280 220h0M228 85h0M142 27h0M4 20h0M250 33h0M278 106h0M306 96h0M110 57h0M272 93h0M274 216h0M286 126h0M223 38h0M84 84h0M290 73h0M108 20h0M68 201h0M128 107h0M85 148h0M92 143h0M121 203h0M289 146h0M245 104h0M18 82h0M185 237h0M105 26h0M112 202h0M206 177h0M250 3h0M132 160h0M265 62h0M124 76h0M143 84h0M306 65h0M220 169h0M167 87h0M227 171h0M87 136h0M266 189h0M89 152h0M304 87h0M253 217h0M125 153h0M46 71h0M269 53h0M126 155h0M205 218h0M148 116h0M276 4h0M144 75h0M257 46h0M144 50h0M262 99h0M256 202h0M134 115h0M208 120h0M290 94h0M148 34h0M142 135h0M122 9h0M267 204h0M247 46h0M204 172h0M306 174h0M31 184h0M28 62h0M212 43h0M203 24h0M33 186h0M247 107h0M163 109h0M12 85h0M120 92h0M246 132h0M220 123h0M227 203h0M78 221h0M238 162h0M262 163h0M240 118h0M135 63h0M9 89h0M258 191h0M156 50h0M280 135h0M73 76h0M68 68h0M271 46h0M291 11h0M216 182h0M101 129h0M178 174h0"/><path stroke="#6a44bc" stroke-width="4.0" stroke-opacity="0.8" stroke-linecap="round" d="M275 242h0M307 218h0M47 201h0M53 234h0M120 177h0M72 9h0M199 147h0M100 40h0M210 182h0M260 234h0M220 65h0M170 228h0M118 17h0M242 76h0M181 79h0M117 156h0M205 139h0M158 157h0M28 108h0M216 149h0M274 12h0M251 168h0M91 242h0M266 119h0M233 204h0M239 18h0M20 170h0M294 237h0M113 7h0M166 79h0M240 198h0M223 26h0M17 77h0M192 187h0M226 120h0M128 179h0M250 31h0M108 223h0M238 75h0M192 222h0M296 155h0M287 227h0M71 231h0M192 179h0M288 181h0M189 189h0M128 105h0M308 172h0M254 7h0M218 16h0M158 139h0M219 135h0M199 84h0M4 82h0M153 165h0M153 41h0M116 23h0M123 60h0M216 136h0M243 103h0M245 76h0M67 215h0M246 121h0M108 76h0M182 171h0M138 113h0M122 117h0M22 74h0M118 85h0M138 28h0M149 54h0M252 233h0M124 242h0M11 158h0M38 88h0M56 218h0M216 164h0M141 61h0M238 92h0M136 90h0M243 126h0M144 46h0M287 136h0M274 20h0M35 67h0M126 76h0M270 7h0M242 130h0M254 238h0M294 218h0M117 106h0M306 51h0M96 219h0M99 30h0M115 1h0M223 120h0M117 7h0M67 72h0M18 174h0M177 4h0M273 71h0M75 4h0M122 123h0M213 103h0M255 141h0M287 146h0M278 185h0M127 64h0M125 102h0M228 204h0M232 181h0M224 218h0M96 87h0M82 19h0M270 140h0M178 162h0M193 159h0M72 62h0M205 158h0M76 239h0M207 85h0M265 54h0M58 236h0M233 195h0M289 116h0M298 77h0M160 119h0M191 210h0M309 95h0M273 7h0M123 35h0M157 151h0M142 38h0M230 57h0M126 22h0M117 142h0M257 235h0M124 54h0M88 237h0M104 51h0M120 89h0M263 220h0M123 159h0M123 172h0M208 111h0M111 225h0M29 43h0M307 168h0M183 189h0M89 10h0M278 157h0M86 227h0M99 8h0M238 7h0M76 1h0M207 143h0M86 76h0M128 94h0M111 160h0M215 42h0M138 18h0M266 164h0M235 187h0M250 61h0M187 6h0M265 163h0M248 13h0M194 178h0M89 93h0M87 33h0M90 130h0M157 76h0M213 213h0M290 123h0M274 53h0M139 156h0M125 81h0M109 74h0M37 73h0M161 200h0M302 92h0M258 121h0M279 111h0M122 59h0M268 21h0M293 60h0M246 191h0M136 125h0M94 12h0M105 32h0M120 240h0M227 74h0M269 144h0M188 78h0M6 149h0M82 153h0M129 100h0M198 196h0M142 158h0M162 59h0M147 71h0M267 227h0M272 221h0M209 137h0M122 128h0M25 7h0M235 208h0M217 215h0M101 240h0M226 163h0M128 62h0M300 77h0M242 123h0M119 58h0M181 220h0M199 92h0M146 29h0M224 39h0M104 22h0M284 192h0M175 161h0M28 176h0M278 221h0M224 105h0M229 35h0M116 135h0M292 158h0M91 123h0M171 9h0M210 61h0M254 192h0M144 137h0M284 216h0M144 87h0M107 156h0M254 141h0M183 183h0M196 193h0M215 210h0M299 166h0M227 212h0M113 113h0M134 106h0M101 70h0M227 135h0M152 142h0M125 187h0M210 110h0M84 48h0M210 23h0M261 150h0M295 166h0M244 49h0M123 77h0M219 154h0M270 128h0M249 169h0M268 89h0M233 144h0M187 218h0M37 240h0M104 87h0M233 209h0M214 155h0M141 89h0M188 149h0M9 154h0M281 61h0M219 40h0M208 114h0M230 5h0M210 100h0M198 194h0M193 228h0M305 55h0M116 212h0M161 185h0M98 118h0M166 219h0M220 1h0M272 118h0M44 75h0M221 153h0M65 238h0M8 146h0M150 183h0M136 164h0M128 108h0M224 158h0M240 134h0M115 32h0M117 186h0M132 40h0M195 163h0M161 187h0M204 127h0M297 213h0M215 146h0M252 48h0M75 241h0M288 153h0M131 15h0M277 114h0M310 153h0M17 167h0M277 210h0M284 229h0M259 32h0M20 167h0M102 116h0M240 11h0M222 62h0M107 84h0M30 184h0M140 130h0M211 157h0M89 0h0M241 175h0M83 35h0M224 163h0M62 230h0M205 104h0M119 70h0M47 196h0M185 82h0M265 201h0M200 59h0M294 146h0M152 84h0M308 3h0M93 232h0M218 38h0M106 20h0M261 70h0M122 100h0M309 111h0M248 119h0M230 31h0M182 69h0M236 30h0M81 76h0M267 98h0M179 160h0M225 110h0M308 166h0M116 25h0M99 234h0M223 215h0M115 206h0M267 20h0M200 146h0M192 156h0M28 50h0M169 203h0M126 59h0M180 151h0M101 111h0M77 44h0M246 128h0M80 213h0M289 177h0M268 231h0M134 183h0M262 24h0M192 1h0M124 2h0M130 51h0M276 86h0M238 111h0M309 218h0"/><path stroke="#8a62d0" stroke-width="4.0" stroke-opacity="0.8" stroke-linecap="round" d="M18 183h0M114 17h0M1 154h0M221 10h0M143 134h0M141 74h0M87 24h0M235 137h0M126 239h0M161 102h0M264 207h0M208 114h0M144 52h0M156 104h0M259 64h0M286 114h0M75 74h0M62 226h0M38 111h0M293 115h0M63 222h0M200 204h0M234 86h0M227 161h0M272 153h0M193 188h0M263 133h0M246 130h0M265 154h0M259 51h0M104 119h0M69 206h0M116 210h0M210 190h0M292 198h0M22 78h0M95 216h0M87 6h0M227 38h0M274 209h0M123 135h0M66 75h0M103 83h0M281 116h0M29 10h0M217 119h0M208 12h0M282 58h0M164 100h0M181 169h0M133 170h0M90 113h0M282 179h0M214 100h0M260 226h0M121 25h0M239 54h0M94 151h0M275 196h0M252 105h0M285 197h0M85 217h0M144 171h0M199 183h0M230 43h0M110 87h0M63 66h0M275 212h0M277 102h0M232 220h0M169 233h0M126 77h0M124 62h0M243 209h0M133 30h0M292 122h0M21 47h0M179 68h0M205 10h0M8 158h0M212 190h0M43 85h0M185 240h0M249 133h0M152 119h0M248 207h0M199 64h0M250 11h0M111 141h0M108 135h0M302 11h0M270 165h0M92 128h0M169 61h0M229 153h0M5 23h0M133 174h0M263 32h0M90 14h0M235 199h0M141 125h0M223 3h0M156 155h0M97 39h0M206 167h0M112 159h0M276 215h0M216 149h0M185 201h0M128 146h0M98 121h0M247 50h0M55 219h0M7 181h0M263 197h0M58 233h0M129 173h0M40 12h0M307 13h0M215 75h0M37 71h0M68 73h0M198 208h0M83 132h0M165 197h0M254 156h0M147 89h0M145 94h0M108 91h0M118 53h0M121 155h0M205 41h0M283 187h0M171 144h0M44 186h0M56 140h0M124 25h0M2 90h0M22 169h0M74 225h0M161 38h0M193 61h0M130 153h0M301 99h0M220 63h0M9 85h0M179 233h0M228 114h0M185 192h0M233 128h0M300 241h0M53 201h0M3 158h0M230 79h0M229 151h0M288 236h0M192 222h0M193 163h0M165 109h0M275 199h0M208 44h0M259 133h0M190 90h0M283 224h0M173 96h0M27 57h0M139 132h0M93 97h0M197 150h0M198 93h0M113 131h0M292 98h0M163 161h0M120 118h0M300 218h0M221 42h0M285 229h0M56 225h0M147 116h0M275 125h0M72 143h0M88 40h0M146 148h0M261 49h0M229 73h0M283 241h0M88 116h0M62 201h0M205 41h0M131 92h0M123 22h0M293 188h0M171 94h0M106 21h0M206 184h0M26 8h0M274 17h0M257 122h0M295 60h0M265 108h0M213 145h0M138 13h0M221 125h0M122 75h0M124 13h0M163 107h0M21 76h0M165 227h0M211 214h0M306 219h0M230 44h0M268 2h0M192 228h0M127 12h0M161 80h0M34 45h0M207 186h0M140 143h0M164 92h0M123 139h0M61 0h0M236 113h0M273 225h0M246 9h0M238 31h0M190 196h0M269 115h0M261 211h0M50 233h0M118 49h0M302 64h0M202 51h0M235 208h0M205 81h0M308 102h0M272 235h0M4 37h0M211 54h0M107 42h0M197 94h0M284 202h0M286 224h0M216 154h0M253 173h0M258 185h0M246 131h0M85 132h0M118 49h0M232 190h0M82 22h0M148 108h0M38 7h0M87 87h0M71 144h0M257 177h0M213 121h0M297 122h0M46 76h0M145 16h0M276 90h0M138 51h0M166 156h0M6 148h0M276 94h0M90 94h0M45 62h0M89 30h0M79 234h0M88 36h0M113 62h0M273 99h0M212 57h0M93 230h0M69 78h0M95 106h0M305 218h0M177 219h0M203 203h0M278 11h0M82 61h0M49 138h0M157 123h0M132 15h0M225 184h0M274 147h0M127 32h0M103 96h0M197 148h0M306 83h0M71 207h0M179 89h0M271 152h0M187 90h0M112 133h0M230 9h0M206 167h0M136 135h0M223 153h0M241 148h0M211 17h0M78 78h0M272 177h0M197 80h0M238 36h0M251 99h0M249 153h0M109 148h0M24 4h0M5 33h0M132 63h0M33 116h0M151 31h0M254 169h0M30 115h0M262 178h0"/><path stroke="#6a44bc" stroke-width="4.2" stroke-opacity="0.8" stroke-linecap="round" d="M146 178h0M237 108h0M289 119h0M120 58h0M132 161h0M98 115h0M287 144h0M263 145h0M226 138h0M279 114h0M128 143h0M206 146h0M284 150h0M232 161h0M95 24h0M155 153h0M210 112h0M264 134h0M140 131h0M122 104h0M261 151h0M218 161h0M295 132h0M277 166h0M213 149h0M276 158h0M250 117h0M204 117h0M300 118h0M100 123h0M122 115h0M291 140h0M108 44h0M105 123h0M261 126h0M154 135h0M275 174h0M214 135h0M91 121h0M207 147h0M252 151h0M271 152h0M83 61h0M245 166h0M282 120h0M95 27h0M212 114h0M88 130h0M297 160h0M252 105h0M87 14h0M278 118h0M223 165h0M95 135h0M276 130h0M147 127h0M279 106h0M117 172h0M282 119h0M280 149h0M264 108h0M264 128h0M109 46h0M117 20h0M102 116h0M239 115h0M279 163h0M122 173h0M106 16h0M95 147h0M298 154h0M130 170h0M133 137h0M270 98h0M113 165h0M115 61h0M158 149h0M113 63h0M147 174h0M123 30h0M91 135h0M153 159h0M247 113h0M85 63h0M215 141h0M153 147h0M233 108h0M294 166h0M92 16h0M141 117h0M246 156h0M163 156h0M123 129h0M280 110h0M242 125h0M125 106h0M277 110h0M284 164h0M119 160h0M93 139h0M224 138h0M128 166h0M107 48h0M151 142h0M114 27h0M99 126h0M238 150h0M285 170h0M245 153h0M107 63h0M292 146h0M87 41h0M119 26h0M156 170h0M265 152h0M255 167h0M140 147h0M119 121h0M246 166h0M250 165h0M275 148h0M220 142h0M254 159h0M116 22h0M206 145h0M155 130h0M7 150h0M113 165h0M139 137h0M85 66h0M292 115h0M287 159h0M26 179h0M294 118h0M107 71h0M212 116h0M161 133h0M84 28h0"/><path stroke="#7a52c8" stroke-width="4.2" stroke-opacity="0.8" stroke-linecap="round" d="M226 166h0M220 133h0M90 44h0M272 162h0M285 170h0M112 51h0M112 123h0M154 148h0M84 40h0M263 121h0M275 125h0M238 155h0M253 110h0M138 145h0M124 127h0M213 124h0M124 50h0M93 75h0M235 153h0M215 143h0M221 134h0M159 149h0M162 153h0M225 141h0M276 127h0M145 148h0M256 102h0M261 149h0M294 111h0M93 54h0M97 51h0M303 158h0M278 119h0M90 26h0M270 115h0M236 100h0M108 147h0M238 114h0M282 137h0M149 148h0M290 120h0M231 100h0M230 100h0M272 141h0M118 132h0M17 177h0M129 175h0M93 122h0M132 128h0M243 115h0M275 137h0M102 18h0M148 172h0M210 118h0M258 165h0M216 116h0M142 119h0M156 119h0M208 133h0M10 162h0M138 121h0M222 109h0M236 162h0M86 45h0M101 57h0M129 137h0M296 139h0M124 139h0M210 160h0M235 155h0M239 98h0M136 177h0M84 43h0M208 130h0M249 171h0M206 127h0M104 74h0M247 167h0M116 162h0M278 145h0M285 113h0M135 168h0M244 160h0M234 166h0M278 173h0M97 35h0M115 21h0M225 136h0M276 117h0M12 164h0M219 117h0M82 28h0M98 129h0M99 136h0M243 151h0M103 118h0M281 167h0M125 35h0M106 32h0M27 174h0M115 131h0M127 172h0M244 99h0M109 35h0M272 121h0M121 125h0M247 144h0M227 170h0M133 149h0M94 63h0M110 24h0M289 126h0M117 29h0M256 174h0M97 138h0M295 143h0M264 103h0M205 147h0M244 173h0M266 140h0M11 149h0M236 128h0M262 152h0M226 113h0M82 59h0M154 139h0M127 105h0M144 131h0M107 122h0M275 129h0M125 179h0M126 153h0M280 150h0M151 126h0M291 113h0M273 155h0M14 172h0M281 122h0M145 112h0M236 146h0M229 170h0M247 118h0M230 107h0M124 104h0M133 164h0M125 151h0M14 161h0M263 140h0M252 106h0M262 135h0M252 107h0M115 160h0M287 161h0M6 142h0M25 180h0"/><path stroke="#8a62d0" stroke-width="4.2" stroke-opacity="0.8" stroke-linecap="round" d="M262 147h0M127 141h0M142 108h0M230 138h0M89 71h0M234 100h0M93 15h0M240 122h0M132 162h0M150 164h0M206 143h0M14 155h0M231 101h0M128 181h0M119 176h0M291 113h0M29 172h0M80 23h0M267 140h0M277 164h0M30 169h0M116 142h0M245 110h0M8 174h0M214 116h0M295 117h0M255 161h0M112 13h0M223 105h0M87 31h0M278 165h0M158 152h0M117 38h0M123 112h0M106 72h0M232 118h0M139 180h0M244 107h0M132 167h0M89 63h0M278 126h0M145 165h0M150 174h0M156 144h0M249 152h0M155 131h0M110 139h0M286 136h0M279 104h0M242 159h0M109 151h0M248 154h0M279 151h0M288 159h0M261 127h0M112 141h0M118 57h0M245 169h0M121 141h0M249 103h0M101 46h0M243 122h0M135 106h0M231 108h0M134 152h0M266 122h0M280 150h0M254 175h0M267 114h0M110 110h0M239 150h0M122 151h0M4 147h0M256 135h0M95 53h0M5 146h0M205 122h0M102 49h0M230 139h0M113 105h0M104 129h0M217 114h0M103 15h0M246 148h0M108 151h0M28 171h0M270 151h0M95 128h0M219 112h0M102 121h0M228 142h0M98 76h0M271 140h0M125 180h0M159 157h0M109 42h0M122 41h0M221 126h0M149 166h0M124 107h0M134 117h0M240 172h0M230 115h0M77 39h0M122 31h0M124 49h0M245 119h0M115 146h0M291 140h0M108 60h0M164 161h0M262 161h0M146 116h0M161 154h0M119 179h0M95 29h0M111 150h0M267 98h0M237 131h0M283 133h0M213 160h0M215 143h0M287 105h0M224 105h0M216 112h0M116 116h0M227 128h0M125 113h0M134 137h0M230 151h0M121 35h0M252 144h0M278 126h0M27 174h0M234 119h0M258 152h0M171 146h0M232 172h0M122 129h0M278 153h0M151 145h0M268 161h0M97 116h0M213 139h0M108 11h0"/><path stroke="#a05a3a" stroke-width="4.2" stroke-opacity="0.85" stroke-linecap="round" d="M116 64h0M208 200h0M250 211h0M126 97h0M105 58h0M154 84h0M211 201h0M307 56h0M308 79h0M130 2h0M161 108h0M240 63h0M182 171h0M231 196h0M142 44h0M124 90h0M245 67h0M72 242h0M180 164h0M246 43h0M67 204h0M112 106h0M146 112h0M152 114h0M156 116h0M92 241h0M191 231h0M147 51h0M56 212h0M240 218h0M153 19h0M239 88h0M69 204h0M195 60h0M101 100h0M267 62h0M201 93h0M128 48h0M254 57h0M124 78h0M168 95h0M171 212h0M89 234h0M140 109h0M156 45h0M217 210h0M133 33h0M144 97h0M180 86h0M121 104h0M292 93h0M209 175h0M234 195h0M256 58h0M305 54h0M149 17h0M295 73h0M215 189h0M66 238h0M278 57h0M127 65h0M159 40h0M152 62h0M230 93h0M178 66h0M275 104h0M65 213h0M89 238h0M180 195h0M187 232h0M121 67h0M174 66h0M301 60h0M107 111h0M20 82h0M224 81h0M231 87h0M117 8h0M111 112h0M22 47h0M156 59h0M99 222h0M193 212h0M113 53h0M308 57h0M59 207h0M156 97h0M211 168h0M103 224h0M123 99h0M235 92h0M269 45h0M250 64h0M200 90h0M27 47h0M295 100h0M213 173h0M135 89h0M174 93h0M177 172h0M274 70h0M120 62h0M127 105h0M189 222h0M145 65h0M200 209h0M229 70h0M154 109h0M117 11h0M144 31h0M106 84h0M139 57h0M265 45h0M213 191h0M197 168h0M184 80h0M122 7h0M31 65h0M196 89h0M190 70h0M267 94h0M173 218h0M232 169h0M256 107h0M167 221h0M165 52h0M226 203h0M171 62h0M123 47h0M68 198h0M184 88h0M149 128h0M140 78h0M122 6h0M149 69h0M110 86h0M294 99h0M146 43h0M154 109h0M107 222h0M217 218h0M153 66h0M113 58h0M105 79h0M137 108h0M124 84h0M58 231h0M192 237h0M139 29h0M225 200h0M237 88h0M122 79h0M228 214h0M261 45h0M159 184h0M142 34h0M23 46h0M97 241h0M242 85h0M121 22h0M194 213h0M119 53h0M131 51h0M240 201h0M221 181h0M125 2h0M156 123h0M170 77h0M138 100h0M200 89h0M111 215h0M73 225h0M292 62h0M137 30h0M115 98h0M239 89h0"/><path stroke="#7a2a1a" stroke-width="4.2" stroke-opacity="0.85" stroke-linecap="round" d="M108 231h0M155 83h0M150 112h0M162 230h0M164 231h0M146 71h0M211 166h0M152 84h0M153 23h0M113 45h0M8 40h0M243 99h0M265 43h0M31 56h0M207 189h0M95 217h0M191 204h0M191 187h0M248 198h0M298 102h0M116 11h0M170 233h0M204 191h0M226 203h0M223 193h0M176 77h0M203 212h0M174 205h0M227 89h0M121 55h0M135 122h0M190 239h0M288 103h0M190 177h0M157 187h0M260 55h0M170 85h0M243 203h0M146 107h0M101 102h0M121 116h0M302 80h0M103 55h0M123 65h0M188 222h0M26 76h0M60 219h0M234 78h0M285 71h0M250 68h0M160 99h0M158 190h0M172 172h0M88 232h0M177 189h0M191 77h0M120 111h0M132 82h0M288 62h0M82 217h0M248 42h0M199 184h0M188 237h0M272 64h0M136 113h0M158 190h0M104 59h0M273 75h0M249 72h0M282 95h0M179 166h0M307 71h0M168 179h0M223 187h0M205 182h0M275 102h0M128 82h0M145 70h0M225 201h0M170 219h0M137 59h0M164 71h0M86 223h0M154 32h0M110 226h0M309 58h0M112 89h0M134 13h0M75 205h0M163 68h0M166 69h0M112 88h0M136 91h0M174 87h0M158 76h0M243 78h0M136 25h0M187 78h0M224 168h0M118 101h0M109 95h0M144 54h0M242 183h0M140 126h0M237 216h0M162 88h0M226 84h0M230 78h0M256 62h0M235 192h0M146 59h0M117 94h0M228 77h0M221 176h0M282 60h0M131 4h0M60 231h0M207 162h0M230 185h0M70 213h0M23 72h0M232 178h0M174 179h0M209 180h0M287 60h0M255 44h0M120 3h0M18 77h0M212 200h0M217 164h0M128 40h0M139 40h0M4 78h0M105 57h0M28 58h0M133 98h0M144 21h0M115 17h0M93 226h0M227 63h0M132 94h0M209 199h0M201 216h0M98 67h0M193 65h0M83 236h0M145 22h0M113 51h0M172 218h0M230 196h0M232 79h0M166 219h0M71 221h0M285 61h0M152 59h0M158 66h0M157 27h0M215 178h0M175 73h0M260 66h0M286 99h0M246 193h0M187 73h0M156 91h0M131 44h0M168 90h0M240 191h0M224 214h0M238 87h0M199 188h0M149 17h0M307 64h0M147 123h0M258 50h0M229 184h0M152 75h0"/><path stroke="#8a3420" stroke-width="4.2" stroke-opacity="0.85" stroke-linecap="round" d="M266 106h0M201 75h0M152 24h0M230 84h0M306 89h0M266 60h0M148 123h0M301 61h0M248 211h0M32 70h0M164 95h0M140 107h0M157 73h0M154 127h0M269 93h0M167 72h0M186 202h0M243 211h0M96 83h0M234 196h0M309 94h0M250 45h0M152 17h0M22 45h0M163 51h0M27 45h0M151 27h0M147 114h0M33 66h0M230 78h0M234 176h0M137 100h0M202 181h0M74 227h0M112 59h0M180 85h0M69 202h0M238 76h0M254 42h0M230 207h0M153 72h0M119 21h0M245 217h0M117 16h0M176 219h0M110 96h0M158 88h0M237 64h0M292 93h0M188 77h0M206 212h0M233 196h0M189 200h0M31 54h0M207 183h0M91 219h0M296 59h0M230 78h0M256 62h0M232 188h0M188 171h0M162 65h0M206 219h0M129 84h0M111 55h0M257 42h0M147 88h0M113 106h0M183 208h0M136 76h0M160 118h0M156 64h0M283 92h0M86 224h0M111 73h0M185 65h0M145 26h0M167 104h0M86 241h0M190 88h0M103 77h0M125 59h0M161 111h0M171 231h0M191 205h0M207 182h0M175 68h0M152 39h0M145 85h0M232 189h0M96 94h0M121 47h0M149 49h0M141 62h0M129 5h0M173 207h0M243 183h0M261 67h0M159 55h0M192 225h0M182 166h0M239 177h0M151 24h0M158 73h0M98 223h0M118 34h0M112 61h0M104 95h0M221 217h0M217 170h0M251 107h0M250 192h0M145 114h0M106 91h0M178 92h0M239 62h0M172 231h0M228 219h0M272 104h0M23 79h0M70 225h0M115 109h0M112 100h0M137 52h0M71 219h0M118 5h0M149 116h0M132 93h0M165 53h0M129 114h0M79 239h0M14 44h0M132 45h0M163 104h0M142 64h0M123 87h0M197 191h0M128 16h0M237 177h0M259 50h0M147 78h0M193 184h0M152 50h0M125 18h0M275 78h0M177 228h0M290 98h0M252 56h0M160 194h0M80 231h0M66 214h0M125 7h0M130 26h0M309 73h0M101 105h0M195 92h0M203 191h0M206 189h0M154 184h0M229 59h0M70 239h0M176 208h0M78 225h0M131 17h0M215 210h0M161 189h0M179 173h0M195 222h0M187 171h0M111 115h0M192 80h0M245 59h0M87 232h0M131 39h0M146 65h0M157 63h0M192 184h0M164 81h0M175 200h0M73 211h0M216 198h0M78 205h0M135 83h0M228 213h0M286 59h0M129 106h0M252 97h0M215 171h0"/><path stroke="#5a1e14" stroke-width="4.2" stroke-opacity="0.85" stroke-linecap="round" d="M94 80h0M201 207h0M174 88h0M153 85h0M171 213h0M227 74h0M277 81h0M99 233h0M192 178h0M112 95h0M171 170h0M265 75h0M132 65h0M187 92h0M158 94h0M126 41h0M122 11h0M286 106h0M114 95h0M152 114h0M183 190h0M115 103h0M297 96h0M99 72h0M98 217h0M300 88h0M199 98h0M297 91h0M246 198h0M149 88h0M183 198h0M102 235h0M230 219h0M295 72h0M235 216h0M185 195h0M60 209h0M271 82h0M268 55h0M149 42h0M161 195h0M239 50h0M151 119h0M121 75h0M151 71h0M131 21h0M102 62h0M233 218h0M119 115h0M24 69h0M204 177h0M234 194h0M227 88h0M70 229h0M131 52h0M80 222h0M267 56h0M149 33h0M162 88h0M21 41h0M224 204h0M103 223h0M208 185h0M29 61h0M77 213h0M111 103h0M130 92h0M113 90h0M299 90h0M271 94h0M144 27h0M127 77h0M269 70h0M233 61h0M246 202h0M186 95h0M139 33h0M209 169h0M150 86h0M63 212h0M148 33h0M198 224h0M250 97h0M216 197h0M112 98h0M103 218h0M133 10h0M237 179h0M190 215h0M162 44h0M170 226h0M180 83h0M28 69h0M134 57h0M200 61h0M257 44h0M70 213h0M105 100h0M185 215h0M231 196h0M96 78h0M169 187h0M158 108h0M267 98h0M165 195h0M223 189h0M286 107h0M302 78h0M179 73h0M169 177h0M164 176h0M115 78h0M235 179h0M193 175h0M168 69h0M66 212h0M166 87h0M237 80h0M193 177h0M116 74h0M130 54h0M99 76h0M153 70h0M119 38h0M188 89h0M186 234h0M166 175h0M131 4h0M97 228h0M258 54h0M224 211h0M248 98h0M192 90h0M163 81h0M33 59h0M18 80h0M236 92h0M176 199h0M176 182h0M163 195h0M146 93h0M185 240h0M298 76h0M137 80h0M229 204h0M120 47h0M254 59h0M175 186h0M226 202h0M210 162h0M161 190h0M163 204h0M164 186h0M276 78h0M173 205h0M215 216h0M286 59h0M233 51h0M130 104h0M65 202h0M156 91h0M164 175h0M104 230h0M252 62h0M248 192h0M271 60h0M194 184h0M242 79h0M171 193h0M20 46h0M131 93h0M108 86h0M163 173h0M121 110h0M128 44h0M105 100h0M144 40h0M155 84h0M71 230h0M214 190h0M160 79h0M195 169h0M203 167h0M125 124h0M249 58h0M105 48h0M241 87h0M244 92h0M151 21h0M282 90h0M242 217h0"/><path stroke="#a05a3a" stroke-width="4.0" stroke-opacity="0.8" stroke-linecap="round" d="M17 93h0M255 189h0M114 14h0M116 201h0M282 233h0M179 88h0M204 18h0M264 74h0M128 60h0M250 148h0M230 10h0M298 83h0M112 143h0M40 91h0M136 168h0M124 91h0M105 101h0M293 74h0M208 66h0M256 7h0M255 190h0M193 194h0M269 9h0M207 39h0M171 206h0M132 115h0M95 240h0M84 148h0M70 225h0M223 108h0M266 196h0M246 65h0M112 102h0M199 59h0M8 183h0M212 203h0M172 99h0M10 148h0M112 85h0M131 81h0M298 105h0M201 218h0M144 32h0M226 116h0M241 201h0M253 1h0M146 98h0M226 147h0M92 133h0M282 65h0M39 10h0M265 198h0M195 92h0M141 69h0M141 179h0M108 128h0M165 21h0M292 95h0M110 156h0M158 117h0M222 21h0M180 83h0M295 147h0M151 135h0M193 195h0M104 147h0M117 174h0M16 161h0M249 161h0M158 79h0M233 178h0M251 180h0M275 128h0M40 168h0M279 191h0M124 172h0M117 218h0M25 112h0M176 191h0M98 110h0M288 189h0M175 239h0M37 112h0M209 216h0M257 104h0M257 156h0M102 39h0M207 69h0M274 63h0M255 164h0M160 153h0M149 68h0M209 10h0M211 150h0M242 158h0M279 200h0M54 199h0M92 111h0M113 119h0M289 73h0M185 88h0M274 164h0M92 149h0M118 137h0M190 208h0M309 164h0M215 89h0M151 130h0M210 193h0M6 36h0M277 143h0M198 176h0M256 202h0M307 101h0M267 107h0M137 187h0M148 167h0M138 134h0M121 20h0M131 145h0M292 102h0M165 52h0M158 190h0M106 26h0M302 13h0M105 230h0M251 147h0M232 116h0M108 22h0M79 139h0M12 160h0M74 78h0M160 158h0M152 17h0M134 179h0M114 90h0M132 65h0M97 133h0M165 208h0M283 188h0M124 94h0M204 99h0M23 13h0M245 187h0M279 94h0M294 127h0M140 141h0M101 87h0M276 196h0M172 178h0M74 55h0M255 69h0M66 217h0M228 58h0M118 55h0M304 106h0M241 225h0M138 55h0M139 56h0M200 20h0M194 79h0M168 162h0M195 63h0M215 57h0M256 100h0M78 77h0M254 172h0M226 193h0M150 82h0M90 80h0M133 53h0M144 138h0M112 222h0M220 43h0M272 141h0M282 1h0M307 53h0M206 202h0M142 178h0M274 176h0M245 99h0M306 56h0M203 191h0M94 53h0M117 63h0M139 85h0M242 165h0M248 160h0M122 233h0M116 63h0M140 64h0M250 186h0M37 72h0M130 177h0M69 76h0M261 68h0"/><path stroke="#8a3420" stroke-width="4.0" stroke-opacity="0.8" stroke-linecap="round" d="M79 78h0M160 172h0M255 51h0M229 130h0M113 98h0M218 168h0M282 134h0M132 165h0M243 50h0M15 47h0M278 9h0M229 31h0M292 131h0M251 122h0M93 222h0M66 77h0M169 213h0M223 106h0M294 168h0M259 220h0M163 165h0M212 142h0M121 175h0M275 53h0M110 95h0M170 71h0M115 202h0M132 84h0M58 74h0M168 104h0M143 156h0M110 132h0M255 113h0M227 173h0M272 75h0M163 22h0M26 178h0M139 27h0M227 160h0M232 213h0M309 238h0M281 108h0M248 164h0M211 142h0M203 220h0M275 109h0M219 211h0M112 19h0M253 233h0M120 169h0M220 172h0M190 209h0M40 109h0M256 226h0M175 81h0M131 101h0M273 179h0M138 184h0M138 81h0M108 49h0M209 138h0M148 165h0M111 208h0M233 181h0M249 5h0M232 213h0M219 1h0M159 234h0M183 239h0M200 202h0M90 241h0M126 62h0M156 104h0M199 99h0M261 174h0M81 239h0M245 104h0M105 151h0M169 234h0M301 114h0M179 0h0M275 141h0M261 115h0M151 242h0M284 239h0M39 98h0M122 100h0M80 150h0M148 101h0M240 12h0M116 114h0M130 137h0M271 117h0M182 82h0M269 204h0M128 78h0M132 143h0M46 85h0M190 92h0M185 82h0M142 242h0M116 88h0M295 112h0M248 68h0M19 176h0M244 53h0M146 187h0M87 133h0M126 48h0M162 188h0M240 97h0M233 58h0M118 193h0M256 214h0M78 48h0M118 156h0M49 241h0M194 223h0M164 145h0M205 204h0M241 21h0M102 81h0M4 147h0M210 77h0M262 54h0M93 93h0M309 83h0M20 50h0M218 51h0M243 96h0M152 116h0M240 60h0M116 103h0M153 116h0M110 50h0M145 122h0M286 126h0M232 64h0M254 42h0M164 15h0M99 146h0M130 143h0M107 42h0M258 59h0M165 139h0M33 168h0M142 105h0M143 68h0M185 202h0M92 22h0M178 204h0M228 200h0M224 200h0M223 197h0M242 24h0M31 14h0M174 166h0M27 35h0M264 7h0M304 57h0M260 161h0M234 214h0M156 241h0M245 135h0M230 143h0M97 239h0M125 238h0M163 171h0M92 139h0M117 106h0M186 240h0M146 36h0M73 56h0M170 206h0M164 130h0M96 108h0M169 160h0M99 64h0M231 88h0M297 143h0M97 233h0M217 5h0M207 104h0M250 183h0M40 167h0M82 13h0M222 103h0M248 105h0M131 73h0M102 121h0M219 21h0M210 66h0M254 7h0M242 203h0M218 135h0M124 114h0"/><path stroke="#7a2a1a" stroke-width="4.0" stroke-opacity="0.8" stroke-linecap="round" d="M258 142h0M260 67h0M273 4h0M88 214h0M184 67h0M10 154h0M220 173h0M115 61h0M117 232h0M90 10h0M227 154h0M131 168h0M104 235h0M250 117h0M265 225h0M42 183h0M216 161h0M91 72h0M225 34h0M263 183h0M288 240h0M110 141h0M274 147h0M302 68h0M255 1h0M199 159h0M100 17h0M106 84h0M217 160h0M147 188h0M1 90h0M239 185h0M142 83h0M195 78h0M288 123h0M35 186h0M269 147h0M295 218h0M199 142h0M299 153h0M212 5h0M155 240h0M107 125h0M72 3h0M192 223h0M136 35h0M268 112h0M25 69h0M283 201h0M154 121h0M178 87h0M172 96h0M277 90h0M106 102h0M184 178h0M43 69h0M82 65h0M169 156h0M37 187h0M126 158h0M293 61h0M240 25h0M214 49h0M144 154h0M286 217h0M111 71h0M56 142h0M83 25h0M285 4h0M132 99h0M189 158h0M241 84h0M116 118h0M116 237h0M90 41h0M85 47h0M127 49h0M236 152h0M229 41h0M59 201h0M246 180h0M207 121h0M103 11h0M65 233h0M253 130h0M126 172h0M242 102h0M207 218h0M207 140h0M102 118h0M253 241h0M29 61h0M269 155h0M122 17h0M178 206h0M63 200h0M309 226h0M30 59h0M109 213h0M72 212h0M124 197h0M289 187h0M290 132h0M50 222h0M265 129h0M130 78h0M282 158h0M111 71h0M286 236h0M216 36h0M149 120h0M11 147h0M134 181h0M212 97h0M261 220h0M129 154h0M255 115h0M199 211h0M284 134h0M6 20h0M256 195h0M212 92h0M67 7h0M203 86h0M129 53h0M301 151h0M105 11h0M242 81h0M229 107h0M286 199h0M148 179h0M120 106h0M96 149h0M105 23h0M180 193h0M122 65h0M141 135h0M117 119h0M27 63h0M214 75h0M225 35h0M35 72h0M117 7h0M274 203h0M144 170h0M161 49h0M233 172h0M187 205h0M82 24h0M149 34h0M302 228h0M99 141h0M18 41h0"/><path stroke="#e6d6e0" stroke-width="4.4" stroke-opacity="0.7" stroke-linecap="round" d="M84 219h0M62 206h0M283 57h0M309 54h0M91 142h0M216 120h0M227 70h0M290 66h0M168 208h0M204 125h0M85 66h0M139 168h0M133 175h0M264 16h0M295 8h0M232 202h0M195 70h0M83 214h0M199 52h0M154 150h0M196 164h0M270 219h0M195 191h0M241 54h0M296 165h0M144 19h0M259 133h0M246 54h0M184 151h0M119 65h0M243 42h0M229 140h0M120 48h0M100 142h0M169 221h0M257 156h0M261 33h0M306 3h0M138 114h0M266 114h0M274 164h0M175 66h0M289 198h0M249 170h0M126 237h0M170 171h0M110 109h0M76 46h0M96 239h0M284 174h0M256 28h0M267 131h0M241 138h0M205 205h0M294 59h0M85 21h0M227 193h0M193 72h0M265 24h0M199 197h0M236 141h0M152 31h0M237 211h0M184 157h0M219 105h0M109 118h0M185 207h0M163 47h0M273 126h0M270 127h0M155 174h0M274 222h0M217 203h0M229 154h0M289 187h0M124 155h0M70 201h0M170 174h0M8 88h0M252 68h0M127 189h0M218 125h0M164 152h0M81 237h0M225 154h0M251 150h0M135 85h0M295 111h0M163 155h0M269 22h0M187 9h0M153 61h0M147 138h0M274 131h0M183 214h0M275 55h0M298 149h0M55 210h0M110 158h0M110 141h0M3 184h0M174 212h0M213 76h0M224 138h0M31 7h0M289 167h0M257 11h0M96 15h0M110 112h0M125 191h0M293 118h0M97 100h0M69 145h0M257 123h0M257 193h0M182 73h0M66 219h0M60 216h0M297 234h0M14 178h0M259 59h0M120 50h0M72 63h0M224 186h0M260 20h0M159 140h0M306 77h0M104 33h0M200 85h0M156 66h0M160 50h0M122 176h0M118 225h0M155 32h0M125 130h0M295 99h0M119 167h0M268 174h0M84 50h0M297 77h0M149 60h0M146 171h0M159 155h0M152 61h0M152 75h0M152 159h0M47 0h0M79 14h0M304 73h0M219 81h0M51 3h0M66 3h0M253 217h0M231 103h0M139 110h0M72 73h0M5 84h0M112 209h0M82 141h0M133 125h0M235 2h0M102 233h0M90 53h0M185 188h0M76 81h0M133 34h0M258 1h0M280 144h0M201 79h0M203 66h0M113 110h0M242 20h0M149 153h0"/></g></g><g filter="url(#sb5)"><ellipse cx="3" cy="3" rx="8.0" ry="6.0" fill="#edefef"/><ellipse cx="9" cy="12.7" rx="6.0" ry="6.0" fill="#edefef"/><ellipse cx="28" cy="17" rx="10.0" ry="15.7" fill="#edefef"/><ellipse cx="4" cy="30.7" rx="8.0" ry="8.0" fill="#edefef"/><ellipse cx="14" cy="47" rx="5.2" ry="6.7" fill="#edefef"/><ellipse cx="32" cy="55" rx="11.7" ry="15.7" fill="#edefef"/><ellipse cx="3" cy="57.7" rx="8.0" ry="12.7" fill="#edefef"/><ellipse cx="15" cy="71" rx="9.0" ry="12.7" fill="#edefef"/><ellipse cx="30.3" cy="86" rx="9.3" ry="13.8" fill="#edefef"/><ellipse cx="47.6" cy="91.5" rx="10.0" ry="15.7" fill="#edefef"/><ellipse cx="11" cy="107" rx="13.5" ry="15.0" fill="#edefef"/><ellipse cx="71" cy="107" rx="11.0" ry="13.0" fill="#edefef"/><ellipse cx="91" cy="18" rx="9.7" ry="13.7" fill="#edefef"/><ellipse cx="76" cy="2" rx="10.0" ry="6.0" fill="#edefef"/><ellipse cx="145" cy="17.5" rx="10.5" ry="11.7" fill="#edefef"/><ellipse cx="128" cy="42" rx="6.0" ry="6.0" fill="#edefef"/><ellipse cx="143" cy="40.5" rx="4.0" ry="4.0" fill="#edefef"/><ellipse cx="91.6" cy="60.7" rx="10.0" ry="12.7" fill="#edefef"/><ellipse cx="154" cy="66" rx="6.0" ry="9.0" fill="#edefef"/><ellipse cx="153" cy="98" rx="6.0" ry="10.0" fill="#edefef"/><ellipse cx="109" cy="118" rx="13.0" ry="9.0" fill="#edefef"/><ellipse cx="1" cy="84" rx="3.0" ry="5.0" fill="#edefef"/></g></svg>
<svg class="ihc" style="left:357px;top:705px" width="155" height="121" viewBox="0 0 155 121"><defs><filter id="bl6" x="-50%" y="-50%" width="200%" height="200%"><feGaussianBlur stdDeviation="5"/></filter><filter id="sb6" x="-20%" y="-20%" width="140%" height="140%"><feGaussianBlur stdDeviation="0.5"/></filter><filter id="db6" x="-5%" y="-5%" width="110%" height="110%"><feGaussianBlur stdDeviation="0.45"/></filter></defs><rect width="155" height="121" fill="#c0b2e0"/><g filter="url(#bl6)"><ellipse cx="30" cy="70" rx="15" ry="15" fill="#dcd8f0" fill-opacity="0.7"/><ellipse cx="10" cy="25" rx="10" ry="15" fill="#e0dcf2" fill-opacity="0.7"/></g><g filter="url(#db6)"><g transform="scale(0.5)"><path stroke="#6a52c4" stroke-width="4.0" stroke-opacity="0.8" stroke-linecap="round" d="M16 85h0M107 123h0M112 29h0M95 185h0M25 230h0M34 133h0M160 127h0M104 156h0M51 176h0M42 46h0M136 150h0M73 46h0M223 33h0M1 31h0M119 108h0M194 92h0M155 4h0M79 108h0M176 126h0M174 121h0M125 196h0M55 208h0M32 50h0M51 113h0M173 68h0M294 171h0M240 103h0M167 173h0M127 30h0M268 216h0M90 110h0M87 237h0M228 71h0M233 150h0M102 187h0M277 124h0M297 95h0M176 80h0M142 17h0M278 3h0M49 156h0M289 53h0M252 191h0M278 134h0M279 130h0M186 169h0M283 8h0M65 138h0M190 97h0M115 45h0M184 97h0M141 58h0M114 241h0M73 93h0M98 35h0M291 145h0M255 62h0M125 204h0M278 127h0M178 40h0M67 51h0M178 110h0M210 49h0M182 67h0M150 104h0M290 53h0M246 185h0M169 147h0M137 89h0M48 105h0M133 151h0M275 191h0M67 144h0M310 86h0M80 56h0M79 183h0M24 41h0M20 63h0M214 7h0M66 124h0M145 29h0M148 17h0M91 25h0M145 17h0M98 116h0M41 112h0M128 101h0M96 205h0M31 9h0M73 166h0M234 40h0M278 65h0M166 7h0M46 137h0M51 106h0M77 188h0M68 151h0M132 71h0M143 195h0M151 63h0M292 72h0M159 125h0M126 93h0M207 39h0M279 123h0M246 213h0M10 79h0M276 115h0M157 59h0M128 65h0M31 3h0M83 201h0M277 78h0M57 106h0M212 169h0M98 242h0M232 7h0M66 131h0M280 195h0M12 28h0M8 2h0M166 219h0M300 110h0M16 207h0M70 136h0M255 126h0M205 24h0M49 99h0M53 222h0M101 28h0M82 7h0M89 30h0M10 114h0M81 131h0M12 175h0M107 46h0M111 182h0M157 180h0M298 186h0M1 37h0M74 13h0M89 143h0M48 171h0M178 207h0M281 87h0M65 120h0M84 93h0M30 7h0M54 135h0M38 101h0M52 101h0M93 89h0M35 204h0M42 119h0M104 20h0M12 7h0M122 58h0M9 203h0M309 209h0M3 240h0M57 70h0M54 35h0M97 97h0M17 6h0M112 44h0M75 131h0M236 232h0M260 208h0M158 88h0M309 135h0M130 151h0M60 31h0M194 88h0M191 73h0M174 167h0M242 211h0M79 32h0M67 105h0M237 98h0M144 63h0M205 54h0M33 109h0M135 151h0M79 104h0M6 95h0M221 69h0M147 110h0M52 187h0M34 13h0M227 13h0M22 15h0M88 65h0M305 76h0M138 89h0M184 167h0M94 205h0M249 123h0M189 96h0M122 104h0M229 104h0M169 189h0M170 170h0M288 92h0M179 178h0M280 9h0M109 217h0M306 64h0M74 160h0M285 108h0M96 230h0M268 187h0M19 7h0M8 1h0M190 30h0M53 77h0M153 224h0M299 38h0M178 32h0M63 186h0M282 34h0M98 186h0M82 8h0M159 81h0M14 230h0M114 190h0M160 149h0M277 195h0M126 101h0M85 45h0M307 115h0M95 78h0M62 187h0M93 127h0M293 184h0M238 213h0M259 140h0M269 208h0M68 237h0M141 66h0M166 58h0M119 129h0M84 17h0M60 82h0M88 29h0M69 121h0M155 14h0M284 223h0M301 78h0M139 162h0M72 9h0M121 1h0M176 37h0M63 151h0M159 227h0M190 30h0M98 95h0M45 59h0M116 207h0M290 233h0M13 24h0M171 180h0M306 77h0M111 58h0M129 73h0M179 3h0M66 5h0M181 181h0M274 118h0M194 79h0M37 114h0M138 121h0M196 100h0M281 192h0M167 94h0M246 64h0M101 156h0M233 226h0M9 91h0M86 18h0M124 179h0M194 37h0M99 33h0M47 18h0M19 185h0M48 172h0M118 48h0M204 174h0M235 94h0M188 18h0M34 205h0M191 82h0M285 116h0M207 87h0M209 104h0M141 212h0M91 208h0M110 194h0M150 47h0M17 112h0M165 225h0M161 234h0M8 181h0M119 129h0M267 223h0M251 133h0M31 195h0M125 17h0M151 200h0M42 80h0M13 207h0M253 157h0M146 60h0M150 139h0M62 205h0M297 75h0M9 186h0M282 221h0M208 48h0M211 36h0M70 70h0M184 125h0M165 206h0M48 20h0M110 130h0M171 186h0M228 9h0M102 83h0M110 204h0M159 86h0M285 174h0M157 35h0M304 177h0M6 164h0M303 237h0M292 102h0M134 207h0M282 182h0M16 217h0M144 165h0M274 235h0M25 167h0M255 207h0M308 109h0M73 203h0M253 152h0M278 158h0M309 88h0M280 239h0M78 48h0M3 89h0M236 235h0M133 51h0M307 234h0M168 130h0M198 172h0M124 107h0M102 10h0M47 119h0M178 156h0M9 155h0M181 180h0M307 101h0M76 192h0M57 18h0M106 99h0M169 102h0M308 133h0M123 74h0M71 236h0M250 149h0M242 212h0M16 66h0M267 114h0M25 220h0M138 92h0M310 223h0M30 227h0M29 225h0M184 123h0M198 36h0M87 128h0M39 122h0M167 140h0M123 147h0M186 141h0M51 102h0M79 131h0M159 136h0M4 20h0M120 194h0M212 87h0M113 209h0M270 64h0M191 78h0M79 108h0M186 116h0M301 212h0M283 185h0M234 139h0M136 143h0M146 231h0M119 183h0M169 19h0M76 1h0M18 161h0M140 29h0M243 239h0M7 149h0M184 76h0M84 57h0M157 136h0M268 237h0M286 79h0M266 114h0M279 179h0M1 109h0M271 76h0M309 86h0M93 34h0M11 36h0M281 161h0M303 184h0M85 164h0M14 221h0M201 115h0M299 198h0M209 60h0M39 16h0M8 165h0M126 201h0M28 229h0M11 162h0M42 223h0M156 24h0M54 190h0M281 221h0M251 125h0M53 187h0M78 51h0M75 182h0M176 92h0"/><path stroke="#7a62d0" stroke-width="4.0" stroke-opacity="0.8" stroke-linecap="round" d="M90 109h0M3 125h0M286 59h0M7 152h0M37 125h0M81 128h0M4 187h0M276 42h0M163 170h0M212 6h0M122 86h0M153 201h0M106 216h0M113 104h0M115 182h0M284 213h0M284 63h0M135 190h0M124 235h0M302 228h0M59 11h0M79 143h0M280 233h0M287 167h0M46 226h0M186 73h0M197 144h0M61 35h0M80 29h0M164 13h0M100 6h0M80 192h0M35 8h0M265 102h0M148 101h0M235 78h0M101 36h0M283 40h0M58 230h0M285 56h0M59 106h0M175 88h0M141 206h0M241 114h0M266 146h0M95 60h0M267 128h0M246 130h0M157 226h0M222 40h0M242 166h0M289 108h0M87 186h0M237 108h0M67 98h0M24 191h0M179 78h0M71 238h0M64 136h0M216 75h0M240 5h0M124 51h0M129 43h0M280 160h0M153 221h0M2 37h0M51 179h0M202 32h0M88 142h0M61 165h0M282 209h0M28 50h0M241 7h0M277 5h0M211 35h0M298 69h0M66 94h0M289 180h0M21 221h0M259 241h0M46 99h0M114 147h0M76 30h0M68 146h0M66 117h0M11 89h0M199 136h0M292 81h0M107 187h0M80 35h0M247 176h0M188 76h0M213 76h0M67 114h0M114 116h0M50 89h0M278 32h0M261 132h0M273 131h0M276 236h0M110 92h0M140 34h0M147 143h0M114 88h0M158 21h0M168 15h0M196 171h0M118 118h0M106 114h0M108 37h0M145 28h0M147 67h0M162 175h0M140 105h0M254 113h0M227 43h0M15 23h0M91 88h0M12 41h0M209 72h0M159 6h0M13 187h0M214 53h0M35 116h0M186 157h0M199 134h0M236 100h0M21 38h0M290 1h0M256 239h0M86 82h0M51 64h0M116 237h0M45 88h0M127 70h0M81 8h0M110 191h0M231 85h0M293 34h0M222 68h0M95 232h0M76 136h0M296 77h0M109 146h0M115 13h0M171 155h0M190 81h0M258 60h0M155 71h0M296 108h0M286 25h0M92 78h0M152 190h0M109 104h0M127 91h0M196 166h0M165 224h0M278 58h0M291 212h0M308 82h0M251 134h0M292 226h0M32 242h0M247 221h0M48 59h0M200 41h0M151 153h0M14 209h0M16 197h0M35 129h0M267 61h0M49 107h0M146 190h0M97 130h0M249 115h0M108 10h0M236 238h0M128 15h0M62 180h0M89 50h0M58 147h0M88 181h0M190 128h0M65 105h0M160 154h0M70 170h0M202 24h0M10 90h0M197 67h0M150 75h0M256 1h0M133 53h0M294 181h0M158 109h0M146 42h0M187 162h0M168 68h0M212 39h0M16 183h0M188 112h0M281 58h0M140 27h0M171 182h0M49 71h0M288 239h0M122 98h0M188 116h0M196 117h0M102 94h0M211 84h0M11 240h0M181 207h0M283 58h0M64 55h0M181 144h0M302 129h0M248 179h0M87 62h0M27 52h0M172 133h0M10 181h0M244 131h0M146 185h0M22 226h0M268 202h0M278 98h0M82 73h0M217 72h0M6 15h0M285 210h0M289 114h0M194 102h0M278 79h0M180 88h0M5 234h0M288 115h0M281 228h0M51 69h0M74 32h0M42 119h0M118 234h0M229 42h0M162 41h0M212 85h0M156 204h0M55 182h0M20 36h0M99 93h0M41 228h0M171 238h0M252 242h0M179 36h0M116 46h0M212 28h0M13 169h0M60 183h0M286 93h0M123 35h0M145 35h0M186 31h0M78 237h0M227 30h0M17 117h0M72 115h0M199 120h0M22 233h0M276 139h0M22 238h0M72 235h0M83 48h0M199 117h0M48 97h0M90 99h0M47 237h0M88 231h0M271 60h0M101 29h0M22 56h0M190 75h0M223 14h0M296 91h0M162 63h0M304 140h0M281 222h0M277 91h0M193 100h0M72 51h0M19 176h0M275 6h0M221 47h0M139 15h0M279 117h0M143 108h0M286 92h0M75 136h0M13 205h0M237 28h0M123 28h0M112 23h0M254 109h0M74 1h0M307 182h0M150 132h0M297 105h0M164 33h0M310 213h0M206 19h0M101 40h0M71 157h0M154 235h0M176 98h0M281 44h0M162 220h0M41 88h0M186 136h0M77 203h0M114 31h0M151 3h0M161 232h0M141 169h0M70 231h0M241 136h0M96 219h0M27 185h0M297 171h0M28 151h0M288 29h0M200 75h0M153 220h0M20 111h0M85 8h0M253 132h0M229 10h0M248 151h0M170 198h0M258 62h0M50 222h0M144 121h0M62 71h0M296 160h0M290 71h0M158 94h0M38 112h0M48 113h0M34 109h0M149 146h0M116 235h0M66 174h0M69 76h0M151 108h0M52 26h0M306 141h0M171 107h0M170 190h0M4 144h0M292 26h0M298 52h0M108 94h0M90 105h0M235 132h0M198 68h0M137 21h0M139 193h0M130 108h0M200 40h0M74 129h0M187 27h0M292 39h0M207 46h0M33 189h0M234 229h0M151 225h0M178 108h0M176 109h0M165 219h0M43 229h0M151 52h0M119 24h0M222 40h0M228 19h0M156 20h0M120 125h0M62 60h0M271 132h0M201 37h0M102 123h0M144 24h0M174 104h0M231 94h0M281 144h0M14 199h0M266 210h0M61 168h0M125 63h0M265 105h0M111 35h0M309 59h0M198 111h0M142 16h0M279 216h0M88 10h0"/><path stroke="#8a74d8" stroke-width="4.0" stroke-opacity="0.8" stroke-linecap="round" d="M224 47h0M127 96h0M109 152h0M301 174h0M277 51h0M133 108h0M177 79h0M234 27h0M42 202h0M4 194h0M110 14h0M34 205h0M189 93h0M189 148h0M76 203h0M249 236h0M166 145h0M243 179h0M255 227h0M97 200h0M145 15h0M233 23h0M158 39h0M59 2h0M71 183h0M44 54h0M70 99h0M22 69h0M59 225h0M286 39h0M58 61h0M157 81h0M123 46h0M119 84h0M94 113h0M26 165h0M284 200h0M48 171h0M1 143h0M166 195h0M282 187h0M15 10h0M169 80h0M22 53h0M283 222h0M183 148h0M263 195h0M152 177h0M96 26h0M81 119h0M221 6h0M263 113h0M8 160h0M59 149h0M111 123h0M55 147h0M281 153h0M167 228h0M21 181h0M5 112h0M198 116h0M183 129h0M58 29h0M198 93h0M104 238h0M17 44h0M138 46h0M297 142h0M254 196h0M9 203h0M219 20h0M111 94h0M170 180h0M59 87h0M144 49h0M77 179h0M113 218h0M106 5h0M92 181h0M78 0h0M72 97h0M98 95h0M185 144h0M143 164h0M159 171h0M294 26h0M7 121h0M93 28h0M136 116h0M77 183h0M47 200h0M182 22h0M75 64h0M306 90h0M258 114h0M290 24h0M248 223h0M157 106h0M226 45h0M10 46h0M233 25h0M195 102h0M55 104h0M85 0h0M142 148h0M113 18h0M133 179h0M111 89h0M296 101h0M297 105h0M91 63h0M163 49h0M297 188h0M308 233h0M154 60h0M167 236h0M177 63h0M277 197h0M167 232h0M21 184h0M51 77h0M7 122h0M290 117h0M109 42h0M126 181h0M38 167h0M211 46h0M233 39h0M181 89h0M75 55h0M97 197h0M100 87h0M179 170h0M66 232h0M0 204h0M167 230h0M148 11h0M131 115h0M172 178h0M219 92h0M199 115h0M277 230h0M265 204h0M155 206h0M240 46h0M107 54h0M81 129h0M115 100h0M46 123h0M302 96h0M114 111h0M247 150h0M242 143h0M65 74h0M278 122h0M8 7h0M275 74h0M65 239h0M183 168h0M274 1h0M256 58h0M54 85h0M97 8h0M270 114h0M57 222h0M192 84h0M72 0h0M183 100h0M173 86h0M168 49h0M41 101h0M287 19h0M97 239h0M308 104h0M218 83h0M99 90h0M156 212h0M106 189h0M166 191h0M164 220h0M74 54h0M275 73h0M231 21h0M118 117h0M80 14h0M168 36h0M195 97h0M77 53h0M170 48h0M62 164h0M280 113h0M10 84h0M82 85h0M154 169h0M296 83h0M180 147h0M286 80h0M205 59h0M197 167h0M91 93h0M57 4h0M264 112h0M85 170h0M17 176h0M269 106h0M183 179h0M218 97h0M2 116h0M7 194h0M67 136h0M116 56h0M105 98h0M163 157h0M71 41h0M185 122h0M176 147h0M271 105h0M214 60h0M20 68h0M130 86h0M288 241h0M20 205h0M191 132h0M144 19h0M15 68h0M34 12h0M136 183h0M116 15h0M276 179h0M67 1h0M170 225h0M158 143h0M133 203h0M52 116h0M302 102h0M211 26h0M63 116h0M74 155h0M243 238h0M281 241h0M306 130h0M112 105h0M306 177h0M184 82h0M119 36h0M281 160h0M222 80h0M104 112h0M234 229h0M148 219h0M130 84h0M30 203h0M229 86h0M162 232h0M194 75h0M44 137h0M35 195h0M172 94h0M274 151h0M65 155h0M66 87h0M272 108h0M237 118h0M282 157h0M156 157h0M101 212h0M110 88h0M223 20h0M26 205h0M46 164h0M46 92h0M289 159h0M49 128h0M190 79h0M223 168h0M283 189h0M183 152h0M309 70h0M7 31h0M41 128h0M32 53h0M85 165h0M148 53h0M224 33h0M125 235h0M156 172h0M93 205h0M272 132h0M257 237h0M233 81h0M148 234h0M289 40h0M84 205h0M70 107h0M64 124h0M147 207h0M151 5h0M52 131h0M55 152h0M165 237h0M34 241h0M45 229h0M96 138h0M190 95h0M75 58h0M297 142h0M46 4h0M104 195h0M4 167h0M138 202h0M259 195h0M274 88h0M120 213h0M279 62h0M23 73h0M2 165h0M8 148h0M241 217h0M102 233h0M32 13h0M101 123h0M97 216h0M137 29h0M20 38h0M305 71h0M234 116h0M66 130h0M53 53h0M149 205h0M183 20h0M78 131h0M207 76h0M121 182h0M69 86h0M53 168h0M8 203h0M283 163h0M77 96h0M173 200h0M281 82h0M187 85h0M30 55h0M285 59h0M46 94h0M253 133h0M137 99h0M139 173h0M156 183h0M56 8h0M155 37h0M78 64h0M74 199h0M144 149h0M53 130h0M100 18h0M56 237h0M174 83h0M41 9h0M13 191h0M106 105h0M167 165h0M147 11h0M265 209h0M54 39h0M89 149h0M282 120h0M15 21h0M236 117h0M158 102h0M65 223h0M91 157h0M126 66h0M150 107h0M11 169h0M138 126h0M309 211h0"/><path stroke="#ece4f0" stroke-width="4.6" stroke-opacity="0.8" stroke-linecap="round" d="M101 185h0M166 194h0M23 156h0M177 104h0M126 123h0M144 235h0M85 86h0M160 218h0M2 90h0M144 198h0M41 10h0M236 30h0M242 116h0M143 43h0M89 191h0M256 66h0M47 3h0M25 242h0M142 54h0M5 15h0M49 21h0M290 99h0M176 74h0M102 217h0M297 77h0M73 146h0M158 108h0M89 191h0M172 79h0M246 62h0M307 138h0M187 156h0M110 86h0M108 122h0M172 139h0M1 168h0M55 62h0M228 237h0M81 36h0M117 108h0M105 129h0M108 231h0M150 165h0M235 231h0M171 111h0M250 59h0M286 89h0M247 152h0M177 202h0M161 186h0M298 95h0M305 213h0M244 240h0M66 162h0M38 236h0M173 87h0M103 32h0M279 140h0M44 108h0M194 141h0M280 198h0M5 16h0M159 241h0M120 61h0M191 27h0M79 5h0M201 108h0M154 220h0M104 3h0M102 205h0M125 184h0M303 224h0M189 103h0M30 230h0M16 203h0M244 177h0M66 210h0M148 43h0M211 28h0M148 135h0M151 28h0M154 221h0M138 68h0M76 191h0M178 192h0M19 20h0M220 74h0M151 13h0M105 81h0M268 213h0M179 130h0M77 93h0M7 8h0M302 139h0M127 33h0M137 161h0M57 213h0M261 152h0M294 95h0M272 187h0M287 48h0M69 114h0M161 241h0M4 241h0M15 112h0M65 234h0M265 109h0M293 114h0M201 141h0M285 39h0M231 100h0M205 109h0M50 234h0M58 105h0M269 97h0M257 201h0M195 88h0M158 218h0M128 84h0M246 139h0M140 239h0M139 99h0M62 45h0M109 34h0M141 131h0M20 20h0M205 169h0M76 239h0M85 6h0M106 224h0M231 228h0M77 94h0M100 191h0M8 54h0M120 96h0M61 135h0M37 124h0M11 52h0M111 148h0M72 182h0M88 107h0M7 40h0M1 121h0M136 159h0M271 70h0M126 195h0M206 87h0M201 69h0M106 101h0M45 46h0M150 219h0M189 31h0M199 135h0M289 183h0M105 208h0M284 33h0M202 92h0M65 34h0M252 224h0M31 228h0M262 128h0M78 3h0M63 166h0M237 116h0M10 114h0M207 103h0M3 241h0M252 62h0M130 45h0M269 209h0M183 88h0M179 105h0M258 144h0M94 112h0M20 47h0M309 33h0M278 203h0M60 114h0M135 94h0M266 134h0M241 135h0"/><path stroke="#e4dcf0" stroke-width="4.6" stroke-opacity="0.8" stroke-linecap="round" d="M27 66h0M295 195h0M10 93h0M170 95h0M32 80h0M289 56h0M98 220h0M20 223h0M201 176h0M155 32h0M238 209h0M60 175h0M285 60h0M204 31h0M241 160h0M69 131h0M211 90h0M65 14h0M104 220h0M278 200h0M150 32h0M289 52h0M138 44h0M157 81h0M152 59h0M63 136h0M304 116h0M6 160h0M291 195h0M292 158h0M161 60h0M188 81h0M16 3h0M301 90h0M273 154h0M18 163h0M257 59h0M97 127h0M296 56h0M296 91h0M133 114h0M236 231h0M56 205h0M119 93h0M140 235h0M306 195h0M52 231h0M78 119h0M28 186h0M170 127h0M201 23h0M86 94h0M23 83h0M239 5h0M268 109h0M98 229h0M39 82h0M51 62h0M208 27h0M219 65h0M55 178h0M119 9h0M253 119h0M241 205h0M291 59h0M178 29h0M86 199h0M76 240h0M152 187h0M296 120h0M242 125h0M163 234h0M54 226h0M46 150h0M95 39h0M181 162h0M241 5h0M62 124h0M229 112h0M61 81h0M62 85h0M9 195h0M56 2h0M172 79h0M83 199h0M297 76h0M204 239h0M228 11h0M308 241h0M167 103h0M177 145h0M51 0h0M107 27h0M225 73h0M18 79h0M47 137h0M116 236h0M110 190h0M99 211h0M40 135h0M177 22h0M20 220h0M62 58h0M187 158h0M52 41h0M118 17h0M174 197h0M277 4h0M44 138h0M7 3h0M137 79h0M250 210h0M65 38h0M202 70h0M286 222h0M162 211h0M128 154h0M222 74h0M63 152h0M7 117h0M42 153h0M308 111h0M174 98h0M225 43h0M141 148h0M147 52h0M244 55h0M286 23h0M284 29h0M171 193h0M144 214h0M93 57h0M156 185h0M155 8h0M53 120h0M281 154h0M66 200h0M309 78h0M42 52h0M125 103h0M282 63h0M22 206h0M218 61h0M43 143h0M85 50h0M46 47h0M304 47h0M22 11h0M219 34h0M46 14h0M269 211h0M209 89h0M64 214h0M38 156h0M137 56h0M151 205h0"/><path stroke="#4a2228" stroke-width="4.2" stroke-opacity="0.9" stroke-linecap="round" d="M109 85h0M92 229h0M172 63h0M154 160h0M148 145h0M191 108h0M81 49h0M67 207h0M148 52h0M41 200h0M188 32h0M173 46h0M236 126h0M20 58h0M133 41h0M102 54h0M225 66h0M245 165h0M71 56h0M25 197h0M88 181h0M60 232h0M159 91h0M238 149h0M170 89h0M258 120h0M36 192h0M163 52h0M168 62h0M190 164h0M93 197h0M54 62h0M140 42h0M183 73h0M248 143h0M296 142h0M130 80h0M158 48h0M100 207h0M183 190h0M294 168h0M290 156h0M155 57h0M61 226h0M136 43h0M107 29h0M90 66h0M69 195h0M161 25h0M156 58h0M73 90h0M222 54h0M108 196h0M186 100h0M165 194h0M90 79h0M21 210h0M41 228h0M268 127h0M151 209h0M57 57h0M295 41h0M271 61h0M150 211h0M83 79h0M25 227h0M209 20h0M2 84h0M140 30h0M232 34h0M160 59h0M183 150h0M276 138h0M132 57h0M13 212h0M63 91h0M265 128h0M187 22h0M102 185h0M239 16h0M227 26h0M109 206h0M181 14h0M190 31h0M119 23h0M221 8h0M90 192h0M181 168h0M157 66h0M155 62h0M8 116h0M100 101h0M69 194h0M148 203h0M111 50h0M215 68h0M170 120h0M57 87h0M80 202h0M166 133h0M271 129h0M81 42h0M152 124h0M111 89h0M150 102h0M56 239h0M188 124h0M139 65h0M55 41h0M129 86h0M108 81h0M165 183h0M122 62h0M119 48h0M46 64h0M284 154h0M75 234h0M24 194h0M120 92h0M250 115h0M279 31h0M13 50h0M114 26h0M90 38h0M37 204h0M127 209h0M82 241h0M181 37h0M187 101h0M271 127h0M22 71h0M135 34h0M169 73h0M102 21h0M158 207h0M186 126h0M162 185h0M198 28h0M190 133h0M209 69h0M159 196h0M154 43h0M93 101h0M166 167h0M149 66h0M68 53h0M72 77h0M106 91h0M247 140h0M129 82h0M123 192h0M136 34h0M120 201h0M19 225h0M97 88h0M262 116h0M107 24h0M280 43h0M173 100h0M32 218h0M18 56h0M237 69h0M104 36h0M187 75h0M11 90h0M19 199h0M273 135h0M177 188h0M245 146h0M156 113h0M61 219h0M102 186h0M254 119h0M135 80h0M163 133h0M73 75h0M113 57h0M272 149h0M45 72h0M161 65h0M287 39h0M153 115h0M110 30h0M280 120h0M158 127h0M94 204h0M193 141h0M123 185h0M68 51h0M99 202h0M162 30h0M27 188h0M121 39h0M204 36h0M146 56h0M239 130h0M18 229h0M285 143h0M290 59h0M118 96h0M59 78h0M185 96h0M89 65h0M23 113h0M110 33h0M123 40h0M214 41h0M144 126h0M209 34h0M195 166h0M169 118h0M164 68h0M155 30h0M171 154h0M155 107h0M174 101h0M167 106h0M66 90h0M175 195h0M67 226h0M144 67h0M244 130h0M10 118h0M224 41h0M123 55h0M88 75h0M266 147h0M236 157h0M16 67h0M94 205h0M12 78h0M17 68h0M149 61h0M14 198h0M144 214h0M189 178h0M185 121h0M202 66h0M126 31h0M284 46h0M200 72h0M216 77h0M25 117h0M175 111h0M267 155h0M16 221h0M81 87h0M130 30h0M208 73h0M106 215h0M158 161h0M221 15h0M202 36h0M127 30h0M14 76h0"/><path stroke="#3a1a22" stroke-width="4.2" stroke-opacity="0.9" stroke-linecap="round" d="M199 151h0M269 149h0M69 82h0M283 178h0M146 203h0M278 163h0M179 94h0M165 59h0M101 23h0M16 46h0M150 189h0M79 32h0M82 70h0M80 80h0M284 32h0M126 91h0M63 239h0M39 191h0M257 148h0M305 52h0M261 65h0M288 22h0M146 207h0M136 56h0M107 201h0M60 229h0M129 29h0M187 167h0M2 91h0M278 40h0M279 25h0M284 143h0M29 114h0M178 131h0M69 182h0M155 163h0M209 63h0M31 75h0M275 68h0M189 134h0M28 207h0M174 185h0M241 172h0M82 180h0M64 84h0M61 233h0M49 79h0M248 145h0M94 101h0M74 32h0M19 222h0M237 125h0M192 66h0M142 129h0M211 24h0M228 38h0M277 124h0M183 69h0M271 158h0M90 69h0M150 125h0M154 98h0M77 60h0M160 150h0M137 27h0M282 173h0M282 162h0M26 69h0M89 21h0M247 141h0M50 183h0M26 185h0M140 52h0M126 51h0M120 77h0M174 125h0M152 40h0M193 120h0M81 18h0M178 174h0M23 216h0M152 139h0M159 38h0M137 211h0M268 124h0M1 98h0M281 143h0M114 180h0M52 58h0M63 36h0M245 160h0M159 20h0M86 58h0M152 193h0M71 83h0M271 63h0M252 128h0M198 26h0M94 194h0M190 156h0M203 17h0M112 86h0M105 32h0M94 201h0M238 36h0M232 37h0M131 72h0M134 39h0M171 40h0M87 29h0M132 36h0M230 161h0M261 134h0M156 45h0M216 73h0M68 225h0M124 86h0M122 205h0M36 240h0M13 218h0M278 172h0M191 133h0M133 52h0M153 155h0M156 136h0M229 14h0M116 25h0M285 38h0M181 171h0M88 26h0M114 185h0M148 189h0M237 34h0M263 125h0M243 57h0M119 193h0M265 138h0M153 65h0M175 102h0M172 191h0M11 74h0M85 181h0M141 50h0M24 192h0M175 163h0M116 33h0M81 23h0M263 125h0M137 202h0M154 113h0M268 150h0M157 190h0M217 48h0M293 45h0M79 54h0M161 69h0M81 42h0M195 133h0M126 36h0M131 41h0M95 235h0M288 44h0M252 67h0M116 199h0M103 97h0M122 206h0M277 129h0M172 165h0M225 18h0M10 53h0M68 187h0M285 171h0M166 129h0M112 20h0M245 132h0M98 27h0M2 93h0M42 202h0M281 59h0M158 158h0M91 76h0M121 24h0M156 207h0M152 50h0M126 204h0M260 62h0M173 23h0M110 181h0M32 195h0M160 69h0M38 231h0M279 67h0M71 58h0M123 52h0M65 67h0M98 44h0M161 50h0M235 74h0M254 140h0M222 168h0M240 136h0M154 43h0M282 52h0M115 21h0M202 34h0M54 234h0M148 152h0M194 152h0M285 170h0M12 42h0M113 80h0M187 20h0M75 68h0M27 200h0M127 95h0M127 193h0M112 41h0M295 150h0M218 76h0M76 176h0M158 137h0M124 46h0M107 44h0M6 125h0M143 51h0M238 31h0M253 130h0M177 33h0M92 77h0M108 84h0M142 204h0M155 69h0M43 50h0M281 173h0M15 213h0M250 133h0M10 54h0M276 68h0M49 201h0M171 104h0M175 154h0M101 214h0M87 54h0M111 91h0M187 170h0M182 91h0M261 65h0M193 105h0M52 196h0M110 18h0M16 214h0M67 227h0M264 133h0M105 103h0M100 200h0M280 52h0M164 127h0M162 187h0M70 178h0M108 214h0M36 236h0M189 24h0M113 193h0M32 196h0M158 120h0"/><path stroke="#2a1218" stroke-width="4.2" stroke-opacity="0.9" stroke-linecap="round" d="M60 70h0M253 155h0M129 41h0M158 166h0M35 209h0M154 33h0M159 63h0M169 94h0M299 44h0M186 71h0M188 147h0M194 132h0M195 128h0M173 129h0M146 204h0M178 171h0M108 198h0M261 116h0M244 118h0M68 33h0M81 42h0M283 44h0M32 80h0M195 166h0M273 55h0M93 209h0M218 78h0M208 61h0M280 18h0M115 178h0M107 195h0M168 89h0M278 29h0M223 30h0M297 168h0M267 138h0M144 122h0M119 189h0M199 22h0M4 114h0M62 200h0M166 90h0M115 30h0M238 127h0M166 29h0M59 242h0M61 79h0M140 74h0M80 180h0M35 239h0M5 95h0M27 69h0M68 57h0M271 62h0M84 85h0M286 59h0M80 52h0M75 45h0M140 28h0M150 55h0M128 38h0M116 79h0M87 102h0M216 44h0M273 70h0M136 68h0M288 157h0M61 78h0M297 31h0M55 69h0M167 167h0M168 113h0M137 203h0M284 143h0M228 37h0M36 239h0M184 187h0M144 69h0M151 139h0M221 29h0M292 154h0M194 77h0M167 54h0M180 148h0M154 41h0M64 185h0M173 34h0M225 32h0M47 58h0M308 47h0M282 172h0M59 87h0M109 94h0M230 11h0M151 123h0M45 195h0M144 46h0M199 145h0M93 86h0M130 61h0M219 68h0M202 39h0M45 238h0M289 163h0M166 31h0M150 153h0M301 138h0M296 56h0M16 200h0M149 147h0M57 87h0M102 197h0M269 53h0M252 184h0M132 39h0M305 52h0M207 64h0M150 126h0M173 160h0M117 98h0M28 84h0M63 214h0M73 67h0M153 132h0M11 110h0M301 146h0M301 52h0M139 51h0M100 221h0M220 14h0M52 80h0M175 95h0M101 216h0M20 81h0M172 150h0M26 61h0M222 49h0M240 67h0M95 86h0M132 63h0M3 55h0M152 204h0M11 120h0M58 201h0M74 83h0M22 50h0M179 88h0M152 66h0M163 160h0M57 79h0M236 121h0M74 61h0M140 192h0M182 169h0M100 32h0M143 196h0M151 97h0M238 164h0M153 204h0M68 48h0M10 105h0M47 193h0M270 125h0M8 78h0M28 234h0M66 57h0M197 151h0M216 75h0M273 50h0M274 66h0M75 55h0M19 76h0M42 197h0M183 106h0M83 91h0M259 61h0M105 99h0M128 87h0M233 136h0M174 26h0M129 58h0M235 19h0M19 46h0M290 63h0M114 18h0M41 241h0M59 43h0M197 123h0M85 189h0M182 171h0M122 38h0M162 162h0M61 61h0M117 187h0M24 213h0M224 41h0M63 74h0M93 95h0M183 22h0M174 126h0M160 129h0M56 60h0M23 233h0M60 179h0M142 194h0M267 156h0M146 24h0M237 149h0M125 178h0M125 185h0M30 191h0M113 83h0M160 36h0M159 111h0M13 53h0M148 113h0M91 189h0M192 132h0M19 220h0M289 36h0M266 122h0M132 43h0M107 81h0M101 189h0M294 55h0M84 91h0M71 71h0M151 127h0M50 226h0M56 70h0M201 62h0M233 72h0M116 84h0M280 21h0M258 65h0M278 156h0M48 199h0M94 57h0M37 242h0M132 27h0M158 99h0M69 210h0M79 26h0M280 178h0M199 67h0M107 41h0M254 115h0M303 45h0"/><path stroke="#4a2228" stroke-width="4.0" stroke-opacity="0.8" stroke-linecap="round" d="M163 59h0M9 239h0M125 193h0M25 77h0M308 178h0M45 48h0M167 134h0M130 67h0M306 93h0M80 136h0M159 163h0M124 111h0M37 49h0M86 91h0M141 51h0M103 48h0M310 203h0M303 128h0M142 98h0M47 84h0M282 224h0M58 101h0M192 101h0M270 132h0M126 24h0M143 207h0M165 27h0M155 241h0M286 61h0M27 59h0M62 73h0M29 164h0M141 107h0M7 20h0M125 72h0M251 219h0M169 111h0M52 31h0M159 170h0M134 39h0M71 4h0M49 130h0M4 157h0M138 79h0M293 25h0M87 33h0M145 199h0M251 104h0M261 155h0M82 42h0M19 5h0M202 18h0M218 39h0M168 41h0M56 101h0M16 2h0M122 119h0M19 12h0M292 111h0M67 237h0M180 120h0M64 174h0M160 22h0M157 154h0M290 35h0M148 114h0M169 10h0M202 147h0M156 10h0M57 150h0M119 132h0"/><path stroke="#2a1218" stroke-width="4.0" stroke-opacity="0.8" stroke-linecap="round" d="M233 166h0M75 194h0M62 176h0M12 107h0M301 208h0M278 63h0M46 57h0M160 144h0M120 79h0M242 110h0M99 195h0M288 18h0M214 82h0M118 34h0M62 36h0M103 24h0M54 138h0M168 158h0M78 0h0M55 63h0M287 221h0M259 107h0M57 152h0M52 113h0M300 37h0M173 90h0M170 111h0M278 159h0M233 78h0M160 160h0M239 98h0M275 113h0M223 42h0M178 100h0M119 128h0M179 111h0M231 39h0M168 45h0M63 58h0M274 227h0M117 12h0M300 199h0M297 82h0M280 3h0M58 77h0M143 218h0M121 122h0M285 107h0M75 83h0M99 50h0M269 241h0M145 234h0M18 1h0M298 102h0M291 238h0M185 141h0M62 68h0M157 127h0M89 36h0M119 110h0M85 188h0M46 91h0M75 121h0M152 241h0M289 0h0M17 64h0M110 218h0M53 150h0M301 50h0M35 146h0M183 184h0M120 2h0"/></g></g><g filter="url(#sb6)"><ellipse cx="17" cy="15" rx="7.0" ry="7.0" fill="#edefef"/><ellipse cx="18" cy="31.5" rx="4.5" ry="4.5" fill="#edefef"/><ellipse cx="12" cy="49" rx="6.5" ry="6.5" fill="#edefef"/><ellipse cx="9.7" cy="67.7" rx="7.0" ry="8.7" fill="#edefef"/><ellipse cx="53" cy="34.5" rx="7.0" ry="5.5" fill="#edefef"/><ellipse cx="65" cy="66.7" rx="5.0" ry="5.0" fill="#edefef"/><ellipse cx="51" cy="84.7" rx="7.5" ry="6.7" fill="#edefef"/><ellipse cx="62" cy="82.5" rx="5.5" ry="5.5" fill="#edefef"/><ellipse cx="41" cy="76.5" rx="3.5" ry="3.0" fill="#edefef"/><ellipse cx="19.5" cy="89" rx="5.0" ry="5.0" fill="#edefef"/><ellipse cx="40.5" cy="109.5" rx="6.5" ry="6.5" fill="#edefef"/><ellipse cx="2" cy="111" rx="4.0" ry="6.0" fill="#edefef"/><ellipse cx="22.5" cy="105.7" rx="4.0" ry="4.0" fill="#edefef"/><ellipse cx="64.5" cy="111" rx="6.0" ry="6.0" fill="#edefef"/><ellipse cx="50" cy="72" rx="3.5" ry="3.0" fill="#edefef"/><ellipse cx="73" cy="43" rx="4.0" ry="6.0" fill="#edefef"/><ellipse cx="66" cy="3" rx="6.0" ry="4.0" fill="#edefef"/><ellipse cx="33" cy="12" rx="4.0" ry="4.0" fill="#edefef"/><ellipse cx="3" cy="33" rx="4.0" ry="5.0" fill="#edefef"/><ellipse cx="98" cy="4" rx="8.0" ry="5.0" fill="#edefef"/><ellipse cx="94" cy="26" rx="8.2" ry="6.7" fill="#edefef"/><ellipse cx="116" cy="27.7" rx="4.5" ry="6.7" fill="#edefef"/><ellipse cx="128.7" cy="15" rx="9.7" ry="14.0" fill="#edefef"/><ellipse cx="126.7" cy="42.3" rx="9.3" ry="8.7" fill="#edefef"/><ellipse cx="108.5" cy="66.7" rx="7.5" ry="17.0" fill="#edefef"/><ellipse cx="145" cy="65" rx="5.5" ry="5.5" fill="#edefef"/><ellipse cx="131" cy="85.5" rx="7.5" ry="7.5" fill="#edefef"/><ellipse cx="108" cy="97" rx="15.0" ry="11.0" transform="rotate(-15 108 97)" fill="#edefef"/><ellipse cx="95" cy="112" rx="9.0" ry="9.5" fill="#edefef"/><ellipse cx="108" cy="114" rx="7.0" ry="7.0" fill="#edefef"/><ellipse cx="81.5" cy="58.5" rx="2.5" ry="3.0" fill="#edefef"/><ellipse cx="150" cy="5" rx="6.0" ry="5.0" fill="#edefef"/><ellipse cx="153" cy="80" rx="4.0" ry="8.0" fill="#edefef"/></g></svg>
</body></html>
